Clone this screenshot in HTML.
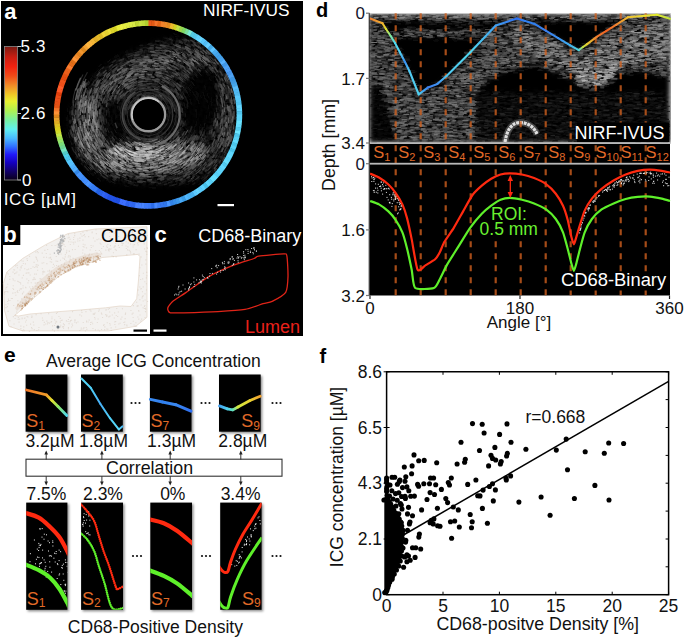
<!DOCTYPE html><html><head><meta charset="utf-8"><style>html,body{margin:0;padding:0;background:#fff;}svg{display:block;}</style></head><body><svg width="685" height="638" viewBox="0 0 685 638"><defs><linearGradient id="cbar" x1="0" y1="0" x2="0" y2="1"><stop offset="0" stop-color="#7a1a12"/><stop offset="0.08" stop-color="#c81e12"/><stop offset="0.15" stop-color="#f02210"/><stop offset="0.22" stop-color="#f04a18"/><stop offset="0.29" stop-color="#f08a28"/><stop offset="0.36" stop-color="#f0c828"/><stop offset="0.41" stop-color="#e8f030"/><stop offset="0.48" stop-color="#b0f050"/><stop offset="0.55" stop-color="#78f0a0"/><stop offset="0.62" stop-color="#60f0f0"/><stop offset="0.69" stop-color="#48b8ff"/><stop offset="0.75" stop-color="#3070ff"/><stop offset="0.81" stop-color="#2018f8"/><stop offset="0.87" stop-color="#1400c0"/><stop offset="0.93" stop-color="#120070"/><stop offset="1" stop-color="#0a0018"/></linearGradient><filter id="spk" x="0" y="0" width="1" height="1">
 <feTurbulence type="fractalNoise" baseFrequency="0.55 0.55" numOctaves="1" seed="3" result="n"/>
 <feColorMatrix in="n" type="matrix" values="0 0 0 0 0  0 0 0 0 0  0 0 0 0 0  4 0 0 0 -1.6" result="na"/>
 <feComposite in="SourceGraphic" in2="na" operator="in"/>
</filter>
<filter id="spkh" x="0" y="0" width="1" height="1">
 <feTurbulence type="fractalNoise" baseFrequency="0.35 0.7" numOctaves="1" seed="5" result="n"/>
 <feColorMatrix in="n" type="matrix" values="0 0 0 0 0  0 0 0 0 0  0 0 0 0 0  4 0 0 0 -1.6" result="na"/>
 <feComposite in="SourceGraphic" in2="na" operator="in"/>
</filter>
<filter id="ivtex" color-interpolation-filters="sRGB" filterUnits="userSpaceOnUse" x="54" y="20" width="190" height="190">
 <feGaussianBlur in="SourceGraphic" stdDeviation="3.5" result="b"/>
 <feTurbulence type="fractalNoise" baseFrequency="0.3" numOctaves="2" seed="3" result="n"/>
 <feColorMatrix in="n" type="matrix" values="2.4 0 0 0 -0.7  2.4 0 0 0 -0.7  2.4 0 0 0 -0.7  0 0 0 0 1" result="ng"/>
 <feComposite in="b" in2="ng" operator="arithmetic" k1="1" k2="0" k3="0" k4="0"/>
</filter>
<filter id="dtex" color-interpolation-filters="sRGB" filterUnits="userSpaceOnUse" x="369" y="13" width="302" height="131">
 <feGaussianBlur in="SourceGraphic" stdDeviation="2.5" result="b"/>
 <feTurbulence type="fractalNoise" baseFrequency="0.18 0.4" numOctaves="2" seed="11" result="n"/>
 <feColorMatrix in="n" type="matrix" values="3 0 0 0 -1  3 0 0 0 -1  3 0 0 0 -1  0 0 0 0 1" result="ng"/>
 <feComposite in="b" in2="ng" operator="arithmetic" k1="1" k2="0" k3="0" k4="0"/>
</filter>
<filter id="sblur" x="-10%" y="-10%" width="120%" height="120%"><feGaussianBlur stdDeviation="0.5"/></filter>
<filter id="blur3"><feGaussianBlur stdDeviation="3"/></filter>
<filter id="blur6"><feGaussianBlur stdDeviation="6"/></filter>
<filter id="shadow" x="-20%" y="-20%" width="140%" height="140%"><feDropShadow dx="1.5" dy="1.5" stdDeviation="1.2" flood-color="#000" flood-opacity="0.45"/></filter>
<clipPath id="dclip"><rect x="369.5" y="13" width="300.5" height="130"/></clipPath>
<clipPath id="ivus"><circle cx="148" cy="114.5" r="88.6"/></clipPath>
</defs><rect x="0" y="0" width="685" height="638" fill="#fff"/><rect x="1" y="1" width="302" height="335" fill="#000"/><g clip-path="url(#ivus)"><g filter="url(#ivtex)"><rect x="40" y="6" width="216" height="216" fill="#000"/><path d="M98.0 74.0 L120.0 59.0 L148.0 46.0 L170.0 40.0 L195.0 38.0 L212.0 46.0 L225.0 60.0 L234.0 82.0 L238.0 115.0 L235.0 150.0 L222.0 170.0 L200.0 179.0 L170.0 183.0 L140.0 183.0 L110.0 179.0 L90.0 169.0 L76.0 152.0 L70.0 128.0 L72.0 110.0 L84.0 92.0Z" fill="#242424"/><path d="M92 90 L118 70 L150 56 L185 50 L212 58 L220 68 L185 66 L160 71 L130 83 L105 100Z" fill="#373737"/><ellipse cx="87" cy="127" rx="11" ry="30" fill="#484848"/><ellipse cx="150" cy="157" rx="58" ry="15" transform="rotate(-4 150 157)" fill="#4e4e4e"/><ellipse cx="140" cy="152" rx="30" ry="8" fill="#5f5f5f"/><ellipse cx="228" cy="108" rx="9" ry="40" fill="#323232"/><ellipse cx="201" cy="101" rx="19" ry="34" transform="rotate(10 201 101)" fill="#040404"/><ellipse cx="116" cy="122" rx="12" ry="21" fill="#080808"/><ellipse cx="153" cy="123" rx="26" ry="17" fill="#0e0e0e"/></g><g filter="url(#sblur)"><path d="M92.1 108.5A60.0 60.0 0 0 1 93.5 99.1" fill="none" stroke="#8e8e8e" stroke-width="1.0" opacity="0.54"/><path d="M77.2 121.5A75.4 75.4 0 0 1 76.6 111.0" fill="none" stroke="#737373" stroke-width="0.8" opacity="0.41"/><path d="M93.8 151.0A70.0 70.0 0 0 1 87.8 139.9" fill="none" stroke="#737373" stroke-width="1.0" opacity="0.31"/><path d="M72.5 103.2A79.9 79.9 0 0 1 75.7 88.2" fill="none" stroke="#9d9d9d" stroke-width="0.8" opacity="0.40"/><path d="M93.8 147.0A67.9 67.9 0 0 1 87.9 134.6" fill="none" stroke="#828282" stroke-width="0.9" opacity="0.55"/><path d="M95.8 94.1A59.0 59.0 0 0 1 98.7 86.8" fill="none" stroke="#969696" stroke-width="1.1" opacity="0.45"/><path d="M102.9 147.4A60.5 60.5 0 0 1 97.1 137.4" fill="none" stroke="#737373" stroke-width="1.4" opacity="0.36"/><path d="M75.7 90.6A79.3 79.3 0 0 1 80.6 77.7" fill="none" stroke="#adadad" stroke-width="1.3" opacity="0.52"/><path d="M93.9 121.6A58.9 58.9 0 0 1 93.1 110.8" fill="none" stroke="#707070" stroke-width="1.5" opacity="0.57"/><path d="M88.7 130.2A65.8 65.8 0 0 1 86.9 121.7" fill="none" stroke="#848484" stroke-width="1.6" opacity="0.42"/><path d="M104.2 142.4A56.6 56.6 0 0 1 99.7 133.8" fill="none" stroke="#c7c7c7" stroke-width="1.2" opacity="0.45"/><path d="M83.3 103.7A69.2 69.2 0 0 1 84.5 96.8" fill="none" stroke="#9c9c9c" stroke-width="1.2" opacity="0.49"/><path d="M98.6 140.1A60.3 60.3 0 0 1 95.7 133.6" fill="none" stroke="#bfbfbf" stroke-width="1.1" opacity="0.48"/><path d="M98.2 145.4A63.4 63.4 0 0 1 95.7 141.0" fill="none" stroke="#b3b3b3" stroke-width="1.4" opacity="0.41"/><path d="M79.7 108.8A72.4 72.4 0 0 1 81.7 94.8" fill="none" stroke="#c3c3c3" stroke-width="1.1" opacity="0.60"/><path d="M73.0 115.5A79.1 79.1 0 0 1 73.8 100.3" fill="none" stroke="#909090" stroke-width="1.1" opacity="0.37"/><path d="M84.2 148.5A77.0 77.0 0 0 1 81.5 143.0" fill="none" stroke="#b2b2b2" stroke-width="1.4" opacity="0.44"/><path d="M89.6 155.5A76.1 76.1 0 0 1 85.3 148.7" fill="none" stroke="#797979" stroke-width="1.1" opacity="0.35"/><path d="M97.1 129.5A57.7 57.7 0 0 1 94.7 118.5" fill="none" stroke="#c6c6c6" stroke-width="1.4" opacity="0.44"/><path d="M93.5 91.3A62.1 62.1 0 0 1 97.1 83.1" fill="none" stroke="#aaaaaa" stroke-width="0.8" opacity="0.36"/><path d="M77.0 99.2A76.1 76.1 0 0 1 80.8 85.0" fill="none" stroke="#9c9c9c" stroke-width="1.1" opacity="0.47"/><path d="M80.0 137.5A76.4 76.4 0 0 1 77.1 126.9" fill="none" stroke="#787878" stroke-width="1.4" opacity="0.30"/><path d="M83.6 88.1A72.4 72.4 0 0 1 85.5 83.2" fill="none" stroke="#9b9b9b" stroke-width="1.3" opacity="0.56"/><path d="M87.3 138.9A70.0 70.0 0 0 1 84.5 130.5" fill="none" stroke="#c3c3c3" stroke-width="1.5" opacity="0.34"/><path d="M102.8 143.2A58.3 58.3 0 0 1 100.6 139.5" fill="none" stroke="#8b8b8b" stroke-width="0.9" opacity="0.56"/><path d="M90.1 148.3A71.7 71.7 0 0 1 85.5 139.0" fill="none" stroke="#7d7d7d" stroke-width="1.2" opacity="0.37"/><path d="M98.5 139.2A60.0 60.0 0 0 1 95.6 132.5" fill="none" stroke="#a8a8a8" stroke-width="1.2" opacity="0.31"/><path d="M81.2 93.8A73.1 73.1 0 0 1 85.6 81.6" fill="none" stroke="#b0b0b0" stroke-width="0.8" opacity="0.44"/><path d="M95.0 104.2A57.5 57.5 0 0 1 96.0 98.8" fill="none" stroke="#a8a8a8" stroke-width="1.0" opacity="0.51"/><path d="M100.3 148.9A63.5 63.5 0 0 1 96.1 142.2" fill="none" stroke="#7c7c7c" stroke-width="1.5" opacity="0.39"/><path d="M84.2 118.0A68.1 68.1 0 0 1 84.4 104.2" fill="none" stroke="#646464" stroke-width="1.3" opacity="0.45"/><path d="M82.8 86.8A73.6 73.6 0 0 1 86.1 79.1" fill="none" stroke="#a6a6a6" stroke-width="1.2" opacity="0.47"/><path d="M95.5 101.1A57.5 57.5 0 0 1 98.9 89.8" fill="none" stroke="#818181" stroke-width="1.1" opacity="0.60"/><path d="M103.1 144.3A58.6 58.6 0 0 1 100.7 140.3" fill="none" stroke="#b3b3b3" stroke-width="1.4" opacity="0.43"/><path d="M95.2 154.5A70.9 70.9 0 0 1 89.2 144.9" fill="none" stroke="#8a8a8a" stroke-width="1.2" opacity="0.42"/><path d="M92.3 139.2A65.6 65.6 0 0 1 90.4 134.5" fill="none" stroke="#898989" stroke-width="1.0" opacity="0.51"/><path d="M76.7 104.9A75.6 75.6 0 0 1 78.3 94.9" fill="none" stroke="#747474" stroke-width="1.1" opacity="0.45"/><path d="M85.0 87.9A71.2 71.2 0 0 1 87.2 82.5" fill="none" stroke="#8e8e8e" stroke-width="1.2" opacity="0.52"/><path d="M75.5 100.2A77.4 77.4 0 0 1 78.3 88.4" fill="none" stroke="#adadad" stroke-width="1.3" opacity="0.56"/><path d="M79.3 108.2A72.8 72.8 0 0 1 80.1 100.7" fill="none" stroke="#bebebe" stroke-width="1.1" opacity="0.48"/><path d="M80.7 86.3A75.8 75.8 0 0 1 87.5 72.1" fill="none" stroke="#5a5a5a" stroke-width="1.1" opacity="0.39"/><path d="M95.0 144.0A65.4 65.4 0 0 1 90.9 135.3" fill="none" stroke="#626262" stroke-width="1.0" opacity="0.58"/><path d="M79.4 125.1A73.8 73.8 0 0 1 78.5 118.9" fill="none" stroke="#c3c3c3" stroke-width="1.4" opacity="0.36"/><path d="M88.0 111.4A64.0 64.0 0 0 1 88.9 100.9" fill="none" stroke="#767676" stroke-width="1.6" opacity="0.40"/><path d="M91.4 98.3A62.1 62.1 0 0 1 92.9 92.9" fill="none" stroke="#a4a4a4" stroke-width="1.0" opacity="0.48"/><path d="M91.6 128.5A62.7 62.7 0 0 1 89.5 116.1" fill="none" stroke="#8d8d8d" stroke-width="1.1" opacity="0.49"/><path d="M96.4 141.0A62.7 62.7 0 0 1 93.2 133.9" fill="none" stroke="#777777" stroke-width="1.0" opacity="0.59"/><path d="M96.1 101.5A56.8 56.8 0 0 1 99.4 90.6" fill="none" stroke="#a7a7a7" stroke-width="0.8" opacity="0.45"/><path d="M95.1 113.5A56.9 56.9 0 0 1 95.6 104.0" fill="none" stroke="#747474" stroke-width="0.8" opacity="0.46"/><path d="M97.1 131.4A58.3 58.3 0 0 1 95.0 123.9" fill="none" stroke="#bcbcbc" stroke-width="1.1" opacity="0.34"/><path d="M78.5 97.3A75.0 75.0 0 0 1 81.3 86.9" fill="none" stroke="#5f5f5f" stroke-width="1.0" opacity="0.42"/><path d="M89.0 140.7A69.2 69.2 0 0 1 84.8 128.8" fill="none" stroke="#b6b6b6" stroke-width="1.5" opacity="0.57"/><path d="M95.7 115.0A56.4 56.4 0 0 1 95.6 110.5" fill="none" stroke="#bcbcbc" stroke-width="1.4" opacity="0.53"/><path d="M102.1 146.2A60.5 60.5 0 0 1 96.7 136.5" fill="none" stroke="#9c9c9c" stroke-width="1.3" opacity="0.44"/><path d="M80.4 134.9A75.2 75.2 0 0 1 78.3 127.1" fill="none" stroke="#808080" stroke-width="1.0" opacity="0.49"/><path d="M87.7 155.0A77.4 77.4 0 0 1 84.5 149.7" fill="none" stroke="#929292" stroke-width="1.3" opacity="0.36"/><path d="M100.5 147.4A62.5 62.5 0 0 1 98.0 143.4" fill="none" stroke="#909090" stroke-width="1.3" opacity="0.50"/><path d="M101.2 143.5A59.8 59.8 0 0 1 95.9 132.8" fill="none" stroke="#959595" stroke-width="1.1" opacity="0.51"/><path d="M79.0 120.3A73.5 73.5 0 0 1 78.6 114.4" fill="none" stroke="#b5b5b5" stroke-width="1.0" opacity="0.31"/><path d="M87.9 118.8A64.5 64.5 0 0 1 87.6 108.7" fill="none" stroke="#6d6d6d" stroke-width="1.4" opacity="0.45"/><path d="M93.7 98.5A59.9 59.9 0 0 1 97.1 88.1" fill="none" stroke="#bdbdbd" stroke-width="1.3" opacity="0.37"/><path d="M80.3 91.2A74.7 74.7 0 0 1 84.0 81.1" fill="none" stroke="#bdbdbd" stroke-width="1.6" opacity="0.42"/><path d="M77.3 87.4A78.6 78.6 0 0 1 83.0 74.4" fill="none" stroke="#5b5b5b" stroke-width="1.1" opacity="0.48"/><path d="M82.0 103.0A70.6 70.6 0 0 1 84.3 91.9" fill="none" stroke="#6b6b6b" stroke-width="1.5" opacity="0.46"/><path d="M82.4 145.3A77.2 77.2 0 0 1 77.0 130.2" fill="none" stroke="#979797" stroke-width="1.4" opacity="0.52"/><path d="M77.9 133.6A77.2 77.2 0 0 1 76.4 127.5" fill="none" stroke="#868686" stroke-width="0.9" opacity="0.46"/><path d="M79.5 133.2A75.6 75.6 0 0 1 77.9 126.7" fill="none" stroke="#5c5c5c" stroke-width="1.1" opacity="0.47"/><path d="M95.4 110.1A56.6 56.6 0 0 1 95.9 104.5" fill="none" stroke="#656565" stroke-width="1.5" opacity="0.46"/><path d="M75.1 121.7A77.5 77.5 0 0 1 74.6 114.9" fill="none" stroke="#747474" stroke-width="1.1" opacity="0.49"/><path d="M78.1 102.8A74.5 74.5 0 0 1 80.5 91.1" fill="none" stroke="#757575" stroke-width="1.1" opacity="0.41"/><path d="M89.2 137.5A67.7 67.7 0 0 1 86.2 128.1" fill="none" stroke="#8c8c8c" stroke-width="0.8" opacity="0.55"/><path d="M83.0 99.6A70.1 70.1 0 0 1 86.2 88.0" fill="none" stroke="#aaaaaa" stroke-width="1.6" opacity="0.41"/><path d="M100.3 152.1A65.4 65.4 0 0 1 94.5 143.2" fill="none" stroke="#999999" stroke-width="1.3" opacity="0.60"/><path d="M96.7 137.1A60.7 60.7 0 0 1 93.2 127.2" fill="none" stroke="#b3b3b3" stroke-width="1.2" opacity="0.32"/><path d="M88.4 99.0A64.9 64.9 0 0 1 90.9 90.3" fill="none" stroke="#8c8c8c" stroke-width="1.1" opacity="0.49"/><path d="M81.8 107.6A70.4 70.4 0 0 1 83.9 94.4" fill="none" stroke="#acacac" stroke-width="1.1" opacity="0.38"/><path d="M78.3 99.6A74.8 74.8 0 0 1 82.2 85.2" fill="none" stroke="#6f6f6f" stroke-width="1.5" opacity="0.57"/><path d="M97.5 131.3A57.9 57.9 0 0 1 95.1 122.5" fill="none" stroke="#6a6a6a" stroke-width="1.5" opacity="0.38"/><path d="M84.1 137.1A72.4 72.4 0 0 1 81.9 130.1" fill="none" stroke="#707070" stroke-width="1.2" opacity="0.51"/><path d="M90.9 108.6A61.2 61.2 0 0 1 91.7 101.5" fill="none" stroke="#a1a1a1" stroke-width="1.1" opacity="0.36"/><path d="M103.1 145.7A59.4 59.4 0 0 1 98.2 137.1" fill="none" stroke="#878787" stroke-width="0.9" opacity="0.56"/><path d="M94.5 154.9A71.7 71.7 0 0 1 88.1 144.5" fill="none" stroke="#9b9b9b" stroke-width="1.2" opacity="0.45"/><path d="M75.8 133.2A79.1 79.1 0 0 1 73.4 120.9" fill="none" stroke="#9f9f9f" stroke-width="1.1" opacity="0.40"/><path d="M77.9 111.8A74.1 74.1 0 0 1 78.6 101.9" fill="none" stroke="#929292" stroke-width="1.0" opacity="0.54"/><path d="M95.5 111.4A56.5 56.5 0 0 1 96.1 103.9" fill="none" stroke="#727272" stroke-width="1.3" opacity="0.47"/><path d="M94.6 120.7A58.1 58.1 0 0 1 94.0 115.3" fill="none" stroke="#b1b1b1" stroke-width="1.1" opacity="0.40"/><path d="M102.0 147.2A61.2 61.2 0 0 1 98.8 142.2" fill="none" stroke="#6a6a6a" stroke-width="1.3" opacity="0.55"/><path d="M99.6 143.8A61.3 61.3 0 0 1 95.6 136.0" fill="none" stroke="#666666" stroke-width="1.1" opacity="0.53"/><path d="M91.3 107.8A60.9 60.9 0 0 1 92.5 99.0" fill="none" stroke="#636363" stroke-width="1.0" opacity="0.48"/><path d="M99.5 137.4A58.3 58.3 0 0 1 96.3 129.2" fill="none" stroke="#b3b3b3" stroke-width="1.2" opacity="0.50"/><path d="M165.9 142.4A34.3 34.3 0 0 1 163.1 143.7" fill="none" stroke="#b4b4b4" stroke-width="1.1" opacity="0.45"/><path d="M150.1 147.0A35.0 35.0 0 0 1 144.5 146.6" fill="none" stroke="#a4a4a4" stroke-width="1.2" opacity="0.30"/><path d="M202.9 144.0A61.8 61.8 0 0 1 196.7 152.5" fill="none" stroke="#a5a5a5" stroke-width="1.3" opacity="0.38"/><path d="M164.8 148.0A38.9 38.9 0 0 1 159.8 149.7" fill="none" stroke="#989898" stroke-width="1.1" opacity="0.45"/><path d="M167.7 142.9A35.6 35.6 0 0 1 165.7 144.0" fill="none" stroke="#737373" stroke-width="1.4" opacity="0.44"/><path d="M167.4 146.3A38.5 38.5 0 0 1 165.1 147.4" fill="none" stroke="#989898" stroke-width="1.1" opacity="0.31"/><path d="M114.8 140.4A45.2 45.2 0 0 1 112.0 136.6" fill="none" stroke="#9b9b9b" stroke-width="1.2" opacity="0.37"/><path d="M166.6 159.9A50.7 50.7 0 0 1 162.8 161.0" fill="none" stroke="#868686" stroke-width="1.0" opacity="0.33"/><path d="M116.5 133.1A39.6 39.6 0 0 1 114.5 129.5" fill="none" stroke="#666666" stroke-width="0.8" opacity="0.30"/><path d="M173.3 167.3A60.1 60.1 0 0 1 165.7 170.0" fill="none" stroke="#696969" stroke-width="1.3" opacity="0.36"/><path d="M146.1 168.0A56.1 56.1 0 0 1 140.6 167.3" fill="none" stroke="#6e6e6e" stroke-width="1.2" opacity="0.46"/><path d="M152.7 166.7A54.7 54.7 0 0 1 147.6 166.7" fill="none" stroke="#b2b2b2" stroke-width="1.4" opacity="0.29"/><path d="M116.5 154.8A54.4 54.4 0 0 1 111.0 149.9" fill="none" stroke="#bababa" stroke-width="1.4" opacity="0.31"/><path d="M176.1 170.3A63.9 63.9 0 0 1 170.2 172.6" fill="none" stroke="#bbbbbb" stroke-width="0.9" opacity="0.35"/><path d="M177.8 156.9A52.8 52.8 0 0 1 173.9 159.1" fill="none" stroke="#a7a7a7" stroke-width="1.2" opacity="0.44"/><path d="M104.5 147.4A57.7 57.7 0 0 1 99.4 139.7" fill="none" stroke="#aaaaaa" stroke-width="1.5" opacity="0.37"/><path d="M148.1 167.0A55.0 55.0 0 0 1 138.8 165.9" fill="none" stroke="#989898" stroke-width="1.1" opacity="0.42"/><path d="M183.7 138.5A42.8 42.8 0 0 1 180.9 141.7" fill="none" stroke="#5f5f5f" stroke-width="0.8" opacity="0.27"/><path d="M121.4 150.1A47.6 47.6 0 0 1 119.3 148.4" fill="none" stroke="#969696" stroke-width="0.9" opacity="0.38"/><path d="M155.6 154.5A42.9 42.9 0 0 1 149.7 154.9" fill="none" stroke="#7d7d7d" stroke-width="1.1" opacity="0.43"/><path d="M163.5 147.0A37.5 37.5 0 0 1 158.6 148.5" fill="none" stroke="#ababab" stroke-width="1.5" opacity="0.31"/><path d="M173.3 159.3A52.8 52.8 0 0 1 166.6 162.1" fill="none" stroke="#adadad" stroke-width="0.9" opacity="0.34"/><path d="M171.9 170.1A62.1 62.1 0 0 1 164.2 172.4" fill="none" stroke="#aaaaaa" stroke-width="1.0" opacity="0.45"/><path d="M163.0 143.5A34.1 34.1 0 0 1 160.6 144.4" fill="none" stroke="#767676" stroke-width="0.9" opacity="0.26"/><path d="M191.6 152.6A58.1 58.1 0 0 1 186.3 157.3" fill="none" stroke="#8c8c8c" stroke-width="1.4" opacity="0.46"/><path d="M188.1 148.3A52.6 52.6 0 0 1 182.4 153.5" fill="none" stroke="#5a5a5a" stroke-width="1.5" opacity="0.33"/><path d="M176.5 144.0A41.6 41.6 0 0 1 173.2 146.5" fill="none" stroke="#a7a7a7" stroke-width="1.4" opacity="0.44"/><path d="M182.7 157.3A55.9 55.9 0 0 1 178.4 160.1" fill="none" stroke="#717171" stroke-width="1.1" opacity="0.47"/><path d="M204.3 145.6A63.9 63.9 0 0 1 197.9 154.3" fill="none" stroke="#b5b5b5" stroke-width="1.1" opacity="0.42"/><path d="M189.9 153.5A57.5 57.5 0 0 1 184.2 158.2" fill="none" stroke="#bbbbbb" stroke-width="1.4" opacity="0.48"/><path d="M131.7 143.6A36.5 36.5 0 0 1 128.3 141.4" fill="none" stroke="#b4b4b4" stroke-width="0.9" opacity="0.39"/><path d="M124.5 139.7A37.6 37.6 0 0 1 120.9 135.8" fill="none" stroke="#535353" stroke-width="1.0" opacity="0.29"/><path d="M133.4 162.4A53.1 53.1 0 0 1 130.4 161.3" fill="none" stroke="#b8b8b8" stroke-width="1.5" opacity="0.36"/><path d="M166.8 160.4A51.2 51.2 0 0 1 160.5 162.1" fill="none" stroke="#7b7b7b" stroke-width="1.1" opacity="0.44"/><path d="M168.7 146.9A39.6 39.6 0 0 1 163.5 149.2" fill="none" stroke="#686868" stroke-width="0.8" opacity="0.48"/><path d="M158.4 149.9A38.8 38.8 0 0 1 154.9 150.5" fill="none" stroke="#6c6c6c" stroke-width="1.0" opacity="0.38"/><path d="M147.0 149.4A37.5 37.5 0 0 1 144.8 149.1" fill="none" stroke="#585858" stroke-width="0.9" opacity="0.31"/><path d="M171.6 150.6A44.2 44.2 0 0 1 165.4 153.5" fill="none" stroke="#989898" stroke-width="1.1" opacity="0.44"/><path d="M173.8 161.1A54.6 54.6 0 0 1 167.3 163.7" fill="none" stroke="#a1a1a1" stroke-width="1.2" opacity="0.44"/><path d="M104.2 138.6A53.0 53.0 0 0 1 102.1 134.6" fill="none" stroke="#999999" stroke-width="1.5" opacity="0.38"/><path d="M201.1 145.5A61.2 61.2 0 0 1 195.9 152.4" fill="none" stroke="#6d6d6d" stroke-width="1.3" opacity="0.36"/><path d="M178.9 152.9A50.1 50.1 0 0 1 175.3 155.2" fill="none" stroke="#afafaf" stroke-width="1.3" opacity="0.41"/><path d="M168.1 144.8A37.5 37.5 0 0 1 162.3 147.4" fill="none" stroke="#666666" stroke-width="1.2" opacity="0.42"/><path d="M143.5 160.9A49.3 49.3 0 0 1 135.3 159.1" fill="none" stroke="#a5a5a5" stroke-width="1.0" opacity="0.36"/><path d="M129.8 154.0A46.6 46.6 0 0 1 124.3 150.9" fill="none" stroke="#6c6c6c" stroke-width="1.3" opacity="0.36"/><path d="M166.8 142.1A34.5 34.5 0 0 1 163.7 143.6" fill="none" stroke="#656565" stroke-width="1.3" opacity="0.50"/><path d="M130.7 170.9A61.9 61.9 0 0 1 121.7 167.1" fill="none" stroke="#868686" stroke-width="1.2" opacity="0.47"/><path d="M161.8 145.8A35.8 35.8 0 0 1 158.5 146.8" fill="none" stroke="#757575" stroke-width="1.1" opacity="0.26"/><path d="M101.2 135.9A54.4 54.4 0 0 1 99.4 131.8" fill="none" stroke="#646464" stroke-width="1.0" opacity="0.45"/><path d="M124.9 144.2A40.8 40.8 0 0 1 122.6 142.3" fill="none" stroke="#919191" stroke-width="1.3" opacity="0.42"/><path d="M117.2 128.1A36.5 36.5 0 0 1 115.1 122.8" fill="none" stroke="#848484" stroke-width="1.4" opacity="0.40"/><path d="M159.7 149.8A39.1 39.1 0 0 1 153.9 150.9" fill="none" stroke="#838383" stroke-width="0.8" opacity="0.29"/><path d="M141.7 150.7A39.6 39.6 0 0 1 136.8 149.3" fill="none" stroke="#818181" stroke-width="1.1" opacity="0.49"/><path d="M131.9 152.4A44.3 44.3 0 0 1 128.9 150.9" fill="none" stroke="#888888" stroke-width="0.9" opacity="0.28"/><path d="M185.6 138.0A44.1 44.1 0 0 1 182.9 141.4" fill="none" stroke="#979797" stroke-width="1.2" opacity="0.45"/><path d="M191.1 137.4A48.3 48.3 0 0 1 187.1 143.0" fill="none" stroke="#7c7c7c" stroke-width="1.3" opacity="0.49"/><path d="M178.5 152.8A49.7 49.7 0 0 1 174.4 155.3" fill="none" stroke="#868686" stroke-width="1.0" opacity="0.28"/><path d="M132.9 154.6A46.0 46.0 0 0 1 126.6 151.6" fill="none" stroke="#a3a3a3" stroke-width="1.4" opacity="0.45"/><path d="M134.0 155.5A46.3 46.3 0 0 1 131.5 154.5" fill="none" stroke="#a7a7a7" stroke-width="1.3" opacity="0.32"/><path d="M175.5 152.9A48.2 48.2 0 0 1 169.1 156.2" fill="none" stroke="#7e7e7e" stroke-width="1.3" opacity="0.48"/><path d="M166.6 166.9A57.3 57.3 0 0 1 161.3 168.2" fill="none" stroke="#b8b8b8" stroke-width="1.4" opacity="0.30"/><path d="M121.0 146.2A44.9 44.9 0 0 1 116.3 141.7" fill="none" stroke="#6f6f6f" stroke-width="1.1" opacity="0.49"/><path d="M169.3 143.3A36.7 36.7 0 0 1 164.9 145.5" fill="none" stroke="#b3b3b3" stroke-width="1.5" opacity="0.37"/><path d="M97.2 135.4A57.7 57.7 0 0 1 95.3 130.4" fill="none" stroke="#696969" stroke-width="1.0" opacity="0.45"/><path d="M145.7 149.9A38.2 38.2 0 0 1 139.4 148.7" fill="none" stroke="#666666" stroke-width="1.2" opacity="0.38"/><path d="M147.9 175.0A63.0 63.0 0 0 1 140.9 174.3" fill="none" stroke="#b3b3b3" stroke-width="1.3" opacity="0.29"/><path d="M164.2 168.4A58.1 58.1 0 0 1 154.4 169.9" fill="none" stroke="#b9b9b9" stroke-width="1.1" opacity="0.35"/><path d="M171.2 146.9A40.8 40.8 0 0 1 168.5 148.4" fill="none" stroke="#626262" stroke-width="1.3" opacity="0.26"/><path d="M137.7 162.5A52.0 52.0 0 0 1 130.7 160.2" fill="none" stroke="#8e8e8e" stroke-width="1.4" opacity="0.32"/><path d="M142.6 148.0A36.8 36.8 0 0 1 139.6 147.3" fill="none" stroke="#bcbcbc" stroke-width="1.4" opacity="0.42"/><path d="M184.5 159.9A59.0 59.0 0 0 1 179.0 163.4" fill="none" stroke="#7a7a7a" stroke-width="1.0" opacity="0.34"/><path d="M132.2 157.0A48.3 48.3 0 0 1 129.8 155.9" fill="none" stroke="#8b8b8b" stroke-width="0.9" opacity="0.49"/><path d="M139.1 161.4A50.6 50.6 0 0 1 134.6 160.2" fill="none" stroke="#9d9d9d" stroke-width="1.3" opacity="0.48"/><path d="M177.4 155.5A51.4 51.4 0 0 1 171.6 158.7" fill="none" stroke="#555555" stroke-width="1.3" opacity="0.33"/><path d="M193.5 146.6A55.6 55.6 0 0 1 188.9 151.7" fill="none" stroke="#626262" stroke-width="0.8" opacity="0.32"/><path d="M166.0 169.3A59.5 59.5 0 0 1 159.2 170.7" fill="none" stroke="#a6a6a6" stroke-width="1.5" opacity="0.31"/><path d="M115.2 154.3A54.8 54.8 0 0 1 109.3 148.7" fill="none" stroke="#767676" stroke-width="1.1" opacity="0.45"/><path d="M151.4 153.5A41.5 41.5 0 0 1 146.1 153.3" fill="none" stroke="#adadad" stroke-width="1.0" opacity="0.42"/><path d="M180.1 139.1A40.5 40.5 0 0 1 176.9 142.3" fill="none" stroke="#979797" stroke-width="1.2" opacity="0.49"/><path d="M147.1 150.8A38.9 38.9 0 0 1 142.8 150.3" fill="none" stroke="#6c6c6c" stroke-width="1.4" opacity="0.29"/><path d="M187.7 130.1A41.8 41.8 0 0 1 185.0 134.9" fill="none" stroke="#989898" stroke-width="1.0" opacity="0.48"/><path d="M185.3 151.6A53.0 53.0 0 0 1 178.3 156.9" fill="none" stroke="#adadad" stroke-width="1.0" opacity="0.47"/><path d="M163.8 147.3A37.9 37.9 0 0 1 160.0 148.6" fill="none" stroke="#b9b9b9" stroke-width="1.0" opacity="0.35"/><path d="M121.7 140.6A40.2 40.2 0 0 1 119.6 138.4" fill="none" stroke="#adadad" stroke-width="1.0" opacity="0.39"/><path d="M182.5 162.8A60.3 60.3 0 0 1 176.4 166.2" fill="none" stroke="#959595" stroke-width="1.2" opacity="0.35"/><path d="M173.4 160.0A53.4 53.4 0 0 1 169.9 161.5" fill="none" stroke="#505050" stroke-width="1.2" opacity="0.39"/><path d="M193.1 150.8A58.0 58.0 0 0 1 187.5 156.2" fill="none" stroke="#818181" stroke-width="1.2" opacity="0.46"/><path d="M157.8 161.0A49.6 49.6 0 0 1 151.3 161.6" fill="none" stroke="#606060" stroke-width="1.4" opacity="0.38"/><path d="M151.6 147.2A35.3 35.3 0 0 1 145.7 147.0" fill="none" stroke="#bbbbbb" stroke-width="1.1" opacity="0.32"/><path d="M181.2 165.7A62.1 62.1 0 0 1 178.2 167.3" fill="none" stroke="#6b6b6b" stroke-width="1.1" opacity="0.42"/><path d="M140.1 75.8A43.3 43.3 0 0 1 145.5 74.9" fill="none" stroke="#646464" stroke-width="0.9" opacity="0.39"/><path d="M159.0 68.1A50.7 50.7 0 0 1 164.1 69.3" fill="none" stroke="#8f8f8f" stroke-width="1.1" opacity="0.45"/><path d="M162.0 61.0A58.3 58.3 0 0 1 167.9 62.5" fill="none" stroke="#7c7c7c" stroke-width="1.0" opacity="0.27"/><path d="M167.9 61.1A59.7 59.7 0 0 1 175.3 63.9" fill="none" stroke="#939393" stroke-width="1.1" opacity="0.45"/><path d="M174.7 72.9A51.5 51.5 0 0 1 177.4 74.5" fill="none" stroke="#686868" stroke-width="1.1" opacity="0.41"/><path d="M164.8 67.7A52.4 52.4 0 0 1 169.3 69.3" fill="none" stroke="#828282" stroke-width="1.3" opacity="0.37"/><path d="M155.7 76.0A42.4 42.4 0 0 1 157.9 76.3" fill="none" stroke="#616161" stroke-width="0.9" opacity="0.40"/><path d="M159.2 73.6A45.4 45.4 0 0 1 161.9 74.2" fill="none" stroke="#585858" stroke-width="1.2" opacity="0.43"/><path d="M153.7 74.7A43.4 43.4 0 0 1 157.8 75.3" fill="none" stroke="#7d7d7d" stroke-width="0.8" opacity="0.25"/><path d="M167.0 77.9A43.6 43.6 0 0 1 171.0 79.8" fill="none" stroke="#7d7d7d" stroke-width="0.9" opacity="0.39"/><path d="M127.4 62.4A60.0 60.0 0 0 1 135.0 59.9" fill="none" stroke="#929292" stroke-width="1.4" opacity="0.36"/><path d="M138.0 64.4A54.9 54.9 0 0 1 145.3 63.3" fill="none" stroke="#616161" stroke-width="1.2" opacity="0.38"/><path d="M167.2 58.7A61.8 61.8 0 0 1 170.9 59.8" fill="none" stroke="#555555" stroke-width="1.0" opacity="0.33"/><path d="M132.5 64.5A56.3 56.3 0 0 1 138.5 62.8" fill="none" stroke="#6e6e6e" stroke-width="1.0" opacity="0.38"/><path d="M174.3 73.5A50.7 50.7 0 0 1 177.2 75.2" fill="none" stroke="#969696" stroke-width="1.2" opacity="0.34"/><path d="M155.3 74.8A43.6 43.6 0 0 1 161.2 75.9" fill="none" stroke="#656565" stroke-width="1.2" opacity="0.36"/><path d="M165.6 77.1A43.8 43.8 0 0 1 169.0 78.5" fill="none" stroke="#717171" stroke-width="1.3" opacity="0.43"/><path d="M138.6 60.0A59.1 59.1 0 0 1 146.9 59.0" fill="none" stroke="#535353" stroke-width="1.1" opacity="0.34"/><path d="M162.3 60.0A59.3 59.3 0 0 1 169.2 61.9" fill="none" stroke="#8e8e8e" stroke-width="1.0" opacity="0.34"/><path d="M140.7 74.9A44.1 44.1 0 0 1 143.9 74.4" fill="none" stroke="#878787" stroke-width="0.9" opacity="0.43"/><path d="M144.4 64.3A54.0 54.0 0 0 1 147.8 64.0" fill="none" stroke="#6e6e6e" stroke-width="1.1" opacity="0.28"/><path d="M137.7 57.7A61.5 61.5 0 0 1 143.6 56.8" fill="none" stroke="#5f5f5f" stroke-width="1.0" opacity="0.31"/><path d="M120.2 67.0A59.1 59.1 0 0 1 124.9 64.5" fill="none" stroke="#7b7b7b" stroke-width="1.1" opacity="0.31"/><path d="M123.4 73.7A51.7 51.7 0 0 1 127.3 71.6" fill="none" stroke="#6d6d6d" stroke-width="1.3" opacity="0.34"/><path d="M156.6 68.1A50.3 50.3 0 0 1 160.6 68.8" fill="none" stroke="#777777" stroke-width="0.9" opacity="0.37"/><path d="M156.9 65.7A52.8 52.8 0 0 1 164.3 67.2" fill="none" stroke="#8d8d8d" stroke-width="1.4" opacity="0.30"/><path d="M143.5 57.3A61.1 61.1 0 0 1 149.1 56.9" fill="none" stroke="#6e6e6e" stroke-width="1.4" opacity="0.44"/><path d="M134.6 62.0A58.1 58.1 0 0 1 138.2 61.1" fill="none" stroke="#585858" stroke-width="1.2" opacity="0.39"/><path d="M125.3 82.4A43.3 43.3 0 0 1 131.2 79.0" fill="none" stroke="#646464" stroke-width="0.8" opacity="0.34"/><path d="M163.6 76.2A44.0 44.0 0 0 1 168.0 77.9" fill="none" stroke="#7d7d7d" stroke-width="1.4" opacity="0.27"/><path d="M162.9 73.5A46.3 46.3 0 0 1 167.9 75.3" fill="none" stroke="#6d6d6d" stroke-width="1.0" opacity="0.37"/><path d="M177.3 63.6A60.9 60.9 0 0 1 185.1 68.2" fill="none" stroke="#9e9e9e" stroke-width="0.9" opacity="0.26"/><path d="M131.0 62.6A58.6 58.6 0 0 1 137.0 60.9" fill="none" stroke="#707070" stroke-width="1.4" opacity="0.34"/><path d="M133.5 76.5A44.7 44.7 0 0 1 139.7 74.5" fill="none" stroke="#8f8f8f" stroke-width="0.9" opacity="0.44"/><path d="M160.5 69.7A49.4 49.4 0 0 1 165.8 71.2" fill="none" stroke="#939393" stroke-width="1.1" opacity="0.26"/><path d="M168.5 68.2A53.2 53.2 0 0 1 173.1 70.1" fill="none" stroke="#909090" stroke-width="1.1" opacity="0.32"/><path d="M133.1 71.8A49.2 49.2 0 0 1 138.0 70.3" fill="none" stroke="#9c9c9c" stroke-width="1.2" opacity="0.40"/><path d="M141.3 73.2A45.6 45.6 0 0 1 146.4 72.6" fill="none" stroke="#686868" stroke-width="0.8" opacity="0.42"/><path d="M156.1 73.8A44.6 44.6 0 0 1 162.8 75.3" fill="none" stroke="#606060" stroke-width="1.0" opacity="0.32"/><path d="M175.4 71.6A52.8 52.8 0 0 1 178.4 73.5" fill="none" stroke="#5c5c5c" stroke-width="1.3" opacity="0.31"/><path d="M161.4 63.8A55.3 55.3 0 0 1 164.2 64.5" fill="none" stroke="#484848" stroke-width="1.3" opacity="0.43"/><path d="M145.5 62.3A55.9 55.9 0 0 1 149.0 62.1" fill="none" stroke="#757575" stroke-width="0.9" opacity="0.31"/><path d="M148.9 75.3A42.7 42.7 0 0 1 153.2 75.4" fill="none" stroke="#5f5f5f" stroke-width="0.9" opacity="0.26"/><path d="M130.8 80.0A42.6 42.6 0 0 1 136.9 77.5" fill="none" stroke="#484848" stroke-width="1.2" opacity="0.34"/><path d="M135.9 66.1A53.8 53.8 0 0 1 144.1 64.6" fill="none" stroke="#8e8e8e" stroke-width="1.0" opacity="0.34"/><path d="M124.6 63.2A60.4 60.4 0 0 1 132.8 60.2" fill="none" stroke="#7d7d7d" stroke-width="1.1" opacity="0.36"/><path d="M123.8 71.0A53.8 53.8 0 0 1 127.6 69.1" fill="none" stroke="#656565" stroke-width="0.9" opacity="0.27"/><path d="M142.5 62.2A56.3 56.3 0 0 1 149.8 61.7" fill="none" stroke="#696969" stroke-width="1.4" opacity="0.30"/><path d="M143.2 66.2A52.2 52.2 0 0 1 150.2 65.8" fill="none" stroke="#515151" stroke-width="1.1" opacity="0.34"/><path d="M131.5 66.8A54.5 54.5 0 0 1 137.2 65.0" fill="none" stroke="#9e9e9e" stroke-width="0.9" opacity="0.44"/><path d="M143.7 57.0A61.3 61.3 0 0 1 147.4 56.7" fill="none" stroke="#727272" stroke-width="1.4" opacity="0.25"/><path d="M165.4 63.1A57.1 57.1 0 0 1 168.9 64.2" fill="none" stroke="#7c7c7c" stroke-width="0.9" opacity="0.27"/><path d="M135.9 67.5A52.4 52.4 0 0 1 142.1 66.2" fill="none" stroke="#757575" stroke-width="0.9" opacity="0.43"/><path d="M162.4 77.7A42.1 42.1 0 0 1 165.7 78.9" fill="none" stroke="#969696" stroke-width="1.2" opacity="0.34"/><path d="M166.4 74.7A46.3 46.3 0 0 1 172.3 77.4" fill="none" stroke="#9c9c9c" stroke-width="1.2" opacity="0.43"/><path d="M158.7 58.7A59.9 59.9 0 0 1 163.8 59.7" fill="none" stroke="#7c7c7c" stroke-width="1.0" opacity="0.41"/><path d="M169.3 68.6A53.1 53.1 0 0 1 176.3 71.9" fill="none" stroke="#898989" stroke-width="0.9" opacity="0.32"/><path d="M140.0 75.4A43.7 43.7 0 0 1 143.0 74.9" fill="none" stroke="#606060" stroke-width="1.3" opacity="0.27"/><path d="M175.4 63.3A60.4 60.4 0 0 1 182.5 67.1" fill="none" stroke="#5b5b5b" stroke-width="1.0" opacity="0.34"/><path d="M173.1 68.8A54.4 54.4 0 0 1 175.8 70.1" fill="none" stroke="#4d4d4d" stroke-width="1.3" opacity="0.25"/></g><g filter="url(#sblur)" fill="none" opacity="0.8" stroke-linecap="round"><path d="M108.5 184.2l-3.9 -2.4M199.8 117.8l-0.3 3.1" stroke="#000000" stroke-width="1"/><path d="M66.6 116.3l-0.0 -3.2M203.1 110.9l0.1 5.5M91.8 176.4l-3.8 -3.7M199.4 125.0l-1.3 5.0M198.7 105.0l0.7 5.1" stroke="#000000" stroke-width="1.4"/><path d="M207.0 93.3l1.5 4.6M174.8 117.0l-0.9 4.7M138.7 185.0l-2.6 -0.4M191.3 81.1l2.4 3.4M210.9 101.5l0.7 3.8M195.6 108.9l0.3 3.2M67.7 112.1l0.2 -4.3M115.2 118.5l-0.2 -3.6M211.1 97.5l1.2 5.3M95.7 72.7l3.3 -3.8M133.8 50.8l2.6 -0.5M131.4 123.9l-1.3 -2.8M188.5 88.9l2.1 3.7M204.2 70.1l2.5 3.3M215.5 94.8l0.6 2.2M195.2 125.0l-1.3 4.7M108.1 117.1l-0.0 -5.1M92.7 175.6l-2.3 -2.2M172.8 117.9l-0.4 2.1M67.1 137.5l-0.9 -3.3M113.6 137.6l-1.8 -3.0M67.3 120.2l-0.2 -5.5M158.2 185.3l-2.3 0.3M205.0 124.2l-0.7 3.6M127.5 131.3l-2.8 -4.3M200.2 127.8l-1.1 3.7M125.1 53.0l2.4 -0.9M197.6 92.1l1.4 3.4M113.4 57.1l4.4 -2.5M196.9 96.6l1.5 4.7M153.6 187.1l-4.1 0.2M187.1 92.3l2.2 4.4M196.8 113.4l-0.1 4.5M90.1 174.8l-2.9 -2.9M122.3 114.2l0.3 -3.8M118.7 107.1l1.6 -4.7M89.9 79.9l2.9 -4.6M200.7 95.7l0.8 2.3M189.6 83.8l2.9 4.4M189.3 85.6l2.1 3.3M129.3 53.6l5.2 -1.4M200.4 124.5l-0.7 3.2M112.4 125.6l-0.6 -2.4M174.9 36.4l2.3 0.8M209.6 112.4l0.0 2.9M208.6 105.7l0.4 3.5" stroke="#0e0e0e" stroke-width="1"/><path d="M203.0 92.6l1.0 2.6M204.2 85.4l1.8 3.8M115.0 136.8l-2.4 -4.1M118.1 139.8l-2.6 -3.5M196.8 121.7l-0.9 4.5M90.6 80.9l1.4 -2.4M149.6 134.0l-4.0 -0.1M125.2 51.6l2.0 -0.7M67.2 120.8l-0.2 -3.4M155.8 187.7l-3.5 0.3M192.9 91.8l1.5 3.2M209.2 77.6l1.8 3.2M195.4 95.8l1.3 3.6M190.0 99.3l1.5 5.2M88.3 170.7l-1.8 -2.0M121.9 136.0l-1.5 -1.9M110.6 182.4l-4.4 -2.6M200.6 183.1l-1.8 1.4M205.8 72.3l1.9 2.7M212.1 118.2l-0.4 4.4M206.9 100.0l0.6 2.8M183.8 118.3l-0.7 4.4M116.1 117.9l-0.2 -2.9M206.5 115.8l-0.1 2.8M196.3 109.9l0.2 2.1M214.1 86.0l1.3 3.3M173.3 33.6l2.9 0.9M198.1 100.3l0.9 3.4M112.2 122.3l-0.7 -4.8M99.1 66.6l2.2 -2.2M208.2 73.3l1.1 1.7M153.6 135.3l-2.6 0.5M109.6 63.4l4.1 -2.8M189.0 183.5l-2.0 1.2M93.3 175.0l-1.5 -1.4M204.0 95.2l1.2 3.8M126.6 128.9l-1.5 -2.5M196.0 91.6l2.0 4.8M165.6 37.7l4.7 1.2M114.7 57.8l3.7 -2.0M128.1 186.7l-3.3 -1.0M100.6 180.9l-3.0 -2.3M115.1 60.5l4.7 -2.6" stroke="#0e0e0e" stroke-width="1.4"/><path d="M219.6 94.6l0.6 2.2M204.3 177.3l-2.2 1.9M208.6 169.4l-2.8 3.0M129.8 53.9l5.2 -1.4M217.4 90.1l1.0 3.1M109.1 116.5l0.1 -5.0M204.4 178.8l-2.2 1.9M188.3 87.1l2.1 3.3M214.6 155.7l-1.1 1.7M194.8 74.5l2.4 3.0M99.3 104.2l0.7 -2.8M77.0 158.7l-1.1 -1.9M119.7 67.1l3.4 -1.9M216.6 86.7l1.5 4.0M89.2 168.5l-2.7 -3.1M128.5 58.5l3.3 -1.1M182.3 91.6l1.8 2.9M143.3 86.9l3.1 -0.4M96.0 80.3l1.3 -1.9M183.9 102.8l1.2 4.8M195.4 131.9l-0.9 2.4M107.4 62.1l2.9 -2.1M116.6 60.8l3.0 -1.7M163.7 37.8l5.1 1.2M130.0 87.9l1.8 -1.1M173.5 72.1l2.6 1.6M135.9 182.5l-2.5 -0.5M185.6 113.5l-0.0 3.0M186.9 106.0l0.5 2.4M199.9 130.6l-0.8 2.4M115.2 183.5l-4.3 -2.2M124.0 139.1l-2.0 -2.1M158.6 182.3l-5.3 0.6M126.3 139.3l-3.5 -3.6M183.1 183.0l-4.0 1.9M186.1 90.1l1.1 1.8M125.0 132.6l-2.6 -3.9M112.4 141.9l-2.7 -4.0M101.5 73.2l1.6 -1.7M152.2 183.9l-2.5 0.1M204.7 129.4l-1.5 5.0M204.8 123.2l-0.4 2.0M137.1 89.7l3.9 -1.4M109.2 125.6l-0.7 -2.8M151.6 132.4l-3.4 0.3M168.6 84.1l3.2 2.4M71.9 144.7l-1.4 -3.7M220.5 145.7l-1.3 2.8M186.1 180.6l-4.8 2.5M184.7 76.0l2.2 2.2M129.2 125.8l-1.0 -1.9M153.9 183.8l-2.6 0.2M106.3 71.1l3.3 -2.9M89.7 93.3l1.6 -4.0M177.0 120.6l-1.1 4.0M71.2 108.9l0.2 -2.2M136.7 134.7l-2.7 -1.8M72.2 106.6l0.7 -5.3M191.5 81.7l2.7 3.9M180.0 116.4l-0.3 2.8M86.6 92.7l2.0 -5.0M128.1 127.5l-2.2 -4.3M134.6 126.5l-1.9 -2.6M179.1 111.6l0.1 4.7M129.5 104.5l1.7 -2.7M190.0 132.2l-1.0 2.1M132.2 130.9l-3.0 -3.7M114.6 70.0l3.6 -2.5M191.9 77.2l2.3 2.9M172.6 70.8l4.5 2.8M134.7 184.6l-5.1 -1.2M209.8 71.7l1.5 2.2M168.5 183.5l-2.2 0.6M133.0 125.0l-1.7 -3.2" stroke="#1c1c1c" stroke-width="1"/><path d="M181.1 129.3l-1.6 3.2M151.6 45.3l2.0 0.1M163.2 97.6l2.6 2.7M194.8 130.3l-1.9 4.7M108.0 112.0l0.4 -3.6M79.6 159.3l-1.5 -2.4M166.2 124.2l-2.9 4.1M113.7 135.9l-2.3 -4.2M195.1 182.9l-2.2 1.5M198.2 135.6l-1.7 3.6M192.1 179.9l-2.3 1.5M131.6 183.9l-3.5 -0.9M184.1 182.8l-4.8 2.3M140.5 132.2l-3.8 -2.2M140.7 180.4l-4.9 -0.8M155.3 132.0l-4.9 1.2M130.4 93.8l2.4 -1.9M167.8 88.1l2.9 2.4M162.9 42.2l4.8 1.2M216.3 144.2l-1.8 3.8M175.6 115.2l-0.6 4.9M157.9 44.9l2.7 0.4M132.4 135.1l-2.3 -2.0M186.3 174.3l-4.0 2.4M123.3 104.2l1.3 -2.7M138.3 134.6l-4.4 -2.9M164.4 105.2l1.8 4.3M116.8 138.8l-1.7 -2.3M212.6 131.5l-0.6 2.2M147.7 44.5l2.1 0.0M153.5 44.1l3.8 0.4M104.1 135.7l-1.9 -4.7M187.2 104.5l0.5 2.0M198.2 44.1l2.1 1.6M158.6 40.7l4.5 0.8M117.5 108.0l0.5 -2.1M167.1 70.1l3.7 1.8M179.2 118.1l-0.4 2.3M129.9 55.0l2.9 -0.8M126.2 54.6l4.4 -1.4M203.3 177.1l-2.0 1.7M174.3 184.3l-4.8 1.6M73.6 110.5l0.3 -3.7M113.4 103.6l1.1 -3.0M165.2 97.6l2.8 3.3M161.9 131.7l-3.4 2.2M137.6 185.8l-4.0 -0.7M214.6 86.1l1.5 3.7M79.2 100.7l0.9 -3.8M133.7 182.9l-5.3 -1.3M185.4 89.7l2.0 3.3M100.2 76.0l3.3 -3.8M180.6 127.2l-0.9 2.1M83.1 162.5l-1.6 -2.3M106.8 135.5l-2.2 -5.0M187.1 100.9l0.8 2.7M167.8 116.4l-0.6 3.1M105.1 133.7l-1.5 -3.8M119.2 110.0l0.7 -3.3M189.0 44.1l3.2 1.9M169.3 38.1l2.4 0.7M203.0 127.5l-0.7 2.7M217.9 86.7l1.4 3.8M169.6 108.0l0.9 5.3M126.3 95.8l2.3 -2.4M132.7 96.6l4.2 -2.9M158.3 40.7l3.3 0.5M165.4 132.4l-2.5 2.1M185.1 71.3l2.6 2.4M116.6 61.9l4.0 -2.2M191.6 127.2l-1.6 4.7M83.4 162.4l-3.0 -4.4M166.1 181.4l-3.6 0.9M165.7 130.9l-3.8 3.3M139.9 130.7l-4.2 -3.0M153.5 89.6l3.0 0.8M206.9 178.8l-3.0 2.6M82.4 164.8l-1.2 -1.6M110.3 139.0l-1.4 -2.2M216.9 95.9l0.7 2.9M140.0 45.5l2.8 -0.3M219.6 68.6l2.1 3.5M193.2 71.1l3.6 4.1M143.6 47.8l3.0 -0.1M185.3 96.5l1.8 4.4M215.0 119.7l-0.2 2.0M136.1 89.7l2.1 -0.9M171.9 179.4l-4.3 1.4M180.8 92.4l1.9 3.1M209.4 167.2l-1.7 1.9M178.3 177.4l-2.8 1.3M162.9 127.4l-4.1 3.5" stroke="#1c1c1c" stroke-width="1.4"/><path d="M182.8 92.9l2.3 4.2M172.7 133.6l-3.7 4.0M173.8 80.9l2.6 2.2M170.9 72.8l4.0 2.4M157.0 64.1l4.7 1.0M225.5 93.1l1.0 4.2M228.8 121.0l-0.2 2.0M106.5 115.1l0.2 -4.8M88.5 84.7l1.3 -2.5M113.4 140.9l-1.7 -2.5M185.5 120.9l-1.0 4.2M183.0 57.3l2.8 1.8M185.1 52.4l3.3 2.1M223.9 142.3l-1.0 2.7M203.0 143.5l-1.8 3.1M153.4 50.5l2.0 0.2M220.3 153.8l-2.3 3.9M232.7 106.0l0.2 2.6M110.9 176.4l-2.8 -1.8M175.0 73.3l3.8 2.8M75.3 106.1l0.6 -4.0M108.0 179.4l-2.2 -1.4M181.1 120.5l-1.3 4.8M136.6 53.5l5.4 -0.8M228.3 143.4l-1.9 4.8M213.9 154.1l-1.4 2.2M165.8 138.1l-2.5 1.7M175.4 109.0l0.5 3.4M159.2 83.3l2.9 1.2M169.4 81.7l4.1 3.0M196.8 51.3l1.9 1.5M135.6 64.3l3.1 -0.7M167.8 73.3l4.8 2.6M89.6 160.3l-1.7 -2.3M130.0 110.8l1.7 -4.8M145.4 61.6l5.0 -0.0M172.7 93.7l2.3 3.1M230.0 129.7l-1.2 5.3M95.7 173.8l-1.6 -1.5M115.2 141.7l-2.7 -3.7M114.5 100.7l2.2 -4.4M75.5 105.5l0.6 -4.0M97.9 140.7l-1.5 -3.1M202.0 163.1l-2.1 2.2M98.6 71.8l2.6 -2.9M198.0 71.5l3.1 3.9M216.3 108.0l0.2 3.6M223.2 154.0l-2.3 4.1M103.8 177.4l-3.5 -2.6M171.9 181.6l-3.6 1.2M211.3 170.5l-3.1 3.3M183.8 51.1l2.3 1.4M69.7 137.5l-1.2 -4.8M167.7 81.6l3.0 2.0M103.7 123.1l-0.5 -2.9M130.6 86.3l4.7 -2.5M231.3 129.9l-1.1 5.2M108.9 132.4l-1.6 -3.9M193.2 56.2l3.3 2.7M150.9 79.4l2.5 0.3M194.2 180.1l-2.0 1.4M183.8 69.2l2.7 2.3M161.1 82.6l2.3 1.0M158.1 97.4l2.1 1.4M215.0 160.0l-3.0 4.1M105.1 103.1l1.3 -4.1M158.1 134.4l-2.2 0.9M162.7 55.9l4.2 1.2M176.9 65.1l3.7 2.3M181.6 121.3l-1.1 4.0M148.5 43.9l3.7 0.1M189.5 172.5l-2.1 1.4M123.0 98.9l2.6 -3.5M205.0 130.7l-1.2 3.7M128.3 54.7l4.0 -1.2M145.4 84.5l4.1 -0.1M145.9 58.5l3.6 -0.0M221.8 106.7l0.3 4.1M78.2 142.8l-1.4 -3.9M210.2 159.6l-1.4 1.9M168.5 80.5l1.8 1.1M163.4 84.1l1.9 1.0M166.8 73.9l3.2 1.6M219.0 116.6l-0.2 3.1M200.9 168.9l-2.7 2.5M173.1 104.4l1.3 4.2M141.5 55.6l3.7 -0.3M222.6 82.9l1.0 2.4M215.2 76.3l2.5 4.9M127.6 130.8l-1.4 -1.9M228.4 91.5l0.7 2.4M115.0 100.5l2.2 -4.4M212.6 162.1l-2.8 3.6M82.3 96.1l1.1 -3.4M95.7 85.0l1.4 -2.3M201.1 130.0l-1.2 3.5M76.2 109.9l0.3 -3.0M182.7 182.2l-3.0 1.4M176.6 184.0l-4.5 1.7M232.8 136.6l-0.7 2.5M181.8 59.8l2.7 1.8M195.1 167.9l-2.7 2.2M229.2 108.0l0.2 2.6M83.2 99.4l0.9 -3.3M143.4 140.6l-5.3 -1.6M169.2 56.3l3.6 1.4M218.0 82.9l1.7 4.1M212.6 163.4l-3.5 4.3M173.5 175.6l-3.6 1.4M234.5 106.3l0.3 4.9M221.2 85.3l1.9 5.1M76.5 152.2l-1.4 -2.7M190.9 70.8l1.5 1.5M215.4 155.4l-1.6 2.5M176.4 105.9l1.1 4.8M225.7 140.1l-1.2 3.4M202.5 59.6l3.7 4.0M216.3 98.5l1.0 5.2M69.9 114.1l0.1 -2.5M120.9 97.0l3.2 -4.3M214.6 112.8l-0.0 4.5M225.0 156.0l-1.7 3.1M118.0 98.4l1.3 -2.3M181.3 96.9l1.1 2.3M222.1 99.7l0.7 4.3M221.9 88.5l1.3 3.9M114.2 142.5l-1.7 -2.3M139.3 89.4l4.2 -1.1M220.6 129.0l-1.1 4.8M131.5 94.8l4.2 -2.9M164.2 104.3l2.3 5.0M226.4 133.0l-0.8 3.0M216.9 100.7l0.8 4.8M152.1 95.9l4.0 1.3M106.5 75.9l2.3 -2.4M107.8 71.8l4.1 -3.5M198.9 176.9l-3.3 2.5M154.3 91.6l4.2 1.5M102.2 126.1l-1.0 -5.2M105.0 177.4l-1.7 -1.2M104.1 124.1l-0.5 -2.7M130.9 55.5l2.5 -0.7M221.5 118.2l-0.2 3.2M145.6 86.3l3.8 -0.1" stroke="#2a2a2a" stroke-width="1"/><path d="M171.8 79.5l3.6 2.7M148.7 76.8l5.2 0.4M182.0 178.4l-4.4 2.2M183.7 175.4l-4.5 2.4M106.5 121.9l-0.4 -2.7M225.6 148.8l-1.3 2.7M74.2 152.0l-2.1 -4.4M163.5 60.8l2.8 0.9M185.3 179.2l-4.1 2.2M167.2 114.3l-0.1 2.4M225.0 73.9l1.4 2.7M173.2 74.9l4.3 3.1M150.9 180.8l-3.4 0.0M215.3 125.1l-0.6 3.3M182.6 173.1l-3.0 1.7M91.8 97.4l1.3 -3.7M162.8 136.4l-3.1 1.8M185.3 180.0l-2.9 1.6M138.6 80.7l4.2 -0.9M98.1 145.1l-2.5 -4.5M107.7 84.4l2.8 -3.4M192.9 56.2l3.6 2.9M186.2 48.6l3.7 2.3M162.6 95.4l2.3 2.0M196.3 173.3l-3.7 2.8M159.1 56.3l3.0 0.6M145.9 178.6l-5.0 -0.4M131.2 140.1l-4.3 -3.4M123.8 101.3l1.1 -1.9M173.4 95.2l1.6 2.3M217.8 125.6l-0.7 3.6M106.7 123.0l-0.6 -3.7M97.3 77.6l3.0 -3.8M118.0 96.8l2.2 -3.4M222.8 108.0l0.2 2.7M113.9 177.2l-3.7 -2.2M171.5 81.4l2.4 1.8M194.6 48.4l3.9 2.9M89.1 99.4l0.9 -3.2M215.3 85.5l1.5 3.7M163.2 98.7l2.0 2.2M195.3 167.0l-3.8 3.2M184.6 135.1l-1.6 2.6M167.4 45.8l4.6 1.4M190.5 64.3l2.3 2.1M119.2 63.8l1.8 -1.0M207.9 175.6l-3.3 3.1M215.3 84.0l1.4 3.3M121.5 60.5l1.9 -0.9M164.7 49.5l4.8 1.4M222.5 140.8l-0.8 2.1M220.0 133.8l-0.6 2.0M166.6 183.9l-2.4 0.6M161.6 63.4l2.3 0.7M103.2 141.8l-2.3 -4.2M70.9 134.1l-0.8 -3.4M155.8 47.1l4.1 0.6M182.8 172.7l-3.5 1.9M135.6 53.1l3.4 -0.6M114.9 180.8l-2.0 -1.1M97.3 151.6l-2.0 -2.9M155.6 41.0l3.2 0.4M178.6 95.3l2.3 4.1M162.8 70.0l4.4 1.7M152.7 177.0l-5.2 0.1M213.9 62.3l2.7 3.5M160.6 183.2l-2.2 0.4M219.7 89.0l1.2 3.7M117.1 67.0l1.8 -1.2M211.8 63.6l2.1 2.8M191.8 126.8l-1.5 4.5M148.5 59.6l2.7 0.1M112.9 71.1l4.3 -3.1M156.8 79.1l3.1 0.9M186.9 69.6l1.6 1.4M182.8 121.1l-0.5 2.2M207.2 166.1l-2.3 2.6M147.1 77.9l3.1 0.0M159.8 175.4l-4.2 0.6M130.4 106.5l1.9 -3.3M129.4 97.7l2.2 -2.2M177.5 180.5l-2.0 0.8M152.8 52.0l5.2 0.6M131.7 65.3l4.6 -1.3M216.7 95.7l0.7 2.6M170.9 61.0l3.0 1.4M153.0 62.5l2.8 0.3M129.4 82.4l3.1 -1.6M112.3 62.4l3.2 -2.1M170.4 99.1l2.2 3.7M200.4 54.4l2.3 2.1M204.4 131.8l-1.4 4.1M233.0 130.6l-0.9 4.0M95.6 80.5l1.7 -2.5M103.5 173.0l-4.1 -3.4M86.8 84.9l1.9 -3.7M127.4 108.3l0.8 -2.3M199.4 165.1l-3.5 3.3M158.2 91.8l3.7 2.0M170.3 92.1l2.1 2.3M101.0 152.2l-2.6 -3.4M135.8 82.8l2.1 -0.7M165.8 58.0l4.9 1.8M145.6 81.2l5.5 -0.0M102.2 68.6l1.6 -1.6M186.4 136.5l-2.4 3.7M223.1 147.4l-1.0 2.2M121.6 98.6l3.2 -4.5M88.3 170.3l-3.6 -4.1M101.1 143.0l-2.3 -4.2M115.8 179.0l-2.8 -1.5M167.9 46.3l4.7 1.5M104.6 92.8l2.6 -4.6M164.0 88.8l3.7 2.7M177.2 96.0l1.5 2.6M100.3 75.6l1.5 -1.8M212.3 143.6l-1.8 3.7M200.5 163.5l-3.5 3.5M219.2 114.2l-0.1 3.6M134.7 64.3l2.1 -0.5M122.9 63.7l2.4 -1.1M167.9 88.6l1.8 1.4M91.2 162.6l-2.2 -2.7M170.6 102.2l2.0 4.6M223.8 118.8l-0.3 3.2M125.7 112.3l0.3 -2.2M70.1 123.3l-0.2 -2.5M87.2 157.9l-1.2 -1.7M163.1 79.8l3.1 1.5M220.8 105.7l0.4 4.3M97.5 108.0l0.4 -2.6M185.5 77.4l2.0 2.1M209.7 158.7l-3.1 4.0M105.3 178.0l-2.4 -1.7M221.7 110.3l0.1 5.1M213.2 132.5l-1.4 4.5M98.2 92.6l1.5 -3.2M216.1 83.7l1.2 2.8M197.1 135.5l-2.1 4.4M203.6 169.8l-3.7 3.4M158.1 91.9l3.1 1.6M234.3 130.3l-1.2 5.3M178.5 137.4l-1.6 2.0M186.1 174.9l-3.2 1.9M110.3 147.3l-1.9 -2.4M193.1 178.5l-4.6 3.0M225.7 88.1l1.4 4.5" stroke="#2a2a2a" stroke-width="1.4"/><path d="M156.8 176.1l-5.0 0.5M175.5 178.4l-2.2 0.9M225.2 97.6l0.6 2.9M151.7 138.8l-4.5 0.2M204.5 160.1l-2.0 2.4M147.3 84.1l2.6 0.0M224.0 117.8l-0.2 3.1M198.8 163.8l-3.5 3.3M196.8 156.7l-2.1 2.3M83.9 153.8l-1.7 -3.0M230.4 132.1l-0.5 2.3M230.0 121.4l-0.5 4.5M173.3 61.4l2.8 1.4M103.7 133.1l-1.7 -4.6M186.1 176.3l-4.6 2.6M97.4 159.0l-2.9 -3.6M181.6 120.9l-1.1 4.3M128.7 180.7l-4.0 -1.3M180.3 115.8l-0.4 3.6M146.7 79.7l2.2 -0.0M89.5 165.3l-3.4 -4.2M196.3 57.5l4.0 3.6M182.6 143.1l-1.9 2.2M151.3 86.0l5.2 1.0M182.5 109.1l0.3 2.8M169.0 39.1l3.6 1.1M189.3 67.6l1.6 1.4M187.5 56.0l1.7 1.2M81.1 148.5l-1.7 -3.5M83.8 93.1l0.7 -2.1M184.4 131.5l-2.3 4.3M100.0 80.4l1.3 -1.8M201.1 167.0l-4.0 3.7M157.9 86.3l2.4 0.9M153.2 181.1l-3.5 0.2M72.4 137.2l-0.9 -3.3M102.5 124.5l-0.5 -2.4M182.7 138.0l-2.3 3.0M152.1 139.2l-2.7 0.3M112.0 73.8l2.5 -2.1M109.7 85.4l3.5 -4.2M116.3 180.1l-2.3 -1.2M127.8 57.0l3.7 -1.2M94.2 154.0l-2.5 -3.6M172.7 69.5l2.4 1.4M214.6 72.2l2.1 3.5M129.9 73.7l3.9 -1.5M191.8 135.0l-2.1 3.9M146.1 92.7l3.0 -0.1M216.8 79.3l1.1 2.2M215.2 151.2l-2.2 3.8M81.3 103.0l0.8 -3.8M179.7 56.0l3.5 2.0M180.1 177.3l-4.0 1.9M202.1 160.2l-1.9 2.1M176.1 106.3l0.8 3.8M135.4 52.4l3.4 -0.6M147.0 48.2l4.4 0.1M105.6 145.9l-1.2 -1.8M90.8 169.8l-2.3 -2.5M169.3 83.7l4.0 3.1M184.8 43.9l3.2 1.7M113.0 70.0l3.0 -2.2M114.5 99.9l1.3 -2.7M143.8 56.6l5.0 -0.2M147.6 171.1l-4.1 -0.2M227.8 122.4l-0.6 4.7M191.6 136.8l-1.3 2.4M85.0 124.0l-0.4 -3.1M222.1 148.4l-2.2 4.5M196.7 134.8l-1.7 3.8M137.9 51.4l4.7 -0.6M133.9 57.6l3.4 -0.7M186.5 72.4l2.4 2.3M184.7 139.3l-1.5 2.0M159.4 55.9l2.5 0.5M129.5 132.3l-1.4 -1.6M181.7 77.0l3.8 3.7M103.7 132.0l-0.7 -1.9M148.0 70.2l4.8 0.2M174.4 49.2l2.1 0.9M100.5 173.4l-3.7 -3.2M143.8 81.4l3.9 -0.3M127.6 70.2l3.3 -1.4M106.1 170.8l-1.7 -1.4M79.9 147.3l-1.8 -4.2M139.9 49.4l2.3 -0.3M153.5 140.5l-3.8 0.5M230.4 131.0l-0.9 3.9M113.0 87.5l2.6 -3.1M116.8 71.9l3.5 -2.4M112.7 89.2l2.4 -3.1M234.2 112.1l0.0 3.9M74.8 140.2l-1.2 -3.6M113.3 93.8l1.3 -2.1M168.7 97.3l2.3 3.2M100.5 168.7l-2.3 -2.1M79.6 148.1l-1.5 -3.3M180.0 94.2l1.3 2.1M104.4 87.0l1.6 -2.4M231.9 123.1l-0.7 5.2M162.5 47.3l4.7 1.2M191.8 171.1l-3.9 2.8M183.8 122.6l-1.2 4.3M182.1 108.3l0.5 4.5M225.1 141.1l-1.3 3.5M172.9 177.8l-5.1 1.8M150.1 47.4l3.3 0.2M165.8 62.1l2.7 1.0M149.8 136.3l-2.1 0.0M118.1 100.0l1.7 -3.1M96.4 83.0l1.6 -2.5M183.8 143.6l-3.0 3.3M117.3 75.2l4.5 -3.1M97.3 74.8l2.2 -2.7M106.6 174.0l-4.0 -3.0M181.1 84.7l2.6 3.1M177.4 59.2l4.4 2.5M93.6 133.5l-0.9 -2.9M189.7 171.5l-3.7 2.5M156.9 80.4l2.1 0.6M124.4 80.5l1.9 -1.3M229.2 112.8l-0.0 4.0M156.8 95.0l3.3 1.8M187.0 53.1l2.4 1.6M116.5 81.5l3.0 -2.6M227.2 134.9l-1.0 3.5M106.6 102.9l0.6 -2.1M80.4 97.4l1.0 -3.6M105.7 152.4l-2.6 -3.2M135.6 69.3l5.3 -1.2M161.0 175.8l-3.0 0.5M118.3 99.6l2.5 -4.2M156.2 79.8l3.5 1.0M193.4 172.5l-2.7 2.0M127.8 84.2l2.3 -1.4M163.2 171.5l-5.2 1.1M118.9 101.4l1.6 -3.1M227.8 119.3l-0.2 3.0M233.8 98.4l0.7 4.6M161.6 93.0l3.5 2.6M159.2 173.5l-3.3 0.5M105.5 178.0l-4.1 -2.9M106.3 171.1l-2.7 -2.1M204.1 155.9l-1.3 1.7M139.5 84.7l2.3 -0.6M205.8 70.8l1.4 1.8M181.1 127.6l-1.3 2.8M136.5 87.4l4.1 -1.4M72.1 137.0l-0.8 -2.9M139.4 74.7l5.3 -0.8M134.1 91.2l3.6 -1.8M93.7 143.0l-2.0 -4.2M106.8 97.6l0.8 -1.9M104.3 130.1l-1.3 -4.3M179.3 40.8l3.2 1.4M74.2 134.8l-0.6 -2.2M209.7 64.4l3.0 3.9M226.3 138.0l-1.5 4.4M182.8 80.5l1.4 1.5M133.5 173.4l-5.0 -1.5M208.3 146.5l-1.9 3.3M121.1 96.5l2.6 -3.4M162.2 62.5l4.9 1.6M210.5 53.2l2.0 2.1M225.9 152.1l-1.8 3.4M154.0 52.8l4.6 0.6M215.7 148.7l-1.1 2.0M209.7 52.4l2.4 2.5M100.9 115.7l0.0 -3.2M159.2 61.8l3.7 0.9M145.3 177.0l-3.2 -0.2M82.5 149.5l-1.5 -2.9M134.4 76.9l4.4 -1.3M221.3 78.0l1.9 4.1M133.4 99.0l3.1 -2.5M158.5 65.6l4.6 1.2M96.7 148.8l-1.2 -1.8M185.9 72.7l2.6 2.5M131.2 181.6l-2.1 -0.6M190.7 171.2l-1.7 1.3M92.0 84.9l2.4 -4.1M175.4 91.5l1.4 1.7M202.2 144.5l-2.3 3.8M192.6 136.0l-1.5 2.8M205.5 57.3l1.8 1.9M133.5 77.7l2.0 -0.7M146.9 54.8l4.8 0.1M182.5 39.5l3.8 1.9M163.6 94.2l3.1 2.7M187.1 171.2l-3.7 2.4M131.0 55.6l5.2 -1.3M172.0 84.3l2.0 1.7M163.3 63.9l2.4 0.8M204.7 138.1l-1.4 3.1M199.1 176.8l-3.6 2.8M219.7 81.6l1.9 4.4M164.1 47.1l5.0 1.4M93.8 98.4l1.7 -5.0M159.9 64.1l2.1 0.5M201.2 64.5l2.1 2.4M136.5 179.2l-2.3 -0.5" stroke="#383838" stroke-width="1"/><path d="M198.1 52.3l2.8 2.3M205.4 54.5l3.6 3.6M80.4 125.7l-0.6 -4.7M212.1 159.7l-3.1 4.0M206.8 169.8l-1.6 1.7M224.2 125.7l-0.4 2.4M129.6 90.0l4.2 -2.7M121.1 144.1l-1.7 -1.6M175.4 84.4l2.9 2.9M102.4 120.7l-0.4 -5.3M85.8 151.4l-1.1 -1.9M178.6 110.7l0.2 4.4M172.2 133.4l-3.2 3.5M77.5 112.8l0.1 -2.6M154.7 74.1l4.1 0.9M133.9 101.3l2.2 -2.1M82.4 160.7l-1.3 -2.0M179.6 103.3l1.4 5.1M174.8 91.3l3.2 4.3M159.0 169.7l-4.5 0.7M174.3 140.6l-3.6 3.1M106.3 131.2l-0.9 -2.4M142.0 182.5l-4.3 -0.5M98.4 162.2l-2.9 -3.2M161.7 81.6l2.5 1.2M131.1 134.8l-2.3 -2.2M225.0 111.1l0.1 3.7M72.7 136.5l-0.7 -2.6M89.9 163.4l-3.3 -4.2M86.7 160.2l-2.3 -3.2M194.3 67.0l3.6 3.7M202.7 61.1l3.6 3.9M122.5 87.1l2.6 -2.2M164.1 96.7l3.0 3.3M108.4 81.8l2.6 -2.9M230.1 99.3l0.5 3.2M211.3 156.5l-2.7 3.8M99.5 139.9l-1.4 -2.9M151.5 68.5l4.6 0.6M100.7 112.7l0.5 -5.2M218.3 75.9l2.1 4.0M121.0 67.1l4.0 -2.1M222.5 95.5l1.1 5.0M210.1 130.5l-1.0 3.4M225.7 124.6l-0.8 5.1M168.4 61.6l2.4 1.0M102.2 92.6l1.9 -3.6M210.1 56.4l3.3 3.7M150.8 45.7l2.4 0.1M133.0 174.2l-2.5 -0.7M77.6 156.9l-2.5 -4.5M92.9 133.2l-1.3 -4.6M228.2 143.2l-1.6 4.2M201.7 131.7l-1.3 3.6M71.6 135.1l-0.7 -2.7M228.2 127.7l-0.7 3.8M202.9 138.6l-2.4 4.8M132.9 84.6l4.2 -1.8M229.3 88.0l1.4 4.8M105.0 143.2l-2.4 -4.1M100.0 105.8l0.4 -2.0M138.1 85.1l1.9 -0.6M152.4 70.0l4.6 0.7M210.3 68.6l2.5 3.6M225.4 124.1l-0.8 5.1M76.0 145.2l-1.7 -4.4M188.4 59.5l4.0 3.2M132.8 68.3l2.2 -0.7M180.6 107.0l0.7 4.7M151.0 95.5l2.5 0.5M142.4 85.7l3.7 -0.5M205.4 58.8l1.9 2.0M104.9 84.2l1.5 -2.0M96.0 112.7l0.1 -2.2M183.4 76.3l2.1 2.0M199.1 136.5l-1.5 3.1M209.0 163.6l-1.9 2.3M186.8 171.9l-2.2 1.4M184.2 143.0l-1.8 2.1M202.6 57.5l2.9 3.0M87.8 94.9l1.9 -5.0M155.6 72.8l2.1 0.4M187.5 67.9l2.2 2.0M140.2 67.9l3.8 -0.5M184.0 39.2l2.6 1.3M165.9 64.8l2.3 0.9M216.8 155.5l-1.4 2.3M84.1 157.7l-2.5 -4.1M210.3 171.3l-2.2 2.3M178.6 89.0l1.7 2.1M78.5 134.1l-1.2 -5.0M171.1 83.9l2.8 2.3M194.5 140.1l-2.6 4.2M84.3 154.3l-1.6 -2.6M86.5 153.1l-2.4 -4.1M92.8 150.1l-1.6 -2.6M112.6 67.4l4.0 -2.8M117.3 103.3l1.9 -4.3M227.2 116.2l-0.1 2.6M191.8 158.5l-2.9 2.7M156.7 138.7l-4.9 1.2M99.5 120.0l-0.3 -4.1M193.2 143.3l-2.2 3.2M97.4 172.2l-3.9 -3.7M220.6 160.6l-1.5 2.3M136.0 58.3l4.6 -0.8M208.2 149.5l-2.4 3.8M154.4 63.4l3.4 0.5M103.7 121.3l-0.5 -4.4M216.9 151.0l-2.7 4.7M145.8 141.1l-2.2 -0.3M192.3 167.3l-2.0 1.6M145.8 95.6l3.5 -0.1M117.1 99.9l2.0 -3.7M148.9 48.8l4.8 0.2M92.2 144.7l-1.0 -2.0M180.5 114.0l-0.2 4.1M104.7 102.9l0.7 -2.4M178.2 72.5l1.6 1.2M219.8 89.9l1.6 5.2M113.8 71.3l2.1 -1.6M190.4 173.6l-1.9 1.3M176.4 133.3l-2.9 3.8M229.0 89.3l1.0 3.4M88.3 101.9l0.4 -2.0M122.2 86.9l1.7 -1.5M137.8 68.4l4.0 -0.7M179.5 42.1l2.8 1.3M227.2 94.8l0.8 3.5M155.2 182.2l-3.7 0.3M216.8 140.6l-1.1 2.8M136.0 175.4l-4.5 -1.1M172.8 53.3l2.4 1.0M232.1 119.9l-0.2 2.4M101.6 137.0l-2.0 -4.8M116.9 76.2l3.9 -2.9M86.9 92.7l0.8 -2.2M95.7 155.9l-2.3 -3.1M223.2 138.3l-1.6 4.6M139.7 89.8l4.4 -1.1M98.8 102.4l0.6 -2.1M212.0 157.1l-3.1 4.3M229.6 81.9l1.8 4.9M173.1 83.1l3.4 3.0M109.3 66.8l3.0 -2.3M189.7 164.3l-2.4 1.9M86.3 146.8l-1.2 -2.4M186.1 171.8l-2.8 1.8M207.7 154.6l-3.0 4.1M93.7 126.7l-0.6 -3.2M113.5 81.6l1.7 -1.7M169.9 132.5l-2.0 2.2M139.7 72.8l2.8 -0.5M181.1 74.5l2.0 1.7M186.9 44.6l3.7 2.2M162.3 79.6l4.9 2.4M149.8 92.9l4.0 0.7M85.2 146.8l-0.9 -1.9M118.9 177.7l-3.6 -1.8M180.6 116.7l-0.3 2.8M177.1 48.3l3.7 1.7M95.6 100.8l0.6 -2.2M221.6 141.7l-1.7 4.2M186.1 62.2l3.9 3.1M178.8 108.1l0.5 3.0M171.3 89.3l2.5 2.5M193.3 42.8l2.0 1.3M125.8 114.0l0.6 -4.8M178.1 59.7l3.8 2.3M145.1 140.5l-4.4 -0.9M158.8 135.8l-2.6 1.1M154.0 80.6l4.7 1.1M165.4 91.1l3.9 3.5M185.5 73.9l1.6 1.5M123.8 144.1l-3.8 -3.7M182.1 96.2l1.1 2.1M131.3 106.3l1.1 -2.0M150.9 176.7l-4.2 0.0M181.9 48.1l2.8 1.5M191.8 44.7l2.1 1.3M204.2 158.7l-3.3 3.9M97.2 139.9l-1.1 -2.2M129.9 83.7l2.2 -1.2M119.1 60.9l4.7 -2.3" stroke="#383838" stroke-width="1.4"/><path d="M140.0 139.1l-2.9 -1.2M206.2 163.2l-1.6 1.9M232.0 100.0l0.6 4.0M194.6 148.2l-3.1 3.9M91.8 127.1l-0.6 -3.1M116.1 95.9l1.4 -2.2M126.7 106.1l2.4 -4.6M148.4 165.8l-3.1 -0.1M181.1 58.7l2.0 1.2M216.2 160.3l-1.7 2.4M193.2 50.1l2.9 2.1M193.0 152.8l-2.4 2.6M125.2 109.3l1.7 -5.0M128.3 109.9l1.9 -5.0M133.9 67.9l2.1 -0.6M197.2 55.7l2.3 1.9M177.6 177.9l-4.5 1.9M90.5 99.3l0.8 -2.9M195.0 163.1l-3.6 3.2M156.2 70.8l4.9 1.2M206.6 164.3l-2.5 2.7M127.0 79.0l3.1 -1.7M164.2 178.2l-2.5 0.6M160.5 146.1l-2.7 0.9M179.0 161.2l-2.7 1.6M173.6 83.0l3.3 2.9M100.7 110.6l0.2 -2.2M111.9 95.6l1.0 -1.8M162.7 50.3l4.8 1.3M119.7 150.5l-3.1 -2.7M168.2 148.6l-3.7 1.9M228.9 141.9l-0.8 2.1M213.6 70.5l1.4 2.2M90.2 160.4l-1.9 -2.5M128.1 101.4l3.4 -4.1M123.2 159.9l-3.8 -2.3M161.7 44.7l5.2 1.2M216.3 162.1l-2.8 3.8M195.1 153.4l-2.9 3.2M185.4 39.1l3.4 1.8M110.5 76.5l3.7 -3.3M176.0 165.8l-4.1 2.0M167.0 175.6l-3.0 0.8M147.4 83.5l3.5 0.1M218.2 148.7l-2.1 4.0M218.9 143.5l-1.2 2.9M139.8 70.8l3.7 -0.6M183.7 144.6l-3.8 4.0M82.6 126.5l-0.3 -2.1M206.7 150.1l-3.0 4.5M124.5 164.3l-3.4 -1.8M115.0 153.0l-2.3 -2.1M159.7 137.7l-5.0 1.8M154.4 141.0l-3.6 0.6M166.5 90.6l2.6 2.2M85.7 163.0l-1.8 -2.4M162.0 51.8l2.9 0.7M133.3 86.4l3.3 -1.5M189.8 54.9l3.5 2.6M218.1 85.1l0.9 2.2M225.0 139.1l-1.5 4.2M106.4 75.6l3.6 -3.6M164.8 65.8l4.2 1.6M180.2 66.9l1.8 1.2M233.0 106.5l0.3 3.4M151.7 70.4l4.6 0.6M97.8 125.2l-0.7 -4.2M186.0 168.1l-2.3 1.5M194.2 142.9l-2.6 3.9M142.4 182.1l-4.6 -0.6M177.5 166.9l-4.3 2.2M89.8 109.4l0.5 -3.9M130.2 91.6l4.3 -2.8M171.5 155.6l-1.8 1.0M72.9 136.2l-0.6 -2.2M92.1 100.2l1.3 -4.4M71.6 133.6l-0.8 -3.8M86.3 97.4l1.6 -5.0M230.1 92.0l1.2 5.1M194.3 135.2l-1.8 3.6M112.2 88.3l1.4 -1.8M223.8 91.8l0.6 1.9M181.1 96.0l1.1 2.1M226.1 95.1l0.7 3.1M217.1 120.5l-0.3 2.4M170.1 99.5l2.2 3.8M108.0 96.5l1.6 -3.3M198.2 45.6l2.6 2.0M92.2 169.4l-2.2 -2.4M79.1 115.7l0.1 -4.2M155.4 81.4l3.8 1.0M146.8 83.4l5.0 0.2M180.2 162.9l-2.4 1.5M96.7 94.7l1.3 -3.0M183.5 169.2l-4.0 2.4M220.8 123.4l-0.8 5.2M127.0 178.4l-2.7 -1.0M78.9 152.1l-1.2 -2.2M222.9 148.3l-1.0 2.1M210.2 167.8l-2.5 2.8M224.5 144.0l-1.6 3.9M177.6 133.2l-2.4 3.3M75.2 138.5l-1.3 -4.4M106.1 102.7l1.2 -3.7M105.7 80.3l2.5 -2.8M222.9 138.4l-0.9 2.6M197.3 137.3l-1.0 2.1M163.5 172.3l-5.3 1.1M79.6 147.7l-1.1 -2.4M106.9 101.3l1.7 -4.5M174.7 73.5l3.0 2.1M182.1 71.9l3.3 2.8M181.0 148.3l-2.4 2.2M90.8 150.4l-1.4 -2.3M145.6 88.3l3.6 -0.1M75.2 107.7l0.5 -3.9M185.5 69.7l3.9 3.5M167.5 67.8l3.3 1.5M206.6 151.8l-1.7 2.5M93.4 137.2l-0.8 -2.0M145.1 69.5l2.7 -0.1M130.2 159.0l-4.1 -1.9M96.6 128.5l-0.9 -3.7M199.2 66.5l2.1 2.3M215.0 135.7l-1.2 3.3M158.9 53.1l2.7 0.5M161.9 79.7l4.5 2.1M230.4 117.8l-0.3 4.8M173.3 88.8l2.0 2.1M168.0 139.5l-4.1 2.7M129.6 77.3l2.2 -1.0M133.3 176.9l-3.6 -1.0M142.2 62.2l5.2 -0.3M186.3 159.1l-4.0 3.1M149.1 150.9l-4.4 -0.2M216.4 141.0l-0.9 2.1M145.1 90.2l4.3 -0.2M172.5 48.7l2.1 0.8M167.3 96.9l2.3 2.9M202.6 134.8l-1.3 3.3M95.3 138.6l-1.0 -2.2M217.1 164.0l-3.1 4.1M221.5 100.0l0.7 4.0M118.2 81.7l2.0 -1.7M77.8 120.8l-0.2 -3.1M96.3 84.5l1.7 -2.8M144.4 57.6l2.8 -0.1M112.2 79.6l2.9 -2.8M165.0 89.2l2.7 2.0M125.2 110.5l0.8 -3.2M115.6 86.1l3.4 -3.5M113.8 148.4l-1.7 -1.8M168.2 67.1l4.2 2.0M170.2 91.4l2.7 2.9M106.6 84.9l1.9 -2.6M159.1 152.9l-5.2 1.1M180.5 79.6l2.4 2.4M148.3 63.0l4.1 0.2M184.6 58.2l3.2 2.2M197.7 162.2l-2.2 2.2M160.6 45.4l4.4 0.9M178.8 178.2l-2.1 1.0M160.8 154.6l-5.2 1.3M138.0 178.4l-2.5 -0.5M127.9 77.1l2.9 -1.4M152.3 95.6l4.4 1.5M76.7 135.5l-0.8 -3.0M108.3 76.0l2.2 -2.2M103.5 165.8l-2.5 -2.3M167.3 136.2l-3.1 2.4M157.3 52.1l3.7 0.6M118.5 159.3l-2.0 -1.4M132.4 78.1l4.7 -1.7M169.3 88.9l2.0 1.8M113.2 81.8l3.7 -3.6M178.4 130.2l-2.7 4.4M100.9 95.7l1.5 -3.4M224.0 101.0l0.7 5.2M139.1 88.9l5.1 -1.3M226.2 148.1l-2.1 4.6M101.5 174.2l-2.6 -2.1M85.3 143.2l-1.1 -2.4M108.7 100.7l2.1 -4.9M134.1 59.2l2.1 -0.5M169.8 90.5l3.2 3.3M169.2 145.1l-4.0 2.4M188.0 63.2l3.5 2.9M179.4 156.1l-2.1 1.5M145.3 181.6l-2.0 -0.1M144.2 181.4l-4.5 -0.4M213.6 62.3l1.3 1.7" stroke="#464646" stroke-width="1"/><path d="M127.6 97.6l3.2 -3.2M139.2 139.2l-3.6 -1.6M89.4 94.1l1.4 -3.7M93.8 136.6l-1.6 -4.3M224.6 157.6l-2.0 3.4M165.6 163.0l-2.5 0.8M232.7 114.7l-0.1 3.3M231.2 111.9l0.0 4.2M90.3 149.3l-1.7 -3.0M217.0 159.5l-2.2 3.2M164.2 79.9l4.7 2.6M121.6 97.7l2.4 -3.3M131.5 177.0l-2.4 -0.7M142.9 178.5l-2.2 -0.2M100.0 117.4l-0.1 -4.4M184.1 75.2l2.5 2.4M186.7 50.0l4.5 2.9M85.9 150.9l-1.3 -2.3M180.5 154.5l-2.0 1.5M156.2 47.5l4.8 0.7M168.4 162.4l-5.1 1.8M225.4 143.9l-1.1 2.7M174.9 64.1l3.4 1.9M190.3 54.2l2.5 1.8M147.6 168.7l-4.4 -0.2M116.6 177.9l-2.3 -1.2M198.1 42.3l2.3 1.7M163.9 179.3l-3.0 0.7M182.9 47.8l2.1 1.1M214.3 132.0l-1.3 4.3M140.7 85.7l4.1 -0.8M147.8 96.4l3.3 0.2M120.7 97.7l3.1 -4.3M180.9 58.4l2.1 1.3M79.2 142.6l-0.8 -2.0M209.1 154.5l-1.6 2.3M77.3 144.1l-1.1 -2.8M157.8 144.4l-2.0 0.6M162.6 86.4l2.0 1.1M137.6 95.7l3.8 -1.7M97.0 75.7l2.5 -3.1M72.0 114.8l0.1 -4.1M221.8 90.8l1.4 4.9M107.0 170.2l-3.3 -2.6M108.0 171.7l-2.8 -2.1M199.9 142.2l-2.0 3.5M110.4 90.5l1.2 -1.8M179.8 85.1l1.5 1.7M189.1 153.7l-1.9 1.8M188.4 61.1l1.8 1.4M156.0 164.8l-2.6 0.3M103.3 73.0l2.7 -2.8M216.2 168.5l-1.5 1.8M139.4 138.0l-2.9 -1.3M101.4 95.2l1.7 -3.7M173.0 166.4l-2.5 1.1M192.6 137.5l-1.8 3.1M155.2 79.0l4.0 1.0M177.7 52.3l2.4 1.2M160.7 66.9l4.0 1.2M77.4 139.4l-1.1 -3.4M157.4 142.0l-3.8 1.0M119.2 177.9l-4.1 -2.0M157.6 75.1l2.9 0.8M176.6 91.8l2.0 2.7M139.3 88.1l2.9 -0.8M232.9 91.8l1.1 4.6M153.6 174.0l-4.8 0.2M111.4 161.6l-2.6 -2.1M233.0 113.2l-0.0 4.1M113.0 144.3l-2.6 -3.3M230.2 115.0l-0.1 3.3M193.2 158.9l-2.3 2.2M101.5 83.6l2.5 -3.5M89.1 116.5l-0.0 -3.4M72.7 119.8l-0.1 -2.6M172.2 103.2l0.8 2.0M93.1 167.8l-3.1 -3.4M175.3 88.8l1.5 1.7M195.1 154.1l-1.9 2.1M92.6 111.5l0.3 -3.5M179.8 77.1l2.8 2.6M224.7 141.6l-1.6 4.1M217.9 113.4l-0.1 4.4M96.1 110.2l0.4 -3.6M75.5 114.5l0.1 -4.0M194.6 135.9l-2.0 3.9M119.2 147.0l-1.8 -1.7M212.1 129.7l-0.9 3.3M134.6 55.7l4.5 -0.9M128.8 175.5l-2.8 -1.0M216.3 123.9l-0.6 3.8M77.6 117.6l-0.0 -4.7M187.1 152.8l-1.7 1.7M120.2 75.9l3.5 -2.3M101.4 121.7l-0.5 -4.7M194.0 160.2l-3.1 2.9M190.8 40.2l4.3 2.6M223.0 120.7l-0.6 5.1M162.7 178.3l-5.1 0.9M183.8 133.0l-1.2 2.1M169.5 161.7l-3.2 1.3M219.0 83.0l1.7 4.2M112.4 72.1l4.2 -3.3M218.9 138.5l-1.4 3.7M171.6 103.1l1.5 3.7M191.5 64.0l2.2 2.0M107.6 176.2l-4.0 -2.9M173.8 162.4l-3.4 1.7M163.6 169.5l-3.0 0.7M175.9 44.2l4.3 1.8M143.2 58.2l5.5 -0.2M127.3 100.9l3.5 -4.2M91.1 145.3l-2.1 -4.2M198.3 69.0l1.8 2.0M196.0 163.0l-3.0 2.7M92.7 141.9l-0.9 -2.0M134.1 62.8l4.0 -0.9M138.6 61.6l2.2 -0.4M213.3 147.5l-1.7 3.1M120.0 81.6l2.1 -1.7M216.6 143.5l-1.4 3.1M214.7 159.7l-2.5 3.5M157.1 56.6l5.3 1.1M230.6 138.3l-1.6 5.0M172.4 72.5l2.7 1.7M168.9 149.3l-2.4 1.3M139.3 65.3l3.3 -0.5M94.9 118.1l-0.1 -2.8M204.7 147.6l-2.0 3.1M128.7 139.1l-2.0 -1.7M189.8 176.3l-3.0 1.9M137.8 161.5l-2.1 -0.5M171.7 60.5l3.3 1.6M180.6 149.0l-3.8 3.2M172.9 150.1l-3.4 2.1M138.5 84.5l3.5 -0.9M180.8 156.3l-3.5 2.5M214.4 120.7l-0.7 5.0M209.2 67.5l2.0 2.7M152.8 79.5l2.7 0.5M220.3 71.7l2.0 3.5M111.7 152.1l-3.5 -3.8M222.3 90.3l1.0 3.2M77.8 112.5l0.3 -5.2M131.6 84.9l2.3 -1.2M104.6 81.8l1.9 -2.4M149.9 47.9l2.3 0.1M178.5 87.6l1.9 2.4M96.8 133.5l-1.4 -4.2M132.7 70.1l2.2 -0.7M144.9 176.7l-4.9 -0.5M168.3 90.8l3.2 3.1M154.0 168.1l-2.7 0.2M87.3 142.1l-1.2 -2.9M144.5 68.0l2.5 -0.1M183.7 149.8l-3.4 3.1M149.8 89.2l4.6 0.7M175.8 49.4l2.0 0.9M197.5 136.4l-1.4 2.9M203.8 61.8l3.0 3.4M100.7 93.3l1.7 -3.4M92.9 166.8l-2.3 -2.6M220.8 124.5l-0.5 3.0M111.6 149.2l-2.6 -3.0M160.9 172.4l-3.5 0.7M182.2 179.1l-2.4 1.2M115.5 177.7l-4.5 -2.6M128.7 173.0l-3.4 -1.2M133.1 67.0l5.1 -1.3M174.2 66.9l4.5 2.7M172.6 134.2l-1.6 1.8M186.1 143.3l-2.9 3.5M175.0 148.3l-3.0 2.1M176.7 139.8l-1.4 1.5M228.9 110.9l0.1 5.0M110.5 90.2l1.1 -1.7M214.8 147.5l-2.4 4.5M176.6 134.8l-3.4 4.0M176.9 163.3l-2.0 1.1M185.9 74.4l2.9 2.9M228.0 132.1l-0.5 2.2M89.7 157.6l-2.7 -3.9M198.6 46.8l2.3 1.8" stroke="#464646" stroke-width="1.4"/><path d="M173.3 44.7l2.7 1.0M194.1 144.0l-2.2 3.2M187.1 152.0l-2.9 2.7M110.2 152.8l-2.6 -2.8M194.6 144.2l-2.9 4.2M78.9 116.1l-0.0 -2.4M142.6 153.3l-3.7 -0.7M142.4 59.2l5.0 -0.3M140.9 78.6l3.5 -0.5M199.9 170.5l-3.7 3.2M107.9 74.9l2.4 -2.3M207.3 52.9l1.7 1.7M102.0 87.5l1.8 -2.9M135.1 74.2l2.0 -0.6M163.3 80.3l3.6 1.8M83.0 133.2l-0.8 -2.9M96.6 141.2l-1.2 -2.4M157.8 166.8l-4.1 0.6M124.4 177.1l-2.3 -0.9M156.0 53.9l2.9 0.4M95.2 139.3l-1.8 -4.3M108.3 172.2l-3.0 -2.2M95.0 85.5l2.5 -4.1M176.4 174.1l-1.9 0.8M174.9 171.2l-4.2 1.8M135.5 145.3l-2.3 -1.0M88.7 144.2l-1.1 -2.3M94.5 127.6l-0.8 -3.7M175.9 152.8l-4.0 2.6M95.1 115.1l0.1 -4.0M152.6 69.4l4.4 0.6M120.8 66.5l4.5 -2.3M158.8 50.0l3.7 0.7M124.5 152.9l-2.0 -1.3M202.7 150.4l-1.4 2.1M167.7 169.8l-3.1 1.0M221.4 85.2l1.8 5.0M83.6 108.4l0.4 -3.6M153.6 157.9l-3.3 0.3M75.2 114.5l0.1 -4.6M153.4 161.5l-5.5 0.3M87.0 131.7l-1.1 -4.7M124.3 64.4l5.0 -2.1M158.0 157.1l-5.2 0.9M102.0 127.8l-0.6 -2.1M109.9 149.7l-1.9 -2.1M83.3 104.2l0.7 -3.7M106.2 78.2l1.4 -1.6M126.2 172.7l-3.1 -1.3M91.1 145.2l-2.1 -4.2M130.6 150.0l-4.4 -2.6M164.8 58.3l2.6 0.8M93.7 130.5l-0.8 -2.9M130.3 103.4l2.4 -3.2M153.0 86.9l4.7 1.2M103.5 142.9l-1.1 -1.9M183.1 160.7l-3.0 2.1M106.2 154.8l-1.6 -1.7M147.4 87.1l2.6 0.0M140.0 144.3l-3.9 -1.4M149.6 163.0l-3.2 -0.0M158.9 161.1l-4.0 0.7M178.6 154.3l-2.9 2.0M142.0 88.5l3.2 -0.6M190.4 51.2l2.2 1.5M178.3 159.0l-2.0 1.3M181.5 159.7l-4.0 2.7M123.2 154.8l-4.0 -2.8M148.1 79.1l2.9 0.1M177.7 54.4l2.9 1.5M194.2 49.5l1.7 1.2M164.5 147.2l-3.2 1.4M103.8 100.2l1.6 -4.3M128.3 148.7l-3.0 -1.9M164.0 86.3l2.2 1.3M197.2 142.1l-1.2 2.1M191.6 145.4l-3.0 3.9M194.4 138.4l-2.4 4.1M144.8 60.7l4.5 -0.1M163.9 91.0l2.2 1.6M148.7 59.4l5.2 0.3M153.3 96.6l4.6 2.0M131.8 62.4l3.1 -0.9M144.0 78.4l4.4 -0.3M224.6 119.7l-0.2 2.3M102.0 168.6l-2.7 -2.4M105.6 139.7l-2.2 -4.2M159.2 56.7l2.6 0.6M177.3 141.3l-2.3 2.3M163.7 177.4l-3.8 0.8M183.8 70.7l1.9 1.6M175.6 158.3l-1.9 1.1M189.2 147.1l-1.9 2.3M175.2 74.3l1.8 1.2M230.2 109.1l0.2 4.2M112.3 93.2l2.7 -4.0M194.2 176.6l-3.0 2.1M165.0 142.4l-4.8 2.4M88.3 129.8l-0.9 -4.3M178.6 78.0l2.0 1.8M210.6 67.5l2.6 3.7M86.3 120.6l-0.2 -3.1M85.8 107.1l0.7 -4.6M129.7 169.4l-4.8 -1.9M197.5 147.7l-3.0 4.0M151.0 52.2l5.2 0.4M90.9 110.6l0.4 -3.9M100.4 98.7l1.2 -3.3M161.5 53.0l4.2 1.1M156.1 141.8l-2.0 0.5M137.9 169.9l-4.7 -1.1M179.8 170.4l-4.2 2.2M219.9 134.4l-1.3 4.2M218.7 134.8l-1.0 3.1M124.9 154.8l-3.6 -2.3M155.5 50.3l3.8 0.5M104.4 85.6l2.5 -3.5M91.6 118.9l-0.2 -4.3M157.5 74.6l4.8 1.4M113.0 150.1l-2.2 -2.3M173.1 153.0l-3.1 1.8M167.4 82.7l1.8 1.1M210.0 164.2l-2.5 2.9M166.2 78.5l3.5 2.0M141.8 96.0l3.4 -0.9M166.7 157.9l-2.7 1.1M114.4 69.2l2.5 -1.8M164.1 50.8l2.7 0.7M174.0 107.9l0.7 3.5M120.7 172.1l-3.4 -1.8M225.5 117.5l-0.3 4.2M98.3 83.8l1.1 -1.7M141.5 72.9l2.4 -0.3M144.8 149.5l-2.5 -0.3M157.2 72.5l4.2 1.1M135.4 160.4l-4.7 -1.6M130.6 71.9l4.4 -1.6M190.7 173.3l-2.2 1.5M217.2 165.1l-2.9 3.7M200.2 159.3l-2.9 3.1M204.8 57.9l3.6 3.8M163.7 165.2l-2.2 0.6M210.4 59.5l3.5 4.2M222.2 78.7l0.9 1.8M122.1 89.0l4.0 -3.5M175.4 165.3l-1.9 1.0M96.7 102.2l0.6 -2.2M145.2 79.3l4.7 -0.1M182.7 67.3l2.6 2.0M123.8 71.3l2.8 -1.5M201.4 164.5l-1.5 1.5M140.2 170.5l-3.1 -0.5M144.1 81.4l2.8 -0.2M199.6 163.5l-2.0 2.0M158.8 154.3l-3.3 0.7M201.4 169.1l-3.7 3.4M207.6 58.6l3.5 3.9M79.7 136.8l-1.4 -4.7M170.8 60.3l4.1 1.9M106.0 77.0l2.6 -2.8M159.7 83.6l4.6 2.1M190.9 70.1l1.7 1.7M187.9 49.9l2.3 1.5M219.6 145.9l-0.9 2.0M102.2 103.4l1.4 -4.7M89.1 146.7l-1.3 -2.5M129.3 65.5l4.3 -1.4M159.9 95.9l3.8 3.0M198.3 63.6l2.8 2.9M163.0 64.3l3.0 1.0M144.2 155.9l-2.4 -0.3M212.3 161.8l-1.6 2.1M104.2 157.0l-3.4 -3.8M204.7 57.9l2.3 2.4M170.5 147.4l-2.1 1.3M136.9 99.9l1.7 -1.2M79.1 149.6l-1.1 -2.2M229.9 127.1l-0.7 4.0M135.9 68.0l2.8 -0.7M159.9 76.2l4.0 1.5M169.7 55.6l4.2 1.7M96.8 82.2l1.4 -2.1M90.9 106.1l0.6 -3.5" stroke="#545454" stroke-width="1"/><path d="M99.1 124.2l-0.7 -5.1M175.2 163.0l-2.2 1.1M189.8 163.5l-3.1 2.4M165.3 71.1l2.4 1.0M73.8 128.9l-0.5 -3.0M118.8 148.6l-3.4 -3.3M138.5 147.7l-3.1 -1.1M130.7 60.5l3.8 -1.1M221.4 137.7l-1.5 4.4M87.3 114.5l0.1 -3.7M165.5 175.7l-4.1 1.0M164.5 56.4l5.1 1.7M137.4 59.7l4.4 -0.7M193.7 57.3l1.8 1.5M117.0 93.2l1.9 -2.5M139.9 178.0l-2.6 -0.4M130.4 61.6l3.4 -1.0M189.6 171.3l-4.0 2.7M120.8 84.1l4.2 -3.3M227.1 138.4l-1.8 5.2M119.7 170.9l-3.1 -1.7M96.5 82.7l1.2 -1.9M125.5 154.9l-4.1 -2.6M195.9 135.7l-2.1 4.3M96.3 120.5l-0.3 -3.3M120.9 168.3l-4.2 -2.3M76.7 126.6l-0.4 -2.4M183.5 151.6l-2.0 1.8M112.2 164.8l-2.1 -1.5M85.8 149.6l-1.4 -2.7M204.3 168.1l-1.5 1.5M143.8 171.4l-5.1 -0.6M167.5 139.2l-1.9 1.4M168.9 166.6l-2.1 0.8M101.2 100.3l0.8 -2.4M231.3 135.8l-1.0 3.5M150.3 171.6l-5.2 -0.1M115.5 81.0l3.5 -3.1M211.9 67.2l1.2 1.7M121.1 167.5l-3.0 -1.7M96.2 154.6l-3.1 -4.4M189.3 68.2l2.1 2.0M191.2 166.2l-3.5 2.7M100.5 144.5l-2.4 -4.2M79.7 156.1l-1.3 -2.3M224.4 128.4l-0.5 2.3M110.6 165.4l-1.9 -1.5M129.7 97.8l2.1 -2.1M164.4 85.2l3.9 2.5M152.7 79.6l3.0 0.5M151.5 141.4l-5.4 0.1M134.0 89.1l1.8 -0.9M222.3 118.9l-0.3 3.9M225.3 76.0l2.2 4.8M158.6 171.8l-3.1 0.5M104.8 163.0l-2.5 -2.3M173.0 65.9l4.5 2.6M81.4 143.9l-1.2 -3.0M187.2 174.4l-3.2 2.0M178.6 132.1l-1.8 2.7M161.3 175.8l-2.1 0.4M133.3 158.8l-2.7 -1.0M123.9 95.4l3.7 -4.0M206.4 50.6l3.7 3.6M221.7 90.3l1.5 5.0M92.5 143.4l-2.0 -4.2M161.4 173.1l-5.0 0.9M177.1 83.3l3.3 3.3M185.9 154.9l-3.2 2.8M185.5 47.5l1.8 1.0M140.1 169.9l-2.6 -0.4M104.6 153.4l-1.7 -2.0M135.2 164.7l-3.6 -1.1M154.3 167.0l-5.4 0.3M200.6 142.4l-1.8 3.2M167.2 63.6l3.2 1.3M212.1 162.0l-1.7 2.3M218.6 143.4l-1.3 3.1M226.1 95.0l0.8 3.6M160.4 45.2l4.8 1.0M194.8 44.7l3.8 2.7M223.6 84.0l0.9 2.4M200.8 51.4l2.7 2.3M141.8 97.3l2.9 -0.8M187.5 70.8l2.4 2.3M176.6 73.0l3.0 2.2M170.2 65.1l2.6 1.2M206.5 58.2l1.8 1.9M98.1 140.5l-1.3 -2.7M110.4 99.6l2.1 -4.4M208.9 64.5l1.3 1.6M83.2 99.5l0.5 -2.1M117.7 174.0l-2.3 -1.2M171.5 75.3l2.1 1.3M156.9 75.6l2.9 0.8M93.9 93.1l2.0 -4.6M153.0 58.2l5.0 0.6M134.0 70.0l4.7 -1.2M213.0 145.4l-1.3 2.6M147.9 69.8l5.3 0.3M81.9 147.9l-2.2 -4.8M151.4 179.8l-4.0 0.1M93.0 126.4l-0.8 -5.0M125.2 169.0l-2.0 -0.9M160.6 152.2l-4.2 1.1M154.7 80.9l3.1 0.7M106.1 83.7l1.2 -1.6M159.4 94.7l2.3 1.5M106.4 106.3l0.7 -3.0M96.8 99.0l1.4 -4.1M221.9 138.9l-0.9 2.6M159.7 153.1l-4.6 1.1M116.2 157.0l-2.6 -2.1M111.4 155.4l-3.1 -3.0M101.8 160.8l-2.8 -3.0M214.0 155.4l-1.4 2.2M132.9 161.3l-3.5 -1.3M131.6 86.9l2.5 -1.4M150.9 69.1l3.3 0.3M146.5 139.3l-5.1 -0.9M92.5 146.7l-1.1 -2.1M221.9 128.2l-1.2 5.4M206.1 146.7l-2.2 3.7M104.8 89.3l2.1 -3.3M82.8 120.1l-0.2 -4.1M203.9 143.9l-2.4 4.1M214.9 67.6l2.5 3.7M89.7 93.2l1.8 -4.3M104.2 75.6l2.4 -2.6M103.3 83.3l1.9 -2.6M128.8 91.2l3.5 -2.5M233.9 111.4l0.0 5.4M210.3 147.9l-1.6 2.8M230.5 110.8l0.1 4.2M99.0 98.4l1.1 -3.1M215.8 118.5l-0.3 3.5M80.2 134.7l-0.8 -3.0M84.1 143.5l-1.2 -2.9M140.3 69.1l3.6 -0.5M107.8 85.5l3.0 -3.8M222.9 109.8l0.1 4.4M155.8 95.1l2.5 1.1M214.5 139.4l-2.0 4.9M99.6 89.2l2.2 -3.8M188.7 155.0l-2.8 2.6M211.1 163.1l-2.0 2.5M176.7 86.7l2.1 2.4M234.1 98.9l0.7 4.6M144.8 146.1l-2.8 -0.4M151.4 149.1l-2.5 0.1M151.5 55.2l5.3 0.5M114.5 98.3l1.4 -2.6M188.9 167.3l-4.3 3.0M156.6 79.0l2.0 0.5M104.8 141.1l-2.4 -4.3M113.1 76.4l2.8 -2.4M93.5 162.5l-1.6 -1.9M109.1 144.2l-2.3 -3.4M106.4 90.3l2.5 -4.0M148.9 146.6l-2.9 -0.1M87.8 120.1l-0.2 -3.2M134.0 76.2l4.5 -1.4M196.8 49.5l1.7 1.3M221.4 85.3l1.1 2.8M101.1 129.8l-1.2 -4.3M142.0 165.5l-2.3 -0.3M119.8 94.3l2.4 -3.0" stroke="#545454" stroke-width="1.4"/><path d="M128.7 164.7l-3.1 -1.3M94.3 92.5l1.1 -2.5M130.3 154.0l-3.3 -1.7M114.0 84.3l2.1 -2.2M87.7 128.3l-0.8 -4.0M98.6 125.8l-0.9 -5.4M126.9 158.7l-3.4 -1.8M182.2 150.4l-2.1 1.9M165.8 147.8l-4.4 2.0M230.1 131.9l-0.5 2.3M196.6 144.3l-3.0 4.3M232.7 119.2l-0.1 2.1M108.8 171.6l-1.8 -1.3M226.1 115.4l-0.2 5.3M104.3 153.4l-2.7 -3.3M182.6 65.7l2.2 1.6M198.2 145.0l-2.7 4.0M145.4 142.2l-2.0 -0.3M175.1 159.0l-4.1 2.2M102.9 136.6l-2.0 -4.7M98.3 107.3l0.9 -4.7M101.8 80.1l3.1 -3.9M118.8 172.5l-3.9 -2.1M147.1 63.8l2.1 -0.0M196.8 161.4l-3.1 3.0M108.2 90.8l2.0 -3.1M104.3 167.6l-2.7 -2.3M186.6 152.1l-3.6 3.3M160.4 170.7l-2.7 0.5M96.1 158.0l-2.7 -3.5M145.9 69.4l3.7 -0.0M197.1 164.8l-3.7 3.4M221.7 131.5l-1.2 4.7M94.9 161.2l-3.3 -4.1M136.2 61.6l3.8 -0.7M152.3 139.2l-4.2 0.3M183.0 55.6l3.3 2.1M115.5 158.5l-2.3 -1.8M165.6 54.6l3.9 1.3M138.9 155.4l-3.0 -0.8M152.5 54.7l4.9 0.5M177.7 55.9l3.5 1.9M140.2 176.5l-3.3 -0.5M138.8 61.0l3.4 -0.5M85.8 136.1l-1.5 -5.0M193.8 56.9l4.1 3.5M155.2 141.6l-5.4 0.8M132.4 72.5l2.3 -0.8M138.7 177.0l-2.7 -0.5M228.9 117.4l-0.2 3.6M185.2 48.5l3.6 2.1M223.1 87.2l0.7 2.0M185.7 167.0l-2.4 1.6M226.5 143.3l-1.0 2.5M185.2 60.9l3.1 2.3M92.1 160.5l-2.3 -3.0M153.3 143.9l-4.6 0.4M121.0 73.4l3.1 -1.9M231.1 100.7l0.5 3.4M130.3 74.9l2.7 -1.1M84.7 117.8l-0.1 -2.4M173.9 164.5l-2.7 1.3M120.2 96.9l1.3 -1.9M89.3 151.3l-2.0 -3.4M128.7 152.2l-4.1 -2.5M82.3 106.4l0.5 -3.1M100.1 128.9l-0.9 -3.3M145.0 166.4l-2.9 -0.3M113.0 77.7l3.8 -3.3M147.5 159.2l-3.6 -0.2M208.1 147.5l-2.5 4.1M113.7 77.4l1.6 -1.4M178.5 136.8l-2.5 3.0M164.0 160.4l-4.3 1.3M159.1 72.3l3.4 1.0M127.4 158.8l-2.2 -1.1M187.0 147.4l-3.0 3.2M170.6 171.8l-2.3 0.8M125.7 151.2l-3.7 -2.6M205.1 144.0l-1.3 2.3M73.5 127.0l-0.5 -3.2M95.9 92.5l1.6 -3.4M231.4 118.9l-0.3 4.0M79.9 128.6l-0.6 -3.0M93.3 106.0l0.9 -4.5M220.7 96.2l0.6 2.3M205.6 162.5l-2.5 2.9M123.1 70.8l2.7 -1.5M171.8 172.9l-2.3 0.9M136.9 163.9l-3.6 -1.0M159.3 157.7l-2.5 0.6M161.1 174.9l-3.6 0.7M176.0 172.3l-5.0 2.2M114.3 159.5l-3.3 -2.7M172.4 149.5l-3.9 2.4M106.7 173.0l-3.8 -2.9M97.6 163.2l-2.3 -2.5M126.9 75.4l2.0 -1.0M91.3 112.8l0.4 -5.2M90.3 155.0l-1.5 -2.3M187.0 54.1l2.3 1.5M195.6 169.3l-4.1 3.3M133.5 83.0l3.6 -1.5M232.7 105.3l0.3 3.5M89.7 92.9l2.0 -4.7M130.7 73.1l4.5 -1.7M94.8 121.7l-0.4 -5.2M115.4 163.2l-2.0 -1.4M181.9 158.1l-3.5 2.5M203.6 50.9l2.6 2.4M187.1 159.5l-3.5 2.8M112.8 86.7l3.3 -3.8M143.3 150.3l-4.2 -0.8M101.1 89.6l1.3 -2.3M92.2 129.5l-1.0 -4.6M95.8 99.6l1.6 -4.8M91.4 159.0l-2.1 -2.9M90.5 104.9l0.4 -2.3M194.5 160.7l-1.5 1.4M107.8 160.6l-3.2 -3.0M214.0 62.1l1.4 1.9M92.3 97.3l0.6 -2.0M165.5 50.1l1.9 0.6M194.5 164.6l-3.9 3.3M156.7 68.7l3.4 0.7M181.8 166.1l-2.7 1.7M178.6 136.0l-3.3 4.0M116.7 155.6l-2.5 -2.0M159.0 65.6l4.3 1.1M88.5 153.6l-2.2 -3.5M230.6 129.9l-0.5 2.3M171.8 142.6l-3.8 2.8M100.5 135.3l-1.3 -3.3M93.6 108.7l0.4 -3.0M143.9 170.4l-2.2 -0.2M78.2 107.0l0.7 -5.1M233.9 125.4l-0.5 3.7M130.7 80.9l4.2 -1.9M103.9 94.0l1.4 -2.9M104.2 86.5l1.9 -2.8M172.5 53.8l2.9 1.2M193.4 164.9l-2.8 2.4M110.4 149.9l-3.2 -3.8M127.2 74.3l4.1 -1.9M220.6 125.7l-0.6 3.3M131.9 70.0l2.9 -1.0M137.0 163.7l-4.0 -1.1M107.0 78.0l2.7 -2.8M209.8 145.1l-1.0 2.0M152.0 139.7l-3.0 0.3M226.0 145.2l-0.8 2.0M180.8 52.1l4.1 2.3M159.0 170.7l-2.7 0.4M120.8 75.2l3.8 -2.4M231.3 97.2l0.6 3.5M187.8 163.2l-3.1 2.4M144.9 150.1l-3.1 -0.4M190.6 152.9l-1.5 1.6M107.5 93.4l2.7 -4.5M195.9 53.8l3.3 2.7M108.5 148.4l-3.0 -3.9M101.0 144.3l-2.4 -4.1" stroke="#626262" stroke-width="1"/><path d="M176.4 172.2l-3.0 1.4M173.7 149.7l-1.7 1.2M113.5 78.8l1.8 -1.7M137.4 147.5l-2.4 -0.9M99.8 133.1l-1.3 -3.8M146.2 167.2l-3.0 -0.2M162.4 170.3l-2.2 0.5M198.2 53.2l3.4 2.9M194.7 54.1l3.0 2.4M229.6 106.8l0.3 4.6M140.9 62.2l4.0 -0.4M191.7 167.5l-3.6 2.8M140.9 65.7l5.0 -0.5M176.4 169.3l-3.4 1.6M167.1 161.6l-4.8 1.6M136.4 170.8l-2.9 -0.7M150.6 51.6l3.5 0.2M163.4 145.5l-3.8 1.6M136.5 69.6l4.9 -1.0M137.4 172.8l-2.7 -0.6M195.9 50.8l2.4 1.9M118.8 83.4l2.3 -2.1M160.4 55.9l2.5 0.6M161.1 169.9l-4.3 0.8M77.8 104.8l0.4 -2.5M183.8 60.1l3.8 2.7M198.1 56.3l2.8 2.5M148.0 176.5l-5.4 -0.3M96.5 134.6l-0.9 -2.5M220.7 84.6l1.8 4.8M129.9 83.7l3.5 -1.9M82.8 120.8l-0.3 -5.4M125.5 88.2l3.0 -2.3M182.8 143.1l-2.5 2.7M160.5 67.7l4.9 1.6M182.3 54.6l2.4 1.4M73.7 131.3l-0.6 -2.9M107.2 147.7l-3.0 -4.1M140.4 139.8l-2.2 -0.8M94.7 148.3l-2.6 -4.6M194.5 147.0l-3.1 4.0M222.0 119.4l-0.2 2.2M100.7 88.6l2.4 -3.9M222.5 110.6l0.1 2.7M142.2 171.8l-2.0 -0.3M128.8 79.7l2.7 -1.4M161.9 59.8l3.2 0.9M86.2 134.1l-0.9 -3.0M156.7 149.9l-3.0 0.6M166.8 168.6l-2.7 0.8M170.6 163.6l-2.3 1.0M223.1 148.7l-1.4 2.9M180.1 161.2l-4.1 2.5M108.5 155.1l-2.5 -2.6M219.7 135.3l-1.5 4.7M125.7 175.5l-2.3 -0.9M232.1 136.8l-1.3 4.5M160.7 166.4l-4.9 0.9M195.9 165.7l-3.6 3.1M122.0 160.8l-2.7 -1.6M84.7 99.3l0.8 -3.0M132.0 167.1l-2.8 -1.0M148.9 62.0l4.2 0.2M177.6 157.1l-3.3 2.1M94.5 114.1l0.1 -2.3M196.7 55.9l2.0 1.7M173.4 145.1l-2.3 1.8M152.9 171.5l-3.6 0.2M149.4 62.5l2.2 0.1M147.6 68.7l2.8 0.0M170.9 148.6l-3.0 1.8M72.6 130.0l-0.7 -3.9M179.0 142.1l-3.1 3.1M164.0 56.6l2.3 0.7M154.5 88.8l3.5 1.1M131.0 149.0l-3.8 -2.2M159.0 60.3l2.0 0.4M179.1 57.1l2.1 1.2M139.6 156.8l-3.9 -1.0M94.8 109.1l0.7 -5.0M227.3 123.7l-0.6 4.2M125.9 77.9l1.9 -1.1M99.7 113.9l0.2 -4.2M90.0 117.5l-0.0 -5.0M120.9 78.6l3.7 -2.6M117.0 93.5l2.9 -3.8M128.0 88.8l2.5 -1.8M189.6 153.0l-1.9 1.9M222.8 127.1l-0.9 4.5M221.4 98.6l0.5 2.4M181.0 152.6l-2.1 1.7M120.9 72.3l3.3 -2.0M178.9 137.5l-3.3 3.9M84.1 106.8l0.5 -3.6M223.0 141.4l-1.0 2.7M123.1 81.0l3.4 -2.3M78.8 108.7l0.2 -2.3M151.1 76.9l2.9 0.3M224.4 77.7l1.5 3.3M221.3 120.4l-0.3 3.1M182.7 171.4l-4.8 2.6M89.6 112.0l0.3 -3.7M189.2 159.6l-3.4 2.9M176.4 45.8l3.9 1.7M101.1 142.0l-1.9 -3.6M128.1 160.0l-2.8 -1.3M217.5 121.3l-0.6 4.3M149.6 148.8l-3.0 -0.0M215.0 59.8l3.2 4.2M230.7 137.2l-1.3 4.3M226.4 74.6l2.2 4.7M195.2 164.7l-2.7 2.4M157.4 149.6l-4.6 0.9M96.6 86.3l1.4 -2.4M163.4 147.1l-5.0 1.9M96.4 104.6l1.0 -4.4M138.7 82.3l4.4 -1.0M136.9 71.6l4.2 -0.9M186.2 161.0l-2.2 1.7M230.6 134.6l-1.4 4.9M180.4 158.5l-3.6 2.4M127.4 87.9l3.8 -2.6M179.5 144.3l-2.8 2.7M135.5 152.3l-5.0 -2.1M120.6 160.0l-2.6 -1.7M127.7 172.3l-4.9 -2.0M131.9 80.4l5.0 -2.0M132.7 145.3l-2.0 -1.1M194.5 154.1l-2.7 3.0M150.4 172.0l-5.2 -0.0M202.9 50.1l3.6 3.2M114.6 89.0l2.8 -3.3M82.5 103.7l0.5 -2.5M161.4 172.1l-4.8 0.9M146.2 159.4l-2.0 -0.1M180.8 153.8l-1.9 1.5M221.5 87.4l1.0 3.0M81.2 152.3l-1.3 -2.4M161.8 147.3l-4.6 1.5M101.2 160.9l-1.9 -2.0M221.8 142.8l-2.1 5.0M191.7 146.0l-3.1 3.9M222.0 113.8l-0.0 2.4M98.3 82.9l1.8 -2.6M131.7 71.2l2.8 -1.0M185.5 46.7l4.6 2.7M189.7 68.0l2.5 2.4M188.7 51.7l2.6 1.8M116.9 150.3l-2.9 -2.8M86.4 135.0l-1.2 -3.9" stroke="#626262" stroke-width="1.4"/><path d="M163.7 140.3l-2.9 1.5M170.3 165.1l-3.3 1.3M148.2 74.7l3.4 0.1M80.3 107.4l0.4 -3.0M101.8 163.1l-3.1 -3.2M224.3 107.8l0.2 3.7M110.2 159.9l-3.3 -3.0M164.7 58.9l3.7 1.2M82.7 141.2l-1.8 -4.8M162.1 161.9l-2.7 0.7M181.1 151.1l-2.5 2.1M154.5 66.2l2.8 0.4M224.1 138.2l-0.8 2.4M121.6 70.1l2.7 -1.5M228.4 106.2l0.3 4.6M179.4 171.2l-2.0 1.0M193.7 164.2l-1.9 1.6M100.8 171.6l-1.9 -1.6M166.5 166.6l-2.0 0.6M149.8 174.5l-4.1 -0.0M200.2 55.5l3.7 3.5M125.8 163.6l-3.0 -1.5M96.7 153.3l-1.8 -2.5M131.1 72.5l2.5 -0.9M145.5 68.8l3.8 -0.1M155.4 158.9l-3.6 0.4M80.6 134.9l-1.1 -4.3M192.1 163.7l-3.6 3.0M136.5 145.5l-3.3 -1.5M165.9 159.6l-5.1 1.7M92.2 128.0l-0.9 -4.7M144.7 56.9l2.8 -0.1M167.6 55.9l2.9 1.0M103.1 89.5l1.7 -2.9M200.4 162.3l-1.5 1.6M227.3 105.0l0.5 5.2M123.3 81.2l3.2 -2.2M227.9 85.7l1.1 3.1M134.1 166.5l-3.4 -1.0M164.6 62.4l2.8 0.9M142.3 78.4l3.1 -0.4M176.1 155.5l-2.0 1.3M105.0 87.7l1.5 -2.2M226.4 96.4l0.5 2.2M232.8 117.2l-0.3 4.4M204.9 159.0l-2.9 3.4M182.2 140.3l-3.0 3.6M110.7 78.3l3.4 -3.3M179.8 168.1l-4.7 2.5M120.1 154.2l-1.8 -1.4M85.7 156.7l-2.2 -3.4M133.4 159.7l-3.7 -1.4M169.9 159.5l-4.5 1.9M187.5 62.0l2.5 2.0M221.9 101.7l0.7 5.2M176.5 52.6l2.3 1.1M179.6 156.9l-3.4 2.3M83.6 135.9l-1.4 -4.7M90.1 149.2l-2.0 -3.6M89.3 99.8l0.9 -3.3M143.5 174.0l-2.9 -0.3M140.4 146.0l-2.5 -0.7M198.1 157.2l-1.6 1.8M132.7 160.2l-4.4 -1.8M154.9 144.9l-2.2 0.4M151.5 142.1l-4.5 0.2M81.6 140.1l-0.9 -2.4M186.3 140.7l-1.3 1.8M74.4 123.7l-0.4 -4.9M144.4 153.4l-3.3 -0.5M125.7 163.2l-2.2 -1.1M97.1 126.0l-0.6 -2.8M148.5 171.5l-3.4 -0.1M95.5 139.0l-1.7 -4.0M118.0 165.7l-3.5 -2.3M145.2 67.7l4.4 -0.1M125.2 147.1l-3.2 -2.5M139.9 166.8l-3.6 -0.7M115.3 163.0l-2.2 -1.6M146.0 147.8l-2.7 -0.3M158.9 57.5l2.1 0.4M143.4 155.9l-5.4 -1.0M94.1 129.5l-0.7 -2.8M168.1 50.7l2.7 0.9M175.0 50.7l2.0 0.9M148.0 74.7l3.8 0.2M91.1 159.3l-2.6 -3.5M77.7 139.3l-1.0 -3.0M136.3 69.6l4.8 -1.0M108.4 85.0l1.7 -2.2M185.0 61.9l3.2 2.4M228.7 118.1l-0.4 4.8M104.6 89.1l2.7 -4.1M120.7 154.9l-3.0 -2.2" stroke="#707070" stroke-width="1"/><path d="M113.1 151.9l-3.4 -3.5M224.8 132.1l-1.1 4.3M92.0 115.8l0.1 -5.4M92.0 100.7l1.1 -3.9M203.0 55.6l3.7 3.7M179.5 145.6l-3.5 3.2M124.6 86.5l3.4 -2.6M104.2 163.1l-3.7 -3.7M190.8 63.5l2.6 2.3M174.1 162.3l-2.5 1.3M78.8 109.7l0.2 -2.6M148.9 155.6l-2.1 -0.0M146.0 169.2l-3.5 -0.3M97.4 116.0l0.1 -4.8M152.5 65.6l2.4 0.3M197.4 54.7l2.7 2.3M104.7 167.2l-2.9 -2.6M172.2 51.7l2.1 0.8M152.2 161.3l-3.3 0.2M187.1 64.3l3.3 2.7M85.5 125.5l-0.4 -2.8M118.1 79.6l4.2 -3.2M197.4 56.3l3.0 2.7M93.3 150.6l-1.7 -2.7M124.0 82.1l4.2 -2.8M124.1 85.2l1.9 -1.4M156.2 72.3l4.4 1.1M206.7 58.7l2.6 2.9M137.7 154.2l-4.6 -1.5M109.7 78.8l3.9 -3.8M159.2 144.3l-2.2 0.7M138.2 156.3l-4.2 -1.2M189.2 152.7l-2.3 2.3M232.9 116.7l-0.3 5.1M174.9 140.2l-3.8 3.4M203.3 143.4l-1.9 3.4M146.4 169.0l-4.5 -0.3M101.1 151.4l-2.7 -3.7M94.6 122.3l-0.5 -4.3M83.4 109.2l0.4 -3.6M145.9 154.2l-3.5 -0.4M168.9 172.1l-5.1 1.6M145.3 60.1l4.2 -0.1M181.1 152.3l-2.9 2.4M98.8 147.1l-2.0 -3.2M122.4 70.8l4.6 -2.4M82.8 131.3l-0.6 -2.7M86.0 104.8l0.9 -4.8M175.4 53.9l3.1 1.5M140.3 167.3l-5.1 -1.0M223.0 132.3l-0.5 2.1M162.3 159.7l-3.8 1.0M98.5 127.4l-1.0 -4.6M148.8 143.5l-3.3 -0.1M145.0 175.8l-4.8 -0.4M173.7 167.0l-4.4 1.9M174.7 153.4l-3.8 2.3M195.6 51.8l3.6 2.8M136.9 164.6l-4.8 -1.4M205.4 62.3l2.0 2.3M88.5 107.9l0.5 -3.8M128.1 73.4l3.1 -1.4M143.8 157.9l-3.3 -0.5M228.9 142.4l-1.2 3.3M83.0 110.2l0.2 -2.1M113.2 164.4l-3.4 -2.6M111.3 170.5l-3.4 -2.4M231.2 89.0l0.9 3.2M123.4 71.7l3.0 -1.6M203.4 57.6l2.5 2.5M203.6 152.7l-1.7 2.3M161.9 139.1l-3.0 1.4M117.1 164.0l-2.2 -1.5M193.5 141.7l-1.6 2.5M200.5 59.9l1.7 1.7M79.5 132.2l-1.0 -4.5M128.9 81.6l4.8 -2.4M88.9 157.0l-1.7 -2.5M103.4 86.4l1.2 -1.9M145.5 151.9l-3.7 -0.5M81.1 102.0l0.5 -2.3M127.2 74.6l4.2 -1.9M91.3 161.5l-3.0 -3.9M130.2 153.5l-4.7 -2.5M164.9 140.8l-4.5 2.4M119.8 175.4l-3.1 -1.6M137.1 144.7l-4.4 -2.0M114.7 80.3l2.4 -2.2M185.5 143.3l-3.1 3.6M104.1 159.3l-3.4 -3.7M227.9 132.5l-0.6 2.7M109.7 90.9l2.9 -4.2M95.9 110.5l0.5 -4.0M153.9 152.1l-4.2 0.4M108.7 147.4l-2.8 -3.8M80.2 147.0l-1.2 -2.6M189.7 59.2l2.1 1.7M178.4 148.8l-2.9 2.3M112.6 153.4l-3.1 -3.1M137.5 143.1l-2.7 -1.2M176.5 155.5l-3.0 1.9M100.2 156.8l-1.6 -1.8M93.4 111.3l0.6 -5.3M84.1 125.2l-0.4 -2.5M228.7 136.2l-1.0 3.5M98.0 154.9l-2.7 -3.7M117.6 70.4l4.6 -2.9M180.9 160.2l-2.7 1.8M108.6 152.0l-1.4 -1.5M123.1 153.3l-3.5 -2.5M162.0 57.1l2.9 0.8M130.7 69.0l2.3 -0.8M150.7 176.6l-3.1 0.0M152.6 156.3l-3.2 0.2M81.5 137.4l-1.0 -3.3M168.4 152.4l-2.1 1.0M204.6 150.3l-2.5 3.6M119.0 158.8l-3.7 -2.6" stroke="#707070" stroke-width="1.4"/><path d="M178.5 158.0l-3.7 2.4M96.7 154.5l-3.1 -4.3M167.5 67.3l2.2 1.0M154.0 60.3l3.7 0.5M112.3 93.4l2.9 -4.3M171.0 140.8l-2.1 1.7M158.7 58.8l4.5 1.0M107.4 167.8l-2.1 -1.7M179.8 141.8l-1.5 1.7M183.2 61.6l3.5 2.5M104.5 157.7l-3.0 -3.2M176.1 143.9l-3.1 2.6M153.6 162.9l-2.8 0.2M192.7 146.5l-1.7 2.3M93.7 103.8l1.0 -4.3M86.6 155.7l-1.4 -2.2M118.0 88.0l2.2 -2.4M87.6 145.7l-1.5 -3.1M179.8 153.0l-2.9 2.2M92.8 104.9l1.1 -5.0M93.1 131.1l-0.6 -2.1M173.8 147.3l-2.7 1.9M93.8 118.5l-0.1 -4.3M183.1 152.8l-1.5 1.3M162.1 169.3l-5.1 1.0M143.0 69.5l4.7 -0.3M187.1 166.1l-3.3 2.3M169.7 57.4l4.3 1.8M85.6 121.7l-0.2 -2.0M97.8 154.2l-1.5 -2.0M169.1 155.7l-4.1 1.8M104.5 172.3l-4.0 -3.3M91.4 151.4l-1.2 -2.0M148.0 174.9l-3.7 -0.1M105.5 154.9l-2.0 -2.2M125.0 172.1l-3.7 -1.7M143.2 60.1l5.0 -0.2M96.1 116.1l0.0 -3.3M180.4 137.2l-3.2 3.9M117.2 172.4l-2.5 -1.4M123.8 161.3l-3.8 -2.2M177.6 155.5l-2.0 1.4M155.5 150.3l-4.2 0.6M206.2 149.2l-2.8 4.3M150.2 144.1l-4.8 -0.1M181.8 152.8l-1.5 1.3M164.1 165.3l-3.8 1.0M111.5 152.9l-1.6 -1.6M96.9 132.5l-0.9 -2.7M202.6 59.5l2.5 2.6M174.3 154.0l-2.5 1.5M159.6 154.6l-3.8 0.9M148.4 61.4l3.5 0.1M130.2 157.2l-2.4 -1.1M150.3 148.2l-2.5 0.1M90.1 142.4l-1.6 -3.5M164.1 149.8l-2.5 1.0M153.1 162.3l-3.7 0.2M87.9 106.9l0.7 -4.1M130.6 148.7l-4.6 -2.8M145.3 152.3l-5.2 -0.8M149.7 149.3l-3.0 -0.0M201.2 142.6l-1.8 3.2M167.9 163.5l-3.1 1.1M144.2 157.5l-2.4 -0.3M157.3 144.9l-5.3 1.1M92.4 108.4l0.4 -2.8M139.4 74.9l4.7 -0.8M85.5 100.1l1.1 -4.2M145.7 154.5l-4.6 -0.6M114.4 164.0l-4.1 -3.1M121.4 150.8l-3.4 -2.8" stroke="#7e7e7e" stroke-width="1"/><path d="M208.3 151.0l-1.1 1.8M154.7 63.2l3.5 0.6M159.3 57.7l2.1 0.4M102.4 92.2l1.2 -2.4M90.4 157.0l-2.8 -4.2M194.2 162.6l-2.8 2.5M106.8 152.4l-2.2 -2.5M75.3 122.9l-0.3 -3.7M96.4 150.2l-1.4 -2.1M164.5 141.7l-2.0 1.1M124.1 163.3l-3.2 -1.7M148.7 60.0l2.7 0.1M157.1 139.5l-4.7 1.2M192.5 141.0l-1.6 2.5M172.1 144.2l-2.3 1.7M94.6 148.1l-2.0 -3.5M189.4 158.9l-2.0 1.8M159.2 154.6l-4.1 0.9M119.5 159.0l-4.4 -3.2M112.2 171.6l-2.0 -1.3M139.5 165.7l-3.9 -0.8M173.2 54.0l2.1 0.9M90.0 113.0l0.3 -4.6M85.0 139.4l-1.6 -4.4M204.4 154.6l-3.3 4.3M122.4 84.5l1.7 -1.4M129.9 71.7l2.7 -1.1M139.5 77.3l4.5 -0.8M96.8 165.8l-3.0 -3.2M90.3 107.0l0.9 -5.0M115.6 147.4l-3.2 -3.6M117.7 163.1l-4.2 -2.9M149.0 61.1l5.2 0.3M165.4 60.5l2.8 1.0M83.1 106.5l0.4 -3.0M91.1 152.5l-1.7 -2.6M189.1 145.2l-3.3 3.9M114.4 152.1l-2.6 -2.5M97.4 142.7l-1.5 -2.9M110.3 84.6l2.6 -3.1M117.2 74.5l3.3 -2.4M191.0 62.0l2.7 2.3M190.1 158.0l-3.6 3.2M201.4 161.6l-3.1 3.3M160.2 62.1l4.9 1.4M151.6 160.3l-4.1 0.1M79.4 139.1l-1.3 -4.0M76.5 140.1l-0.9 -2.6M170.7 60.5l1.9 0.8M115.0 81.4l2.1 -2.0M173.6 148.6l-2.3 1.6M136.6 158.8l-3.8 -1.2M139.9 62.7l5.3 -0.6M126.5 158.9l-2.4 -1.2M75.9 141.7l-1.5 -4.3M140.0 64.1l2.1 -0.3M88.6 147.3l-1.2 -2.2M142.2 71.4l2.8 -0.3M197.6 156.6l-2.4 2.7M192.3 162.1l-2.6 2.3M90.3 138.9l-1.0 -2.6M195.0 60.4l3.3 3.0M155.4 68.5l3.4 0.7M164.6 62.3l2.7 0.9M200.8 148.7l-2.8 4.0M97.5 124.9l-0.5 -3.0M165.1 60.0l3.1 1.1M226.3 122.5l-0.5 3.7M80.7 111.1l0.2 -2.6M170.5 165.5l-3.4 1.3M186.6 163.3l-3.9 2.9M95.9 113.9l0.2 -4.2M143.7 66.2l2.6 -0.2M144.3 144.6l-4.6 -1.0M144.6 174.5l-4.8 -0.5M117.8 161.4l-3.9 -2.8M133.8 170.3l-4.9 -1.5M169.9 148.9l-2.1 1.2M179.6 149.2l-2.8 2.3M96.8 145.6l-1.8 -3.2M115.6 170.8l-4.0 -2.5" stroke="#7e7e7e" stroke-width="1.4"/><path d="M167.0 154.5l-2.4 1.1M89.5 151.6l-1.4 -2.3M79.2 138.0l-1.5 -5.0M194.4 148.3l-2.5 3.2M93.3 126.2l-0.8 -5.0M158.8 160.1l-4.1 0.8M148.8 144.8l-5.1 -0.3M173.6 56.1l3.0 1.4M176.8 156.3l-3.5 2.2M193.8 150.4l-1.4 1.7M200.8 157.1l-2.5 2.9M154.3 157.6l-2.3 0.3M133.9 168.7l-4.4 -1.4M156.8 170.4l-4.8 0.5M173.9 158.2l-2.8 1.5M202.0 150.3l-1.2 1.7M163.1 156.9l-3.3 1.0M137.2 144.9l-4.0 -1.8M187.0 148.2l-3.7 3.8M142.8 153.6l-5.2 -1.1M139.5 171.2l-4.2 -0.8M144.2 71.5l2.6 -0.2M88.7 102.5l0.6 -2.7M184.2 162.1l-2.3 1.7M126.7 149.8l-4.0 -2.8M92.5 136.6l-1.0 -2.8M154.1 141.2l-4.6 0.6M182.4 154.2l-3.7 2.9M80.3 144.8l-1.4 -3.4M95.8 164.3l-2.1 -2.3M143.8 170.0l-4.8 -0.6M84.3 127.0l-0.5 -3.0M166.4 60.9l2.5 0.9M137.9 161.0l-4.8 -1.3M194.5 162.2l-3.1 2.8M203.6 145.3l-2.8 4.6M128.2 159.4l-3.9 -2.0M160.7 157.5l-4.0 1.0M143.2 159.2l-4.2 -0.7M166.5 146.5l-4.4 2.1M126.0 148.5l-2.9 -2.1M108.4 156.8l-1.7 -1.6M182.6 142.7l-2.5 2.7M130.2 146.6l-3.9 -2.6M182.6 167.0l-1.9 1.2M174.2 143.3l-2.4 2.0M151.5 151.5l-4.1 0.1M128.3 166.4l-3.1 -1.3M195.8 146.7l-2.0 2.8M93.2 114.3l0.0 -2.1M95.2 118.2l-0.1 -2.9M91.3 132.3l-0.6 -2.0M156.2 165.0l-2.8 0.4M121.1 154.2l-3.2 -2.4M84.2 140.8l-0.9 -2.2" stroke="#8c8c8c" stroke-width="1"/><path d="M136.5 157.0l-2.2 -0.7M163.8 167.8l-2.9 0.8M160.7 154.9l-3.7 1.0M93.0 123.0l-0.4 -3.6M81.9 107.2l0.3 -2.2M123.1 172.3l-3.2 -1.5M170.2 144.9l-3.7 2.4M103.7 165.0l-3.1 -2.9M160.3 155.3l-2.5 0.7M131.3 171.2l-3.4 -1.1M176.5 166.5l-3.9 1.9M145.4 145.0l-2.1 -0.3M111.6 154.1l-3.7 -3.8M81.7 144.5l-1.1 -2.6M85.6 105.6l0.6 -3.5M125.9 78.0l4.5 -2.4M186.7 155.8l-2.6 2.3M131.0 167.0l-4.4 -1.7M127.2 75.9l4.2 -2.0M152.3 162.7l-4.9 0.2M97.2 127.4l-0.8 -3.8M191.9 58.9l3.3 2.7M129.7 74.3l2.8 -1.2M88.2 159.0l-3.0 -4.4M95.5 148.8l-2.3 -3.9M166.5 162.3l-2.6 0.9M189.9 164.0l-2.1 1.7M177.9 59.8l2.3 1.3M124.1 161.0l-4.0 -2.3M135.1 74.6l3.0 -0.9M137.7 171.6l-4.7 -1.1M175.7 152.6l-3.0 2.0M94.6 148.8l-2.3 -4.0M107.4 164.6l-3.6 -3.2M170.4 168.9l-3.2 1.2M163.3 171.1l-4.8 1.1M98.4 165.9l-2.4 -2.5M171.8 147.2l-2.8 1.8M194.7 144.0l-1.8 2.7M205.5 155.2l-3.0 3.9M143.7 173.9l-3.0 -0.3M148.0 168.5l-4.0 -0.2M149.0 155.3l-4.5 -0.2M185.2 142.4l-2.0 2.5M148.6 146.4l-2.5 -0.1M82.3 146.8l-1.9 -4.2M92.6 130.2l-1.0 -4.3M105.5 168.1l-3.5 -3.0M133.8 145.2l-2.3 -1.2M115.1 168.6l-4.4 -3.0M112.1 159.9l-2.4 -2.1M95.1 124.8l-0.5 -3.1M143.6 154.3l-4.9 -0.9M178.5 159.9l-2.5 1.5M112.7 151.0l-2.1 -2.2M101.7 169.3l-2.8 -2.5" stroke="#8c8c8c" stroke-width="1.4"/><path d="M164.3 164.8l-4.8 1.3M130.2 170.2l-2.5 -0.9M146.4 152.8l-3.7 -0.4M140.8 161.5l-5.0 -1.1M174.6 164.6l-4.8 2.2M125.3 149.7l-3.4 -2.5M89.7 133.6l-0.8 -2.8M108.3 161.0l-2.7 -2.4M94.0 122.1l-0.5 -5.3M157.6 154.9l-5.3 0.9M80.3 114.6l0.0 -2.5M173.5 155.7l-3.5 1.9M86.5 138.9l-0.9 -2.5M103.2 163.2l-2.0 -2.0M158.9 158.7l-3.9 0.8M127.8 160.4l-3.1 -1.5M137.8 143.6l-3.4 -1.5M159.6 141.3l-5.0 1.6M114.7 151.0l-2.7 -2.7M198.2 146.1l-2.0 3.0M108.5 157.0l-2.1 -2.0M98.6 161.2l-2.8 -3.2M82.7 145.6l-2.1 -4.8M80.5 125.1l-0.5 -4.2M82.7 112.9l0.1 -2.1M84.3 148.8l-2.3 -4.7M151.5 145.4l-3.6 0.2M155.4 164.3l-4.9 0.5M142.5 149.6l-2.7 -0.6M93.8 131.1l-1.2 -4.7M173.4 146.4l-2.7 1.9M88.1 110.1l0.4 -4.1M170.7 162.2l-2.9 1.3M90.2 144.6l-1.0 -2.0M114.4 159.5l-4.2 -3.5M108.2 160.9l-1.6 -1.5M125.3 168.9l-3.1 -1.4M131.3 163.9l-2.9 -1.1M156.4 155.1l-3.5 0.5M151.9 160.0l-3.9 0.1M176.2 143.5l-1.7 1.6M99.9 158.2l-1.4 -1.6M162.8 157.5l-4.4 1.2M143.9 152.5l-2.6 -0.4M133.1 155.7l-3.0 -1.2M142.1 156.4l-2.8 -0.5M123.9 147.4l-4.1 -3.5M87.8 134.8l-1.4 -4.8M119.5 145.1l-2.0 -2.0M85.1 112.5l0.3 -4.8M148.6 168.4l-2.1 -0.0M146.2 148.4l-5.0 -0.7M82.7 150.5l-1.0 -2.0M163.8 149.0l-2.5 1.0M196.9 148.2l-2.1 2.9M87.1 138.2l-1.7 -4.8M148.9 143.3l-2.5 -0.1M81.4 130.8l-0.9 -4.2M99.9 157.6l-3.2 -3.8M107.9 163.3l-1.9 -1.7M159.4 167.5l-4.7 0.8M102.7 155.5l-3.0 -3.6" stroke="#9a9a9a" stroke-width="1"/><path d="M166.6 167.3l-2.7 0.9M144.1 161.7l-4.0 -0.5M195.0 151.0l-3.1 3.7M115.7 162.5l-2.2 -1.6M174.3 154.5l-3.7 2.2M97.2 129.3l-0.7 -2.8M152.3 150.7l-3.2 0.2M167.9 168.9l-4.2 1.3M86.4 141.1l-1.5 -3.7M175.6 158.1l-3.1 1.8M149.1 159.2l-2.8 -0.0M88.5 124.6l-0.5 -3.2M174.1 159.5l-4.1 2.1M171.3 159.9l-2.3 1.1M128.2 159.8l-2.5 -1.2M154.7 150.6l-5.1 0.5M172.1 147.5l-3.1 2.0M90.2 110.1l0.3 -2.7M170.0 158.0l-3.8 1.7M176.7 161.7l-3.8 2.1M155.1 167.3l-4.8 0.4M195.2 150.4l-1.3 1.6M84.6 126.0l-0.5 -3.5M118.2 171.0l-3.1 -1.8M156.7 169.9l-2.5 0.3M104.1 166.2l-4.0 -3.7M137.3 158.3l-2.6 -0.7M130.1 145.4l-4.3 -3.0M123.9 163.6l-2.0 -1.0M184.7 161.7l-4.2 3.0M175.7 149.9l-4.0 2.8M153.6 155.4l-3.8 0.3M132.3 166.5l-4.0 -1.4M201.1 154.2l-1.3 1.6M194.3 158.8l-3.7 3.5M165.2 151.3l-4.3 1.7M165.0 151.5l-2.1 0.9M129.2 156.4l-2.3 -1.1M142.6 143.4l-3.7 -1.0M115.4 163.4l-3.6 -2.6M180.3 146.8l-1.9 1.8M122.6 157.8l-3.7 -2.4M149.7 145.4l-3.6 -0.0M131.5 146.7l-2.8 -1.6M189.8 159.0l-3.3 2.8" stroke="#9a9a9a" stroke-width="1.4"/><path d="M154.9 146.0l-2.0 0.4M174.5 157.3l-3.9 2.1M138.7 156.4l-5.0 -1.5M88.8 125.2l-0.7 -5.3M89.5 120.8l-0.3 -5.5M88.7 112.7l0.1 -2.6M200.5 154.7l-1.6 2.0M122.0 149.0l-3.1 -2.6M146.0 149.3l-5.0 -0.7M148.6 164.8l-2.7 -0.1M166.4 151.6l-2.6 1.2M140.3 149.3l-4.2 -1.2M160.9 142.5l-3.0 1.2M117.3 159.2l-2.0 -1.5M149.7 167.6l-4.1 -0.0M151.7 154.7l-4.9 0.1M176.5 144.7l-4.1 3.3M121.8 156.2l-2.0 -1.3M89.7 147.8l-2.4 -4.7M166.3 162.8l-2.9 1.0M191.9 156.4l-2.2 2.1M192.7 158.4l-1.8 1.8M202.9 153.4l-2.4 3.1M155.0 161.9l-2.5 0.3M141.9 152.7l-4.1 -0.9M97.9 159.0l-3.0 -3.6M118.3 155.0l-2.7 -2.1M139.6 143.9l-4.0 -1.5M200.1 149.1l-1.4 2.1M157.3 163.0l-4.3 0.6M148.3 170.6l-4.9 -0.2M140.9 166.5l-4.2 -0.8M88.7 135.7l-0.8 -2.3M126.6 151.9l-4.2 -2.7M128.4 152.9l-4.5 -2.7M88.4 122.0l-0.2 -2.4M88.8 112.7l0.4 -5.3" stroke="#a8a8a8" stroke-width="1"/><path d="M191.2 157.0l-2.7 2.5M186.1 163.3l-2.4 1.7M192.6 146.2l-2.1 2.7M91.8 140.5l-1.7 -4.0M142.3 153.4l-4.9 -1.1M140.9 157.5l-2.6 -0.5M176.6 156.2l-2.0 1.3M115.3 166.9l-4.0 -2.8M121.9 165.7l-4.2 -2.4M103.9 164.6l-3.3 -3.1M144.0 150.1l-4.8 -0.9M115.1 154.8l-2.6 -2.3M93.9 116.5l0.0 -4.1M125.3 170.0l-3.8 -1.7M116.1 164.9l-1.8 -1.2M185.9 155.9l-4.1 3.4M141.9 160.2l-4.1 -0.8M84.9 128.1l-0.6 -3.2M155.0 167.4l-4.7 0.4M189.3 159.6l-3.2 2.8M160.6 151.7l-2.8 0.8M140.2 164.1l-4.0 -0.8M185.0 152.2l-1.7 1.6M90.0 108.1l0.4 -3.1M181.8 160.8l-4.3 2.8M192.4 148.8l-1.4 1.7M147.7 159.1l-3.2 -0.2M198.2 158.8l-2.8 3.0M167.0 161.1l-4.7 1.6M161.2 169.1l-2.5 0.5M89.2 146.3l-2.0 -4.0M153.8 167.1l-3.2 0.2M144.1 153.8l-3.3 -0.5M84.9 105.0l0.6 -3.6M117.7 156.4l-3.7 -3.0M198.2 157.0l-1.5 1.7M139.5 161.2l-3.4 -0.8M112.2 167.9l-2.8 -2.0M147.4 146.4l-2.6 -0.2M136.2 158.8l-4.6 -1.5M154.0 154.8l-2.8 0.3" stroke="#a8a8a8" stroke-width="1.4"/><path d="M128.7 161.8l-2.4 -1.1M122.8 156.9l-4.0 -2.6M178.0 152.4l-3.9 2.8M189.0 145.0l-2.3 2.9M109.8 164.4l-2.0 -1.6M171.4 153.5l-1.8 1.0M111.1 157.0l-2.6 -2.4M127.1 154.6l-3.5 -2.1M135.8 158.7l-3.5 -1.1M199.1 147.8l-2.3 3.3M197.8 153.0l-2.4 2.9M157.7 166.1l-2.1 0.3M179.8 151.5l-4.1 3.1M108.0 165.7l-3.4 -2.9M158.0 146.0l-3.8 0.9M181.2 159.0l-2.6 1.8M141.1 149.9l-3.2 -0.8M160.0 148.6l-4.5 1.2M117.8 151.9l-2.1 -1.9M171.0 155.4l-1.9 1.0M193.7 157.8l-2.7 2.7M126.9 165.2l-2.1 -1.0M120.9 159.7l-2.7 -1.8M197.7 155.5l-3.6 4.0M86.2 122.6l-0.3 -2.9M178.2 151.8l-2.0 1.5M163.3 162.3l-4.1 1.1M150.4 156.0l-4.9 -0.0M184.0 152.2l-2.5 2.2" stroke="#b6b6b6" stroke-width="1"/><path d="M145.5 160.6l-2.0 -0.2M116.4 154.4l-2.0 -1.7M182.4 147.5l-2.7 2.6M128.4 158.3l-2.0 -0.9M121.9 167.3l-3.5 -1.9M148.6 149.2l-5.1 -0.3M110.0 158.2l-2.6 -2.4M145.0 144.5l-2.0 -0.3M113.5 164.9l-2.4 -1.8M141.1 154.7l-3.1 -0.7M88.8 135.0l-0.9 -2.8M141.6 168.9l-4.9 -0.8M182.8 153.1l-3.6 3.0M122.0 150.0l-1.7 -1.3M139.7 153.4l-4.1 -1.1M176.0 144.7l-3.7 3.0M112.2 152.8l-2.7 -2.7M117.0 165.8l-4.5 -3.1M116.4 150.9l-2.9 -2.8M119.0 148.6l-3.2 -3.1M137.3 163.9l-4.3 -1.2M171.6 145.9l-2.9 2.0M194.0 157.2l-3.0 3.0M173.1 155.5l-3.0 1.7M138.9 160.4l-4.5 -1.2M126.8 156.6l-2.5 -1.4M157.6 151.7l-4.6 0.8" stroke="#b6b6b6" stroke-width="1.4"/><path d="M122.6 163.8l-2.7 -1.5M134.6 155.5l-3.4 -1.3M124.2 166.3l-2.2 -1.1M153.5 146.4l-5.0 0.4M165.8 156.1l-4.1 1.5M164.0 156.0l-3.8 1.2M165.7 154.0l-4.8 1.8M163.3 158.5l-5.3 1.5M178.4 160.8l-3.9 2.3M131.9 160.5l-4.5 -1.9M170.9 162.0l-4.1 1.7M139.8 152.3l-3.4 -0.9M156.6 153.8l-2.7 0.5M111.5 153.6l-2.2 -2.1M164.9 145.2l-4.8 2.2" stroke="#c4c4c4" stroke-width="1"/><path d="M185.1 150.4l-2.8 2.7M142.3 152.2l-3.4 -0.7M171.4 155.7l-2.1 1.1M112.3 153.1l-2.6 -2.6M138.2 154.6l-3.7 -1.1M154.4 151.7l-5.1 0.5M151.8 152.7l-3.6 0.2M143.7 159.6l-4.2 -0.6M125.9 162.8l-3.5 -1.8M142.4 160.6l-4.2 -0.7M120.6 149.7l-3.2 -2.8M123.6 151.1l-2.1 -1.5M147.0 149.4l-3.9 -0.4M163.7 148.9l-4.8 1.8M135.5 155.2l-2.9 -1.0M175.1 160.6l-3.1 1.7M163.7 158.4l-2.2 0.7M155.1 157.3l-5.4 0.5M118.1 164.3l-4.3 -2.9M148.7 153.1l-4.3 -0.2M142.3 145.1l-2.9 -0.7M137.9 161.4l-3.3 -0.9" stroke="#c4c4c4" stroke-width="1.4"/><path d="M144.3 154.9l-3.5 -0.5M169.8 147.6l-4.4 2.5M145.2 146.5l-2.8 -0.4M149.3 149.1l-5.3 -0.3M125.0 150.0l-4.2 -3.2M141.2 159.1l-4.8 -1.0M117.9 151.0l-1.5 -1.3M129.0 151.2l-2.1 -1.2M144.1 161.7l-5.1 -0.7M139.6 148.0l-3.6 -1.2" stroke="#d2d2d2" stroke-width="1"/><path d="M148.2 156.0l-3.4 -0.1M151.4 148.0l-5.1 0.1M148.5 156.9l-5.0 -0.3M122.1 150.3l-1.9 -1.5M139.8 156.9l-2.9 -0.7M149.5 158.2l-2.7 -0.0M126.0 156.1l-2.1 -1.2M121.2 150.5l-2.2 -1.8M118.8 151.8l-3.9 -3.5M122.9 155.3l-3.1 -2.1M151.2 152.5l-2.1 0.1M148.9 154.7l-3.1 -0.1" stroke="#d2d2d2" stroke-width="1.4"/><path d="M129.5 153.9l-1.9 -0.9M137.9 157.1l-4.6 -1.4M149.6 151.6l-2.7 -0.0M151.6 154.2l-2.3 0.1M139.6 150.1l-3.4 -1.0M158.6 155.5l-4.6 0.9M137.6 154.0l-4.2 -1.4M143.4 155.0l-4.1 -0.7M139.0 148.7l-3.3 -1.1M152.7 151.4l-2.9 0.2M144.1 156.5l-4.8 -0.8M154.1 147.8l-5.2 0.5M134.4 156.4l-4.9 -1.9" stroke="#e0e0e0" stroke-width="1"/><path d="M149.4 155.1l-4.6 -0.1M129.6 151.4l-4.1 -2.4M124.5 156.9l-2.7 -1.6M160.9 150.3l-4.9 1.4M116.9 154.2l-1.8 -1.5M119.3 153.2l-4.0 -3.4M145.1 151.4l-4.3 -0.6" stroke="#e0e0e0" stroke-width="1.4"/><path d="M149.4 154.8l-4.5 -0.1" stroke="#eeeeee" stroke-width="1"/><path d="M158.4 152.6l-2.2 0.5M132.6 155.3l-3.7 -1.6M131.8 152.1l-2.1 -1.0M136.2 153.6l-3.8 -1.4" stroke="#eeeeee" stroke-width="1.4"/></g><circle cx="148.3" cy="114.5" r="21" fill="none" stroke="#2a2a2a" stroke-width="1"/><circle cx="148.3" cy="114.5" r="24.5" fill="none" stroke="#363636" stroke-width="1.2"/><circle cx="148.3" cy="114.5" r="28" fill="none" stroke="#262626" stroke-width="1"/><path d="M161.6 86.0A31.5 31.5 0 0 1 156.5 144.9" fill="none" stroke="#6a6a6a" stroke-width="2.2" filter="url(#sblur)"/><path d="M139.4 138.9A26.0 26.0 0 0 1 135.3 92.0" fill="none" stroke="#4a4a4a" stroke-width="1.6" filter="url(#sblur)"/><circle cx="148.3" cy="114.5" r="16.8" fill="none" stroke="#9a9a9a" stroke-width="2.4" filter="url(#sblur)"/><path d="M132.9 120.1A16.4 16.4 0 0 1 158.8 101.9" fill="none" stroke="#c8c8c8" stroke-width="1.6" filter="url(#sblur)"/><circle cx="148.3" cy="114.5" r="15.3" fill="#000"/></g><path d="M148.00 23.10A91.40 91.40 0 0 1 151.67 23.17" stroke="#ea5819" stroke-width="5.6" fill="none"/><path d="M151.19 23.16A91.40 91.40 0 0 1 154.85 23.36" stroke="#e35915" stroke-width="5.6" fill="none"/><path d="M154.38 23.32A91.40 91.40 0 0 1 158.03 23.65" stroke="#f57229" stroke-width="5.6" fill="none"/><path d="M157.55 23.60A91.40 91.40 0 0 1 161.19 24.06" stroke="#e16618" stroke-width="5.6" fill="none"/><path d="M160.72 23.99A91.40 91.40 0 0 1 164.34 24.57" stroke="#f1812b" stroke-width="5.6" fill="none"/><path d="M163.87 24.49A91.40 91.40 0 0 1 167.47 25.20" stroke="#eb8827" stroke-width="5.6" fill="none"/><path d="M167.00 25.10A91.40 91.40 0 0 1 170.58 25.93" stroke="#e08a1f" stroke-width="5.6" fill="none"/><path d="M170.11 25.81A91.40 91.40 0 0 1 173.65 26.77" stroke="#edb930" stroke-width="5.6" fill="none"/><path d="M173.19 26.64A91.40 91.40 0 0 1 176.70 27.72" stroke="#d5cf21" stroke-width="5.6" fill="none"/><path d="M176.24 27.57A91.40 91.40 0 0 1 179.71 28.78" stroke="#c6e145" stroke-width="5.6" fill="none"/><path d="M179.26 28.61A91.40 91.40 0 0 1 182.68 29.94" stroke="#9cd74d" stroke-width="5.6" fill="none"/><path d="M182.24 29.76A91.40 91.40 0 0 1 185.61 31.20" stroke="#80d964" stroke-width="5.6" fill="none"/><path d="M185.18 31.00A91.40 91.40 0 0 1 188.50 32.56" stroke="#7cdf9b" stroke-width="5.6" fill="none"/><path d="M188.07 32.35A91.40 91.40 0 0 1 191.33 34.02" stroke="#7be9d5" stroke-width="5.6" fill="none"/><path d="M190.91 33.80A91.40 91.40 0 0 1 194.11 35.59" stroke="#52cae2" stroke-width="5.6" fill="none"/><path d="M193.70 35.35A91.40 91.40 0 0 1 196.84 37.24" stroke="#53c7e9" stroke-width="5.6" fill="none"/><path d="M196.43 36.99A91.40 91.40 0 0 1 199.51 38.99" stroke="#5ed0fc" stroke-width="5.6" fill="none"/><path d="M199.11 38.73A91.40 91.40 0 0 1 202.11 40.84" stroke="#67d6ff" stroke-width="5.6" fill="none"/><path d="M201.72 40.56A91.40 91.40 0 0 1 204.65 42.77" stroke="#59c6fb" stroke-width="5.6" fill="none"/><path d="M204.27 42.48A91.40 91.40 0 0 1 207.12 44.79" stroke="#51bcf4" stroke-width="5.6" fill="none"/><path d="M206.75 44.48A91.40 91.40 0 0 1 209.51 46.90" stroke="#65ceff" stroke-width="5.6" fill="none"/><path d="M209.16 46.58A91.40 91.40 0 0 1 211.84 49.09" stroke="#43aae8" stroke-width="5.6" fill="none"/><path d="M211.49 48.75A91.40 91.40 0 0 1 214.08 51.35" stroke="#5fc4ff" stroke-width="5.6" fill="none"/><path d="M213.75 51.01A91.40 91.40 0 0 1 216.24 53.70" stroke="#49acf0" stroke-width="5.6" fill="none"/><path d="M215.92 53.34A91.40 91.40 0 0 1 218.32 56.12" stroke="#43a4eb" stroke-width="5.6" fill="none"/><path d="M218.02 55.75A91.40 91.40 0 0 1 220.32 58.61" stroke="#41a0e9" stroke-width="5.6" fill="none"/><path d="M220.02 58.23A91.40 91.40 0 0 1 222.22 61.16" stroke="#47a3ef" stroke-width="5.6" fill="none"/><path d="M221.94 60.78A91.40 91.40 0 0 1 224.04 63.79" stroke="#58b1ff" stroke-width="5.6" fill="none"/><path d="M223.77 63.39A91.40 91.40 0 0 1 225.76 66.47" stroke="#4197e8" stroke-width="5.6" fill="none"/><path d="M225.51 66.07A91.40 91.40 0 0 1 227.39 69.22" stroke="#4ea1f5" stroke-width="5.6" fill="none"/><path d="M227.15 68.80A91.40 91.40 0 0 1 228.92 72.01" stroke="#4f9ff6" stroke-width="5.6" fill="none"/><path d="M228.70 71.59A91.40 91.40 0 0 1 230.36 74.86" stroke="#4696ec" stroke-width="5.6" fill="none"/><path d="M230.15 74.43A91.40 91.40 0 0 1 231.69 77.76" stroke="#4ea2f3" stroke-width="5.6" fill="none"/><path d="M231.50 77.32A91.40 91.40 0 0 1 232.92 80.71" stroke="#3e96e2" stroke-width="5.6" fill="none"/><path d="M232.74 80.26A91.40 91.40 0 0 1 234.05 83.69" stroke="#409be3" stroke-width="5.6" fill="none"/><path d="M233.89 83.24A91.40 91.40 0 0 1 235.07 86.71" stroke="#46a5e9" stroke-width="5.6" fill="none"/><path d="M234.93 86.26A91.40 91.40 0 0 1 235.99 89.77" stroke="#59bcfb" stroke-width="5.6" fill="none"/><path d="M235.86 89.31A91.40 91.40 0 0 1 236.80 92.85" stroke="#51b8f3" stroke-width="5.6" fill="none"/><path d="M236.69 92.39A91.40 91.40 0 0 1 237.50 95.97" stroke="#4fb9f0" stroke-width="5.6" fill="none"/><path d="M237.40 95.50A91.40 91.40 0 0 1 238.09 99.10" stroke="#5ac9fb" stroke-width="5.6" fill="none"/><path d="M238.01 98.63A91.40 91.40 0 0 1 238.58 102.25" stroke="#56c7f6" stroke-width="5.6" fill="none"/><path d="M238.51 101.78A91.40 91.40 0 0 1 238.95 105.42" stroke="#51c4f1" stroke-width="5.6" fill="none"/><path d="M238.90 104.95A91.40 91.40 0 0 1 239.21 108.60" stroke="#64d7ff" stroke-width="5.6" fill="none"/><path d="M239.18 108.12A91.40 91.40 0 0 1 239.36 111.79" stroke="#60d5ff" stroke-width="5.6" fill="none"/><path d="M239.34 111.31A91.40 91.40 0 0 1 239.40 114.98" stroke="#50c6ef" stroke-width="5.6" fill="none"/><path d="M239.40 114.50A91.40 91.40 0 0 1 239.33 118.17" stroke="#5cd4fb" stroke-width="5.6" fill="none"/><path d="M239.34 117.69A91.40 91.40 0 0 1 239.14 121.35" stroke="#5bd4f9" stroke-width="5.6" fill="none"/><path d="M239.18 120.88A91.40 91.40 0 0 1 238.85 124.53" stroke="#68e2ff" stroke-width="5.6" fill="none"/><path d="M238.90 124.05A91.40 91.40 0 0 1 238.44 127.69" stroke="#62dcff" stroke-width="5.6" fill="none"/><path d="M238.51 127.22A91.40 91.40 0 0 1 237.93 130.84" stroke="#52ccf0" stroke-width="5.6" fill="none"/><path d="M238.01 130.37A91.40 91.40 0 0 1 237.30 133.97" stroke="#6be4ff" stroke-width="5.6" fill="none"/><path d="M237.40 133.50A91.40 91.40 0 0 1 236.57 137.08" stroke="#4cc5ea" stroke-width="5.6" fill="none"/><path d="M236.69 136.61A91.40 91.40 0 0 1 235.73 140.15" stroke="#57d0f5" stroke-width="5.6" fill="none"/><path d="M235.86 139.69A91.40 91.40 0 0 1 234.78 143.20" stroke="#62dcff" stroke-width="5.6" fill="none"/><path d="M234.93 142.74A91.40 91.40 0 0 1 233.72 146.21" stroke="#4cc6eb" stroke-width="5.6" fill="none"/><path d="M233.89 145.76A91.40 91.40 0 0 1 232.56 149.18" stroke="#59d3f8" stroke-width="5.6" fill="none"/><path d="M232.74 148.74A91.40 91.40 0 0 1 231.30 152.11" stroke="#48c1e7" stroke-width="5.6" fill="none"/><path d="M231.50 151.68A91.40 91.40 0 0 1 229.94 155.00" stroke="#5fd8fe" stroke-width="5.6" fill="none"/><path d="M230.15 154.57A91.40 91.40 0 0 1 228.48 157.83" stroke="#63dcff" stroke-width="5.6" fill="none"/><path d="M228.70 157.41A91.40 91.40 0 0 1 226.91 160.61" stroke="#5cd5fb" stroke-width="5.6" fill="none"/><path d="M227.15 160.20A91.40 91.40 0 0 1 225.26 163.34" stroke="#67e0ff" stroke-width="5.6" fill="none"/><path d="M225.51 162.93A91.40 91.40 0 0 1 223.51 166.01" stroke="#52caf1" stroke-width="5.6" fill="none"/><path d="M223.77 165.61A91.40 91.40 0 0 1 221.66 168.61" stroke="#60d8ff" stroke-width="5.6" fill="none"/><path d="M221.94 168.22A91.40 91.40 0 0 1 219.73 171.15" stroke="#5cd4fb" stroke-width="5.6" fill="none"/><path d="M220.02 170.77A91.40 91.40 0 0 1 217.71 173.62" stroke="#5bd4fb" stroke-width="5.6" fill="none"/><path d="M218.02 173.25A91.40 91.40 0 0 1 215.60 176.01" stroke="#56cff6" stroke-width="5.6" fill="none"/><path d="M215.92 175.66A91.40 91.40 0 0 1 213.41 178.34" stroke="#64ddff" stroke-width="5.6" fill="none"/><path d="M213.75 177.99A91.40 91.40 0 0 1 211.15 180.58" stroke="#68e0ff" stroke-width="5.6" fill="none"/><path d="M211.49 180.25A91.40 91.40 0 0 1 208.80 182.74" stroke="#57cff7" stroke-width="5.6" fill="none"/><path d="M209.16 182.42A91.40 91.40 0 0 1 206.38 184.82" stroke="#5ed6fe" stroke-width="5.6" fill="none"/><path d="M206.75 184.52A91.40 91.40 0 0 1 203.89 186.82" stroke="#47bee8" stroke-width="5.6" fill="none"/><path d="M204.27 186.52A91.40 91.40 0 0 1 201.34 188.72" stroke="#5cd1ff" stroke-width="5.6" fill="none"/><path d="M201.72 188.44A91.40 91.40 0 0 1 198.71 190.54" stroke="#59cbfd" stroke-width="5.6" fill="none"/><path d="M199.11 190.27A91.40 91.40 0 0 1 196.03 192.26" stroke="#64d4ff" stroke-width="5.6" fill="none"/><path d="M196.43 192.01A91.40 91.40 0 0 1 193.28 193.89" stroke="#5dcaff" stroke-width="5.6" fill="none"/><path d="M193.70 193.65A91.40 91.40 0 0 1 190.49 195.42" stroke="#47b2f0" stroke-width="5.6" fill="none"/><path d="M190.91 195.20A91.40 91.40 0 0 1 187.64 196.86" stroke="#49b2f4" stroke-width="5.6" fill="none"/><path d="M188.07 196.65A91.40 91.40 0 0 1 184.74 198.19" stroke="#52b8fe" stroke-width="5.6" fill="none"/><path d="M185.18 198.00A91.40 91.40 0 0 1 181.79 199.42" stroke="#399de7" stroke-width="5.6" fill="none"/><path d="M182.24 199.24A91.40 91.40 0 0 1 178.81 200.55" stroke="#48a9f7" stroke-width="5.6" fill="none"/><path d="M179.26 200.39A91.40 91.40 0 0 1 175.79 201.57" stroke="#3b97ec" stroke-width="5.6" fill="none"/><path d="M176.24 201.43A91.40 91.40 0 0 1 172.73 202.49" stroke="#368dea" stroke-width="5.6" fill="none"/><path d="M173.19 202.36A91.40 91.40 0 0 1 169.65 203.30" stroke="#3283e8" stroke-width="5.6" fill="none"/><path d="M170.11 203.19A91.40 91.40 0 0 1 166.53 204.00" stroke="#4995ff" stroke-width="5.6" fill="none"/><path d="M167.00 203.90A91.40 91.40 0 0 1 163.40 204.59" stroke="#3076eb" stroke-width="5.6" fill="none"/><path d="M163.87 204.51A91.40 91.40 0 0 1 160.25 205.08" stroke="#3376ef" stroke-width="5.6" fill="none"/><path d="M160.72 205.01A91.40 91.40 0 0 1 157.08 205.45" stroke="#387af4" stroke-width="5.6" fill="none"/><path d="M157.55 205.40A91.40 91.40 0 0 1 153.90 205.71" stroke="#4889ff" stroke-width="5.6" fill="none"/><path d="M154.38 205.68A91.40 91.40 0 0 1 150.71 205.86" stroke="#2c6ce9" stroke-width="5.6" fill="none"/><path d="M151.19 205.84A91.40 91.40 0 0 1 147.52 205.90" stroke="#3977f6" stroke-width="5.6" fill="none"/><path d="M148.00 205.90A91.40 91.40 0 0 1 144.33 205.83" stroke="#3d7afa" stroke-width="5.6" fill="none"/><path d="M144.81 205.84A91.40 91.40 0 0 1 141.15 205.64" stroke="#4884ff" stroke-width="5.6" fill="none"/><path d="M141.62 205.68A91.40 91.40 0 0 1 137.97 205.35" stroke="#4580ff" stroke-width="5.6" fill="none"/><path d="M138.45 205.40A91.40 91.40 0 0 1 134.81 204.94" stroke="#467fff" stroke-width="5.6" fill="none"/><path d="M135.28 205.01A91.40 91.40 0 0 1 131.66 204.43" stroke="#2e66ee" stroke-width="5.6" fill="none"/><path d="M132.13 204.51A91.40 91.40 0 0 1 128.53 203.80" stroke="#3167f2" stroke-width="5.6" fill="none"/><path d="M129.00 203.90A91.40 91.40 0 0 1 125.42 203.07" stroke="#2d61ee" stroke-width="5.6" fill="none"/><path d="M125.89 203.19A91.40 91.40 0 0 1 122.35 202.23" stroke="#3d70ff" stroke-width="5.6" fill="none"/><path d="M122.81 202.36A91.40 91.40 0 0 1 119.30 201.28" stroke="#3d6eff" stroke-width="5.6" fill="none"/><path d="M119.76 201.43A91.40 91.40 0 0 1 116.29 200.22" stroke="#1f4fe3" stroke-width="5.6" fill="none"/><path d="M116.74 200.39A91.40 91.40 0 0 1 113.32 199.06" stroke="#2050e4" stroke-width="5.6" fill="none"/><path d="M113.76 199.24A91.40 91.40 0 0 1 110.39 197.80" stroke="#2252e6" stroke-width="5.6" fill="none"/><path d="M110.82 198.00A91.40 91.40 0 0 1 107.50 196.44" stroke="#2252e6" stroke-width="5.6" fill="none"/><path d="M107.93 196.65A91.40 91.40 0 0 1 104.67 194.98" stroke="#2b5bef" stroke-width="5.6" fill="none"/><path d="M105.09 195.20A91.40 91.40 0 0 1 101.89 193.41" stroke="#3164f4" stroke-width="5.6" fill="none"/><path d="M102.30 193.65A91.40 91.40 0 0 1 99.16 191.76" stroke="#2961ea" stroke-width="5.6" fill="none"/><path d="M99.57 192.01A91.40 91.40 0 0 1 96.49 190.01" stroke="#2361e3" stroke-width="5.6" fill="none"/><path d="M96.89 190.27A91.40 91.40 0 0 1 93.89 188.16" stroke="#3679f4" stroke-width="5.6" fill="none"/><path d="M94.28 188.44A91.40 91.40 0 0 1 91.35 186.23" stroke="#357cf3" stroke-width="5.6" fill="none"/><path d="M91.73 186.52A91.40 91.40 0 0 1 88.88 184.21" stroke="#3d86fa" stroke-width="5.6" fill="none"/><path d="M89.25 184.52A91.40 91.40 0 0 1 86.49 182.10" stroke="#4c96ff" stroke-width="5.6" fill="none"/><path d="M86.84 182.42A91.40 91.40 0 0 1 84.16 179.91" stroke="#448fff" stroke-width="5.6" fill="none"/><path d="M84.51 180.25A91.40 91.40 0 0 1 81.92 177.65" stroke="#3f8bf9" stroke-width="5.6" fill="none"/><path d="M82.25 177.99A91.40 91.40 0 0 1 79.76 175.30" stroke="#4391fc" stroke-width="5.6" fill="none"/><path d="M80.08 175.66A91.40 91.40 0 0 1 77.68 172.88" stroke="#4695fe" stroke-width="5.6" fill="none"/><path d="M77.98 173.25A91.40 91.40 0 0 1 75.68 170.39" stroke="#3186e7" stroke-width="5.6" fill="none"/><path d="M75.98 170.77A91.40 91.40 0 0 1 73.78 167.84" stroke="#52aeff" stroke-width="5.6" fill="none"/><path d="M74.06 168.22A91.40 91.40 0 0 1 71.96 165.21" stroke="#50b3ff" stroke-width="5.6" fill="none"/><path d="M72.23 165.61A91.40 91.40 0 0 1 70.24 162.53" stroke="#56c0ff" stroke-width="5.6" fill="none"/><path d="M70.49 162.93A91.40 91.40 0 0 1 68.61 159.78" stroke="#56c8fd" stroke-width="5.6" fill="none"/><path d="M68.85 160.20A91.40 91.40 0 0 1 67.08 156.99" stroke="#4ac3ed" stroke-width="5.6" fill="none"/><path d="M67.30 157.41A91.40 91.40 0 0 1 65.64 154.14" stroke="#4dcdea" stroke-width="5.6" fill="none"/><path d="M65.85 154.57A91.40 91.40 0 0 1 64.31 151.24" stroke="#51cac7" stroke-width="5.6" fill="none"/><path d="M64.50 151.68A91.40 91.40 0 0 1 63.08 148.29" stroke="#73e4c1" stroke-width="5.6" fill="none"/><path d="M63.26 148.74A91.40 91.40 0 0 1 61.95 145.31" stroke="#6cd693" stroke-width="5.6" fill="none"/><path d="M62.11 145.76A91.40 91.40 0 0 1 60.93 142.29" stroke="#7add7b" stroke-width="5.6" fill="none"/><path d="M61.07 142.74A91.40 91.40 0 0 1 60.01 139.23" stroke="#93e56a" stroke-width="5.6" fill="none"/><path d="M60.14 139.69A91.40 91.40 0 0 1 59.20 136.15" stroke="#a7e154" stroke-width="5.6" fill="none"/><path d="M59.31 136.61A91.40 91.40 0 0 1 58.50 133.03" stroke="#c3e547" stroke-width="5.6" fill="none"/><path d="M58.60 133.50A91.40 91.40 0 0 1 57.91 129.90" stroke="#cfd929" stroke-width="5.6" fill="none"/><path d="M57.99 130.37A91.40 91.40 0 0 1 57.42 126.75" stroke="#d7cc1e" stroke-width="5.6" fill="none"/><path d="M57.49 127.22A91.40 91.40 0 0 1 57.05 123.58" stroke="#debf23" stroke-width="5.6" fill="none"/><path d="M57.10 124.05A91.40 91.40 0 0 1 56.79 120.40" stroke="#dfac22" stroke-width="5.6" fill="none"/><path d="M56.82 120.88A91.40 91.40 0 0 1 56.64 117.21" stroke="#eaa32b" stroke-width="5.6" fill="none"/><path d="M56.66 117.69A91.40 91.40 0 0 1 56.60 114.02" stroke="#df851d" stroke-width="5.6" fill="none"/><path d="M56.60 114.50A91.40 91.40 0 0 1 56.67 110.83" stroke="#fd9137" stroke-width="5.6" fill="none"/><path d="M56.66 111.31A91.40 91.40 0 0 1 56.86 107.65" stroke="#f4772a" stroke-width="5.6" fill="none"/><path d="M56.82 108.12A91.40 91.40 0 0 1 57.15 104.47" stroke="#e35415" stroke-width="5.6" fill="none"/><path d="M57.10 104.95A91.40 91.40 0 0 1 57.56 101.31" stroke="#e74f16" stroke-width="5.6" fill="none"/><path d="M57.49 101.78A91.40 91.40 0 0 1 58.07 98.16" stroke="#eb4f18" stroke-width="5.6" fill="none"/><path d="M57.99 98.63A91.40 91.40 0 0 1 58.70 95.03" stroke="#eb4c17" stroke-width="5.6" fill="none"/><path d="M58.60 95.50A91.40 91.40 0 0 1 59.43 91.92" stroke="#e23f0c" stroke-width="5.6" fill="none"/><path d="M59.31 92.39A91.40 91.40 0 0 1 60.27 88.85" stroke="#fd5726" stroke-width="5.6" fill="none"/><path d="M60.14 89.31A91.40 91.40 0 0 1 61.22 85.80" stroke="#ff5d2b" stroke-width="5.6" fill="none"/><path d="M61.07 86.26A91.40 91.40 0 0 1 62.28 82.79" stroke="#ef4f1a" stroke-width="5.6" fill="none"/><path d="M62.11 83.24A91.40 91.40 0 0 1 63.44 79.82" stroke="#ef531b" stroke-width="5.6" fill="none"/><path d="M63.26 80.26A91.40 91.40 0 0 1 64.70 76.89" stroke="#e14a0f" stroke-width="5.6" fill="none"/><path d="M64.50 77.32A91.40 91.40 0 0 1 66.06 74.00" stroke="#e25011" stroke-width="5.6" fill="none"/><path d="M65.85 74.43A91.40 91.40 0 0 1 67.52 71.17" stroke="#ea5e1b" stroke-width="5.6" fill="none"/><path d="M67.30 71.59A91.40 91.40 0 0 1 69.09 68.39" stroke="#e8631b" stroke-width="5.6" fill="none"/><path d="M68.85 68.80A91.40 91.40 0 0 1 70.74 65.66" stroke="#fc7e30" stroke-width="5.6" fill="none"/><path d="M70.49 66.07A91.40 91.40 0 0 1 72.49 62.99" stroke="#e46c1a" stroke-width="5.6" fill="none"/><path d="M72.23 63.39A91.40 91.40 0 0 1 74.34 60.39" stroke="#df6e16" stroke-width="5.6" fill="none"/><path d="M74.06 60.78A91.40 91.40 0 0 1 76.27 57.85" stroke="#ff9539" stroke-width="5.6" fill="none"/><path d="M75.98 58.23A91.40 91.40 0 0 1 78.29 55.38" stroke="#f18b2b" stroke-width="5.6" fill="none"/><path d="M77.98 55.75A91.40 91.40 0 0 1 80.40 52.99" stroke="#e3821e" stroke-width="5.6" fill="none"/><path d="M80.08 53.34A91.40 91.40 0 0 1 82.59 50.66" stroke="#f2962f" stroke-width="5.6" fill="none"/><path d="M82.25 51.01A91.40 91.40 0 0 1 84.85 48.42" stroke="#df881d" stroke-width="5.6" fill="none"/><path d="M84.51 48.75A91.40 91.40 0 0 1 87.20 46.26" stroke="#f19f30" stroke-width="5.6" fill="none"/><path d="M86.84 46.58A91.40 91.40 0 0 1 89.62 44.18" stroke="#ffb541" stroke-width="5.6" fill="none"/><path d="M89.25 44.48A91.40 91.40 0 0 1 92.11 42.18" stroke="#fbb73d" stroke-width="5.6" fill="none"/><path d="M91.73 42.48A91.40 91.40 0 0 1 94.66 40.28" stroke="#f4b837" stroke-width="5.6" fill="none"/><path d="M94.28 40.56A91.40 91.40 0 0 1 97.29 38.46" stroke="#e2af27" stroke-width="5.6" fill="none"/><path d="M96.89 38.73A91.40 91.40 0 0 1 99.97 36.74" stroke="#e5b92b" stroke-width="5.6" fill="none"/><path d="M99.57 36.99A91.40 91.40 0 0 1 102.72 35.11" stroke="#ddb924" stroke-width="5.6" fill="none"/><path d="M102.30 35.35A91.40 91.40 0 0 1 105.51 33.58" stroke="#f1d53a" stroke-width="5.6" fill="none"/><path d="M105.09 33.80A91.40 91.40 0 0 1 108.36 32.14" stroke="#e6d131" stroke-width="5.6" fill="none"/><path d="M107.93 32.35A91.40 91.40 0 0 1 111.26 30.81" stroke="#eede3a" stroke-width="5.6" fill="none"/><path d="M110.82 31.00A91.40 91.40 0 0 1 114.21 29.58" stroke="#dcd32a" stroke-width="5.6" fill="none"/><path d="M113.76 29.76A91.40 91.40 0 0 1 117.19 28.45" stroke="#d7d426" stroke-width="5.6" fill="none"/><path d="M116.74 28.61A91.40 91.40 0 0 1 120.21 27.43" stroke="#e9eb3c" stroke-width="5.6" fill="none"/><path d="M119.76 27.57A91.40 91.40 0 0 1 123.27 26.51" stroke="#ecf144" stroke-width="5.6" fill="none"/><path d="M122.81 26.64A91.40 91.40 0 0 1 126.35 25.70" stroke="#e5ed42" stroke-width="5.6" fill="none"/><path d="M125.89 25.81A91.40 91.40 0 0 1 129.47 25.00" stroke="#e0eb43" stroke-width="5.6" fill="none"/><path d="M129.00 25.10A91.40 91.40 0 0 1 132.60 24.41" stroke="#dceb45" stroke-width="5.6" fill="none"/><path d="M132.13 24.49A91.40 91.40 0 0 1 135.75 23.92" stroke="#d7e945" stroke-width="5.6" fill="none"/><path d="M135.28 23.99A91.40 91.40 0 0 1 138.92 23.55" stroke="#c1d634" stroke-width="5.6" fill="none"/><path d="M138.45 23.60A91.40 91.40 0 0 1 142.10 23.29" stroke="#c9e141" stroke-width="5.6" fill="none"/><path d="M141.62 23.32A91.40 91.40 0 0 1 145.29 23.14" stroke="#c0db3b" stroke-width="5.6" fill="none"/><path d="M144.81 23.16A91.40 91.40 0 0 1 148.48 23.10" stroke="#b0cf2f" stroke-width="5.6" fill="none"/><text x="4.3" y="18.6" font-size="22" font-weight="bold" fill="#fff" font-family="Liberation Sans, sans-serif">a</text><text x="289.5" y="16.2" font-size="17.3" fill="#fff" text-anchor="end" font-family="Liberation Sans, sans-serif">NIRF-IVUS</text><rect x="4.5" y="46.5" width="13" height="133.5" fill="url(#cbar)" stroke="#888" stroke-width="0.8"/><line x1="17.5" y1="46.5" x2="21" y2="46.5" stroke="#ccc" stroke-width="1"/><line x1="17.5" y1="113.5" x2="21" y2="113.5" stroke="#ccc" stroke-width="1"/><line x1="17.5" y1="180" x2="21" y2="180" stroke="#ccc" stroke-width="1"/><text x="20.5" y="51.6" font-size="17" letter-spacing="0.6" fill="#fff" font-family="Liberation Sans, sans-serif">5.3</text><text x="20.5" y="119.3" font-size="17" letter-spacing="0.6" fill="#fff" font-family="Liberation Sans, sans-serif">2.6</text><text x="22" y="185.8" font-size="17" fill="#fff" font-family="Liberation Sans, sans-serif">0</text><text x="3.8" y="204.6" font-size="17" letter-spacing="0.55" fill="#fff" font-family="Liberation Sans, sans-serif">ICG [µM]</text><rect x="217.5" y="204" width="16.5" height="2.2" fill="#fff"/><rect x="3" y="225" width="147" height="109" fill="#fff"/><path d="M144.8 226.8 L95.0 229.0 L67.9 233.6 L45.2 244.9 L22.6 258.5 L6.8 272.0 L3.4 283.3 L4.5 310.5 L9.0 326.3 L22.6 330.9 L108.6 330.9 L135.7 326.3 L147.0 317.3 L147.0 226.8Z M14.5 315.5 L18.4 312.4 L28.6 302.7 L45.7 287.5 L59.4 275.9 L74.7 267.3 L91.8 262.2 L102.0 257.5 L120.0 256.0 L137.9 254.4 L140.0 256.7 L138.5 280.0 L136.7 298.8 L131.0 306.5 L120.0 306.0 L105.5 307.8 L80.0 310.0 L54.2 312.0 L30.0 314.0 L18.7 316.0Z" fill="#f3f1ef" fill-rule="evenodd" stroke="#e2d4c6" stroke-width="0.7"/><path d="M36.3 329.9h1.1v1.1h-1.1zM21.6 301.8h1.1v1.1h-1.1zM31.3 315.5h1.1v1.1h-1.1zM62.9 323.3h1.1v1.1h-1.1zM12.3 292.6h1.1v1.1h-1.1zM142.1 278.3h1.1v1.1h-1.1zM31.5 328.1h1.1v1.1h-1.1zM55.4 320.7h1.1v1.1h-1.1zM17.3 300.2h1.1v1.1h-1.1zM106.2 328.5h1.1v1.1h-1.1zM13.5 323.5h1.1v1.1h-1.1zM35.3 251.6h1.1v1.1h-1.1zM42.2 271.2h1.1v1.1h-1.1zM58.4 315.9h1.1v1.1h-1.1zM134.0 244.1h1.1v1.1h-1.1zM61.3 243.1h1.1v1.1h-1.1zM28.0 272.5h1.1v1.1h-1.1zM37.1 269.7h1.1v1.1h-1.1zM68.6 270.6h1.1v1.1h-1.1zM89.5 256.5h1.1v1.1h-1.1zM18.7 281.8h1.1v1.1h-1.1zM55.9 313.0h1.1v1.1h-1.1zM125.8 247.9h1.1v1.1h-1.1zM131.7 228.6h1.1v1.1h-1.1zM144.9 307.8h1.1v1.1h-1.1zM29.1 330.7h1.1v1.1h-1.1zM67.9 234.1h1.1v1.1h-1.1zM72.6 241.8h1.1v1.1h-1.1zM20.9 288.3h1.1v1.1h-1.1zM69.5 238.8h1.1v1.1h-1.1zM60.9 264.3h1.1v1.1h-1.1zM68.6 236.8h1.1v1.1h-1.1zM56.5 272.1h1.1v1.1h-1.1zM106.7 246.9h1.1v1.1h-1.1zM36.7 282.3h1.1v1.1h-1.1zM4.0 291.8h1.1v1.1h-1.1zM136.6 306.0h1.1v1.1h-1.1zM35.9 257.3h1.1v1.1h-1.1zM57.3 327.6h1.1v1.1h-1.1zM94.9 329.3h1.1v1.1h-1.1zM127.3 246.3h1.1v1.1h-1.1zM57.4 329.5h1.1v1.1h-1.1zM140.6 304.4h1.1v1.1h-1.1zM56.2 271.6h1.1v1.1h-1.1zM126.2 254.3h1.1v1.1h-1.1zM13.1 304.9h1.1v1.1h-1.1zM42.8 270.8h1.1v1.1h-1.1zM43.3 256.8h1.1v1.1h-1.1zM43.8 321.8h1.1v1.1h-1.1zM63.5 264.4h1.1v1.1h-1.1zM144.9 311.1h1.1v1.1h-1.1zM112.9 252.2h1.1v1.1h-1.1zM117.8 311.5h1.1v1.1h-1.1zM138.3 310.7h1.1v1.1h-1.1zM23.1 291.5h1.1v1.1h-1.1zM103.7 234.5h1.1v1.1h-1.1zM71.0 319.7h1.1v1.1h-1.1zM136.1 325.9h1.1v1.1h-1.1zM16.6 291.2h1.1v1.1h-1.1zM138.2 318.6h1.1v1.1h-1.1zM124.8 313.8h1.1v1.1h-1.1zM49.9 257.3h1.1v1.1h-1.1zM55.6 260.6h1.1v1.1h-1.1zM79.4 237.4h1.1v1.1h-1.1zM60.2 272.0h1.1v1.1h-1.1zM118.0 235.9h1.1v1.1h-1.1zM35.7 257.0h1.1v1.1h-1.1zM51.0 321.1h1.1v1.1h-1.1zM85.7 327.0h1.1v1.1h-1.1zM22.5 260.6h1.1v1.1h-1.1zM62.9 243.4h1.1v1.1h-1.1zM115.0 231.6h1.1v1.1h-1.1zM140.7 288.0h1.1v1.1h-1.1zM134.8 325.6h1.1v1.1h-1.1zM75.0 265.0h1.1v1.1h-1.1zM73.0 238.9h1.1v1.1h-1.1zM145.8 283.2h1.1v1.1h-1.1zM140.7 256.5h1.1v1.1h-1.1zM35.0 282.4h1.1v1.1h-1.1zM115.7 314.9h1.1v1.1h-1.1zM98.2 238.5h1.1v1.1h-1.1zM57.6 328.0h1.1v1.1h-1.1zM94.4 240.6h1.1v1.1h-1.1zM104.2 233.7h1.1v1.1h-1.1zM30.1 288.2h1.1v1.1h-1.1zM21.7 330.1h1.1v1.1h-1.1zM144.9 236.8h1.1v1.1h-1.1zM142.2 295.9h1.1v1.1h-1.1zM73.1 243.5h1.1v1.1h-1.1zM37.7 264.8h1.1v1.1h-1.1zM53.9 265.5h1.1v1.1h-1.1zM95.4 229.2h1.1v1.1h-1.1zM23.7 302.4h1.1v1.1h-1.1zM56.0 264.9h1.1v1.1h-1.1zM85.5 257.9h1.1v1.1h-1.1zM98.1 310.7h1.1v1.1h-1.1zM88.9 253.4h1.1v1.1h-1.1zM107.3 243.9h1.1v1.1h-1.1zM16.0 311.4h1.1v1.1h-1.1zM114.6 248.7h1.1v1.1h-1.1zM96.5 252.6h1.1v1.1h-1.1zM132.6 246.5h1.1v1.1h-1.1zM108.6 248.1h1.1v1.1h-1.1zM51.4 318.2h1.1v1.1h-1.1zM63.9 324.3h1.1v1.1h-1.1zM17.1 280.7h1.1v1.1h-1.1zM107.3 328.7h1.1v1.1h-1.1zM12.4 278.2h1.1v1.1h-1.1zM105.3 249.6h1.1v1.1h-1.1zM41.7 281.9h1.1v1.1h-1.1zM106.1 245.6h1.1v1.1h-1.1zM130.4 310.0h1.1v1.1h-1.1zM77.4 321.5h1.1v1.1h-1.1zM103.5 324.1h1.1v1.1h-1.1zM71.9 249.1h1.1v1.1h-1.1zM90.8 246.9h1.1v1.1h-1.1zM42.2 273.5h1.1v1.1h-1.1zM37.8 289.7h1.1v1.1h-1.1zM126.5 325.5h1.1v1.1h-1.1zM20.4 267.1h1.1v1.1h-1.1zM141.9 291.2h1.1v1.1h-1.1zM76.6 265.6h1.1v1.1h-1.1zM92.9 237.4h1.1v1.1h-1.1zM83.5 246.6h1.1v1.1h-1.1zM95.8 233.1h1.1v1.1h-1.1zM52.3 266.9h1.1v1.1h-1.1zM49.0 278.1h1.1v1.1h-1.1zM26.3 278.5h1.1v1.1h-1.1zM115.1 320.9h1.1v1.1h-1.1zM121.0 242.4h1.1v1.1h-1.1zM20.3 325.6h1.1v1.1h-1.1zM137.6 305.3h1.1v1.1h-1.1zM86.3 328.8h1.1v1.1h-1.1zM119.5 322.7h1.1v1.1h-1.1zM43.5 324.3h1.1v1.1h-1.1zM106.1 245.7h1.1v1.1h-1.1zM95.5 256.9h1.1v1.1h-1.1zM115.9 228.2h1.1v1.1h-1.1zM57.1 260.8h1.1v1.1h-1.1zM17.8 317.1h1.1v1.1h-1.1zM68.9 261.3h1.1v1.1h-1.1zM90.4 310.6h1.1v1.1h-1.1zM64.4 238.8h1.1v1.1h-1.1zM68.3 255.1h1.1v1.1h-1.1zM138.1 241.3h1.1v1.1h-1.1zM56.7 312.0h1.1v1.1h-1.1zM47.1 248.9h1.1v1.1h-1.1zM137.7 289.5h1.1v1.1h-1.1zM135.6 249.1h1.1v1.1h-1.1zM127.8 242.4h1.1v1.1h-1.1zM139.4 267.2h1.1v1.1h-1.1zM67.7 256.5h1.1v1.1h-1.1zM14.0 273.1h1.1v1.1h-1.1zM76.0 261.5h1.1v1.1h-1.1zM88.1 236.1h1.1v1.1h-1.1zM106.2 229.5h1.1v1.1h-1.1zM83.2 327.3h1.1v1.1h-1.1zM109.2 235.9h1.1v1.1h-1.1zM56.1 321.3h1.1v1.1h-1.1zM64.6 245.9h1.1v1.1h-1.1zM19.6 269.5h1.1v1.1h-1.1zM115.1 242.9h1.1v1.1h-1.1zM95.3 258.1h1.1v1.1h-1.1zM94.6 312.5h1.1v1.1h-1.1zM7.0 300.9h1.1v1.1h-1.1zM109.0 308.0h1.1v1.1h-1.1zM53.9 330.6h1.1v1.1h-1.1zM47.4 322.1h1.1v1.1h-1.1zM22.9 274.8h1.1v1.1h-1.1zM114.3 321.3h1.1v1.1h-1.1zM143.8 308.0h1.1v1.1h-1.1zM133.1 237.8h1.1v1.1h-1.1zM5.2 288.4h1.1v1.1h-1.1zM144.5 293.3h1.1v1.1h-1.1zM21.9 293.3h1.1v1.1h-1.1zM52.0 325.3h1.1v1.1h-1.1zM35.4 266.0h1.1v1.1h-1.1zM86.0 247.4h1.1v1.1h-1.1zM69.6 257.4h1.1v1.1h-1.1zM109.1 311.5h1.1v1.1h-1.1zM88.6 319.6h1.1v1.1h-1.1zM16.9 267.2h1.1v1.1h-1.1zM50.4 321.7h1.1v1.1h-1.1zM76.2 266.0h1.1v1.1h-1.1zM101.0 329.0h1.1v1.1h-1.1zM125.0 312.6h1.1v1.1h-1.1zM100.9 312.6h1.1v1.1h-1.1zM49.6 253.7h1.1v1.1h-1.1zM52.5 279.6h1.1v1.1h-1.1zM129.7 250.8h1.1v1.1h-1.1zM60.6 253.5h1.1v1.1h-1.1zM94.6 318.5h1.1v1.1h-1.1zM114.1 245.7h1.1v1.1h-1.1zM11.9 298.0h1.1v1.1h-1.1zM86.0 321.4h1.1v1.1h-1.1zM8.0 300.1h1.1v1.1h-1.1zM14.6 318.0h1.1v1.1h-1.1zM42.3 319.8h1.1v1.1h-1.1zM19.8 288.3h1.1v1.1h-1.1zM23.1 329.2h1.1v1.1h-1.1zM26.5 269.1h1.1v1.1h-1.1zM42.6 271.8h1.1v1.1h-1.1zM68.7 250.6h1.1v1.1h-1.1zM124.2 321.4h1.1v1.1h-1.1zM65.9 320.3h1.1v1.1h-1.1zM98.8 249.9h1.1v1.1h-1.1zM18.5 321.6h1.1v1.1h-1.1zM14.6 292.1h1.1v1.1h-1.1zM90.5 244.9h1.1v1.1h-1.1zM67.9 319.0h1.1v1.1h-1.1zM10.4 326.2h1.1v1.1h-1.1zM36.3 258.8h1.1v1.1h-1.1zM84.2 253.6h1.1v1.1h-1.1zM63.0 326.1h1.1v1.1h-1.1zM19.8 301.4h1.1v1.1h-1.1zM49.1 270.6h1.1v1.1h-1.1zM74.2 233.1h1.1v1.1h-1.1zM60.7 266.4h1.1v1.1h-1.1zM64.7 256.3h1.1v1.1h-1.1zM120.5 228.6h1.1v1.1h-1.1zM4.4 291.2h1.1v1.1h-1.1zM34.7 278.8h1.1v1.1h-1.1zM85.4 259.4h1.1v1.1h-1.1zM74.6 319.7h1.1v1.1h-1.1zM69.1 316.8h1.1v1.1h-1.1zM46.0 244.8h1.1v1.1h-1.1zM62.2 257.4h1.1v1.1h-1.1zM109.9 238.2h1.1v1.1h-1.1zM109.3 248.9h1.1v1.1h-1.1zM63.0 248.5h1.1v1.1h-1.1zM138.9 275.2h1.1v1.1h-1.1zM132.7 244.5h1.1v1.1h-1.1zM7.3 291.5h1.1v1.1h-1.1zM96.8 321.9h1.1v1.1h-1.1zM30.0 323.6h1.1v1.1h-1.1zM50.9 270.6h1.1v1.1h-1.1zM87.6 321.4h1.1v1.1h-1.1zM96.5 239.1h1.1v1.1h-1.1zM100.3 239.2h1.1v1.1h-1.1zM59.9 259.7h1.1v1.1h-1.1zM50.1 256.7h1.1v1.1h-1.1zM5.3 304.2h1.1v1.1h-1.1zM60.6 245.4h1.1v1.1h-1.1zM31.9 286.2h1.1v1.1h-1.1zM63.6 258.0h1.1v1.1h-1.1zM115.2 234.7h1.1v1.1h-1.1zM101.1 247.9h1.1v1.1h-1.1zM25.7 299.9h1.1v1.1h-1.1zM142.5 307.2h1.1v1.1h-1.1zM6.9 272.4h1.1v1.1h-1.1zM79.6 257.8h1.1v1.1h-1.1zM63.0 327.7h1.1v1.1h-1.1zM57.8 253.6h1.1v1.1h-1.1zM67.9 326.9h1.1v1.1h-1.1zM9.2 275.9h1.1v1.1h-1.1zM49.7 261.2h1.1v1.1h-1.1zM104.7 239.4h1.1v1.1h-1.1zM142.7 300.5h1.1v1.1h-1.1zM136.9 242.6h1.1v1.1h-1.1zM140.7 241.5h1.1v1.1h-1.1zM59.0 242.5h1.1v1.1h-1.1zM21.5 265.0h1.1v1.1h-1.1zM13.0 289.0h1.1v1.1h-1.1zM113.2 240.7h1.1v1.1h-1.1zM105.6 309.1h1.1v1.1h-1.1zM90.4 260.0h1.1v1.1h-1.1zM138.5 241.6h1.1v1.1h-1.1zM97.6 318.4h1.1v1.1h-1.1zM20.7 260.2h1.1v1.1h-1.1zM137.3 316.4h1.1v1.1h-1.1zM9.2 278.8h1.1v1.1h-1.1zM22.5 287.4h1.1v1.1h-1.1zM69.8 244.0h1.1v1.1h-1.1zM64.0 259.0h1.1v1.1h-1.1zM145.3 259.3h1.1v1.1h-1.1zM12.7 285.2h1.1v1.1h-1.1zM73.0 263.9h1.1v1.1h-1.1zM144.5 317.0h1.1v1.1h-1.1zM63.2 240.1h1.1v1.1h-1.1zM132.5 312.6h1.1v1.1h-1.1zM37.4 282.0h1.1v1.1h-1.1zM23.6 330.2h1.1v1.1h-1.1zM82.0 256.5h1.1v1.1h-1.1zM91.5 232.2h1.1v1.1h-1.1zM81.4 312.0h1.1v1.1h-1.1zM38.1 329.2h1.1v1.1h-1.1zM145.3 263.6h1.1v1.1h-1.1zM142.8 235.5h1.1v1.1h-1.1zM144.3 305.0h1.1v1.1h-1.1zM26.5 272.3h1.1v1.1h-1.1zM101.0 252.7h1.1v1.1h-1.1zM25.3 287.1h1.1v1.1h-1.1zM5.7 286.9h1.1v1.1h-1.1zM73.2 237.0h1.1v1.1h-1.1zM130.1 252.3h1.1v1.1h-1.1zM68.1 241.2h1.1v1.1h-1.1zM48.1 313.1h1.1v1.1h-1.1zM45.2 280.6h1.1v1.1h-1.1zM69.4 259.3h1.1v1.1h-1.1zM56.7 325.6h1.1v1.1h-1.1zM106.2 315.8h1.1v1.1h-1.1zM46.0 256.7h1.1v1.1h-1.1zM81.5 235.6h1.1v1.1h-1.1zM118.7 247.0h1.1v1.1h-1.1zM133.7 253.3h1.1v1.1h-1.1zM21.1 298.3h1.1v1.1h-1.1zM28.8 330.8h1.1v1.1h-1.1zM17.6 319.0h1.1v1.1h-1.1zM37.6 252.1h1.1v1.1h-1.1zM64.0 239.7h1.1v1.1h-1.1zM114.7 245.7h1.1v1.1h-1.1zM43.2 262.2h1.1v1.1h-1.1zM121.4 229.1h1.1v1.1h-1.1zM111.5 255.5h1.1v1.1h-1.1zM99.0 330.5h1.1v1.1h-1.1zM37.0 260.3h1.1v1.1h-1.1zM144.1 248.3h1.1v1.1h-1.1zM106.3 314.8h1.1v1.1h-1.1zM27.0 302.6h1.1v1.1h-1.1zM21.6 318.1h1.1v1.1h-1.1zM5.6 291.0h1.1v1.1h-1.1zM13.3 269.2h1.1v1.1h-1.1zM9.4 300.0h1.1v1.1h-1.1zM129.9 227.7h1.1v1.1h-1.1zM84.9 330.5h1.1v1.1h-1.1zM48.8 322.6h1.1v1.1h-1.1zM82.3 249.4h1.1v1.1h-1.1zM115.3 249.2h1.1v1.1h-1.1zM89.4 309.3h1.1v1.1h-1.1zM24.5 304.1h1.1v1.1h-1.1zM77.2 240.4h1.1v1.1h-1.1zM127.0 249.3h1.1v1.1h-1.1zM81.1 310.1h1.1v1.1h-1.1zM64.1 262.4h1.1v1.1h-1.1zM28.1 280.1h1.1v1.1h-1.1zM21.6 317.5h1.1v1.1h-1.1zM126.2 324.5h1.1v1.1h-1.1zM82.4 231.6h1.1v1.1h-1.1zM123.3 321.9h1.1v1.1h-1.1zM84.6 236.2h1.1v1.1h-1.1zM44.1 271.3h1.1v1.1h-1.1zM22.8 263.0h1.1v1.1h-1.1zM83.9 234.1h1.1v1.1h-1.1zM138.8 236.8h1.1v1.1h-1.1zM120.3 318.6h1.1v1.1h-1.1zM120.5 318.5h1.1v1.1h-1.1zM141.9 295.8h1.1v1.1h-1.1zM80.8 327.4h1.1v1.1h-1.1zM35.6 314.1h1.1v1.1h-1.1zM141.2 234.7h1.1v1.1h-1.1zM14.0 269.5h1.1v1.1h-1.1zM41.8 268.2h1.1v1.1h-1.1zM17.0 290.2h1.1v1.1h-1.1zM51.1 261.6h1.1v1.1h-1.1zM111.8 314.5h1.1v1.1h-1.1zM41.6 262.6h1.1v1.1h-1.1zM83.0 257.3h1.1v1.1h-1.1zM115.9 234.2h1.1v1.1h-1.1zM58.0 250.8h1.1v1.1h-1.1zM65.6 263.9h1.1v1.1h-1.1zM38.4 327.0h1.1v1.1h-1.1zM110.4 248.3h1.1v1.1h-1.1zM138.1 294.4h1.1v1.1h-1.1zM17.6 280.9h1.1v1.1h-1.1zM138.1 310.0h1.1v1.1h-1.1zM52.0 329.2h1.1v1.1h-1.1zM69.4 316.7h1.1v1.1h-1.1zM50.9 258.8h1.1v1.1h-1.1zM94.1 316.9h1.1v1.1h-1.1zM128.6 249.8h1.1v1.1h-1.1zM145.9 289.5h1.1v1.1h-1.1zM82.5 328.5h1.1v1.1h-1.1zM83.1 263.2h1.1v1.1h-1.1zM100.0 251.4h1.1v1.1h-1.1zM77.9 245.7h1.1v1.1h-1.1zM36.9 266.4h1.1v1.1h-1.1zM105.2 314.1h1.1v1.1h-1.1zM12.8 279.4h1.1v1.1h-1.1zM127.0 235.6h1.1v1.1h-1.1zM46.9 323.4h1.1v1.1h-1.1zM7.9 298.6h1.1v1.1h-1.1zM88.8 254.3h1.1v1.1h-1.1zM14.4 280.2h1.1v1.1h-1.1zM12.4 288.0h1.1v1.1h-1.1zM33.5 278.6h1.1v1.1h-1.1zM144.6 299.5h1.1v1.1h-1.1zM85.4 311.1h1.1v1.1h-1.1zM4.0 293.5h1.1v1.1h-1.1zM113.8 317.5h1.1v1.1h-1.1zM79.3 237.6h1.1v1.1h-1.1zM64.8 254.1h1.1v1.1h-1.1zM77.3 238.5h1.1v1.1h-1.1zM20.3 328.1h1.1v1.1h-1.1zM72.0 311.1h1.1v1.1h-1.1zM92.1 323.2h1.1v1.1h-1.1zM24.8 299.4h1.1v1.1h-1.1zM86.4 230.6h1.1v1.1h-1.1zM146.3 251.3h1.1v1.1h-1.1zM74.3 320.0h1.1v1.1h-1.1zM106.7 322.2h1.1v1.1h-1.1zM25.8 319.7h1.1v1.1h-1.1zM62.0 326.3h1.1v1.1h-1.1zM6.7 306.1h1.1v1.1h-1.1zM88.0 255.2h1.1v1.1h-1.1zM144.3 281.2h1.1v1.1h-1.1zM43.7 281.0h1.1v1.1h-1.1zM108.3 316.3h1.1v1.1h-1.1zM131.7 234.0h1.1v1.1h-1.1zM60.0 326.3h1.1v1.1h-1.1zM139.2 286.4h1.1v1.1h-1.1zM109.1 231.8h1.1v1.1h-1.1zM44.6 283.0h1.1v1.1h-1.1zM79.2 240.2h1.1v1.1h-1.1zM30.7 282.2h1.1v1.1h-1.1zM133.2 229.1h1.1v1.1h-1.1zM88.3 256.7h1.1v1.1h-1.1zM45.1 323.5h1.1v1.1h-1.1zM41.9 317.5h1.1v1.1h-1.1zM141.1 318.6h1.1v1.1h-1.1zM82.1 252.4h1.1v1.1h-1.1zM70.0 319.9h1.1v1.1h-1.1zM20.6 265.9h1.1v1.1h-1.1zM19.6 306.1h1.1v1.1h-1.1zM35.1 288.2h1.1v1.1h-1.1zM26.7 258.2h1.1v1.1h-1.1zM33.5 277.1h1.1v1.1h-1.1zM82.4 239.6h1.1v1.1h-1.1zM82.7 321.9h1.1v1.1h-1.1zM91.7 231.5h1.1v1.1h-1.1zM106.2 245.6h1.1v1.1h-1.1zM48.6 257.3h1.1v1.1h-1.1zM86.0 320.5h1.1v1.1h-1.1zM134.8 241.1h1.1v1.1h-1.1zM40.5 313.2h1.1v1.1h-1.1zM20.7 267.3h1.1v1.1h-1.1zM67.5 237.5h1.1v1.1h-1.1zM41.7 252.6h1.1v1.1h-1.1zM92.4 327.9h1.1v1.1h-1.1zM30.4 268.0h1.1v1.1h-1.1zM35.7 264.3h1.1v1.1h-1.1zM26.1 324.7h1.1v1.1h-1.1zM122.6 243.0h1.1v1.1h-1.1zM7.8 273.4h1.1v1.1h-1.1zM54.9 322.6h1.1v1.1h-1.1zM32.8 321.6h1.1v1.1h-1.1zM131.6 313.6h1.1v1.1h-1.1zM25.0 321.4h1.1v1.1h-1.1zM142.8 272.7h1.1v1.1h-1.1zM122.3 231.8h1.1v1.1h-1.1zM63.6 244.2h1.1v1.1h-1.1zM144.6 234.8h1.1v1.1h-1.1zM118.2 323.4h1.1v1.1h-1.1zM63.9 263.8h1.1v1.1h-1.1zM75.9 322.3h1.1v1.1h-1.1zM137.4 233.3h1.1v1.1h-1.1zM66.2 249.7h1.1v1.1h-1.1zM142.7 286.3h1.1v1.1h-1.1zM28.3 272.3h1.1v1.1h-1.1zM51.4 316.5h1.1v1.1h-1.1zM57.1 251.7h1.1v1.1h-1.1zM141.6 297.3h1.1v1.1h-1.1zM92.6 245.4h1.1v1.1h-1.1zM131.8 231.3h1.1v1.1h-1.1zM75.4 264.5h1.1v1.1h-1.1zM65.9 252.4h1.1v1.1h-1.1zM15.3 294.7h1.1v1.1h-1.1zM74.6 241.6h1.1v1.1h-1.1zM36.3 264.2h1.1v1.1h-1.1zM59.4 250.7h1.1v1.1h-1.1zM45.1 287.5h1.1v1.1h-1.1zM19.1 318.6h1.1v1.1h-1.1zM54.6 245.0h1.1v1.1h-1.1zM105.7 239.7h1.1v1.1h-1.1zM130.0 243.5h1.1v1.1h-1.1zM27.4 282.3h1.1v1.1h-1.1zM53.4 277.1h1.1v1.1h-1.1zM31.5 316.3h1.1v1.1h-1.1zM22.5 285.2h1.1v1.1h-1.1zM35.3 256.5h1.1v1.1h-1.1zM6.4 286.4h1.1v1.1h-1.1zM114.3 323.9h1.1v1.1h-1.1zM74.4 319.3h1.1v1.1h-1.1zM21.7 277.3h1.1v1.1h-1.1zM111.4 229.0h1.1v1.1h-1.1zM44.0 286.3h1.1v1.1h-1.1zM20.0 282.2h1.1v1.1h-1.1zM145.7 237.3h1.1v1.1h-1.1zM125.5 245.4h1.1v1.1h-1.1zM139.3 299.1h1.1v1.1h-1.1zM39.5 278.1h1.1v1.1h-1.1zM109.4 315.6h1.1v1.1h-1.1zM137.6 244.3h1.1v1.1h-1.1zM110.7 330.0h1.1v1.1h-1.1zM109.2 322.9h1.1v1.1h-1.1zM16.6 264.8h1.1v1.1h-1.1zM116.2 308.0h1.1v1.1h-1.1zM29.0 255.8h1.1v1.1h-1.1zM136.7 305.2h1.1v1.1h-1.1zM68.8 251.0h1.1v1.1h-1.1zM18.4 274.5h1.1v1.1h-1.1zM32.5 266.3h1.1v1.1h-1.1zM114.1 312.3h1.1v1.1h-1.1zM114.6 245.0h1.1v1.1h-1.1zM47.0 285.7h1.1v1.1h-1.1zM15.3 272.6h1.1v1.1h-1.1zM79.3 314.3h1.1v1.1h-1.1zM67.8 256.5h1.1v1.1h-1.1zM7.5 303.2h1.1v1.1h-1.1zM12.8 316.1h1.1v1.1h-1.1zM109.6 239.3h1.1v1.1h-1.1zM73.3 262.7h1.1v1.1h-1.1zM65.5 260.3h1.1v1.1h-1.1zM55.7 256.0h1.1v1.1h-1.1zM104.1 233.3h1.1v1.1h-1.1zM115.6 256.3h1.1v1.1h-1.1zM124.2 229.4h1.1v1.1h-1.1zM121.6 244.9h1.1v1.1h-1.1zM57.9 265.6h1.1v1.1h-1.1zM49.0 269.7h1.1v1.1h-1.1zM47.4 270.6h1.1v1.1h-1.1zM34.7 282.6h1.1v1.1h-1.1zM54.0 325.0h1.1v1.1h-1.1zM31.1 316.9h1.1v1.1h-1.1zM50.8 272.5h1.1v1.1h-1.1zM83.5 327.2h1.1v1.1h-1.1zM51.3 245.0h1.1v1.1h-1.1zM100.4 243.7h1.1v1.1h-1.1zM146.9 248.0h1.1v1.1h-1.1zM54.1 319.3h1.1v1.1h-1.1zM132.9 305.1h1.1v1.1h-1.1zM37.4 288.6h1.1v1.1h-1.1zM146.4 275.2h1.1v1.1h-1.1zM59.7 317.8h1.1v1.1h-1.1zM80.2 233.3h1.1v1.1h-1.1zM85.8 247.2h1.1v1.1h-1.1zM44.3 249.8h1.1v1.1h-1.1zM18.9 289.7h1.1v1.1h-1.1zM104.1 329.1h1.1v1.1h-1.1zM143.7 243.3h1.1v1.1h-1.1zM31.9 298.2h1.1v1.1h-1.1zM31.0 326.9h1.1v1.1h-1.1zM61.9 242.8h1.1v1.1h-1.1zM143.9 306.0h1.1v1.1h-1.1zM95.1 249.9h1.1v1.1h-1.1zM36.9 250.9h1.1v1.1h-1.1zM23.9 317.7h1.1v1.1h-1.1zM98.7 309.3h1.1v1.1h-1.1zM83.1 234.9h1.1v1.1h-1.1zM132.6 317.0h1.1v1.1h-1.1zM24.9 263.3h1.1v1.1h-1.1zM71.0 326.5h1.1v1.1h-1.1zM29.1 286.5h1.1v1.1h-1.1zM30.0 297.7h1.1v1.1h-1.1zM143.2 241.3h1.1v1.1h-1.1zM146.6 235.0h1.1v1.1h-1.1zM74.3 321.6h1.1v1.1h-1.1zM52.9 263.8h1.1v1.1h-1.1zM104.3 326.3h1.1v1.1h-1.1zM33.5 261.8h1.1v1.1h-1.1zM90.0 324.0h1.1v1.1h-1.1zM122.6 231.7h1.1v1.1h-1.1zM132.1 232.8h1.1v1.1h-1.1zM50.7 277.4h1.1v1.1h-1.1zM31.9 297.0h1.1v1.1h-1.1zM113.5 246.8h1.1v1.1h-1.1zM33.2 324.4h1.1v1.1h-1.1zM36.6 266.7h1.1v1.1h-1.1zM146.2 271.8h1.1v1.1h-1.1zM69.9 265.9h1.1v1.1h-1.1zM26.3 258.2h1.1v1.1h-1.1zM74.1 235.1h1.1v1.1h-1.1zM132.9 253.3h1.1v1.1h-1.1zM89.7 249.4h1.1v1.1h-1.1zM29.7 274.5h1.1v1.1h-1.1zM105.4 309.7h1.1v1.1h-1.1zM147.0 300.9h1.1v1.1h-1.1zM86.2 260.5h1.1v1.1h-1.1zM146.6 247.1h1.1v1.1h-1.1zM46.3 263.1h1.1v1.1h-1.1zM28.1 268.6h1.1v1.1h-1.1zM14.8 314.4h1.1v1.1h-1.1zM140.3 320.5h1.1v1.1h-1.1zM5.4 307.1h1.1v1.1h-1.1zM145.8 239.0h1.1v1.1h-1.1zM59.8 321.6h1.1v1.1h-1.1zM74.6 249.0h1.1v1.1h-1.1zM7.2 283.7h1.1v1.1h-1.1zM12.5 271.6h1.1v1.1h-1.1zM17.3 291.9h1.1v1.1h-1.1zM7.1 290.9h1.1v1.1h-1.1zM110.6 327.3h1.1v1.1h-1.1zM7.5 310.8h1.1v1.1h-1.1zM146.3 253.8h1.1v1.1h-1.1zM139.5 314.5h1.1v1.1h-1.1zM46.4 274.4h1.1v1.1h-1.1zM103.0 324.9h1.1v1.1h-1.1zM91.4 253.9h1.1v1.1h-1.1zM69.7 255.8h1.1v1.1h-1.1zM76.2 266.4h1.1v1.1h-1.1zM132.7 320.7h1.1v1.1h-1.1zM117.1 315.9h1.1v1.1h-1.1zM102.0 316.9h1.1v1.1h-1.1zM70.3 259.0h1.1v1.1h-1.1zM26.9 260.0h1.1v1.1h-1.1zM58.3 251.9h1.1v1.1h-1.1zM121.4 316.6h1.1v1.1h-1.1zM32.4 288.1h1.1v1.1h-1.1zM67.9 328.2h1.1v1.1h-1.1zM97.6 329.5h1.1v1.1h-1.1zM26.5 315.9h1.1v1.1h-1.1zM62.7 267.0h1.1v1.1h-1.1zM92.7 313.6h1.1v1.1h-1.1zM133.6 324.5h1.1v1.1h-1.1zM45.7 253.0h1.1v1.1h-1.1zM112.8 256.1h1.1v1.1h-1.1zM99.6 242.7h1.1v1.1h-1.1zM115.1 326.4h1.1v1.1h-1.1zM34.1 273.6h1.1v1.1h-1.1zM140.3 288.4h1.1v1.1h-1.1zM70.5 241.4h1.1v1.1h-1.1zM51.5 275.0h1.1v1.1h-1.1zM25.6 272.7h1.1v1.1h-1.1zM124.1 324.1h1.1v1.1h-1.1zM40.8 281.0h1.1v1.1h-1.1zM67.5 320.9h1.1v1.1h-1.1zM125.6 241.1h1.1v1.1h-1.1zM138.5 253.6h1.1v1.1h-1.1zM145.3 250.8h1.1v1.1h-1.1zM108.1 250.0h1.1v1.1h-1.1zM145.8 277.3h1.1v1.1h-1.1zM82.6 245.9h1.1v1.1h-1.1zM101.3 313.7h1.1v1.1h-1.1zM107.8 249.1h1.1v1.1h-1.1zM80.6 328.7h1.1v1.1h-1.1zM69.6 321.1h1.1v1.1h-1.1zM109.9 245.1h1.1v1.1h-1.1zM91.3 321.7h1.1v1.1h-1.1zM32.4 279.1h1.1v1.1h-1.1zM84.4 244.3h1.1v1.1h-1.1zM117.9 244.8h1.1v1.1h-1.1zM60.2 324.7h1.1v1.1h-1.1zM97.0 256.3h1.1v1.1h-1.1zM124.6 318.1h1.1v1.1h-1.1zM108.6 250.5h1.1v1.1h-1.1zM82.9 258.7h1.1v1.1h-1.1zM34.2 267.0h1.1v1.1h-1.1zM121.9 308.2h1.1v1.1h-1.1zM35.8 273.6h1.1v1.1h-1.1zM82.7 243.7h1.1v1.1h-1.1zM10.8 298.0h1.1v1.1h-1.1zM142.7 295.2h1.1v1.1h-1.1zM56.3 274.8h1.1v1.1h-1.1zM145.1 308.7h1.1v1.1h-1.1zM24.4 317.5h1.1v1.1h-1.1zM61.6 319.6h1.1v1.1h-1.1zM136.1 301.7h1.1v1.1h-1.1zM72.6 257.8h1.1v1.1h-1.1zM60.5 320.0h1.1v1.1h-1.1zM56.8 272.7h1.1v1.1h-1.1zM9.3 320.1h1.1v1.1h-1.1zM93.7 313.9h1.1v1.1h-1.1zM123.7 231.3h1.1v1.1h-1.1zM33.7 329.1h1.1v1.1h-1.1zM37.3 287.4h1.1v1.1h-1.1zM35.3 285.8h1.1v1.1h-1.1zM24.2 268.2h1.1v1.1h-1.1zM109.7 324.5h1.1v1.1h-1.1zM130.3 323.0h1.1v1.1h-1.1zM20.1 283.5h1.1v1.1h-1.1zM72.0 325.2h1.1v1.1h-1.1zM86.3 260.4h1.1v1.1h-1.1zM71.6 323.6h1.1v1.1h-1.1zM115.8 249.9h1.1v1.1h-1.1zM16.4 271.4h1.1v1.1h-1.1zM68.5 323.1h1.1v1.1h-1.1zM56.5 244.5h1.1v1.1h-1.1zM66.1 251.5h1.1v1.1h-1.1zM107.8 308.6h1.1v1.1h-1.1zM141.3 264.5h1.1v1.1h-1.1zM102.9 245.9h1.1v1.1h-1.1zM46.3 320.6h1.1v1.1h-1.1zM25.0 286.7h1.1v1.1h-1.1zM15.1 265.3h1.1v1.1h-1.1zM91.4 254.0h1.1v1.1h-1.1zM135.3 322.2h1.1v1.1h-1.1zM90.1 321.9h1.1v1.1h-1.1zM63.3 268.6h1.1v1.1h-1.1zM93.6 313.0h1.1v1.1h-1.1zM81.0 315.5h1.1v1.1h-1.1zM79.3 329.9h1.1v1.1h-1.1zM140.1 279.0h1.1v1.1h-1.1zM23.2 326.3h1.1v1.1h-1.1zM40.3 278.5h1.1v1.1h-1.1zM113.8 232.7h1.1v1.1h-1.1zM106.2 315.0h1.1v1.1h-1.1zM122.0 243.3h1.1v1.1h-1.1zM127.6 238.9h1.1v1.1h-1.1zM113.4 228.9h1.1v1.1h-1.1zM27.3 316.4h1.1v1.1h-1.1zM22.1 292.7h1.1v1.1h-1.1z" fill="#c8b8a8" opacity="0.35"/><path d="M17 311 L28 300 L45 285 L59 273.5 L74.5 265 L92 259.5 L103 254 L96 252.5 L84 255 L72 259 L56 267 L40 280 L25 295 L15 308Z" fill="#c09870" opacity="0.16"/><rect x="67.5" y="264.7" width="1.3" height="1.3" fill="#b07848" opacity="0.42"/><rect x="89.8" y="257.4" width="1.3" height="1.3" fill="#b07848" opacity="0.42"/><rect x="94.8" y="260.3" width="1.3" height="1.3" fill="#c09060" opacity="0.42"/><rect x="24.6" y="304.2" width="1.3" height="1.3" fill="#c09060" opacity="0.42"/><rect x="26.0" y="296.2" width="1.3" height="1.3" fill="#c8a078" opacity="0.42"/><rect x="74.3" y="266.1" width="1.3" height="1.3" fill="#c8a078" opacity="0.42"/><rect x="17.0" y="305.2" width="1.3" height="1.3" fill="#c09060" opacity="0.42"/><rect x="93.0" y="258.4" width="1.3" height="1.3" fill="#c09060" opacity="0.42"/><rect x="80.7" y="261.7" width="1.3" height="1.3" fill="#c09060" opacity="0.42"/><rect x="82.2" y="263.4" width="1.3" height="1.3" fill="#c8a078" opacity="0.42"/><rect x="42.4" y="288.7" width="1.3" height="1.3" fill="#c09060" opacity="0.42"/><rect x="37.5" y="286.8" width="1.3" height="1.3" fill="#b07848" opacity="0.42"/><rect x="67.6" y="270.2" width="1.3" height="1.3" fill="#a87040" opacity="0.42"/><rect x="83.0" y="260.8" width="1.3" height="1.3" fill="#c8a078" opacity="0.42"/><rect x="28.3" y="300.4" width="1.3" height="1.3" fill="#b07848" opacity="0.42"/><rect x="84.6" y="262.3" width="1.3" height="1.3" fill="#c8a078" opacity="0.42"/><rect x="57.9" y="276.1" width="1.3" height="1.3" fill="#b07848" opacity="0.42"/><rect x="57.6" y="268.5" width="1.3" height="1.3" fill="#b07848" opacity="0.42"/><rect x="99.5" y="255.8" width="1.3" height="1.3" fill="#a87040" opacity="0.42"/><rect x="78.5" y="264.3" width="1.3" height="1.3" fill="#c8a078" opacity="0.42"/><rect x="68.0" y="264.4" width="1.3" height="1.3" fill="#a87040" opacity="0.42"/><rect x="81.4" y="264.1" width="1.3" height="1.3" fill="#a87040" opacity="0.42"/><rect x="42.5" y="288.7" width="1.3" height="1.3" fill="#a87040" opacity="0.42"/><rect x="83.3" y="259.9" width="1.3" height="1.3" fill="#a87040" opacity="0.42"/><rect x="72.7" y="263.5" width="1.3" height="1.3" fill="#a87040" opacity="0.42"/><rect x="90.0" y="259.9" width="1.3" height="1.3" fill="#c8a078" opacity="0.42"/><rect x="69.4" y="267.7" width="1.3" height="1.3" fill="#a87040" opacity="0.42"/><rect x="47.1" y="285.2" width="1.3" height="1.3" fill="#b07848" opacity="0.42"/><rect x="86.6" y="261.4" width="1.3" height="1.3" fill="#c09060" opacity="0.42"/><rect x="73.6" y="266.6" width="1.3" height="1.3" fill="#c8a078" opacity="0.42"/><rect x="21.9" y="305.5" width="1.3" height="1.3" fill="#c09060" opacity="0.42"/><rect x="80.9" y="258.9" width="1.3" height="1.3" fill="#c8a078" opacity="0.42"/><rect x="86.7" y="257.8" width="1.3" height="1.3" fill="#a87040" opacity="0.42"/><rect x="45.7" y="286.0" width="1.3" height="1.3" fill="#c8a078" opacity="0.42"/><rect x="84.8" y="259.9" width="1.3" height="1.3" fill="#c8a078" opacity="0.42"/><rect x="92.3" y="261.6" width="1.3" height="1.3" fill="#a87040" opacity="0.42"/><rect x="73.5" y="265.3" width="1.3" height="1.3" fill="#b07848" opacity="0.42"/><rect x="82.6" y="263.4" width="1.3" height="1.3" fill="#a87040" opacity="0.42"/><rect x="87.9" y="264.1" width="1.3" height="1.3" fill="#a87040" opacity="0.42"/><rect x="86.7" y="261.3" width="1.3" height="1.3" fill="#b07848" opacity="0.42"/><rect x="72.0" y="266.3" width="1.3" height="1.3" fill="#a87040" opacity="0.42"/><rect x="73.5" y="263.0" width="1.3" height="1.3" fill="#a87040" opacity="0.42"/><rect x="60.3" y="269.3" width="1.3" height="1.3" fill="#c8a078" opacity="0.42"/><rect x="73.6" y="261.0" width="1.3" height="1.3" fill="#c8a078" opacity="0.42"/><rect x="96.8" y="257.3" width="1.3" height="1.3" fill="#c09060" opacity="0.42"/><rect x="39.7" y="284.5" width="1.3" height="1.3" fill="#a87040" opacity="0.42"/><rect x="66.2" y="266.1" width="1.3" height="1.3" fill="#c09060" opacity="0.42"/><rect x="79.6" y="262.2" width="1.3" height="1.3" fill="#c8a078" opacity="0.42"/><rect x="53.1" y="272.9" width="1.3" height="1.3" fill="#a87040" opacity="0.42"/><rect x="21.1" y="308.2" width="1.3" height="1.3" fill="#c8a078" opacity="0.42"/><rect x="26.5" y="297.1" width="1.3" height="1.3" fill="#c09060" opacity="0.42"/><rect x="20.8" y="306.0" width="1.3" height="1.3" fill="#c09060" opacity="0.42"/><rect x="78.8" y="264.8" width="1.3" height="1.3" fill="#c09060" opacity="0.42"/><rect x="54.8" y="276.3" width="1.3" height="1.3" fill="#a87040" opacity="0.42"/><rect x="58.6" y="271.8" width="1.3" height="1.3" fill="#c09060" opacity="0.42"/><rect x="42.9" y="287.0" width="1.3" height="1.3" fill="#a87040" opacity="0.42"/><rect x="95.4" y="255.7" width="1.3" height="1.3" fill="#a87040" opacity="0.42"/><rect x="83.4" y="259.8" width="1.3" height="1.3" fill="#a87040" opacity="0.42"/><rect x="39.2" y="288.0" width="1.3" height="1.3" fill="#a87040" opacity="0.42"/><rect x="79.7" y="263.1" width="1.3" height="1.3" fill="#a87040" opacity="0.42"/><rect x="26.9" y="300.8" width="1.3" height="1.3" fill="#c8a078" opacity="0.42"/><rect x="97.7" y="257.3" width="1.3" height="1.3" fill="#a87040" opacity="0.42"/><rect x="85.5" y="258.0" width="1.3" height="1.3" fill="#a87040" opacity="0.42"/><rect x="60.4" y="273.9" width="1.3" height="1.3" fill="#c8a078" opacity="0.42"/><rect x="81.6" y="261.8" width="1.3" height="1.3" fill="#c8a078" opacity="0.42"/><rect x="80.5" y="264.0" width="1.3" height="1.3" fill="#c09060" opacity="0.42"/><rect x="31.0" y="290.3" width="1.3" height="1.3" fill="#c8a078" opacity="0.42"/><rect x="17.4" y="303.7" width="1.3" height="1.3" fill="#a87040" opacity="0.42"/><rect x="35.5" y="292.3" width="1.3" height="1.3" fill="#b07848" opacity="0.42"/><rect x="81.7" y="263.3" width="1.3" height="1.3" fill="#b07848" opacity="0.42"/><rect x="89.4" y="259.1" width="1.3" height="1.3" fill="#a87040" opacity="0.42"/><rect x="50.8" y="282.2" width="1.3" height="1.3" fill="#c8a078" opacity="0.42"/><rect x="24.0" y="296.5" width="1.3" height="1.3" fill="#a87040" opacity="0.42"/><rect x="82.2" y="261.4" width="1.3" height="1.3" fill="#b07848" opacity="0.42"/><rect x="25.7" y="302.8" width="1.3" height="1.3" fill="#a87040" opacity="0.42"/><rect x="69.4" y="269.2" width="1.3" height="1.3" fill="#a87040" opacity="0.42"/><rect x="68.7" y="266.0" width="1.3" height="1.3" fill="#b07848" opacity="0.42"/><rect x="54.0" y="274.3" width="1.3" height="1.3" fill="#b07848" opacity="0.42"/><rect x="88.1" y="259.6" width="1.3" height="1.3" fill="#c8a078" opacity="0.42"/><rect x="62.6" y="265.7" width="1.3" height="1.3" fill="#c8a078" opacity="0.42"/><rect x="93.2" y="256.3" width="1.3" height="1.3" fill="#c09060" opacity="0.42"/><rect x="79.1" y="262.1" width="1.3" height="1.3" fill="#a87040" opacity="0.42"/><rect x="86.5" y="257.4" width="1.3" height="1.3" fill="#a87040" opacity="0.42"/><rect x="50.0" y="281.3" width="1.3" height="1.3" fill="#c09060" opacity="0.42"/><rect x="54.6" y="275.8" width="1.3" height="1.3" fill="#a87040" opacity="0.42"/><rect x="45.9" y="282.7" width="1.3" height="1.3" fill="#b07848" opacity="0.42"/><rect x="29.5" y="293.7" width="1.3" height="1.3" fill="#b07848" opacity="0.42"/><rect x="18.9" y="305.2" width="1.3" height="1.3" fill="#b07848" opacity="0.42"/><rect x="88.4" y="258.9" width="1.3" height="1.3" fill="#b07848" opacity="0.42"/><rect x="59.3" y="267.5" width="1.3" height="1.3" fill="#c09060" opacity="0.42"/><rect x="87.0" y="257.2" width="1.3" height="1.3" fill="#c09060" opacity="0.42"/><rect x="46.4" y="285.3" width="1.3" height="1.3" fill="#c09060" opacity="0.42"/><rect x="24.5" y="303.2" width="1.3" height="1.3" fill="#b07848" opacity="0.42"/><rect x="57.3" y="276.3" width="1.3" height="1.3" fill="#c8a078" opacity="0.42"/><rect x="93.8" y="260.7" width="1.3" height="1.3" fill="#a87040" opacity="0.42"/><rect x="51.0" y="280.1" width="1.3" height="1.3" fill="#a87040" opacity="0.42"/><rect x="92.7" y="260.5" width="1.3" height="1.3" fill="#a87040" opacity="0.42"/><rect x="80.5" y="259.9" width="1.3" height="1.3" fill="#a87040" opacity="0.42"/><rect x="29.9" y="293.2" width="1.3" height="1.3" fill="#a87040" opacity="0.42"/><rect x="26.3" y="302.7" width="1.3" height="1.3" fill="#a87040" opacity="0.42"/><rect x="44.6" y="287.0" width="1.3" height="1.3" fill="#b07848" opacity="0.42"/><rect x="22.2" y="302.6" width="1.3" height="1.3" fill="#b07848" opacity="0.42"/><rect x="81.5" y="260.7" width="1.3" height="1.3" fill="#c8a078" opacity="0.42"/><rect x="83.0" y="260.9" width="1.3" height="1.3" fill="#b07848" opacity="0.42"/><rect x="41.5" y="283.0" width="1.3" height="1.3" fill="#c8a078" opacity="0.42"/><rect x="31.7" y="298.2" width="1.3" height="1.3" fill="#c8a078" opacity="0.42"/><rect x="94.8" y="261.1" width="1.3" height="1.3" fill="#a87040" opacity="0.42"/><rect x="86.2" y="264.2" width="1.3" height="1.3" fill="#a87040" opacity="0.42"/><rect x="81.9" y="263.3" width="1.3" height="1.3" fill="#a87040" opacity="0.42"/><rect x="73.8" y="264.6" width="1.3" height="1.3" fill="#a87040" opacity="0.42"/><rect x="57.2" y="272.8" width="1.3" height="1.3" fill="#c09060" opacity="0.42"/><rect x="24.8" y="305.1" width="1.3" height="1.3" fill="#c09060" opacity="0.42"/><rect x="48.4" y="276.0" width="1.3" height="1.3" fill="#a87040" opacity="0.42"/><rect x="47.3" y="277.6" width="1.3" height="1.3" fill="#c8a078" opacity="0.42"/><rect x="49.6" y="282.4" width="1.3" height="1.3" fill="#c09060" opacity="0.42"/><rect x="74.8" y="260.6" width="1.3" height="1.3" fill="#c8a078" opacity="0.42"/><rect x="33.7" y="295.5" width="1.3" height="1.3" fill="#c09060" opacity="0.42"/><rect x="88.3" y="259.1" width="1.3" height="1.3" fill="#b07848" opacity="0.42"/><rect x="70.3" y="267.3" width="1.3" height="1.3" fill="#b07848" opacity="0.42"/><rect x="63.8" y="269.8" width="1.3" height="1.3" fill="#c09060" opacity="0.42"/><rect x="64.0" y="271.0" width="1.3" height="1.3" fill="#c09060" opacity="0.42"/><rect x="27.8" y="301.3" width="1.3" height="1.3" fill="#b07848" opacity="0.42"/><rect x="61.9" y="269.7" width="1.3" height="1.3" fill="#a87040" opacity="0.42"/><rect x="28.4" y="299.5" width="1.3" height="1.3" fill="#b07848" opacity="0.42"/><rect x="68.2" y="269.4" width="1.3" height="1.3" fill="#c09060" opacity="0.42"/><rect x="30.7" y="299.4" width="1.3" height="1.3" fill="#c8a078" opacity="0.42"/><rect x="34.3" y="293.4" width="1.3" height="1.3" fill="#c8a078" opacity="0.42"/><rect x="87.4" y="260.2" width="1.3" height="1.3" fill="#a87040" opacity="0.42"/><rect x="87.9" y="257.8" width="1.3" height="1.3" fill="#c8a078" opacity="0.42"/><rect x="48.4" y="279.1" width="1.3" height="1.3" fill="#b07848" opacity="0.42"/><rect x="73.2" y="267.0" width="1.3" height="1.3" fill="#c8a078" opacity="0.42"/><rect x="59.3" y="268.4" width="1.3" height="1.3" fill="#c09060" opacity="0.42"/><rect x="52.2" y="278.7" width="1.3" height="1.3" fill="#c09060" opacity="0.42"/><rect x="38.8" y="292.1" width="1.3" height="1.3" fill="#c09060" opacity="0.42"/><rect x="77.0" y="264.9" width="1.3" height="1.3" fill="#b07848" opacity="0.42"/><rect x="41.3" y="287.8" width="1.3" height="1.3" fill="#c8a078" opacity="0.42"/><rect x="26.6" y="303.4" width="1.3" height="1.3" fill="#a87040" opacity="0.42"/><rect x="75.1" y="259.2" width="1.3" height="1.3" fill="#b07848" opacity="0.42"/><rect x="48.7" y="277.7" width="1.3" height="1.3" fill="#a87040" opacity="0.42"/><rect x="87.6" y="261.0" width="1.3" height="1.3" fill="#b07848" opacity="0.42"/><rect x="64.1" y="266.6" width="1.3" height="1.3" fill="#c09060" opacity="0.42"/><rect x="51.6" y="280.4" width="1.3" height="1.3" fill="#c09060" opacity="0.42"/><rect x="97.3" y="255.2" width="1.3" height="1.3" fill="#b07848" opacity="0.42"/><rect x="36.4" y="288.5" width="1.3" height="1.3" fill="#b07848" opacity="0.42"/><rect x="83.2" y="257.4" width="1.3" height="1.3" fill="#b07848" opacity="0.42"/><rect x="73.4" y="263.0" width="1.3" height="1.3" fill="#b07848" opacity="0.42"/><rect x="66.6" y="269.7" width="1.3" height="1.3" fill="#c8a078" opacity="0.42"/><rect x="38.9" y="290.8" width="1.3" height="1.3" fill="#c09060" opacity="0.42"/><rect x="64.6" y="270.8" width="1.3" height="1.3" fill="#b07848" opacity="0.42"/><rect x="70.0" y="268.9" width="1.3" height="1.3" fill="#b07848" opacity="0.42"/><rect x="25.7" y="302.3" width="1.3" height="1.3" fill="#a87040" opacity="0.42"/><rect x="85.2" y="259.0" width="1.3" height="1.3" fill="#c8a078" opacity="0.42"/><rect x="29.3" y="298.7" width="1.3" height="1.3" fill="#c09060" opacity="0.42"/><rect x="73.6" y="262.3" width="1.3" height="1.3" fill="#b07848" opacity="0.42"/><rect x="57.9" y="271.7" width="1.3" height="1.3" fill="#c09060" opacity="0.42"/><rect x="78.4" y="260.2" width="1.3" height="1.3" fill="#b07848" opacity="0.42"/><rect x="48.4" y="283.2" width="1.3" height="1.3" fill="#c8a078" opacity="0.42"/><rect x="20.3" y="304.4" width="1.3" height="1.3" fill="#c09060" opacity="0.42"/><rect x="80.8" y="261.3" width="1.3" height="1.3" fill="#b07848" opacity="0.42"/><rect x="74.9" y="262.3" width="1.3" height="1.3" fill="#c09060" opacity="0.42"/><rect x="97.4" y="258.6" width="1.3" height="1.3" fill="#c8a078" opacity="0.42"/><rect x="40.9" y="287.7" width="1.3" height="1.3" fill="#c09060" opacity="0.42"/><rect x="28.5" y="297.5" width="1.3" height="1.3" fill="#a87040" opacity="0.42"/><rect x="90.4" y="256.8" width="1.3" height="1.3" fill="#c09060" opacity="0.42"/><rect x="83.1" y="256.9" width="1.3" height="1.3" fill="#b07848" opacity="0.42"/><rect x="45.6" y="286.1" width="1.3" height="1.3" fill="#c09060" opacity="0.42"/><rect x="21.6" y="307.7" width="1.3" height="1.3" fill="#b07848" opacity="0.42"/><rect x="86.8" y="264.1" width="1.3" height="1.3" fill="#a87040" opacity="0.42"/><rect x="49.0" y="280.2" width="1.3" height="1.3" fill="#b07848" opacity="0.42"/><rect x="88.5" y="259.8" width="1.3" height="1.3" fill="#c09060" opacity="0.42"/><rect x="98.4" y="258.3" width="1.3" height="1.3" fill="#a87040" opacity="0.42"/><rect x="51.1" y="278.3" width="1.3" height="1.3" fill="#c8a078" opacity="0.42"/><rect x="72.1" y="264.3" width="1.3" height="1.3" fill="#b07848" opacity="0.42"/><rect x="73.8" y="265.1" width="1.3" height="1.3" fill="#b07848" opacity="0.42"/><rect x="53.5" y="278.5" width="1.3" height="1.3" fill="#b07848" opacity="0.42"/><rect x="70.9" y="264.7" width="1.3" height="1.3" fill="#c8a078" opacity="0.42"/><rect x="80.2" y="263.7" width="1.3" height="1.3" fill="#c09060" opacity="0.42"/><rect x="69.0" y="265.1" width="1.3" height="1.3" fill="#a87040" opacity="0.42"/><rect x="84.9" y="256.5" width="1.3" height="1.3" fill="#c09060" opacity="0.42"/><rect x="24.4" y="305.2" width="1.3" height="1.3" fill="#a87040" opacity="0.42"/><rect x="82.4" y="260.0" width="1.3" height="1.3" fill="#b07848" opacity="0.42"/><rect x="41.5" y="284.2" width="1.3" height="1.3" fill="#c09060" opacity="0.42"/><rect x="83.9" y="258.8" width="1.3" height="1.3" fill="#b07848" opacity="0.42"/><rect x="96.4" y="255.9" width="1.3" height="1.3" fill="#a87040" opacity="0.42"/><rect x="24.4" y="304.1" width="1.3" height="1.3" fill="#a87040" opacity="0.42"/><rect x="99.3" y="259.7" width="1.3" height="1.3" fill="#b07848" opacity="0.42"/><rect x="71.7" y="267.1" width="1.3" height="1.3" fill="#b07848" opacity="0.42"/><rect x="59.5" y="270.8" width="1.3" height="1.3" fill="#c8a078" opacity="0.42"/><rect x="46.0" y="282.8" width="1.3" height="1.3" fill="#c09060" opacity="0.42"/><rect x="34.5" y="291.8" width="1.3" height="1.3" fill="#a87040" opacity="0.42"/><rect x="21.4" y="308.2" width="1.3" height="1.3" fill="#c09060" opacity="0.42"/><rect x="39.8" y="291.3" width="1.3" height="1.3" fill="#a87040" opacity="0.42"/><rect x="21.8" y="305.0" width="1.3" height="1.3" fill="#b07848" opacity="0.42"/><rect x="75.0" y="262.6" width="1.3" height="1.3" fill="#c09060" opacity="0.42"/><rect x="81.2" y="258.3" width="1.3" height="1.3" fill="#b07848" opacity="0.42"/><rect x="64.8" y="271.6" width="1.3" height="1.3" fill="#a87040" opacity="0.42"/><rect x="60.5" y="274.0" width="1.3" height="1.3" fill="#c8a078" opacity="0.42"/><rect x="72.7" y="261.9" width="1.3" height="1.3" fill="#b07848" opacity="0.42"/><rect x="75.0" y="265.6" width="1.3" height="1.3" fill="#a87040" opacity="0.42"/><rect x="47.6" y="279.8" width="1.3" height="1.3" fill="#b07848" opacity="0.42"/><rect x="80.1" y="262.5" width="1.3" height="1.3" fill="#b07848" opacity="0.42"/><rect x="58.3" y="273.7" width="1.3" height="1.3" fill="#b07848" opacity="0.42"/><rect x="78.7" y="258.7" width="1.3" height="1.3" fill="#b07848" opacity="0.42"/><rect x="78.8" y="260.9" width="1.3" height="1.3" fill="#b07848" opacity="0.42"/><rect x="50.3" y="280.7" width="1.3" height="1.3" fill="#c09060" opacity="0.42"/><rect x="84.8" y="261.7" width="1.3" height="1.3" fill="#c8a078" opacity="0.42"/><rect x="72.0" y="267.6" width="1.3" height="1.3" fill="#b07848" opacity="0.42"/><rect x="37.7" y="286.2" width="1.3" height="1.3" fill="#c8a078" opacity="0.42"/><rect x="46.7" y="284.6" width="1.3" height="1.3" fill="#b07848" opacity="0.42"/><rect x="80.9" y="261.6" width="1.3" height="1.3" fill="#c8a078" opacity="0.42"/><rect x="82.4" y="260.0" width="1.3" height="1.3" fill="#c09060" opacity="0.42"/><rect x="39.4" y="285.2" width="1.3" height="1.3" fill="#b07848" opacity="0.42"/><rect x="95.7" y="261.4" width="1.3" height="1.3" fill="#b07848" opacity="0.42"/><rect x="48.8" y="281.7" width="1.3" height="1.3" fill="#b07848" opacity="0.42"/><rect x="27.8" y="293.2" width="1.3" height="1.3" fill="#c8a078" opacity="0.42"/><rect x="50.3" y="274.2" width="1.3" height="1.3" fill="#c8a078" opacity="0.42"/><rect x="21.7" y="305.9" width="1.3" height="1.3" fill="#c8a078" opacity="0.42"/><rect x="97.7" y="256.6" width="1.3" height="1.3" fill="#b07848" opacity="0.42"/><rect x="44.8" y="281.7" width="1.3" height="1.3" fill="#c8a078" opacity="0.42"/><rect x="80.3" y="264.2" width="1.3" height="1.3" fill="#c09060" opacity="0.42"/><rect x="95.2" y="261.5" width="1.3" height="1.3" fill="#c8a078" opacity="0.42"/><rect x="94.9" y="259.6" width="1.3" height="1.3" fill="#c8a078" opacity="0.42"/><rect x="34.3" y="293.3" width="1.3" height="1.3" fill="#a87040" opacity="0.42"/><rect x="59.4" y="269.5" width="1.3" height="1.3" fill="#c8a078" opacity="0.42"/><rect x="66.1" y="271.1" width="1.3" height="1.3" fill="#c8a078" opacity="0.42"/><rect x="89.4" y="259.8" width="1.3" height="1.3" fill="#c8a078" opacity="0.42"/><rect x="86.0" y="259.2" width="1.3" height="1.3" fill="#c09060" opacity="0.42"/><rect x="41.1" y="286.0" width="1.3" height="1.3" fill="#b07848" opacity="0.42"/><rect x="47.2" y="284.0" width="1.3" height="1.3" fill="#a87040" opacity="0.42"/><rect x="30.5" y="298.1" width="1.3" height="1.3" fill="#b07848" opacity="0.42"/><rect x="24.3" y="303.2" width="1.3" height="1.3" fill="#a87040" opacity="0.42"/><rect x="49.3" y="279.4" width="1.3" height="1.3" fill="#c09060" opacity="0.42"/><rect x="89.7" y="259.7" width="1.3" height="1.3" fill="#b07848" opacity="0.42"/><rect x="25.4" y="301.4" width="1.3" height="1.3" fill="#b07848" opacity="0.42"/><rect x="71.4" y="266.0" width="1.3" height="1.3" fill="#c09060" opacity="0.42"/><rect x="96.4" y="259.2" width="1.3" height="1.3" fill="#b07848" opacity="0.42"/><rect x="76.0" y="261.1" width="1.3" height="1.3" fill="#a87040" opacity="0.42"/><rect x="25.0" y="304.6" width="1.3" height="1.3" fill="#a87040" opacity="0.42"/><rect x="34.2" y="292.3" width="1.3" height="1.3" fill="#c8a078" opacity="0.42"/><rect x="87.7" y="261.2" width="1.3" height="1.3" fill="#b07848" opacity="0.42"/><rect x="22.4" y="306.7" width="1.3" height="1.3" fill="#c8a078" opacity="0.42"/><rect x="50.6" y="275.6" width="1.3" height="1.3" fill="#a87040" opacity="0.42"/><rect x="93.1" y="260.6" width="1.3" height="1.3" fill="#c8a078" opacity="0.42"/><rect x="55.3" y="274.5" width="1.3" height="1.3" fill="#b07848" opacity="0.42"/><rect x="23.6" y="304.4" width="1.3" height="1.3" fill="#c09060" opacity="0.42"/><rect x="38.2" y="286.2" width="1.3" height="1.3" fill="#c8a078" opacity="0.42"/><rect x="88.7" y="257.5" width="1.3" height="1.3" fill="#b07848" opacity="0.42"/><rect x="42.9" y="284.4" width="1.3" height="1.3" fill="#c09060" opacity="0.42"/><rect x="55.7" y="270.6" width="1.3" height="1.3" fill="#c09060" opacity="0.42"/><rect x="53.7" y="271.9" width="1.3" height="1.3" fill="#a87040" opacity="0.42"/><rect x="20.4" y="309.5" width="1.3" height="1.3" fill="#c8a078" opacity="0.42"/><rect x="63.2" y="272.7" width="1.3" height="1.3" fill="#c8a078" opacity="0.42"/><rect x="66.8" y="266.9" width="1.3" height="1.3" fill="#c09060" opacity="0.42"/><rect x="64.5" y="267.3" width="1.3" height="1.3" fill="#b07848" opacity="0.42"/><rect x="67.6" y="268.9" width="1.3" height="1.3" fill="#b07848" opacity="0.42"/><rect x="86.6" y="258.1" width="1.3" height="1.3" fill="#c8a078" opacity="0.42"/><rect x="88.7" y="261.7" width="1.3" height="1.3" fill="#b07848" opacity="0.42"/><rect x="84.9" y="263.4" width="1.3" height="1.3" fill="#c8a078" opacity="0.42"/><rect x="27.4" y="301.6" width="1.3" height="1.3" fill="#a87040" opacity="0.42"/><rect x="59.1" y="272.6" width="1.3" height="1.3" fill="#c09060" opacity="0.42"/><path d="M59.9 239.0h1.2v1.2h-1.2zM59.3 245.6h1.2v1.2h-1.2zM62.4 234.6h1.2v1.2h-1.2zM62.4 239.2h1.2v1.2h-1.2zM57.0 250.3h1.2v1.2h-1.2zM59.8 236.2h1.2v1.2h-1.2zM59.8 242.9h1.2v1.2h-1.2zM61.8 234.8h1.2v1.2h-1.2zM63.2 240.8h1.2v1.2h-1.2zM59.6 241.5h1.2v1.2h-1.2zM60.2 247.4h1.2v1.2h-1.2zM56.2 250.2h1.2v1.2h-1.2zM59.0 251.1h1.2v1.2h-1.2zM62.4 238.7h1.2v1.2h-1.2zM59.0 247.4h1.2v1.2h-1.2zM59.5 243.0h1.2v1.2h-1.2zM61.2 244.7h1.2v1.2h-1.2zM60.6 249.3h1.2v1.2h-1.2zM60.6 248.8h1.2v1.2h-1.2zM59.4 251.6h1.2v1.2h-1.2zM59.7 249.7h1.2v1.2h-1.2zM59.6 245.7h1.2v1.2h-1.2zM59.1 250.3h1.2v1.2h-1.2zM58.2 249.7h1.2v1.2h-1.2zM61.1 238.3h1.2v1.2h-1.2zM61.5 235.6h1.2v1.2h-1.2zM57.9 249.7h1.2v1.2h-1.2zM53.8 252.5h1.2v1.2h-1.2zM62.2 241.2h1.2v1.2h-1.2zM62.3 236.5h1.2v1.2h-1.2zM59.8 246.2h1.2v1.2h-1.2zM57.3 252.9h1.2v1.2h-1.2zM57.5 251.9h1.2v1.2h-1.2zM58.9 243.3h1.2v1.2h-1.2zM57.7 243.4h1.2v1.2h-1.2zM58.2 244.8h1.2v1.2h-1.2zM60.0 241.9h1.2v1.2h-1.2zM59.7 244.3h1.2v1.2h-1.2zM60.1 242.4h1.2v1.2h-1.2zM59.3 245.8h1.2v1.2h-1.2zM57.7 246.6h1.2v1.2h-1.2zM60.1 239.8h1.2v1.2h-1.2zM63.6 236.0h1.2v1.2h-1.2zM58.1 253.4h1.2v1.2h-1.2zM59.1 246.5h1.2v1.2h-1.2zM59.7 241.6h1.2v1.2h-1.2zM59.3 241.6h1.2v1.2h-1.2zM60.1 234.8h1.2v1.2h-1.2zM61.1 242.4h1.2v1.2h-1.2zM61.5 240.3h1.2v1.2h-1.2zM60.1 248.1h1.2v1.2h-1.2zM61.3 240.1h1.2v1.2h-1.2zM59.1 251.2h1.2v1.2h-1.2zM60.4 246.0h1.2v1.2h-1.2zM62.2 239.9h1.2v1.2h-1.2zM62.0 236.6h1.2v1.2h-1.2zM60.9 240.1h1.2v1.2h-1.2zM59.8 245.7h1.2v1.2h-1.2zM60.9 239.1h1.2v1.2h-1.2zM60.2 240.7h1.2v1.2h-1.2zM58.0 243.8h1.2v1.2h-1.2zM64.2 237.9h1.2v1.2h-1.2zM59.8 250.8h1.2v1.2h-1.2zM59.0 251.8h1.2v1.2h-1.2zM59.9 247.2h1.2v1.2h-1.2zM59.7 245.2h1.2v1.2h-1.2zM62.5 239.6h1.2v1.2h-1.2zM61.0 239.9h1.2v1.2h-1.2zM57.4 249.1h1.2v1.2h-1.2zM59.7 250.4h1.2v1.2h-1.2z" fill="#6a7078" opacity="0.45"/><circle cx="58" cy="327" r="1.5" fill="#707880"/><rect x="1" y="225" width="19.3" height="20" fill="#000"/><text x="3.2" y="241.8" font-size="22" font-weight="bold" fill="#fff" font-family="Liberation Sans, sans-serif">b</text><text x="147" y="242" font-size="18" fill="#000" text-anchor="end" font-family="Liberation Sans, sans-serif">CD68</text><rect x="133.5" y="329.5" width="13.5" height="2.2" fill="#000"/><text x="154.5" y="242.3" font-size="22" font-weight="bold" fill="#fff" font-family="Liberation Sans, sans-serif">c</text><text x="301.3" y="242" font-size="18" fill="#fff" text-anchor="end" font-family="Liberation Sans, sans-serif">CD68-Binary</text><path d="M168.10 307.10 C168.62 306.44 170.49 303.12 172.60 301.40 C174.71 299.68 181.98 295.29 186.20 292.40 C190.42 289.51 203.26 279.77 208.80 276.60 C214.34 273.43 228.41 267.31 233.70 265.20 C238.98 263.09 251.19 259.55 254.10 258.50 C257.00 257.45 255.17 256.74 258.60 256.20 C262.03 255.66 280.20 253.90 283.50 253.90 C286.80 253.90 286.38 253.55 286.90 256.20 C287.42 258.85 288.14 272.38 288.00 276.60 C287.86 280.82 287.54 289.51 285.70 292.40 C283.86 295.29 274.84 300.08 272.20 301.40 C269.56 302.72 266.27 302.77 263.10 303.70 C259.93 304.63 250.27 308.48 245.00 309.40 C239.73 310.32 225.03 311.20 217.90 311.60 C210.77 312.00 189.44 312.66 183.90 312.80 C178.36 312.94 172.24 313.07 170.40 312.80 C168.56 312.53 168.37 311.17 168.10 310.50 C167.83 309.83 167.57 308.16 168.10 307.10 C168.62 306.04 172.07 302.06 172.60 301.40" fill="none" stroke="#e02418" stroke-width="1.3" stroke-linejoin="round"/><text x="300" y="333" font-size="18" fill="#e8201a" text-anchor="end" font-family="Liberation Sans, sans-serif">Lumen</text><rect x="153.5" y="329.5" width="13" height="2.2" fill="#fff"/><rect x="175.4" y="293.5" width="1" height="1" fill="#d8d8d8"/><rect x="231.9" y="256.4" width="1" height="1" fill="#d8d8d8"/><rect x="252.4" y="252.0" width="1" height="1" fill="#d8d8d8"/><rect x="209.0" y="275.6" width="1" height="1" fill="#d8d8d8"/><rect x="194.2" y="283.9" width="1" height="1" fill="#d8d8d8"/><rect x="247.4" y="249.0" width="1" height="1" fill="#d8d8d8"/><rect x="229.6" y="259.1" width="1" height="1" fill="#d8d8d8"/><rect x="229.7" y="258.0" width="1" height="1" fill="#d8d8d8"/><rect x="238.0" y="257.4" width="1" height="1" fill="#d8d8d8"/><rect x="241.4" y="256.9" width="1" height="1" fill="#d8d8d8"/><rect x="254.0" y="249.4" width="1" height="1" fill="#d8d8d8"/><rect x="251.1" y="248.0" width="1" height="1" fill="#d8d8d8"/><rect x="188.2" y="289.4" width="1" height="1" fill="#d8d8d8"/><rect x="243.4" y="257.5" width="1" height="1" fill="#d8d8d8"/><rect x="253.6" y="247.2" width="1" height="1" fill="#d8d8d8"/><rect x="224.2" y="268.1" width="1" height="1" fill="#d8d8d8"/><rect x="253.0" y="247.6" width="1" height="1" fill="#d8d8d8"/><rect x="252.8" y="253.3" width="1" height="1" fill="#d8d8d8"/><rect x="244.5" y="256.3" width="1" height="1" fill="#d8d8d8"/><rect x="202.8" y="278.8" width="1" height="1" fill="#d8d8d8"/><rect x="199.1" y="279.2" width="1" height="1" fill="#d8d8d8"/><rect x="249.9" y="252.0" width="1" height="1" fill="#d8d8d8"/><rect x="223.9" y="261.2" width="1" height="1" fill="#d8d8d8"/><rect x="249.9" y="250.7" width="1" height="1" fill="#d8d8d8"/><rect x="222.7" y="270.0" width="1" height="1" fill="#d8d8d8"/><rect x="193.6" y="286.0" width="1" height="1" fill="#d8d8d8"/><rect x="190.8" y="283.3" width="1" height="1" fill="#d8d8d8"/><rect x="224.1" y="266.4" width="1" height="1" fill="#d8d8d8"/><rect x="222.2" y="263.2" width="1" height="1" fill="#d8d8d8"/><rect x="224.7" y="266.8" width="1" height="1" fill="#d8d8d8"/><rect x="239.5" y="256.3" width="1" height="1" fill="#d8d8d8"/><rect x="237.1" y="254.0" width="1" height="1" fill="#d8d8d8"/><rect x="227.7" y="262.8" width="1" height="1" fill="#d8d8d8"/><rect x="233.9" y="259.9" width="1" height="1" fill="#d8d8d8"/><rect x="215.6" y="265.5" width="1" height="1" fill="#d8d8d8"/><rect x="245.3" y="249.2" width="1" height="1" fill="#d8d8d8"/><rect x="221.9" y="261.9" width="1" height="1" fill="#d8d8d8"/><rect x="188.6" y="287.7" width="1" height="1" fill="#d8d8d8"/><rect x="181.1" y="290.7" width="1" height="1" fill="#d8d8d8"/><rect x="233.3" y="263.0" width="1" height="1" fill="#d8d8d8"/><rect x="188.1" y="282.5" width="1" height="1" fill="#d8d8d8"/><rect x="189.0" y="287.0" width="1" height="1" fill="#d8d8d8"/><rect x="193.4" y="277.4" width="1" height="1" fill="#d8d8d8"/><rect x="216.1" y="264.7" width="1" height="1" fill="#d8d8d8"/><rect x="189.9" y="284.2" width="1" height="1" fill="#d8d8d8"/><rect x="207.0" y="277.0" width="1" height="1" fill="#d8d8d8"/><rect x="237.7" y="261.8" width="1" height="1" fill="#d8d8d8"/><rect x="216.1" y="273.6" width="1" height="1" fill="#d8d8d8"/><rect x="228.5" y="262.3" width="1" height="1" fill="#d8d8d8"/><rect x="255.9" y="250.6" width="1" height="1" fill="#d8d8d8"/><rect x="184.6" y="288.5" width="1" height="1" fill="#d8d8d8"/><rect x="240.9" y="257.7" width="1" height="1" fill="#d8d8d8"/><rect x="211.2" y="268.1" width="1" height="1" fill="#d8d8d8"/><rect x="200.8" y="282.5" width="1" height="1" fill="#d8d8d8"/><rect x="223.7" y="263.2" width="1" height="1" fill="#d8d8d8"/><rect x="177.6" y="288.5" width="1" height="1" fill="#d8d8d8"/><rect x="178.4" y="285.8" width="1" height="1" fill="#d8d8d8"/><rect x="243.8" y="259.2" width="1" height="1" fill="#d8d8d8"/><rect x="178.1" y="286.7" width="1" height="1" fill="#d8d8d8"/><rect x="207.4" y="277.8" width="1" height="1" fill="#d8d8d8"/><rect x="201.0" y="280.8" width="1" height="1" fill="#d8d8d8"/><rect x="198.4" y="282.4" width="1" height="1" fill="#d8d8d8"/><rect x="178.6" y="292.4" width="1" height="1" fill="#d8d8d8"/><rect x="201.9" y="274.6" width="1" height="1" fill="#d8d8d8"/><rect x="220.2" y="269.9" width="1" height="1" fill="#d8d8d8"/><rect x="174.0" y="294.5" width="1" height="1" fill="#d8d8d8"/><rect x="236.5" y="257.6" width="1" height="1" fill="#d8d8d8"/><rect x="215.3" y="265.6" width="1" height="1" fill="#d8d8d8"/><rect x="243.2" y="255.0" width="1" height="1" fill="#d8d8d8"/><rect x="244.4" y="254.7" width="1" height="1" fill="#d8d8d8"/><rect x="231.5" y="256.4" width="1" height="1" fill="#d8d8d8"/><rect x="243.1" y="252.6" width="1" height="1" fill="#d8d8d8"/><rect x="211.9" y="272.9" width="1" height="1" fill="#d8d8d8"/><rect x="188.0" y="288.4" width="1" height="1" fill="#d8d8d8"/><rect x="199.8" y="281.2" width="1" height="1" fill="#d8d8d8"/><rect x="243.1" y="251.1" width="1" height="1" fill="#d8d8d8"/><rect x="201.8" y="279.3" width="1" height="1" fill="#d8d8d8"/><rect x="217.1" y="271.8" width="1" height="1" fill="#d8d8d8"/><rect x="200.3" y="280.5" width="1" height="1" fill="#d8d8d8"/><rect x="224.7" y="269.2" width="1" height="1" fill="#d8d8d8"/><rect x="203.8" y="277.2" width="1" height="1" fill="#d8d8d8"/><rect x="209.5" y="273.0" width="1" height="1" fill="#d8d8d8"/><rect x="193.4" y="281.5" width="1" height="1" fill="#d8d8d8"/><rect x="200.8" y="281.3" width="1" height="1" fill="#d8d8d8"/><rect x="178.2" y="294.3" width="1" height="1" fill="#d8d8d8"/><rect x="196.1" y="279.4" width="1" height="1" fill="#d8d8d8"/><rect x="237.4" y="256.1" width="1" height="1" fill="#d8d8d8"/><rect x="247.6" y="253.0" width="1" height="1" fill="#d8d8d8"/><rect x="255.9" y="250.6" width="1" height="1" fill="#d8d8d8"/><rect x="231.8" y="264.8" width="1" height="1" fill="#d8d8d8"/><rect x="247.6" y="250.8" width="1" height="1" fill="#d8d8d8"/><rect x="243.8" y="257.3" width="1" height="1" fill="#d8d8d8"/><rect x="218.1" y="265.1" width="1" height="1" fill="#d8d8d8"/><rect x="245.0" y="257.2" width="1" height="1" fill="#d8d8d8"/><rect x="232.2" y="258.6" width="1" height="1" fill="#d8d8d8"/><rect x="176.4" y="294.3" width="1" height="1" fill="#d8d8d8"/><rect x="182.5" y="284.5" width="1" height="1" fill="#d8d8d8"/><rect x="228.4" y="261.3" width="1" height="1" fill="#d8d8d8"/><rect x="220.1" y="271.6" width="1" height="1" fill="#d8d8d8"/><rect x="237.8" y="257.3" width="1" height="1" fill="#d8d8d8"/><rect x="232.9" y="264.0" width="1" height="1" fill="#d8d8d8"/><rect x="199.8" y="282.0" width="1" height="1" fill="#d8d8d8"/><rect x="237.5" y="260.2" width="1" height="1" fill="#d8d8d8"/><rect x="253.9" y="248.6" width="1" height="1" fill="#d8d8d8"/><rect x="216.6" y="267.2" width="1" height="1" fill="#d8d8d8"/><rect x="227.5" y="261.7" width="1" height="1" fill="#d8d8d8"/><rect x="189.1" y="286.2" width="1" height="1" fill="#d8d8d8"/><rect x="202.6" y="276.0" width="1" height="1" fill="#d8d8d8"/><rect x="179.6" y="291.2" width="1" height="1" fill="#d8d8d8"/><rect x="233.0" y="258.3" width="1" height="1" fill="#d8d8d8"/><g filter="url(#dtex)"><rect x="369.5" y="13.0" width="300.5" height="130.0" fill="#000"/><path d="M369.5 20.0 L370.1 19.5 L382.5 24.2 L386.0 30.0 L390.7 37.0 L395.0 44.0 L400.0 53.4 L405.0 63.0 L409.4 72.0 L418.7 95.4 L428.1 88.4 L437.4 84.9 L446.8 76.8 L470.1 53.4 L495.8 26.5 L516.9 19.5 L525.0 21.9 L534.1 24.7 L546.1 31.9 L558.2 39.1 L570.2 46.3 L578.7 51.2 L583.0 48.0 L587.1 45.1 L596.7 37.9 L606.4 31.9 L616.0 25.9 L628.1 18.2 L645.0 16.7 L657.0 15.7 L670.0 19.8 L670.0 78.0 L645.0 71.0 L618.0 73.0 L597.0 84.0 L582.0 84.0 L558.0 74.0 L534.0 64.0 L510.0 70.0 L490.0 78.0 L477.0 92.0 L476.0 143.0 L369.5 143.0Z" fill="#2e2e2e"/><path d="M515 26 L546 38 L570 52 L580 58 L600 45 L628 26 L670 24 L670 60 L645 62 L620 66 L597 76 L580 76 L560 66 L534 56 L515 40Z" fill="#3e3e3e"/><path d="M575 70 L600 72 L620 66 L612 80 L597 86 L582 86Z" fill="#4c4c4c"/><rect x="476" y="92" width="194" height="51" fill="#101010"/><path d="M369.5 86 L380 84 L388 105 L393 125 L396 143 L369.5 143Z" fill="#080808"/><rect x="369.5" y="13" width="300.5" height="5" fill="#454545"/><rect x="369.5" y="18" width="300.5" height="3" fill="#1d1d1d"/><rect x="395" y="31" width="100" height="5" fill="#373737"/><rect x="420" y="23" width="100" height="2" fill="#1a1a1a"/></g><g filter="url(#sblur)" fill="none" opacity="0.8" stroke-linecap="round" clip-path="url(#dclip)"><path d="M607.8 91.0h3.5M504.5 89.8h4.4" stroke="#000000" stroke-width="1"/><path d="M576.0 44.9h5.1M636.1 76.3h2.0M397.7 43.8h3.3M441.6 74.0h4.6" stroke="#000000" stroke-width="1.4"/><path d="M492.8 127.0h5.0M661.2 98.9h2.2M621.0 133.5h5.0M383.9 123.9h3.4M611.7 92.8h4.2M581.9 137.0h4.4M371.6 97.3h2.1M563.5 138.5h4.9M521.9 105.6h5.2M373.3 133.2h2.8M369.3 137.7h3.3M546.4 113.2h2.5M560.5 101.8h2.5M642.4 138.1h3.6M576.7 122.7h4.4M571.2 24.9h4.4M501.8 134.2h5.5M635.8 142.5h4.8M480.9 94.9h4.9M650.8 101.4h3.3M466.6 39.2h5.1M501.1 116.6h2.4M525.8 134.0h4.0M372.2 91.9h2.7M500.5 97.4h3.9M417.5 84.7h2.4M667.1 111.4h4.6M384.1 130.6h3.7M603.1 113.8h3.3M612.3 111.8h5.0M609.4 101.6h4.4M517.0 93.9h2.5M607.1 116.8h2.5M647.8 100.6h4.7M518.8 90.2h4.1M596.4 90.2h2.4M619.4 119.2h2.7M478.6 24.2h3.8M549.6 90.3h4.8M543.1 136.8h4.2M546.8 30.2h3.4M372.7 99.6h4.7M484.7 132.0h5.0M497.3 102.5h5.4M545.3 24.3h4.7M525.3 69.7h2.7M583.3 96.8h3.4M512.3 139.1h4.0M374.2 120.3h4.0M492.3 92.0h4.2M661.6 142.1h2.9M506.4 124.3h5.3M579.2 105.6h3.3M638.2 127.1h3.0M531.9 104.7h5.1M500.1 98.8h3.0M655.4 105.2h2.8M503.3 110.1h5.4M503.0 116.5h2.5M563.1 101.2h4.8M530.4 97.1h4.1M591.2 115.3h5.3M604.0 29.8h2.7M611.5 92.3h5.3M551.6 91.5h2.1M597.8 106.6h3.0M536.4 137.0h3.9M484.2 109.8h5.2M623.1 130.9h3.0M516.1 140.1h3.6M517.6 114.0h3.2M566.4 138.1h4.4M591.9 107.9h5.2M515.1 140.1h4.2M630.4 74.6h3.7M405.6 23.8h3.5M494.5 125.4h3.7M640.4 128.9h3.6M551.3 24.1h5.1M664.8 126.7h4.7M570.3 116.4h5.2M496.2 119.3h3.6M539.0 122.9h3.1M507.1 123.8h5.3M502.7 119.9h4.8M430.9 82.8h5.3M441.8 39.0h3.3M380.1 122.0h3.3M506.9 136.6h5.4M541.0 101.2h3.4M559.9 126.6h4.9M513.1 124.0h5.3M371.8 128.2h3.8M628.9 140.6h4.0M605.0 99.8h2.5M510.8 132.2h5.1M383.6 134.9h3.2M553.2 122.3h4.8M567.8 121.3h3.9M479.0 112.5h5.1M563.1 111.0h2.5M510.6 121.2h3.7M553.0 23.7h4.7M520.4 114.4h4.7" stroke="#0e0e0e" stroke-width="1"/><path d="M466.0 27.0h2.8M552.8 140.7h4.5M568.8 98.3h3.9M465.1 23.8h4.3M655.6 131.8h3.0M435.2 39.5h2.1M644.1 76.2h3.7M664.5 101.8h2.8M513.8 133.0h5.0M522.6 130.9h2.9M585.6 91.2h4.2M540.8 139.7h4.2M561.2 95.6h5.2M485.5 140.7h4.6M379.4 104.8h4.5M666.5 81.1h3.7M654.9 131.3h3.7M530.2 124.8h3.2M541.4 91.7h2.6M387.2 138.5h3.9M508.9 128.3h2.0M592.3 112.9h5.2M570.6 90.8h5.1M608.6 24.1h4.1M609.6 140.8h4.3M411.6 26.6h3.1M586.4 140.4h3.9M387.6 138.4h2.8M497.6 91.7h2.3M612.6 94.4h3.4M370.7 106.1h2.6M647.1 142.5h2.1M665.7 119.4h2.7M371.8 142.7h4.5M439.3 24.5h3.2M627.3 135.1h4.4M657.5 137.5h3.4M663.5 142.4h3.8M544.0 129.0h2.3M503.1 120.9h4.9M645.1 93.9h4.9M433.5 40.7h5.1M528.9 136.0h5.1M387.0 127.0h4.4M603.9 86.6h4.5M469.5 23.5h5.4M412.2 71.9h4.1M636.1 106.8h2.4M550.1 135.9h4.3M405.7 24.4h2.1M630.3 106.4h4.1M453.6 40.8h3.3M627.2 105.8h3.4M515.5 96.2h2.9M558.8 130.7h5.0M398.5 49.1h5.2M555.3 105.6h3.7M616.2 139.7h3.2M633.4 139.5h3.9M504.4 92.3h4.5M463.5 40.1h5.0M650.2 124.4h5.2M537.6 103.0h4.2M605.7 123.6h5.2M627.5 129.1h4.0M660.4 122.1h3.9M384.8 120.7h4.5M653.2 137.6h4.4M375.9 139.2h5.5M581.8 116.7h2.0M371.3 104.6h5.2M407.4 26.8h2.7M538.7 138.2h4.4M626.5 131.8h3.2M385.0 111.4h3.1M573.9 141.2h2.7M496.6 108.3h3.9M612.1 138.0h4.3M628.2 132.4h2.2M514.5 119.3h5.3M523.2 89.4h3.0M406.3 60.7h3.8M649.7 131.9h2.9M606.0 100.3h2.6M595.8 103.4h4.2M623.6 94.2h2.3M556.5 105.4h2.5M601.1 105.5h2.6" stroke="#0e0e0e" stroke-width="1.4"/><path d="M426.3 86.8h3.1M454.1 142.4h2.2M567.8 44.6h4.8M469.1 38.6h2.7M629.2 127.0h3.6M576.0 124.3h5.3M628.7 139.3h4.2M579.1 137.5h5.2M383.3 113.5h4.3M626.2 120.8h4.9M597.8 120.4h4.0M483.7 104.6h4.3M633.9 124.9h2.4M413.1 81.1h4.2M655.8 133.4h2.3M570.6 116.4h3.4M645.5 135.2h2.1M644.4 119.7h2.2M371.6 94.8h4.3M379.0 123.8h2.0M573.4 128.1h4.1M666.9 132.4h2.6M659.4 120.1h4.8M647.0 115.0h3.2M386.7 115.7h4.3M627.4 92.6h4.5M639.5 127.6h3.0M653.6 129.6h3.6M538.6 106.6h2.7M558.2 106.9h3.7M482.5 90.1h2.4M538.7 138.0h3.6M554.5 105.3h3.8M530.4 122.0h4.8M601.2 133.9h2.9M647.8 127.3h4.3M656.2 105.8h2.5M660.4 126.8h4.7M540.2 104.7h4.8M487.7 108.5h4.4M478.4 25.4h4.5M531.3 138.7h5.4M538.8 141.7h4.0M635.0 135.1h4.8M568.4 132.1h5.0M471.7 28.2h3.2M572.7 104.7h5.2M479.9 134.3h4.8M370.0 97.9h4.5M411.0 72.4h3.7M571.0 94.0h5.0M455.9 63.9h3.4M444.1 28.1h3.1M563.9 103.9h4.3M410.0 70.7h4.3M527.9 94.2h4.6M664.6 106.3h5.3M619.9 110.0h4.2M537.9 93.8h4.8M564.6 126.8h3.4M378.1 129.5h4.8M494.5 139.0h3.6M605.8 120.1h3.8M618.6 106.7h3.5M483.5 27.3h4.2M536.4 25.0h3.0M500.5 139.2h4.4M403.3 38.9h2.4M454.0 23.7h4.7M368.6 82.3h4.6M474.8 40.1h4.9M637.5 133.5h4.1M658.2 136.1h3.0M514.4 98.5h3.9M533.6 134.8h3.5M624.1 141.0h4.5M639.6 116.4h4.8M636.1 131.5h3.7M518.1 131.6h4.0M663.4 77.5h4.4M586.8 24.0h5.2M630.7 135.8h3.8M587.6 125.4h2.7M564.9 110.0h4.7M657.5 77.9h4.3M368.3 84.8h2.6M603.0 86.3h3.4M627.1 104.5h5.2M636.1 98.7h3.0M643.0 124.8h3.9M455.4 65.2h2.9M647.3 141.6h3.5M548.2 120.2h4.5M600.6 103.2h3.2M596.5 95.5h4.7M629.4 120.9h2.7M533.6 141.1h4.9M410.1 27.4h5.5M590.0 21.7h3.0M550.6 100.4h3.9M511.2 99.5h3.4M662.1 127.8h2.4M664.4 121.2h4.7M601.4 127.1h2.2M479.7 90.7h5.5M532.0 66.1h3.1M417.3 87.9h3.2M559.3 93.1h4.2M666.7 135.2h3.8M618.5 111.2h4.2M431.2 29.5h2.1M405.5 60.2h4.3M611.8 82.1h3.6M579.7 45.8h5.1M666.8 131.1h4.4M570.1 133.3h2.9M627.8 96.0h3.9M545.8 109.8h5.4M495.9 139.7h2.2M516.9 119.8h4.0M615.5 137.9h3.3M533.8 127.6h2.2M422.8 24.3h2.5M661.1 116.6h4.4M396.9 23.8h3.7M625.9 100.5h2.7M588.1 120.3h3.3M514.1 120.1h2.5M543.0 121.4h4.7M481.3 28.8h2.9M534.3 114.8h2.2M453.6 142.4h4.1M561.8 78.6h3.8M372.6 128.4h4.0M378.1 124.6h2.3M616.7 120.1h4.1M589.1 94.4h2.2M662.7 137.5h5.1M656.7 126.3h4.3M406.5 60.5h2.2M538.5 95.5h4.8M403.8 57.0h5.2M568.4 98.2h5.0M503.2 108.2h2.9M511.0 109.7h4.6M530.4 127.2h4.3M642.0 139.5h5.0M574.5 102.7h2.9M629.7 75.6h3.3M416.1 89.1h4.5M609.0 102.9h3.0M397.4 50.6h4.1M467.6 40.8h2.6M487.0 96.9h4.4M604.6 105.2h2.2M624.9 95.4h4.8M538.8 69.6h2.0M377.1 108.2h2.7M658.5 140.6h3.6M597.8 34.2h4.1M608.1 132.6h4.5M496.1 121.8h2.6M388.3 138.5h3.6M547.3 106.4h3.1M426.7 87.2h4.8M634.1 96.0h3.9M477.2 29.2h5.3M647.8 94.5h4.7M592.0 117.0h3.4M517.9 119.4h3.9M491.1 97.7h3.5M454.8 22.1h2.5M628.2 101.0h4.1M474.6 108.0h4.2M658.5 133.8h3.9" stroke="#1c1c1c" stroke-width="1"/><path d="M368.0 70.3h4.1M380.1 100.1h5.2M561.6 107.6h3.7M408.4 38.9h3.2M645.1 92.7h4.8M487.2 101.5h4.5M518.9 70.6h4.6M578.1 109.1h2.3M379.9 114.9h2.4M595.0 110.4h2.4M521.5 133.3h4.2M514.5 142.2h3.3M585.9 103.8h4.8M502.9 135.0h3.4M535.4 123.9h4.9M568.1 100.5h4.0M429.3 24.4h5.5M566.3 113.4h3.6M525.3 129.9h5.5M505.1 112.5h3.3M644.9 122.3h2.4M571.8 122.8h3.1M570.2 102.0h3.4M659.2 105.0h2.9M607.2 27.4h3.6M582.3 43.8h4.3M652.7 98.8h3.6M652.1 112.2h4.8M512.8 128.3h4.6M510.2 96.3h4.1M658.4 97.7h3.0M461.1 37.4h4.8M580.3 92.2h4.6M514.8 134.4h3.8M579.2 127.1h4.6M484.4 123.7h4.4M661.3 112.6h2.3M555.8 138.6h3.7M536.1 136.6h3.8M536.1 134.5h5.3M568.9 95.4h2.3M621.0 109.2h2.8M508.0 112.5h3.0M483.1 120.4h4.7M491.9 125.9h3.2M518.9 140.4h3.0M491.2 107.8h2.6M593.9 100.0h4.6M557.7 78.2h3.9M623.2 126.2h2.6M477.2 41.6h2.2M457.4 38.6h3.2M494.9 79.9h3.2M530.5 132.4h3.1M639.8 139.6h4.6M626.8 74.5h2.7M537.6 105.5h3.4M484.2 105.9h2.5M657.7 128.6h5.4M498.3 23.6h5.0M611.6 123.4h2.1M642.0 132.4h5.2M515.4 137.8h5.5M513.5 72.9h4.2M651.9 132.2h4.1M599.4 91.3h4.4M536.7 139.2h3.6M476.8 140.8h4.8M547.7 102.7h3.6M552.7 106.3h4.1M484.8 128.4h2.5M519.2 139.5h5.2M590.6 110.2h2.1M399.4 48.3h2.2M550.0 139.7h2.5M491.7 94.7h5.4M568.6 141.6h3.5M619.1 118.8h3.1M569.1 140.9h2.6M480.9 107.1h4.6M542.2 106.2h4.0M664.6 121.1h5.4M616.6 128.7h4.3M413.5 40.1h4.2M561.0 124.9h4.9M516.1 136.1h3.2M506.6 115.2h4.5M639.1 126.1h3.6M629.9 99.3h2.8M383.7 106.8h2.4M523.3 112.5h4.5M612.8 114.5h3.7M625.1 118.0h4.8M374.7 124.8h5.3M487.5 125.3h3.7M370.9 119.1h4.2M568.3 140.4h4.3M512.9 102.8h3.8M488.0 99.1h4.2M528.6 98.2h3.5M538.0 70.4h4.1M473.2 46.0h2.0M528.1 67.5h4.0M644.5 74.5h4.3M474.7 111.7h5.1M466.1 28.4h3.2M446.5 26.5h3.3M373.7 139.1h3.7M584.5 136.6h4.4M619.2 119.0h2.5M368.5 88.8h4.2M558.7 118.9h4.5M508.2 118.8h3.1M519.3 114.2h2.2M482.2 97.5h5.5M487.8 103.3h4.7M506.3 134.9h4.3M612.4 23.7h4.8M618.2 112.5h3.3M379.4 105.8h4.9M635.3 125.2h3.2M666.7 122.0h2.5M502.2 135.7h2.4M601.6 97.4h3.1M633.8 123.3h3.9M566.4 135.2h5.2M376.7 87.4h4.2M391.9 131.2h3.1M468.9 26.4h3.2M527.7 120.0h2.3M621.5 124.8h2.0M655.6 126.9h5.3M427.4 22.3h4.8M597.7 114.7h3.3M646.8 135.4h2.4M568.4 134.4h4.4M579.5 108.6h2.1M521.9 118.4h3.2M561.8 130.8h5.3M575.5 134.4h2.7M571.7 105.2h3.0M474.1 24.2h4.0M661.6 126.6h3.1M594.8 93.7h4.4M394.6 38.5h4.1M649.7 91.7h4.1M604.0 93.1h2.0M620.8 120.6h3.6M549.7 91.3h2.6M547.8 105.6h4.8M666.3 74.9h5.3M630.0 111.9h5.0M616.7 95.2h5.3M495.4 92.2h4.3M629.0 117.9h2.6M522.6 137.7h3.8M564.9 94.1h5.0M369.6 92.9h4.0M525.6 133.9h4.8M592.0 107.7h3.6M559.4 132.0h4.3M499.1 22.5h2.8M609.1 27.9h2.7M420.8 24.4h2.6M644.1 91.9h2.8M649.1 118.6h3.6M575.0 84.9h4.2M539.4 101.3h5.1M599.6 100.8h2.2M400.1 54.3h3.9M518.0 109.9h2.6M616.3 95.2h3.6M400.4 29.4h2.2M564.2 96.6h4.0M530.8 105.9h3.8M516.9 129.0h4.1M626.3 96.5h4.0" stroke="#1c1c1c" stroke-width="1.4"/><path d="M434.8 82.1h4.1M624.2 105.9h4.1M655.9 107.9h5.3M431.4 24.0h5.2M407.2 27.2h4.7M645.7 99.0h5.1M610.1 98.4h4.9M521.8 124.9h5.2M629.7 105.9h5.2M664.2 109.5h3.1M617.3 134.6h2.0M579.1 131.6h2.4M388.9 117.1h3.1M511.9 70.2h2.5M548.4 103.6h3.0M608.1 104.0h4.2M614.1 124.2h2.8M545.1 65.4h2.3M631.9 96.0h4.1M518.6 113.0h3.7M395.1 53.1h4.6M667.3 51.9h4.8M434.4 106.2h2.2M559.9 129.0h2.2M456.9 62.7h3.4M530.2 125.2h5.3M378.3 94.3h4.0M497.8 96.5h5.1M391.4 120.1h4.9M457.5 39.7h5.2M620.8 121.1h5.3M635.8 102.0h4.3M616.2 27.4h4.1M413.6 95.8h4.0M391.5 127.7h2.1M559.5 19.7h2.4M537.4 28.3h4.6M413.4 85.7h2.1M409.9 29.0h4.8M418.5 91.5h3.7M585.0 128.7h2.4M499.2 135.0h3.6M474.5 107.4h3.6M610.8 121.8h2.0M646.0 70.8h5.4M463.1 59.1h4.3M494.5 102.0h3.6M632.6 123.8h4.3M556.3 129.9h3.7M646.3 133.3h2.2M604.8 100.9h2.0M388.2 107.7h2.5M414.5 30.0h3.5M493.3 110.9h3.2M526.1 120.8h3.5M399.0 21.0h4.0M593.7 125.4h3.0M580.7 103.8h4.2M573.6 99.9h4.3M571.2 115.7h3.4M502.3 97.0h4.6M418.0 93.9h3.4M385.4 28.7h3.4M496.2 132.4h4.1M470.4 70.3h3.7M535.7 24.4h4.2M383.3 58.5h2.3M482.1 56.5h3.6M615.6 94.1h3.6M450.8 122.9h4.9M659.2 135.0h3.7M546.1 20.7h3.9M368.8 80.5h2.5M504.8 139.5h2.1M435.9 19.3h4.6M471.1 29.9h2.5M619.2 115.8h2.3M571.7 49.9h3.3M562.2 116.5h4.5M584.3 114.4h5.1M581.5 104.9h4.8M636.7 134.0h2.3M594.5 122.5h3.2M485.4 23.8h3.9M464.8 57.9h3.1M666.6 64.5h4.6M665.0 75.4h3.9M569.2 104.5h3.0M568.3 125.9h2.3M469.4 99.9h2.8M484.9 115.2h5.0M405.6 28.7h3.3M501.1 123.6h3.5M484.0 127.6h4.2M642.2 70.9h2.9M405.5 97.6h3.6M422.4 33.3h3.5M571.9 104.5h4.8M598.7 111.8h2.3M451.8 126.2h2.8M607.9 117.9h5.4M505.3 40.0h4.9M396.3 136.0h3.1M658.8 138.0h3.1M539.7 97.7h3.5M471.1 105.8h4.7M475.8 107.6h5.2M640.9 122.3h2.4M550.8 72.2h2.6M492.4 107.6h3.0M492.8 134.8h3.3M650.4 99.9h4.4M556.9 98.4h5.0M372.4 47.7h3.5M590.7 122.3h5.2M415.8 90.5h5.1M656.8 132.5h3.0M379.9 28.8h3.4M663.8 111.9h2.8M505.9 30.7h2.3M584.2 103.9h2.8M445.5 34.1h5.2M526.4 119.0h2.3M568.4 111.0h4.1M513.2 59.7h4.7M538.4 117.8h4.2M487.5 83.2h2.0M437.2 101.4h2.4M447.1 23.8h4.6M616.3 97.8h4.8M497.5 70.6h4.9M579.2 135.4h2.7M410.1 80.2h2.1M411.8 37.7h3.7M476.6 106.9h2.2M615.3 131.4h2.6M527.8 67.9h4.1M439.7 116.2h3.2M598.0 101.9h3.3M482.2 52.6h3.0M411.0 83.5h2.6M419.2 35.3h5.0M493.5 27.9h4.7M534.9 123.4h3.6M468.1 36.3h4.7M487.1 134.8h4.4M519.2 67.9h3.6M651.3 93.7h3.5M667.9 28.0h2.2M461.4 24.8h4.5M592.6 97.8h3.1M494.7 25.8h5.1M390.7 120.4h4.5M551.0 135.5h3.7M480.4 118.0h5.0M458.7 62.9h4.8M487.1 130.2h3.3M590.1 107.3h2.9M382.1 58.2h3.9M506.9 129.4h4.7M588.3 14.2h2.1M514.9 66.5h3.8M584.3 121.7h3.9M507.0 70.7h5.5M510.8 106.8h3.6M605.8 137.1h5.2M484.7 125.5h2.7M493.3 137.8h5.1M420.0 37.3h2.3M600.8 86.6h2.2M497.3 128.9h2.5M652.7 73.9h4.0M552.9 125.4h3.3M382.6 96.0h2.4M589.2 115.0h2.3M648.2 69.9h3.8M605.6 32.2h2.5M576.0 128.9h4.5M464.0 95.5h5.0M392.3 41.9h3.2M555.9 20.1h5.2M437.4 81.6h3.9M478.8 101.8h2.6M534.3 139.4h2.5M487.7 104.6h4.3M533.2 114.3h3.7M642.7 125.5h2.1M453.3 142.8h5.3M583.9 125.4h4.1M450.4 140.3h5.5M452.6 38.9h2.8M578.0 117.2h3.8M432.1 37.2h2.6M464.9 103.5h5.1M624.3 130.3h4.6M528.7 63.7h4.5M478.0 140.9h5.2M420.4 141.8h5.3M623.7 117.5h5.4M643.6 115.4h3.3M397.1 68.8h5.2M518.6 117.4h2.4M411.0 136.1h3.5" stroke="#2a2a2a" stroke-width="1"/><path d="M483.4 22.0h4.3M478.8 132.9h2.9M647.6 70.3h2.1M553.2 21.1h4.7M439.4 139.3h2.0M553.2 20.8h3.8M534.4 129.9h3.4M499.0 23.6h3.0M533.4 116.7h2.9M501.0 114.7h4.1M422.0 20.9h5.3M521.0 101.1h5.4M368.7 44.3h4.2M604.7 33.9h4.4M642.1 109.8h2.2M499.9 37.5h2.3M415.8 120.8h2.6M428.9 140.6h3.8M578.5 50.6h4.6M474.2 22.7h5.3M647.5 111.9h3.9M572.0 116.1h5.0M514.7 128.0h5.3M627.7 117.9h5.4M494.3 129.0h2.1M615.2 103.9h5.5M634.1 108.2h4.8M474.5 25.3h5.1M514.6 67.7h3.9M496.7 119.8h4.3M572.2 95.3h5.2M479.4 120.5h3.0M431.6 106.6h2.9M585.6 137.7h3.9M425.3 21.2h5.3M562.0 123.0h2.7M420.9 22.5h2.6M612.3 121.6h2.1M642.4 71.7h4.1M634.1 93.8h5.1M489.8 63.0h4.5M570.8 50.6h5.1M427.4 86.9h3.4M395.4 86.8h3.4M527.9 59.0h4.8M481.9 85.3h3.9M419.7 112.5h5.3M469.5 107.7h3.6M589.5 90.7h5.3M647.8 138.1h3.3M607.9 28.1h3.4M573.4 21.0h2.8M470.0 52.1h4.3M368.2 51.2h3.4M472.6 132.7h3.7M485.2 135.2h3.6M575.0 108.6h3.2M533.9 104.1h3.8M569.9 46.1h5.1M547.0 125.0h3.9M495.5 22.6h4.5M458.6 84.0h3.8M464.0 126.1h4.6M562.4 42.9h2.6M392.1 115.0h2.9M558.1 131.4h4.6M506.3 45.3h2.2M637.0 133.4h4.1M406.5 22.9h4.0M519.7 112.4h2.3M493.6 128.5h3.6M458.1 27.3h3.9M390.6 124.7h4.7M512.5 134.5h2.1M529.7 139.2h2.7M451.8 36.9h2.0M470.7 37.0h2.6M522.3 132.4h2.2M578.2 21.1h3.6M450.5 134.6h2.3M661.1 127.4h3.0M485.8 121.3h4.8M392.7 124.1h2.9M636.6 131.1h4.4M418.3 32.6h2.1M379.8 20.7h4.9M593.9 117.9h4.4M583.0 98.8h4.6M492.7 122.7h5.0M451.5 113.0h2.7M597.9 124.0h3.6M581.9 46.2h4.6M549.5 34.4h5.3M487.8 121.9h5.1M464.3 28.6h3.4M595.1 100.0h4.4M497.9 43.6h2.7M497.4 124.9h4.9M599.6 33.6h2.5M581.8 97.1h3.1M468.4 24.1h4.1M517.6 136.0h3.0M462.3 36.9h3.1M604.0 136.1h4.9M474.3 89.6h2.9M465.8 30.1h5.4M645.4 99.0h2.1M400.1 141.3h3.7M612.6 116.4h5.1M529.6 116.0h3.5M467.1 30.7h2.5M624.1 130.9h2.7M588.4 45.1h2.7M463.6 103.0h2.1M596.6 116.6h2.1M538.9 114.2h4.0M424.8 33.1h2.4M621.5 113.3h5.1M384.8 27.0h3.0M393.9 79.2h3.1M455.6 25.2h2.6M524.9 107.8h3.2M482.7 132.5h2.4M557.7 109.9h3.5M429.3 141.1h3.8M633.4 125.2h5.5M488.2 139.8h4.7M527.0 126.1h3.7M611.5 14.7h5.3M651.1 72.4h2.7M387.8 21.9h3.3M662.1 101.4h2.1M639.7 136.2h4.7M578.2 106.5h2.5M662.3 131.9h4.1M484.4 78.3h4.7M452.1 66.6h2.1M555.6 136.9h3.0M496.2 76.0h2.6M508.9 19.8h3.3M472.7 126.3h3.6M570.0 107.9h5.2M552.1 72.4h2.5M618.2 98.4h2.9M386.5 22.6h4.2M418.6 140.4h2.6M476.6 137.8h4.5M501.5 137.8h4.9M530.7 96.9h5.2M392.0 81.8h2.6M393.2 136.0h2.3M505.8 130.8h5.0M657.6 118.1h2.1M471.2 140.3h2.3M658.3 113.4h2.3M508.9 120.1h3.1M516.0 132.5h2.8M473.3 39.4h5.3M493.6 93.2h4.2M388.1 70.8h4.5M559.9 101.6h3.3M509.0 42.1h3.1M417.5 118.5h5.4M561.9 21.6h4.5M648.7 14.7h3.5M575.0 108.5h2.6M593.0 37.6h3.1M662.5 124.9h2.0M555.0 112.9h3.0M442.0 92.5h3.5M601.1 104.8h3.0M526.5 116.9h3.3M460.4 136.7h5.1M419.4 29.8h3.5M603.0 131.0h4.5M612.9 114.1h3.2M549.3 114.1h5.4M402.9 108.9h2.9M385.7 106.3h3.5M387.9 116.7h2.2M566.8 122.2h2.2M571.0 129.0h3.0M621.0 21.8h2.2M533.3 135.0h4.5M646.8 98.1h2.0M615.1 105.2h4.8M594.4 117.2h3.8M574.9 105.0h3.4M407.6 29.3h3.2M611.1 79.6h5.4M621.9 129.2h3.7M627.1 73.5h2.4M656.8 107.7h2.1M500.2 113.5h3.7M485.3 120.3h2.1M504.6 22.2h2.7M519.0 119.5h4.7M589.3 103.2h4.2M535.8 105.1h5.1M375.7 50.1h5.2M615.0 139.9h4.8M507.4 108.7h5.0M488.7 111.0h4.4M603.8 115.0h5.2M398.0 84.9h2.3M637.4 104.3h4.0M448.5 19.3h4.1M540.7 130.0h4.4M592.5 87.9h3.6M658.3 106.4h2.3M404.2 59.1h5.1M514.1 25.7h3.5M663.9 124.8h5.3M472.5 92.1h4.2M657.9 74.2h4.4M581.7 19.9h3.2M655.7 113.2h4.7M510.1 128.0h2.1M482.0 138.5h4.6M604.0 110.2h4.8" stroke="#2a2a2a" stroke-width="1.4"/><path d="M501.5 59.5h3.4M497.7 39.9h2.2M407.4 19.3h4.8M460.3 69.7h5.2M414.9 35.8h4.6M486.1 77.6h3.1M432.8 101.6h4.4M398.8 38.5h3.8M434.7 99.5h2.9M382.7 22.4h5.0M456.9 122.2h3.0M396.7 76.2h4.0M373.9 26.3h2.3M609.5 33.0h4.9M666.7 44.0h4.6M421.3 138.3h3.4M398.1 91.3h3.9M407.2 112.7h4.1M415.4 85.4h3.1M547.8 67.8h3.4M453.3 133.2h4.7M646.1 71.7h4.9M388.8 91.0h3.1M456.5 100.2h5.3M441.2 97.3h2.9M389.5 111.5h4.9M408.4 72.5h2.3M401.8 20.4h5.3M644.3 54.8h4.0M579.8 14.4h4.5M548.8 70.3h3.3M533.8 28.8h2.5M398.2 106.7h4.0M452.1 90.3h2.3M374.2 51.6h5.3M451.3 123.3h5.4M571.9 22.0h3.7M548.1 39.5h4.8M494.1 71.3h4.6M393.5 32.6h5.1M367.9 56.8h4.3M476.5 47.1h4.8M586.2 49.6h4.6M606.9 18.9h5.5M642.0 48.1h3.0M441.6 82.7h2.0M472.9 119.7h5.2M523.3 52.8h4.6M394.0 60.5h5.3M471.7 36.9h4.4M373.1 21.9h2.1M398.9 138.1h4.8M418.9 113.1h2.7M498.9 61.5h5.5M655.7 23.6h4.8M456.9 85.0h2.8M609.4 82.3h4.8M406.4 20.8h3.3M370.1 20.0h4.1M544.7 68.5h5.1M530.1 61.9h5.2M405.6 19.5h3.4M401.1 121.5h4.3M378.3 70.7h4.4M493.0 42.7h3.7M662.3 30.7h4.0M464.7 88.1h4.9M389.9 83.4h2.8M656.6 71.8h3.9M495.7 32.6h5.0M421.8 19.0h3.0M466.6 118.9h4.2M611.3 24.4h3.6M386.3 66.4h5.3M391.0 112.6h3.4M465.9 139.1h4.4M417.8 95.1h2.5M462.7 61.9h2.1M437.6 101.9h2.4M449.9 132.4h4.7M446.5 130.3h3.4M434.5 115.9h2.3M591.8 43.7h5.4M469.8 88.3h5.4M380.0 70.4h3.5M448.4 100.4h4.8M559.1 44.0h3.6M475.5 72.9h4.3M437.4 22.6h5.1M468.4 72.6h5.1M392.2 111.5h5.0M376.4 49.1h3.2M578.1 82.9h2.4M378.6 19.4h3.4M533.6 16.0h4.4M498.1 64.9h3.4M369.2 18.5h3.4M660.9 59.7h4.5M492.0 77.9h4.0M377.0 57.2h5.3M388.3 42.9h3.7M504.0 42.6h5.0M480.2 44.0h4.5M403.4 18.4h3.0M642.8 34.0h4.7M431.9 18.9h4.6M502.1 45.5h2.7M494.1 66.8h2.3M421.6 115.4h4.1M390.0 77.1h3.9M390.2 112.9h2.2M460.2 114.7h2.0M450.7 16.8h4.5M407.3 104.6h2.8M368.6 38.4h2.1M404.7 21.1h2.7M501.6 72.8h5.2M597.1 42.3h4.8M485.9 74.8h4.8M435.0 111.2h2.4M402.9 110.2h4.2M436.4 139.1h5.3M459.4 100.3h4.0M469.2 84.1h2.1M519.1 56.8h4.5M491.4 27.0h4.6M376.3 14.0h2.8M664.4 75.9h2.6M416.2 101.1h2.1M534.1 29.6h3.0M434.7 141.3h4.4M411.2 100.8h4.7M578.7 49.7h3.9M380.1 69.1h2.7M398.5 100.5h5.2M447.6 124.9h2.8M463.7 33.4h3.9M436.5 115.9h3.0M570.3 21.2h4.1M474.0 70.8h2.1M526.5 58.6h2.5M427.9 141.5h3.0M568.9 46.7h3.2M376.6 16.2h4.4M533.8 66.9h3.5M444.1 98.9h5.1M514.3 50.6h4.2M531.1 66.5h2.8M420.0 112.3h3.5M430.8 99.4h4.6M555.7 58.3h5.0M384.4 80.5h4.7M427.1 107.8h3.0M442.5 16.9h5.0M394.2 84.0h4.1M534.8 66.4h5.1M376.7 52.9h2.9M624.4 68.5h5.3M379.7 91.5h5.2M536.3 33.2h3.4M422.4 105.8h2.4M418.3 120.7h5.3M435.7 22.4h3.0M391.5 92.4h4.7M573.5 82.9h2.6M472.4 82.2h4.4M407.8 93.6h3.9M461.6 79.1h2.0M533.3 14.1h2.4M430.4 14.6h2.2M546.3 67.6h4.7M423.6 117.5h3.2M667.1 71.5h2.5M570.2 51.8h4.2M476.0 72.9h4.0M401.2 112.9h2.8M442.4 128.0h4.7M474.6 91.7h5.2M564.6 74.1h2.6M518.0 64.7h2.1M403.8 92.6h5.1M527.3 21.9h4.6M635.5 23.3h5.3M384.7 90.0h2.5M565.4 18.1h3.0M664.8 44.5h2.4M377.7 74.3h3.4M467.7 78.9h4.9M591.1 22.6h5.3M398.4 39.0h2.3M394.1 134.7h3.3M430.8 91.0h3.4M444.0 89.5h3.4M461.7 132.3h5.1M368.2 76.7h3.6M476.3 17.1h4.2M466.0 100.4h2.2M375.4 40.2h5.3M382.2 71.2h5.1M476.6 76.1h2.8M392.5 101.0h4.7M466.7 34.1h3.1M412.3 135.8h2.6M466.8 105.7h4.4M529.9 25.7h3.2M495.3 50.1h5.2M648.2 62.1h2.2M475.6 132.8h4.9M567.3 77.4h5.1M370.7 27.2h4.7M434.8 126.8h2.5M415.4 91.3h3.7M543.9 21.0h2.0M391.9 75.5h4.7M532.8 23.2h3.5M463.8 105.8h2.0M473.3 52.2h5.3M567.9 72.1h3.1M510.3 68.2h5.3M452.5 135.3h3.7M426.8 98.9h4.4M475.9 88.0h4.1M368.5 66.2h4.4M608.9 83.6h4.3M390.1 122.1h5.2M401.6 97.6h5.2M441.4 129.6h2.3M410.3 124.7h3.7M394.7 87.1h3.4M468.3 120.6h4.3M408.1 112.1h4.6M378.6 82.8h3.5M508.5 22.2h3.6M592.9 47.9h4.5M454.5 21.6h4.5M489.1 51.5h4.1M520.1 24.2h3.3M658.2 69.8h4.1M374.2 61.5h3.4M492.7 65.3h2.9M377.7 59.8h3.8M463.4 123.4h2.8M487.3 45.3h4.8M476.4 130.9h4.2M395.6 58.0h4.6M421.6 130.1h3.4M553.7 68.1h2.8M418.6 28.6h2.8M398.2 137.6h5.4M453.0 70.0h2.8M622.1 24.0h3.2M434.4 125.0h2.3M404.9 106.1h4.7M663.6 64.3h5.4M412.9 101.6h4.4M576.9 20.5h5.5M437.0 109.6h3.6M619.4 26.5h3.0M438.8 95.3h5.1M535.4 22.1h5.4M450.7 76.1h2.0M372.1 38.3h3.5M456.8 22.4h4.9M397.0 129.8h3.4M483.1 16.3h2.0M434.2 21.0h4.5M492.0 33.5h2.7M657.2 15.5h2.6M489.2 42.0h2.9M469.9 116.2h2.4" stroke="#383838" stroke-width="1"/><path d="M434.5 87.6h5.3M385.8 67.5h4.9M500.4 44.3h2.4M642.2 24.2h3.6M396.8 72.2h2.9M480.6 72.1h2.6M412.7 136.5h5.3M628.0 71.5h3.4M397.8 138.2h3.0M384.8 93.5h3.3M478.8 30.3h2.1M581.5 60.4h2.5M399.2 97.1h2.6M398.1 87.6h4.9M421.4 105.4h2.6M432.0 127.3h5.1M441.3 36.1h4.3M607.6 30.5h4.2M459.0 137.8h2.5M456.2 142.0h3.2M575.7 83.6h5.3M586.4 88.3h2.3M392.7 35.4h4.0M388.6 38.7h4.3M479.6 60.6h5.1M648.9 25.4h5.3M529.4 60.9h2.1M411.5 128.2h3.4M476.3 69.1h2.4M471.8 111.3h3.5M386.9 78.5h3.3M405.5 100.3h5.4M477.2 77.1h4.7M447.2 137.1h5.1M382.8 52.2h2.7M480.2 35.7h4.0M596.9 63.4h2.8M415.2 135.5h4.6M667.8 72.9h3.4M657.1 21.0h2.4M384.2 31.9h4.6M409.4 98.3h5.0M506.5 41.5h3.1M425.9 15.1h5.2M477.0 127.6h3.6M435.6 132.4h5.2M471.0 127.6h4.6M455.6 101.5h4.9M539.6 66.9h5.1M538.6 33.6h3.7M664.7 22.0h3.6M471.8 107.6h3.0M403.5 82.4h3.2M593.8 49.8h5.5M528.8 62.0h5.5M468.2 125.3h2.7M382.5 62.2h4.2M614.6 25.0h4.3M465.1 53.5h4.5M468.8 23.2h5.4M541.5 67.8h4.8M505.3 39.7h3.6M453.6 112.6h5.1M373.8 82.2h3.4M480.3 72.1h3.6M368.3 51.7h4.9M453.7 131.0h5.1M415.0 93.7h2.8M510.7 70.7h3.8M432.4 109.2h4.3M654.0 21.0h4.4M601.7 36.1h3.0M381.0 42.0h4.9M404.6 33.1h5.5M427.5 107.1h2.7M498.5 44.0h4.3M398.5 82.0h5.0M387.6 33.1h4.0M478.1 18.1h2.3M465.5 105.4h5.4M474.7 117.5h2.3M466.3 92.1h3.8M461.3 111.3h4.1M604.0 83.0h4.8M533.2 30.4h2.9M370.7 80.9h4.4M660.4 28.5h4.9M413.7 91.4h2.6M484.7 67.6h3.2M406.1 85.3h4.1M463.8 116.9h4.7M654.3 64.6h5.5M394.6 35.7h5.0M465.3 30.7h5.3M420.9 126.4h2.6M398.6 72.1h3.8M416.5 129.2h5.4M567.2 15.8h2.7M614.7 21.0h2.7M600.5 32.3h5.0M421.9 135.7h4.7M412.9 36.8h4.4M478.4 62.9h2.1M569.6 48.0h3.7M367.3 38.6h5.1M462.9 92.5h2.1M613.0 24.9h4.1M389.9 110.7h3.8M481.5 15.8h2.4M665.3 21.6h5.2M473.3 122.7h3.4M382.6 41.3h4.2M450.5 115.2h4.6M421.3 130.4h2.3M372.9 69.6h3.4M398.7 96.0h2.5M509.4 37.4h5.4M439.9 102.6h3.5M402.5 116.3h2.8M473.6 90.9h5.5M619.7 67.5h3.8M411.7 89.7h2.4M599.1 21.9h5.1M469.5 115.0h4.3M397.0 54.9h2.2M534.3 59.0h3.1M659.4 73.0h2.6M462.1 76.9h2.6M439.5 31.6h2.1M382.7 98.9h4.3M457.1 101.6h4.1M620.9 72.3h4.3M426.6 128.8h5.5M405.3 130.3h3.5M529.1 55.0h3.1M386.6 45.0h3.3M474.1 102.0h4.3M436.5 126.9h4.0M503.5 54.5h3.0M451.7 21.5h4.6M552.1 34.2h3.2M381.9 99.5h5.0M503.0 50.5h3.3M496.3 53.4h2.6M367.5 28.2h5.0M603.2 32.0h2.7M408.1 95.0h4.6M636.2 64.9h2.8M659.3 66.4h4.8M585.9 19.9h5.5M489.0 53.8h2.6M449.3 81.8h2.1M378.9 47.7h3.9M398.7 38.1h3.6M389.3 14.5h3.7M411.9 83.6h4.7M582.2 14.5h5.2M628.5 72.1h4.2M402.7 115.1h4.0M402.6 132.2h2.5M395.0 17.6h3.9M652.7 17.4h5.2M435.6 33.9h4.4M485.0 41.5h3.0M550.5 19.8h2.2M419.0 133.0h3.5M410.1 121.1h5.1M387.1 39.2h4.2M511.0 68.5h5.5M385.9 79.7h3.4M444.4 28.4h5.1M405.5 67.6h4.0M666.6 60.1h4.1M424.3 29.9h4.2M462.7 120.8h3.2M393.2 93.5h3.9M416.3 32.0h5.4M464.0 83.3h3.9M524.1 25.5h2.6M494.1 45.8h5.1M431.3 96.5h3.2M400.3 55.1h3.4M530.4 66.5h4.2M664.0 53.4h5.4M377.1 66.0h2.9M418.8 132.1h2.1M583.5 50.2h4.0M382.8 90.8h2.8M399.8 139.9h4.6M464.4 104.0h3.5M443.0 21.7h2.8M631.8 14.5h5.3M385.8 60.9h3.6M505.9 20.2h3.5M501.3 55.5h5.3M465.4 35.7h4.9M605.8 28.2h4.4M520.6 57.6h2.2M383.2 35.7h2.9M411.0 141.9h5.0M399.0 105.1h4.3M435.3 136.3h5.1M515.0 51.7h2.5M535.8 57.2h4.1M440.2 96.1h5.0M506.3 14.0h2.5M664.1 67.6h4.7M558.7 68.2h4.8M429.7 131.3h5.4M403.0 109.4h2.7M385.5 91.6h4.4M407.1 67.9h2.1M464.6 52.4h5.2M641.5 31.1h2.7M493.1 71.0h4.4M501.3 15.6h3.2M463.9 21.4h4.3M464.2 127.9h2.5M442.2 19.3h3.9M466.8 107.3h5.4M467.1 80.5h3.1" stroke="#383838" stroke-width="1.4"/><path d="M399.9 130.3h3.9M506.9 67.4h5.2M459.3 126.7h4.0M451.1 74.7h4.9M372.7 68.6h4.3M395.9 86.7h3.5M379.1 17.1h3.1M465.2 14.1h3.0M463.1 65.9h4.9M445.2 134.7h4.2M618.8 23.6h5.3M401.6 117.6h5.4M427.7 33.4h4.5M398.4 134.7h4.9M434.1 141.3h2.3M493.4 28.8h5.5M647.1 51.3h2.5M391.2 41.5h4.6M379.4 43.9h4.2M650.3 46.1h2.5M419.6 92.5h2.3M421.2 105.9h2.7M404.4 133.8h2.2M405.4 19.7h2.5M603.1 81.0h4.0M467.7 86.4h2.9M432.8 19.3h4.0M385.2 32.4h4.3M456.1 131.7h5.0M518.3 64.1h4.3M646.4 67.9h5.4M396.6 101.1h2.9M441.9 96.3h3.2M554.2 41.6h2.4M634.2 47.2h2.2M611.4 66.2h4.1M660.9 40.3h4.5M639.5 68.1h3.3M465.0 88.6h2.1M437.4 111.7h5.2M622.1 24.3h3.2M396.0 107.3h2.2M576.4 75.3h3.8M404.9 139.4h4.3M607.9 69.3h5.4M475.9 35.2h3.2M414.0 100.9h4.9M440.6 128.4h4.6M380.4 28.3h3.6M467.7 105.2h2.2M654.6 23.9h2.1M661.7 34.9h3.8M487.6 68.2h4.8M403.9 28.7h2.7M437.0 29.6h2.4M647.6 49.7h2.9M398.3 104.8h4.4M585.0 54.9h5.5M477.0 67.0h2.8M563.8 43.2h4.9M389.9 90.3h2.9M500.3 68.3h2.7M489.9 78.9h4.0M477.3 69.7h4.3M527.9 50.3h3.2M597.0 72.3h5.1M622.0 27.2h4.3M510.4 28.6h3.0M424.8 16.8h4.7M522.3 62.3h3.5M614.7 69.3h3.1M472.1 14.5h4.8M455.1 132.7h4.6M400.6 100.4h5.5M550.4 48.9h2.5M665.1 54.6h5.0M596.6 45.7h3.6M489.5 43.5h5.5M403.7 109.9h4.8M525.3 36.3h2.3M556.5 51.6h2.2M395.8 49.9h2.8M610.6 82.3h3.2M411.7 16.5h3.7M583.0 87.7h2.7M393.2 79.8h3.8M487.2 62.9h4.2M664.6 39.8h2.0M476.0 129.8h2.3M477.1 55.1h5.2M454.4 125.3h2.6M403.5 117.2h3.6M438.4 140.4h2.9M419.9 32.7h3.5M458.2 121.2h4.8M477.2 90.9h2.7M575.1 58.6h2.5M505.2 49.4h2.3M392.2 39.7h2.9M538.8 30.1h2.7M385.0 75.5h5.3M542.2 40.1h3.1M393.2 140.9h4.5M482.3 73.0h2.8M423.9 14.2h4.3M396.2 126.9h4.4M617.0 49.3h3.1M374.3 59.2h4.9M380.6 45.9h4.4M664.6 32.9h4.3M463.3 121.9h4.8M379.7 79.5h5.4M400.6 115.3h2.7M534.1 23.0h3.8M492.3 46.9h2.8M472.4 114.7h3.0M574.5 48.3h5.3M401.9 140.2h4.1M654.7 20.2h4.8M550.9 21.8h4.4M376.0 64.1h3.3M382.1 65.2h5.2M647.8 33.1h4.3M580.8 51.2h4.0M574.9 61.6h4.5M564.0 49.4h3.3M420.9 119.9h4.9M401.4 141.4h4.8M394.7 61.6h3.1M510.8 50.9h3.0M550.0 43.7h5.2M514.8 67.0h2.7M596.4 85.2h2.8M396.8 14.9h3.6M640.9 68.6h5.0M462.9 73.6h3.9M421.9 141.4h5.3M406.0 69.2h2.7M368.7 26.2h2.5M414.8 120.2h4.6M417.5 108.4h3.4M542.4 47.9h2.4M601.6 19.8h4.8M548.2 43.4h4.7M662.5 48.3h5.3M371.6 29.5h4.9M657.2 52.1h4.4M387.1 112.2h2.3M444.9 123.6h5.5M441.9 101.4h3.1M399.3 64.3h4.2M593.2 85.1h2.6M501.1 20.6h2.0M584.2 46.0h3.1M380.0 79.9h5.4M500.2 72.0h5.2M600.6 45.6h2.2M539.9 35.1h2.6M626.0 16.9h4.8M494.9 52.1h4.8M386.1 55.8h2.1M454.5 91.7h3.7M448.2 108.7h2.2M483.4 19.1h2.1M416.1 106.5h5.1M429.0 105.9h4.4M513.6 32.6h4.9M404.6 127.6h2.5M516.6 25.0h3.8M385.2 78.3h2.3M502.4 51.4h2.1M647.5 28.2h5.4M389.3 93.6h5.1M425.6 22.0h2.5M642.3 71.6h4.7M511.1 68.0h3.4M464.0 62.7h2.2M612.3 75.4h2.7M426.9 142.6h2.1M652.8 55.8h5.5M594.0 53.1h4.5M482.5 14.7h3.9M587.1 85.3h4.1M611.5 41.6h2.2M489.9 30.4h5.1M442.3 125.8h3.3M620.2 20.1h4.4M609.6 61.8h2.1M527.3 50.8h2.0M633.6 21.2h4.8M417.0 119.0h4.0M662.7 74.4h3.1M592.6 65.7h2.2M554.3 14.8h2.5M475.2 35.7h3.0M459.3 135.6h3.1M486.7 50.0h3.3M600.6 86.6h3.2M414.3 117.3h2.7M643.3 37.7h3.6M424.3 116.4h3.5M556.0 50.1h3.5M514.4 51.9h5.2M406.0 77.4h2.4M485.9 68.5h5.2M470.4 78.4h2.9M603.2 49.7h4.9M540.1 32.7h3.4M433.0 96.0h2.7M437.6 124.2h5.0M553.0 61.7h2.2M658.3 49.9h3.9M579.4 15.1h3.0M539.1 45.8h2.7M573.1 65.9h4.3M482.9 49.5h2.4M512.3 64.4h3.0M439.5 35.5h5.1M499.1 60.9h5.4M569.7 46.5h3.8M605.6 32.3h3.4M535.5 40.3h4.2M534.3 56.6h4.4M477.5 91.3h2.6M393.9 55.7h2.1M604.4 58.2h4.8M433.9 138.4h3.8M384.5 44.7h3.2M488.6 63.5h4.8M462.8 107.4h2.5M607.3 54.8h2.1M476.6 121.8h2.2M393.7 76.9h2.4M488.4 46.0h5.2M472.0 75.5h4.8M367.7 67.7h3.9M421.6 91.5h3.7M487.1 65.0h3.3M608.3 31.8h2.5M508.1 60.3h3.1M397.3 121.7h2.3M553.3 68.1h4.7M407.5 112.3h4.2M559.6 43.5h4.3M515.7 59.0h2.2M562.1 51.2h2.2M515.1 47.4h3.6M394.3 35.2h3.5M381.1 55.8h3.9M459.5 71.3h2.6M390.6 31.5h4.7M368.3 66.6h4.3M490.5 59.6h4.1M663.9 35.9h4.2M434.4 17.6h3.1M667.6 70.0h4.1M445.6 103.5h3.8M569.7 15.1h5.4M609.5 61.9h2.1M394.6 113.8h3.0M654.8 75.6h4.1M645.9 34.9h4.5M433.5 17.8h4.1M373.2 14.2h3.4M437.7 33.2h5.0M554.0 55.0h3.0M607.7 62.5h4.1M532.1 59.0h2.8M472.6 82.1h4.1M469.6 134.1h5.3M435.2 141.4h3.2M642.1 49.3h2.8M572.1 21.7h4.3M559.8 54.1h4.6M474.0 128.8h4.8M396.4 35.5h5.3M424.3 134.3h2.9M406.7 100.9h4.7M453.7 78.1h2.1M506.2 71.2h2.1M469.9 59.8h3.9M655.2 56.7h3.0M613.7 78.9h4.4M418.5 33.9h2.7M636.0 35.9h2.4M518.7 28.2h3.4" stroke="#464646" stroke-width="1"/><path d="M429.2 92.5h4.8M533.2 29.4h5.4M646.5 46.8h2.3M415.3 142.1h5.1M602.9 84.6h4.0M662.3 31.1h5.4M559.7 74.4h5.1M397.3 78.8h3.9M642.6 65.8h5.0M644.0 48.8h5.2M516.7 14.3h5.0M371.6 30.1h3.6M378.0 79.3h2.3M425.5 136.9h4.6M389.6 72.1h5.5M613.1 47.8h4.9M498.1 33.0h2.9M411.2 121.0h4.6M426.9 37.6h4.0M436.9 33.8h4.0M415.8 96.5h2.9M591.9 54.1h3.8M502.2 56.2h4.6M400.9 83.8h2.4M392.3 106.4h4.9M426.1 124.2h3.2M449.0 78.8h3.6M604.3 15.0h5.2M526.1 66.7h2.5M386.7 98.1h4.7M411.9 118.5h5.4M657.1 59.3h4.1M508.2 71.1h3.4M560.4 46.1h2.4M492.6 19.1h4.8M520.7 15.7h4.8M503.8 19.0h5.2M489.4 78.1h4.2M589.6 60.7h3.1M377.8 22.3h5.0M634.2 67.2h3.2M583.8 21.7h5.5M407.6 35.4h3.8M370.0 83.1h5.2M485.2 21.2h2.2M612.2 68.7h2.8M443.1 117.4h4.4M610.1 53.0h3.7M566.4 71.9h2.8M412.2 110.2h4.8M410.9 31.5h5.1M502.0 72.0h3.8M395.0 103.6h3.5M380.7 59.7h5.1M514.7 41.5h2.2M449.4 15.4h3.4M593.9 67.8h3.8M578.9 60.1h2.1M621.8 21.9h4.5M463.5 142.7h3.3M436.6 134.9h2.8M463.6 116.4h3.7M604.3 38.6h2.7M515.9 30.3h3.0M518.9 58.7h4.4M631.6 36.8h3.2M467.7 110.5h5.5M555.1 56.4h4.5M545.0 41.9h2.3M592.2 15.8h2.9M396.7 20.0h3.6M530.8 24.4h4.9M399.8 57.7h3.2M464.7 59.8h3.8M600.8 87.7h2.9M588.3 42.9h2.3M437.2 142.8h5.0M546.8 39.3h4.7M398.9 141.5h2.1M409.9 115.9h3.3M474.9 86.9h4.8M643.5 24.0h5.1M413.5 104.6h3.3M394.8 52.8h3.5M486.6 31.9h3.7M589.9 90.0h3.9M514.0 39.1h2.2M434.3 109.0h3.2M456.7 32.4h3.6M446.5 93.4h5.0M404.1 30.7h3.4M643.4 24.0h5.1M506.2 36.4h4.5M615.2 69.1h4.8M529.4 40.8h2.4M510.0 19.1h2.2M493.2 70.6h4.6M420.5 28.9h3.1M417.3 100.2h2.5M456.6 89.7h3.1M431.8 31.8h3.6M393.1 96.2h2.5M635.4 57.2h5.4M403.5 91.5h3.4M491.2 36.9h3.5M466.1 18.8h5.1M592.9 20.1h4.5M467.2 140.4h2.4M449.5 85.6h2.9M504.2 27.2h3.1M494.3 55.6h3.4M661.7 27.8h2.6M519.3 44.8h2.8M624.5 33.4h5.5M457.7 116.9h5.2M582.3 61.4h3.3M483.1 35.1h4.1M446.9 125.8h3.9M523.8 40.4h2.4M475.8 18.8h5.1M611.5 69.2h2.7M494.6 66.6h2.6M547.1 59.8h3.1M565.4 49.5h2.9M399.1 66.6h2.3M549.2 69.3h4.5M380.2 48.0h4.8M374.6 34.4h2.8M539.5 39.8h3.7M385.9 36.6h2.6M433.1 91.5h3.6M419.6 109.0h5.1M410.8 99.8h2.5M532.8 56.3h4.1M435.3 114.2h4.8M415.3 33.1h2.7M402.3 89.9h4.1M581.5 64.3h2.4M412.6 100.0h4.0M604.2 43.7h3.3M499.4 28.0h3.4M503.1 24.2h2.4M384.1 76.7h3.6M442.6 122.7h2.6M410.5 140.8h2.5M536.1 46.8h3.2M580.1 19.2h4.3M631.6 70.1h3.5M463.1 117.4h2.4M591.3 73.0h5.0M368.7 45.1h4.7M465.6 126.6h3.7M494.6 68.2h2.9M531.6 24.9h3.5M631.9 17.1h3.1M667.5 14.1h2.1M456.6 110.7h3.6M615.5 53.4h2.2M566.7 21.3h4.2M455.3 89.6h4.1M479.5 69.2h3.9M419.0 98.9h4.7M476.7 62.1h3.1M543.7 44.4h4.0M633.8 15.8h2.0M532.1 61.3h2.8M589.3 19.2h5.0M481.4 82.0h4.8M507.4 31.7h4.2M662.3 35.8h3.1M546.1 39.6h2.1M405.8 100.2h3.8M396.5 66.8h5.2M630.6 55.6h4.2M624.2 34.6h2.8M382.3 28.5h3.8M559.1 50.0h3.0M461.9 116.7h4.0M579.3 86.5h5.4M593.6 39.1h3.7M609.6 57.8h2.5M447.1 132.0h5.5M431.2 101.9h3.3M457.5 117.9h5.3M397.3 68.8h3.1M619.1 72.1h3.0M450.1 31.8h4.0M454.8 99.9h2.6M554.2 68.0h2.5M474.8 32.2h4.4M385.2 36.0h3.8M499.9 44.3h5.3M623.7 29.5h5.0M442.2 76.3h4.6M541.5 39.6h2.5M418.6 104.4h4.0M662.0 71.6h2.8M376.1 23.2h2.7M591.7 88.8h4.9M399.1 142.2h2.3M419.8 120.7h4.8M394.5 134.5h4.1M531.1 31.5h3.5M497.8 62.1h4.4M633.3 51.6h4.3M379.6 90.7h5.5M418.1 93.5h5.4M454.9 34.7h4.5M472.8 34.8h2.8M391.1 37.3h3.4M476.3 63.0h3.0M459.4 38.6h3.9M495.1 45.6h3.9M373.6 33.6h5.2M450.8 136.2h4.7M403.0 69.2h4.6M617.1 50.1h2.3M482.5 57.4h5.0M397.5 77.4h2.3M487.8 48.2h4.6M556.1 69.2h2.0M407.0 140.5h3.6M465.5 124.8h4.4M546.8 65.0h4.9M498.2 17.7h3.3M388.6 115.9h3.5M485.3 61.4h4.5M487.7 21.5h3.8M622.7 67.2h2.5M424.2 121.5h5.2M441.3 134.3h3.9M636.3 71.3h2.3M449.5 119.4h4.4M581.1 49.5h2.5M615.2 25.2h5.5M463.0 95.5h2.1M404.2 20.4h5.3M532.6 63.2h2.6M438.1 93.5h3.1M515.7 38.2h3.7M373.5 14.4h3.6M512.7 35.3h5.3M443.6 142.4h2.5M483.2 61.1h2.6M390.3 18.4h2.4M452.0 94.4h2.5M579.4 85.5h3.3M488.2 32.3h3.5M525.0 34.9h5.0M442.5 140.0h4.0M557.8 15.4h4.8M495.9 52.8h5.0M464.4 93.2h5.2M414.5 108.5h5.2M459.9 77.2h5.5M518.2 48.3h4.6M562.3 50.3h2.2M456.8 116.6h2.2M483.5 81.8h2.7M530.9 57.9h4.0M607.9 32.6h3.0M441.5 118.2h3.7M503.3 72.4h4.3M561.2 51.4h2.2M394.8 121.3h3.9M663.7 38.1h5.4M416.3 113.5h3.1M481.2 50.4h5.0M659.8 24.5h4.7M663.8 55.1h3.9M660.3 68.8h5.3M472.6 30.7h4.0M502.1 54.3h4.5M477.8 54.8h3.7M486.6 62.2h2.1M585.5 57.5h3.5M589.7 14.8h3.6M498.8 58.7h2.6M394.9 48.0h2.4M446.5 122.4h3.9M380.8 42.0h3.4M447.1 84.0h4.6M563.0 75.2h3.3M473.7 17.1h3.2M410.1 35.9h5.2M425.4 109.1h3.3M526.8 62.3h2.5M405.0 17.9h2.1M446.1 138.2h5.5M429.6 108.7h5.0M639.9 14.1h2.9M423.0 139.9h3.9" stroke="#464646" stroke-width="1.4"/><path d="M446.3 19.6h5.3M454.9 38.0h4.3M550.8 71.4h4.1M655.2 60.0h2.3M481.0 38.6h4.6M400.3 78.2h4.4M642.2 45.7h5.1M517.1 22.1h2.4M396.2 71.1h5.3M474.3 136.6h3.0M401.8 18.9h4.9M506.0 47.0h3.6M601.0 47.9h2.7M518.2 25.4h2.5M638.7 23.0h3.4M375.5 46.3h2.2M457.0 91.3h5.4M532.4 38.5h3.7M662.7 47.3h4.5M666.3 24.4h3.9M652.4 73.1h3.0M602.9 38.2h3.0M516.3 25.4h5.3M511.0 41.3h5.0M371.0 52.3h3.9M583.1 86.0h5.0M461.7 131.7h5.0M546.3 34.1h3.6M572.4 48.9h2.5M398.1 67.6h3.5M493.5 21.2h3.8M495.8 43.6h3.9M658.4 29.1h3.3M428.4 15.1h3.4M603.9 82.0h3.5M630.6 37.2h4.3M658.7 52.7h4.2M476.5 50.1h2.6M617.7 29.5h4.5M645.9 59.7h2.7M629.2 27.8h4.5M632.8 23.2h4.4M563.9 16.8h4.2M512.3 48.5h4.9M410.6 113.4h3.3M448.8 35.2h5.0M487.1 53.1h2.9M368.0 74.9h4.2M533.1 57.3h2.3M469.9 114.1h5.1M599.4 71.8h4.8M546.5 36.9h4.3M390.4 74.0h2.6M536.2 38.6h4.8M473.9 61.4h2.8M371.0 68.3h5.1M617.4 15.6h2.4M410.8 31.4h4.0M427.8 32.9h2.8M553.5 14.9h2.8M451.1 116.2h2.3M452.9 140.5h4.1M646.4 42.2h2.2M379.9 79.5h2.0M454.9 117.1h2.5M370.8 65.3h3.2M370.9 31.8h2.2M612.2 31.6h4.5M422.6 129.6h4.0M630.0 38.8h4.5M512.9 40.0h4.5M591.8 83.0h2.2M549.8 42.3h3.9M473.2 59.6h3.3M543.5 47.1h4.1M468.6 111.6h2.7M587.6 84.8h5.2M440.8 17.4h5.3M546.4 35.1h5.3M511.2 26.7h2.6M519.2 27.2h3.8M433.1 124.7h2.0M498.2 67.3h2.5M474.6 20.8h2.3M646.7 41.1h3.8M604.7 73.8h2.8M641.0 51.4h3.8M397.5 54.2h5.2M396.2 138.7h5.2M453.0 105.7h2.2M654.7 24.9h4.1M618.3 28.3h4.1M545.1 34.0h4.1M613.5 70.6h2.2M523.0 47.4h4.8M643.8 16.0h2.9M621.8 66.0h2.1M455.4 78.0h4.8M449.5 37.4h5.1M644.1 23.8h4.8M599.8 57.7h2.2M380.4 71.9h5.2M627.7 14.7h3.3M554.2 44.5h3.4M646.8 30.1h3.2M386.9 98.9h5.3M430.0 142.0h4.2M476.8 19.4h4.7M471.2 111.1h2.3M631.9 59.5h5.0M519.8 25.9h3.3M371.3 30.4h4.2M504.2 60.9h2.6M518.0 31.4h4.5M417.9 30.8h2.2M440.0 98.0h2.2M619.0 45.6h2.9M464.3 98.9h4.4M457.0 136.0h2.6M557.6 59.0h3.6M525.7 61.6h2.6M563.3 56.9h4.7M403.7 98.7h2.7M424.2 134.2h3.3M463.1 130.6h5.1M472.5 108.8h4.8M474.9 74.7h4.8M601.8 19.9h4.0M428.8 18.4h5.4M553.8 46.6h5.0M501.3 65.1h2.4M602.4 69.3h3.1M468.2 99.3h2.9M516.7 35.3h4.5M583.5 61.1h3.1M490.9 48.0h4.2M638.3 28.3h4.4M600.4 42.4h4.1M447.9 88.8h2.0M386.3 68.9h2.8M400.9 73.4h3.6M664.4 49.8h4.5M600.1 34.9h2.6M418.9 20.7h2.8M379.9 71.6h2.4M475.9 14.3h5.2M429.8 122.8h2.7M390.3 108.9h3.8M391.9 115.7h4.9M483.8 73.2h3.6M419.3 29.0h2.2M460.8 69.0h4.6M497.1 48.6h4.7M540.6 16.9h4.0M650.5 41.6h3.2M460.3 113.0h4.1M381.0 92.4h2.8M419.8 14.4h4.0M498.5 67.2h2.3M413.0 89.6h4.1M505.1 35.2h4.6M495.5 59.8h3.1M503.7 52.7h4.9M461.5 73.9h2.3M588.9 84.9h3.5M496.1 54.5h3.7M554.6 41.7h4.3M393.4 107.3h2.1M501.0 71.4h2.3M476.1 50.4h4.6M471.5 87.0h5.5M449.8 113.1h2.3M438.5 115.3h2.8M619.2 70.5h3.7M607.6 72.2h3.0M664.9 26.1h5.5M450.6 91.7h3.5M470.9 129.5h2.1M633.9 14.7h3.0M638.8 61.8h4.6M520.4 23.1h4.0M524.1 57.9h4.5M404.4 135.0h2.7M641.3 27.2h2.5M602.0 57.7h3.2M483.5 64.6h3.9M396.6 15.0h3.4M469.9 31.6h5.3M520.7 52.0h4.6M510.8 48.2h3.1M409.0 116.9h4.3M569.9 49.3h4.3M490.2 48.1h4.9M513.9 17.7h2.0M437.5 133.1h3.4M398.9 129.8h2.7M391.0 19.2h4.3M455.1 32.5h5.5M442.5 33.6h5.1M406.3 119.1h2.8M453.6 139.8h4.7M545.1 35.8h3.0M556.5 50.8h2.4M568.9 46.0h3.8M536.3 31.4h4.3M656.0 52.7h4.3M443.4 137.3h3.3M404.0 72.1h2.3M405.6 125.4h2.1M490.7 45.3h3.4M389.4 67.2h3.7M510.6 38.9h2.7M485.6 39.0h3.2M453.0 86.9h2.4M382.8 77.8h4.6M446.4 127.9h2.8M548.2 57.3h3.2M441.5 35.9h2.2M582.0 54.9h4.2M460.9 86.2h4.6M644.6 42.3h4.4M660.6 18.6h4.4M384.0 41.4h4.4M521.9 52.3h2.9M461.7 16.4h4.5M515.9 51.5h2.9M399.1 119.1h3.0M470.5 87.2h4.7M495.7 27.7h5.1M527.5 15.2h2.5M402.4 36.3h3.5M502.6 20.9h5.4M509.2 38.3h2.6M661.8 55.1h4.7M390.6 90.3h5.2M490.5 73.5h3.5M544.2 68.4h4.8M655.9 15.5h2.7M616.2 28.7h2.7M651.3 62.3h3.8M435.7 114.9h3.3M485.4 29.5h5.4M602.2 49.4h2.0M574.4 66.6h2.3M432.6 20.0h5.4M576.1 16.0h3.9M471.2 130.9h3.6M655.7 69.4h4.6M421.9 32.3h3.6M369.9 73.7h3.6M452.8 104.8h3.2M497.9 53.8h3.2M377.8 83.2h3.0M475.2 37.1h4.6M460.5 98.9h2.1M432.8 135.5h4.0M371.6 83.4h4.9M663.7 44.3h3.0M383.4 15.8h2.4M658.1 27.4h2.7M535.5 32.6h3.2M650.0 71.7h4.3M590.9 78.3h2.3M402.6 104.7h3.7M459.9 137.5h2.2M373.0 21.5h3.4M454.4 18.5h3.2M468.6 89.1h4.7M533.9 25.6h4.8M622.7 23.3h2.1M641.1 23.0h4.9M565.0 43.2h3.9M617.8 51.0h2.0M477.7 29.4h2.1M468.9 80.3h5.0" stroke="#545454" stroke-width="1"/><path d="M384.5 63.1h3.0M403.3 131.9h5.2M373.6 32.7h5.4M390.2 121.2h3.5M587.3 61.4h4.1M619.6 40.8h3.7M410.4 114.4h4.6M390.8 100.5h4.8M374.1 82.1h2.4M419.2 99.8h4.5M483.9 54.6h3.4M440.6 34.1h4.8M472.6 29.5h2.3M388.0 79.2h4.1M643.3 21.9h3.3M435.5 135.0h2.0M663.4 42.3h3.4M659.3 54.0h5.5M547.5 38.5h2.1M495.8 15.9h5.2M510.7 58.5h3.1M425.9 135.4h3.5M420.9 101.5h2.3M622.6 69.9h2.6M371.1 61.7h2.7M470.7 64.7h2.6M588.0 78.9h2.4M598.3 41.6h3.3M443.0 105.1h3.9M504.5 53.2h4.8M450.9 140.4h3.0M461.8 98.8h4.1M440.3 16.7h4.8M407.4 119.4h2.4M589.1 82.4h2.5M459.0 31.6h5.0M609.9 33.1h2.8M457.9 17.0h3.5M401.7 83.9h3.5M423.0 94.9h5.0M403.7 15.7h2.4M482.2 62.9h5.0M666.3 18.9h3.2M371.8 84.6h5.0M561.3 58.7h2.1M594.5 49.3h3.8M470.1 90.9h4.7M619.8 73.8h4.0M631.9 64.6h4.7M502.0 41.9h5.3M609.0 75.0h3.5M517.0 23.3h3.3M490.2 38.1h3.8M439.2 95.5h2.6M502.8 16.2h2.3M619.2 21.6h2.7M469.7 21.9h2.6M429.6 32.8h5.2M667.1 21.0h2.7M470.8 52.5h5.1M406.8 108.3h2.4M405.3 30.2h3.8M579.3 54.3h3.7M584.9 61.1h3.4M515.7 42.8h4.4M457.9 20.0h3.7M528.8 48.5h3.7M369.8 84.9h3.4M400.4 132.8h3.3M482.3 62.1h4.2M406.5 96.0h3.7M401.9 61.0h2.4M645.8 30.0h3.4M583.2 51.9h3.4M625.8 18.9h4.6M441.4 96.0h2.8M471.6 35.9h4.3M602.8 43.5h3.6M479.5 66.5h5.0M443.5 130.2h3.5M664.3 48.4h4.8M482.3 51.7h5.0M410.2 103.6h2.7M397.9 88.9h5.3M448.6 106.7h3.4M433.5 133.8h2.6M650.5 42.7h4.8M465.5 75.3h4.2M622.4 51.6h2.9M437.6 30.0h4.5M456.5 18.7h3.9M660.5 43.3h4.9M385.1 19.5h4.2M391.1 73.5h3.3M458.5 104.9h3.8M388.8 40.1h5.4M605.0 84.2h3.8M386.6 84.7h2.6M625.1 57.2h4.4M613.4 57.6h4.6M409.2 124.1h4.2M390.4 41.3h4.6M487.0 63.8h3.5M409.0 142.8h3.7M533.6 38.1h4.6M498.2 53.9h3.0M397.1 117.6h2.1M598.9 69.1h4.8M388.4 100.1h4.3M382.9 93.2h5.5M665.1 29.4h2.3M385.6 39.9h3.4M418.7 102.3h2.6M584.3 20.0h4.2M439.6 104.6h3.2M659.1 44.0h2.5M373.5 76.7h4.5M438.8 96.7h4.1M446.1 77.7h3.7M643.8 42.2h4.2M532.6 14.4h3.9M411.4 129.8h2.8M400.6 126.8h3.6M638.6 20.4h3.9M583.7 87.8h2.4M491.2 68.0h4.6M458.1 92.0h3.2M544.0 46.4h4.8M597.1 58.9h5.4M381.7 41.5h4.3M456.1 72.2h3.0M620.9 49.1h4.3M400.1 125.2h4.7M444.0 111.8h2.3M430.0 16.4h5.4M597.7 15.1h4.4M452.9 109.6h2.1M445.9 105.7h2.7M559.4 67.0h4.0M655.2 34.1h5.5M639.0 35.1h2.1M420.5 97.4h2.2M378.9 61.9h5.5M655.2 21.7h2.2M477.8 43.9h3.0M554.0 14.4h5.4M514.0 32.0h2.6M452.3 74.3h3.0M581.8 83.8h5.1M427.6 134.6h2.4M482.8 81.1h3.9M437.1 15.4h3.6M376.4 37.3h4.5M604.3 51.7h5.0M635.2 14.6h2.7M378.4 37.8h3.8M489.8 39.5h4.1M563.0 77.7h4.7M486.3 47.1h5.3M435.1 130.5h4.5M602.3 46.7h2.6M499.1 61.0h4.8M548.6 42.9h4.8M644.3 28.1h2.3M448.9 96.3h4.4M471.1 116.8h3.0M377.9 50.9h3.1M410.4 81.7h4.5M578.1 68.8h3.9M486.4 75.0h2.2M455.5 88.1h4.0M457.8 35.9h2.9M665.1 64.6h3.3M611.6 46.7h2.1M493.9 73.6h4.2M601.2 60.2h4.5M471.3 14.8h4.9M396.8 77.5h4.4M419.5 117.1h2.8M434.5 91.4h4.4M556.3 51.4h2.3M383.1 35.5h2.3M591.2 81.5h3.9M451.0 89.5h3.6M620.9 66.6h3.6M468.3 137.0h3.0M411.5 121.6h4.8M587.9 81.5h2.2M552.8 44.4h4.3M650.4 46.9h4.5M577.4 85.6h5.1M516.9 54.8h4.1M500.1 59.0h3.5M531.4 52.6h3.6M491.1 64.8h4.0M596.5 49.6h2.8M648.7 68.5h5.0M429.7 112.0h2.8M390.0 56.0h4.4M439.2 103.4h3.6M427.0 104.8h2.0M489.8 43.5h2.8M435.3 137.0h3.5M664.2 63.9h2.8M659.5 71.5h4.1M668.1 18.3h2.6M424.9 132.2h2.1M593.7 55.9h4.4M427.5 37.2h4.6M648.7 47.0h2.7M597.9 58.5h4.1M631.8 21.6h3.6M653.2 55.5h4.1M459.7 83.7h2.3M610.3 38.1h5.2M658.0 31.9h3.2M575.3 60.4h2.7M548.8 15.4h3.0M463.9 68.0h4.0M387.9 53.7h2.2M600.7 36.1h4.6M371.7 48.4h4.7M416.1 29.1h5.1M375.3 50.1h3.2M526.1 19.0h3.2M471.7 100.5h2.5M660.6 53.7h5.3M423.2 30.4h4.0M407.8 88.3h3.7M426.6 119.4h2.4M384.5 101.0h4.4M414.1 128.9h5.4M609.8 48.0h3.6M459.2 63.5h3.4M430.7 99.5h4.2M390.4 86.8h3.0M557.7 48.1h2.6M385.9 83.6h4.1M420.6 19.7h2.5M659.7 70.8h2.7M665.6 40.5h5.2M519.4 65.1h3.3M455.5 107.4h4.8M561.7 41.0h2.3M582.2 66.8h3.6M371.2 57.8h3.8M655.7 41.6h3.2M433.3 19.5h5.2M662.9 64.4h3.6M550.8 62.1h3.3M587.5 43.7h2.7M539.6 54.6h3.7M583.8 54.2h3.7M371.7 82.8h4.7M433.3 136.7h5.0M617.4 43.2h2.6M605.5 48.4h2.9M584.8 15.0h4.8M390.1 36.9h2.8" stroke="#545454" stroke-width="1.4"/><path d="M533.4 28.2h2.8M549.6 59.1h2.0M397.5 131.4h4.8M441.6 136.9h5.4M458.9 33.9h4.2M622.4 29.0h5.5M520.6 61.4h3.8M494.5 56.2h4.5M523.7 30.4h3.2M659.1 35.0h2.7M646.5 33.4h3.4M541.8 49.8h2.5M416.7 127.1h2.6M429.5 30.8h2.9M667.3 44.6h3.0M460.9 96.3h4.8M491.7 68.2h3.0M492.3 74.0h4.0M538.4 15.8h3.4M447.7 116.6h4.4M382.6 27.5h2.3M529.8 52.2h2.0M618.0 65.2h2.1M539.9 61.1h2.3M408.5 100.4h2.2M510.2 58.2h2.9M421.0 121.9h3.0M460.3 31.0h3.0M517.8 16.3h3.7M396.5 115.9h3.8M447.4 138.8h5.3M409.9 132.2h2.0M390.7 109.4h4.4M464.0 108.7h5.0M658.8 19.4h4.0M534.2 51.3h3.7M566.8 16.7h4.2M584.0 61.1h3.0M463.4 14.3h4.3M458.7 135.0h3.0M621.1 34.9h4.8M465.1 85.8h5.3M504.5 71.5h2.4M463.7 62.9h2.1M490.7 16.3h4.3M590.0 64.2h2.8M382.4 74.0h4.2M419.7 94.5h4.4M657.9 65.0h4.0M469.2 74.3h4.8M523.3 43.3h5.2M631.6 26.0h3.2M539.3 56.1h2.7M623.7 14.5h5.4M632.4 63.2h4.0M374.3 35.0h4.2M454.1 139.3h2.7M395.4 89.4h2.1M612.7 30.9h3.0M609.9 28.1h3.3M634.3 71.1h2.0M420.3 93.6h3.1M436.7 129.3h4.2M636.0 44.6h5.2M452.2 77.5h3.0M522.5 42.6h4.7M375.8 78.7h5.1M455.3 73.0h3.4M632.5 52.7h3.1M431.7 125.1h3.0M609.1 35.0h2.7M478.2 82.3h5.4M448.8 102.2h2.7M478.4 57.7h3.6M649.2 22.3h3.7M662.1 45.3h5.4M488.6 75.4h4.2M481.6 58.3h5.2M409.5 108.0h3.9M541.0 40.1h2.6M385.8 87.7h5.0M502.8 54.1h3.4M594.8 68.8h4.3M449.2 101.7h3.1M499.5 16.2h2.5M456.0 104.0h3.7M409.2 98.2h4.7M573.4 52.4h5.2M453.1 105.9h3.0M607.8 21.0h4.8M461.9 94.4h3.0M425.7 16.4h4.0M467.8 106.0h2.6M371.7 44.6h3.2M634.8 68.8h3.3M633.8 62.5h2.1M663.2 38.1h3.4M472.3 58.3h3.5M479.0 83.6h5.1M568.0 60.4h3.9M651.1 42.6h4.6M413.8 91.0h3.4M371.5 47.9h4.2M514.3 15.2h3.9M405.8 82.5h4.7M661.9 41.8h2.7M533.3 43.4h4.1M442.5 93.9h2.4M630.1 39.6h3.2M578.2 66.7h2.4M522.6 39.0h4.3M605.1 53.6h4.8M372.4 72.5h4.1M501.4 60.8h4.1M404.9 99.3h4.9M562.7 15.2h3.5M427.4 129.4h3.5M626.1 56.6h3.7M580.5 74.5h5.1M429.8 129.1h4.4M448.9 85.2h2.5M450.6 123.0h3.9M517.4 16.4h3.6M410.9 19.4h3.4M377.2 69.4h2.7M575.9 65.9h4.2M581.8 17.6h4.3M426.1 121.2h5.2M498.9 30.0h3.3M395.7 100.8h4.2M406.6 120.8h2.2M489.6 15.2h4.8M532.1 24.1h3.1M401.8 111.3h2.8M412.3 112.6h3.6M666.5 47.4h3.3M444.4 77.9h4.1M645.3 18.9h2.5M553.4 61.3h3.4M376.6 47.8h3.6M556.1 48.9h4.6M451.7 121.7h2.9M414.1 111.5h2.0M442.7 95.6h4.9M391.2 14.2h5.0M458.8 15.9h4.3M513.2 48.0h3.9M624.7 50.3h3.7M643.8 22.0h4.8M627.2 44.7h4.6M427.1 15.6h3.8M507.4 18.4h2.4M459.8 85.1h2.4M602.8 54.6h3.1M523.7 33.9h4.1M445.1 106.6h4.7M609.8 55.2h2.1M520.7 39.7h3.1M499.5 47.5h3.5M383.1 65.2h3.9M401.2 128.4h5.4M539.1 54.1h2.9M409.9 105.3h3.4M615.0 70.7h2.3M472.3 19.6h3.2M542.4 15.2h3.2M437.5 109.4h4.8M596.3 71.1h4.8M609.2 64.8h2.7M401.4 92.0h3.7M393.8 110.9h3.3M424.8 115.4h3.5M521.8 54.7h2.5M513.3 47.6h3.5M482.4 42.8h4.4M411.4 30.9h3.0M449.5 76.2h4.3M622.9 58.8h5.0M654.3 55.6h3.2M464.9 14.8h3.0M469.1 139.7h2.8M564.1 60.9h4.0M426.2 89.5h2.4M383.0 32.6h3.7M623.6 31.6h4.0M652.9 56.2h4.3M432.7 128.4h5.4M457.7 98.8h2.5M565.2 54.6h5.0M542.4 38.3h3.9M443.5 95.5h4.2M384.4 46.6h2.7M432.4 127.5h4.1M649.9 40.3h3.6M411.4 36.5h3.9M401.8 62.5h3.6M462.4 20.2h3.2M449.7 79.0h3.0M501.9 56.3h2.2M577.9 70.5h3.0M469.4 68.4h4.2M552.3 43.4h2.6M637.3 59.5h4.2M470.6 140.2h3.4M481.7 49.7h4.2M370.7 16.2h2.0M614.7 42.1h2.9M664.2 18.7h4.1M666.6 48.5h5.3M381.7 51.0h3.6M506.9 34.4h4.4M456.7 107.6h4.9M620.8 37.5h2.6M649.0 60.5h2.2M537.3 40.3h4.9M416.8 94.9h2.0M472.6 110.4h3.1M534.8 56.2h4.7M437.8 124.7h5.1M401.1 32.0h2.0M596.8 68.4h2.6M448.8 77.2h4.6M388.5 50.0h3.6M508.3 58.3h3.2M634.5 49.0h5.2M414.7 93.0h4.2M652.0 45.9h4.4M390.5 60.0h4.2M551.5 57.2h4.7M387.4 49.4h5.3M664.7 36.5h4.2M663.4 58.0h2.9M458.8 123.7h3.3M432.2 133.2h4.1M650.4 49.2h3.3M523.2 14.5h2.3M571.8 19.7h3.5M386.4 85.3h5.4M493.4 17.0h4.2M443.8 138.5h4.9M527.7 22.9h2.0M520.4 16.3h3.0M449.7 128.5h2.7M415.2 117.1h4.7M501.5 52.9h5.5M605.3 65.7h4.3M440.7 95.5h3.6M474.4 59.9h4.6M597.6 50.8h2.8M472.0 19.2h3.8M583.2 20.4h4.0M435.5 102.1h4.0M454.4 105.1h4.3M404.8 35.5h4.3M460.6 70.4h3.1M483.9 40.2h2.9M549.0 51.5h3.0M475.8 61.3h2.3M423.7 141.0h3.1M394.0 63.2h2.5M431.3 89.0h3.6M430.0 117.8h2.6M461.8 89.0h2.3M492.0 55.5h4.6M485.1 56.3h4.4M659.6 66.4h4.4M445.6 31.8h3.0M414.9 101.6h5.1M595.9 56.4h5.4M602.8 46.6h5.4M416.8 139.9h2.1M618.0 24.0h4.9M620.4 56.5h5.0M374.8 33.8h2.8" stroke="#626262" stroke-width="1"/><path d="M539.5 48.2h4.7M468.9 64.5h3.6M599.5 51.2h5.4M418.0 109.0h2.7M661.2 20.5h4.6M478.3 19.2h4.3M661.2 23.2h3.8M419.2 93.2h3.5M383.4 81.7h4.7M503.9 40.7h4.0M498.6 24.6h3.4M468.2 14.4h2.3M509.6 55.9h4.0M472.0 33.9h3.0M605.9 35.5h2.4M412.9 88.6h3.0M388.2 102.2h5.0M447.6 115.1h2.8M487.8 50.3h2.1M471.5 85.4h2.0M446.3 141.1h3.1M373.1 18.8h2.4M618.1 17.1h4.5M416.2 104.3h4.4M411.4 16.8h3.1M459.5 114.1h2.1M591.3 60.5h2.6M666.8 55.1h4.9M597.7 40.7h2.4M613.9 18.1h4.9M456.1 83.0h4.1M457.4 101.0h5.2M644.5 38.4h4.5M498.5 60.7h4.8M401.1 19.4h4.0M374.2 30.0h2.3M457.8 122.1h4.8M499.0 46.8h3.9M566.0 53.6h5.1M427.5 19.1h4.8M416.6 124.4h5.5M393.6 33.4h4.7M460.4 17.4h2.6M370.6 18.4h3.6M433.3 103.7h3.0M416.6 105.5h4.3M514.7 42.3h3.5M454.5 16.2h4.3M397.3 131.9h3.3M461.5 100.3h4.2M469.1 115.4h2.5M645.4 25.0h2.8M603.1 34.9h3.8M396.8 131.7h3.6M485.2 75.8h2.7M417.8 119.8h2.2M558.2 66.4h2.9M579.2 65.7h4.5M604.7 48.0h4.7M424.3 110.0h2.5M422.4 33.8h2.3M369.7 67.6h4.4M519.7 32.7h2.6M418.0 14.8h4.9M375.7 22.9h5.4M646.3 69.1h2.7M433.9 141.4h5.0M390.1 81.8h5.0M392.8 125.4h5.3M609.3 68.6h2.5M626.4 61.2h3.2M663.8 22.5h3.0M579.7 71.7h5.3M613.0 60.6h3.4M387.4 109.1h3.7M493.4 52.3h3.2M482.3 46.1h3.3M466.4 103.2h4.6M619.7 30.5h2.5M432.5 131.9h4.5M518.3 61.9h3.5M525.0 51.4h2.7M385.6 50.8h3.4M438.3 92.1h2.7M462.8 15.4h3.3M569.3 15.2h3.0M458.5 114.0h4.3M601.7 63.4h5.4M538.0 32.6h2.8M627.0 14.9h4.3M513.3 35.8h4.0M425.0 114.0h3.8M372.3 74.3h4.9M528.6 39.1h3.8M558.6 54.6h3.2M629.9 54.4h3.7M462.1 126.9h3.4M502.4 43.4h4.7M652.0 45.2h4.3M533.1 54.7h4.7M391.4 48.6h3.3M462.9 126.1h2.5M463.9 119.1h5.1M392.6 129.9h2.1M643.2 46.5h4.0M530.9 37.6h4.6M436.5 104.2h4.5M401.4 18.4h5.2M661.6 75.6h4.3M398.9 73.3h3.6M384.7 81.2h4.1M507.5 20.2h3.5M526.5 14.1h2.9M495.6 67.9h2.3M482.7 15.3h2.6M408.3 80.9h3.7M432.1 135.0h2.8M458.8 96.3h2.1M404.2 101.5h2.2M601.3 19.2h5.4M428.8 97.5h5.1M580.7 18.7h3.8M533.8 60.8h4.9M566.6 76.6h5.5M559.5 57.6h3.4M512.5 22.4h5.0M459.7 69.5h2.8M407.4 31.7h3.7M459.8 124.4h3.1M462.8 30.3h3.7M497.0 67.6h2.5M456.8 107.2h2.7M641.7 15.8h2.7M427.6 36.9h5.0M541.3 42.5h3.7M386.1 91.9h5.3M494.3 56.9h3.5M403.8 103.0h4.8M456.6 69.0h4.2M660.9 74.3h4.3M654.5 33.5h5.5M429.5 35.4h2.6M402.1 83.3h4.3M485.5 33.4h4.9M434.3 130.9h3.9M562.0 73.8h2.7M596.3 40.1h3.9M470.7 104.6h4.9M650.6 36.6h2.7M609.0 47.3h2.8M438.7 19.9h5.0M394.2 52.7h3.6M442.9 126.9h3.1M467.7 30.6h2.2M662.2 43.4h3.9M520.4 29.4h2.4M521.5 36.9h4.4M401.6 75.4h5.1M561.4 17.3h4.7M638.0 27.7h4.1M374.2 26.8h4.2M381.4 71.3h3.4M484.5 59.1h4.0M493.0 75.2h3.3M583.9 87.3h4.2M597.3 85.1h4.8M436.1 20.5h4.5M544.9 41.6h3.0M380.7 43.2h3.1M466.9 130.4h2.7M387.7 73.2h2.2M494.7 71.2h5.4M624.4 41.0h3.0M420.3 113.7h2.9M632.8 16.4h2.7M506.3 51.9h5.4M460.8 131.7h5.1M662.3 33.0h2.1M471.3 68.9h4.6M453.2 90.0h5.4M415.1 137.4h3.8M623.4 63.9h3.5M607.1 50.8h3.5M603.8 42.3h5.3M491.7 40.7h4.0M455.1 33.2h2.3M538.0 45.0h2.6M643.0 15.7h5.1M644.7 44.6h4.4M607.5 34.6h2.6M391.9 128.6h4.5M659.7 15.4h2.1M452.0 126.9h4.1M444.3 114.1h3.0M423.3 130.2h3.5M655.8 24.2h3.5M422.3 141.3h2.9M409.3 99.3h4.5M419.3 110.6h3.3M561.9 17.5h2.6M489.8 57.1h3.3M399.5 19.3h3.3M400.5 86.6h4.0M582.9 83.2h2.1M640.8 28.4h4.4M458.5 91.1h4.4M466.9 81.4h4.9M440.4 88.5h2.8M403.5 84.9h3.9M455.8 93.6h2.6M477.7 18.4h5.5M429.6 112.9h3.3M465.4 17.5h4.9M504.2 63.3h4.2M415.7 115.4h3.9M443.2 114.5h3.0M517.8 55.5h5.4M599.6 38.1h2.3M422.1 128.8h3.2M449.7 102.7h4.3M475.1 79.8h4.2M410.6 127.2h3.0M455.1 101.8h3.3M372.8 24.2h2.2M467.1 141.0h5.4M423.6 36.5h3.7M443.3 106.6h3.8M620.3 23.6h4.9M464.2 76.5h5.3M624.9 39.3h3.5M476.8 31.4h2.8M543.1 40.4h2.9M517.4 24.8h5.3M592.8 76.9h5.0M540.3 47.8h4.2M466.4 98.1h4.1M550.5 61.8h5.4M551.1 48.1h2.0M507.6 50.3h2.3M458.2 133.6h3.7M424.9 123.6h3.1M467.7 137.9h4.7M611.9 45.6h2.8M418.3 113.2h3.8M432.3 17.3h5.4M512.2 16.2h3.6M377.9 42.2h3.9M383.0 38.3h3.8M600.8 18.6h4.5M456.9 73.7h2.3M520.8 66.8h4.2M441.0 36.2h2.2M484.0 73.3h2.2M560.7 72.1h2.7M503.1 67.9h3.1M384.6 16.2h2.7M612.7 49.3h3.0M437.2 32.3h2.5M489.7 33.4h5.3M606.7 34.6h3.6M459.1 135.7h3.2M476.3 74.5h5.1M439.7 114.5h5.1M570.6 71.1h4.1M604.9 35.9h3.8M393.4 103.4h3.2M404.5 133.1h2.6M584.7 77.3h3.9M470.7 15.7h4.8M658.3 21.1h5.5M567.2 60.8h2.6M643.4 49.3h2.8M406.9 141.9h2.4M449.0 135.1h2.1M493.3 71.7h5.0M422.4 126.1h4.0M611.6 78.8h5.1M399.3 130.4h2.5M488.3 37.1h5.0M460.0 108.6h2.5M443.7 114.7h2.6" stroke="#626262" stroke-width="1.4"/><path d="M662.5 33.8h3.3M558.2 14.0h3.8M529.7 56.0h5.3M370.0 56.2h4.8M458.2 100.7h2.5M627.0 42.8h3.9M444.9 129.1h4.2M376.2 22.3h4.6M469.1 62.7h2.8M428.9 106.3h4.8M438.8 88.8h2.8M609.4 56.6h2.3M607.8 77.1h2.1M551.5 46.5h4.1M537.9 52.9h3.6M465.5 107.4h3.9M375.1 83.6h5.1M519.2 43.0h4.7M504.7 62.8h5.4M371.0 70.8h3.4M479.4 78.2h3.7M405.4 100.7h3.6M433.3 106.2h2.4M663.9 26.7h4.8M380.5 30.4h3.5M471.1 133.9h2.2M554.5 54.3h2.8M474.9 76.5h5.2M517.0 47.3h3.5M625.3 26.9h3.0M407.6 90.8h4.8M418.7 19.5h3.6M474.7 66.8h4.6M454.5 89.8h3.5M409.2 117.2h5.2M388.6 108.2h4.9M477.7 78.8h4.6M530.2 18.3h2.2M610.3 49.5h5.3M654.7 55.0h4.4M659.0 41.3h2.6M481.9 64.7h3.6M459.6 114.4h4.0M396.4 123.3h4.3M441.7 99.6h3.8M562.2 15.1h3.0M514.2 19.8h3.8M531.3 41.6h4.3M470.4 117.3h4.8M640.7 53.9h3.0M403.5 75.0h4.6M645.0 69.4h5.1M482.1 53.0h3.4M480.3 43.2h4.0M490.4 56.3h4.3M615.2 55.8h2.7M517.2 15.7h2.3M656.6 57.5h2.4M492.1 17.5h2.8M532.3 37.8h2.5M558.9 44.1h4.8M389.3 44.9h2.5M415.8 17.3h5.2M424.9 93.5h4.8M484.9 67.9h2.0M517.1 66.7h4.4M375.3 36.0h4.1M533.7 46.6h3.1M593.1 82.3h2.0M493.5 31.4h3.7M416.2 119.0h2.8M579.2 52.1h3.7M383.4 84.7h2.1M411.3 18.1h2.0M481.6 76.5h4.4M604.5 71.3h3.1M623.5 49.1h4.3M525.1 45.0h2.8M596.8 66.1h4.6M450.3 114.8h2.4M525.7 62.6h3.0M399.8 122.3h4.5M497.0 58.1h4.9M479.1 75.3h4.9M396.2 102.4h3.6M513.5 61.0h4.7M447.9 77.1h2.7M482.8 57.8h4.3M417.1 122.8h3.0M633.8 42.6h2.3M422.2 135.3h2.6M581.4 67.2h4.0M638.1 46.4h4.0M579.7 80.2h2.7M404.6 30.0h3.1M396.4 127.5h4.2M436.8 18.9h2.5M607.4 53.8h2.8M524.7 40.4h5.5M377.9 38.4h3.0M635.3 26.6h5.0M466.2 129.5h4.6M592.3 75.9h4.2M432.7 103.9h2.1M599.0 43.0h3.4M486.8 72.4h4.0M393.3 93.8h5.2M472.6 50.2h2.9M464.0 123.8h3.1M449.3 85.3h3.0M425.3 104.8h3.4M393.2 15.8h3.6M469.1 115.6h4.5M383.5 55.5h3.9M396.6 122.7h2.3M573.0 53.9h5.1M379.0 76.9h5.3M651.0 58.4h5.1M653.6 68.0h2.5M495.8 37.9h5.2M447.8 116.8h4.3M521.8 57.1h2.1M440.4 33.3h4.0M614.6 40.0h5.2M544.3 66.5h3.2M393.7 112.3h4.8M527.7 50.4h3.1M386.8 74.1h3.5M429.7 14.4h4.3M453.7 140.7h3.4M633.4 29.2h4.5M496.8 33.1h2.7M489.9 41.3h3.7M531.9 60.1h4.5M508.1 33.2h4.9M391.1 56.2h3.6M571.2 60.9h5.1M588.7 66.5h5.3M555.2 54.1h3.5M485.4 62.7h5.4M493.9 52.9h2.8M460.5 74.5h5.0M452.1 132.7h4.8M454.6 110.3h4.4M467.7 133.9h2.4M427.8 97.2h3.9M665.3 60.2h2.4M433.7 137.7h2.1M393.9 70.8h2.9M653.7 37.3h5.2M541.3 38.2h4.0M622.4 61.7h5.2M408.0 33.5h4.3M526.2 24.6h2.1M667.2 45.2h3.2M383.6 86.1h5.0M491.9 15.1h5.0M653.3 27.9h4.1M457.9 14.4h3.5M502.2 58.6h3.6M626.3 55.9h4.7M466.8 111.1h3.5M458.8 111.6h3.6M395.6 110.8h3.8M481.7 61.2h2.1M491.0 34.2h3.8M424.9 139.7h2.8M652.3 63.2h2.1M409.7 34.5h4.3M448.0 132.7h3.0M653.2 51.1h3.0M516.9 38.7h4.9M611.2 62.3h5.3M436.1 90.4h3.8M399.5 89.6h2.8M629.8 38.6h4.0M473.0 63.6h3.4M536.4 52.3h2.3M404.9 35.8h2.5M372.5 37.5h3.1M417.1 122.2h5.3M398.9 89.2h3.9M452.4 86.7h5.1M665.8 43.7h4.5M585.0 82.6h5.1M603.9 75.6h3.2M515.0 32.5h3.3M401.0 101.1h2.4M616.0 64.0h4.9M377.6 35.9h4.7M435.9 139.4h4.6M508.4 24.8h4.7M602.2 42.0h2.5M478.2 62.9h4.7M476.2 16.6h2.3M644.4 37.4h4.2M423.3 108.4h4.1M581.5 64.1h2.1M620.7 60.2h2.7M663.4 35.7h3.2M375.7 63.2h3.1M499.9 29.4h3.1M628.8 52.4h4.7M624.5 24.3h3.4M650.6 31.6h2.4M637.3 49.1h5.2M400.8 110.6h3.9M486.9 70.8h4.4M386.0 93.9h5.4M653.0 48.4h4.2M415.6 136.0h5.3M600.2 85.3h4.0M433.6 127.0h2.7M615.9 53.6h2.4M396.8 132.2h5.0M644.3 37.3h4.1M615.5 54.0h5.3M470.4 131.0h2.9M608.8 54.7h3.6M391.0 76.5h4.4M421.7 100.6h4.7M396.9 54.7h4.9M666.2 36.5h5.4M576.9 66.9h2.1M642.1 28.9h3.2M470.5 82.8h5.0M463.1 124.3h5.1M556.7 14.4h5.3M372.7 53.7h4.3M455.3 140.7h5.5M577.6 84.9h4.4M458.4 102.8h2.4M461.4 137.1h3.8M386.2 54.8h2.5M648.6 15.3h3.4M605.0 59.2h3.1" stroke="#707070" stroke-width="1"/><path d="M385.1 51.1h4.7M603.4 76.4h4.7M540.8 38.5h4.9M428.0 19.1h2.3M639.9 35.7h5.3M378.4 79.4h3.9M449.8 78.7h4.3M411.1 132.6h4.7M382.0 41.9h5.4M521.0 55.9h3.2M452.9 101.0h2.2M394.3 114.2h3.0M381.4 15.0h2.6M466.9 79.4h2.1M389.9 87.8h3.0M585.9 48.6h4.2M512.5 60.4h3.7M563.3 14.2h2.8M429.2 103.5h5.0M526.6 49.9h2.5M662.5 19.8h4.3M550.9 42.5h4.2M415.5 116.3h5.4M389.4 69.6h2.0M482.7 67.3h5.1M595.8 70.2h3.5M659.5 24.2h4.9M388.0 48.2h4.4M509.2 36.7h4.7M621.1 36.6h4.1M418.1 16.7h5.1M413.3 139.8h3.7M620.2 42.9h4.4M561.5 59.3h3.1M469.8 125.6h2.9M602.5 39.9h3.7M377.7 60.5h2.9M546.5 52.7h2.6M592.2 73.8h3.0M524.4 56.4h4.5M552.7 50.6h4.6M470.1 73.6h4.8M612.5 51.9h3.9M402.9 78.5h2.2M370.7 64.1h5.4M502.5 17.2h5.5M432.9 92.8h3.9M426.4 116.7h2.7M394.7 58.3h4.4M511.7 57.8h3.9M386.0 39.2h2.1M554.9 68.4h2.9M585.2 50.6h3.8M379.8 78.0h5.1M659.9 56.6h2.1M392.4 62.8h4.4M522.5 38.2h3.3M538.0 16.4h2.8M485.0 59.8h3.6M621.3 35.7h4.9M436.1 15.3h3.3M632.2 21.5h2.3M459.9 112.7h4.9M468.5 132.1h2.8M404.2 84.7h2.5M535.1 56.9h4.6M412.7 137.5h4.1M449.9 92.1h3.9M632.0 49.9h4.3M418.2 35.1h2.0M481.0 60.5h2.9M394.2 34.2h4.7M498.1 32.2h4.2M634.0 45.8h4.7M414.7 107.2h5.4M472.6 15.3h2.4M662.2 16.1h2.0M643.4 69.6h2.4M521.4 21.9h2.2M591.8 48.6h3.3M530.4 28.2h2.8M471.9 101.7h4.2M496.0 63.6h2.5M469.1 103.4h5.1M373.8 66.5h5.2M423.5 114.5h5.4M652.7 70.8h2.7M497.9 40.5h3.5M662.6 54.9h2.8M631.9 19.2h5.3M528.7 52.7h2.4M426.7 98.2h4.6M589.8 80.2h3.9M452.2 112.1h2.6M431.5 111.0h4.1M638.3 16.8h4.0M522.2 42.6h4.1M581.6 50.1h2.6M470.2 107.8h2.3M468.0 63.6h2.9M408.6 123.9h5.0M467.6 77.3h4.5M401.0 136.7h5.4M560.2 56.8h4.1M523.3 59.4h4.5M479.5 81.2h2.5M606.0 71.6h3.9M490.2 58.8h5.4M515.8 62.2h4.6M481.7 52.1h2.8M404.7 76.4h2.8M381.3 46.1h3.7M392.4 54.9h4.9M378.4 63.7h3.3M468.0 104.5h4.4M385.4 54.3h2.3M654.8 37.9h2.1M492.9 66.5h5.3M645.2 70.4h3.2M633.9 28.4h4.4M629.7 14.4h3.3M395.7 66.5h4.4M417.7 109.0h4.5M515.8 43.1h4.8M385.5 47.3h3.8M416.2 118.3h4.8M442.6 88.7h4.2M384.5 90.8h4.3M554.7 19.6h3.2M419.0 115.7h4.3M394.3 102.4h5.4M438.5 90.8h3.7M420.6 126.2h4.0M441.5 136.5h3.5M487.1 56.4h3.2M400.6 138.7h2.3M406.2 85.7h3.9M378.3 36.2h2.2M422.2 139.7h3.3M609.6 41.2h4.7M620.9 53.7h3.2M467.4 67.3h5.1M506.2 15.9h4.0M485.3 59.5h4.8M574.4 58.8h2.3M440.5 34.1h2.9M659.3 66.8h4.7M597.2 19.7h3.7M516.9 21.7h4.0M431.3 89.8h2.2M572.4 57.1h5.2M510.5 66.6h3.8M628.8 38.2h2.1M487.6 44.6h5.3M435.2 107.5h2.1M624.5 45.0h5.0M626.1 48.9h3.1M404.5 132.1h2.2M546.8 59.6h4.3M462.6 92.6h3.0M379.5 84.0h4.4M382.7 67.1h4.7M421.1 125.0h2.8M583.9 77.3h3.2M460.8 83.1h4.8M614.1 65.8h3.7M599.2 14.3h2.4M405.9 131.3h5.1M494.8 36.3h5.4M659.7 55.7h4.4M632.9 66.0h5.0M625.3 31.6h2.4M426.5 99.5h4.4M611.6 18.2h3.7M634.5 37.8h2.1M404.6 98.1h4.3M396.7 105.3h5.5M443.0 92.9h3.9M530.0 33.8h5.5M633.5 28.8h5.1M475.9 85.0h4.6M546.7 42.9h4.0M517.8 61.0h3.2M570.6 60.3h5.4M401.0 125.7h4.3M461.8 103.1h4.8M483.3 52.6h3.2M611.9 74.4h4.0M454.6 32.3h2.7M450.3 81.7h2.3M442.7 88.4h2.3M450.6 116.2h2.5M500.2 42.6h2.1M487.1 66.9h3.3M468.7 74.0h4.9M534.8 53.8h3.3M633.0 43.6h2.4M440.4 139.2h4.6M546.7 39.4h2.8M531.9 19.9h2.4M387.7 75.7h3.7M600.0 72.0h4.4M653.5 39.7h3.0M435.5 120.0h5.4M415.7 107.7h4.4M437.5 98.8h4.5M633.5 63.5h2.3M376.9 40.9h3.0M436.6 133.8h2.7M653.9 47.9h5.1M447.9 110.3h4.6M631.4 67.0h2.5M536.6 37.8h2.8M373.4 76.8h3.2M665.0 47.6h3.1M380.8 37.9h2.6M457.9 73.6h2.7M468.2 78.7h2.3M633.4 37.3h3.6M397.6 86.9h2.2M444.7 132.3h4.2M606.0 38.1h2.4M409.2 89.6h4.0M611.7 60.7h3.9M371.6 54.9h3.4M448.4 99.9h5.1M378.3 31.2h4.5M401.9 85.3h3.1M614.3 42.5h3.4M403.4 109.1h2.4M379.6 73.8h2.7M389.8 19.2h4.7M434.8 107.6h4.9M621.1 50.1h4.5M476.0 60.2h2.5M517.7 19.7h5.3M433.0 131.3h3.8M544.1 67.2h3.7" stroke="#707070" stroke-width="1.4"/><path d="M458.9 116.1h3.8M376.2 67.2h2.1M641.2 30.3h5.0M406.7 14.0h5.2M554.0 43.9h2.5M468.7 76.0h4.6M609.5 54.8h3.1M456.1 89.9h5.0M551.6 17.3h3.2M577.5 78.4h5.2M627.1 58.0h3.4M426.4 122.2h4.6M507.4 49.1h4.5M378.9 57.6h2.0M468.4 110.7h3.5M650.8 53.7h2.7M372.0 73.4h4.4M474.4 16.3h2.9M371.3 56.4h3.5M493.6 63.3h3.8M461.5 69.4h3.3M446.0 120.5h3.5M578.1 55.8h4.5M490.3 33.3h2.3M633.2 68.4h2.4M468.6 116.4h2.2M452.3 117.7h4.1M632.4 40.7h2.5M601.3 18.0h2.7M473.1 73.1h4.4M595.4 54.8h4.0M534.0 51.2h2.5M643.5 56.3h3.2M534.1 18.6h2.2M662.5 72.8h4.6M374.8 69.3h3.2M481.6 32.6h3.6M436.6 136.0h3.4M501.8 58.9h4.8M636.0 55.2h3.1M425.2 113.8h3.7M461.8 86.5h3.3M471.7 111.2h3.9M409.7 122.9h4.9M621.2 38.4h2.4M658.4 61.8h3.5M471.0 94.3h4.2M595.8 15.0h4.3M633.2 34.9h2.5M372.1 36.0h2.9M420.8 110.4h3.9M661.4 72.9h4.9M474.6 16.8h2.1M443.5 127.7h5.4M593.9 59.8h3.3M397.1 138.7h4.1M470.9 15.7h4.6M383.3 43.6h5.3M431.6 92.9h5.3M644.9 45.4h2.2M394.7 74.9h5.5M449.8 14.2h4.8M604.9 36.6h2.9M653.4 29.7h3.2M416.6 32.2h5.3M392.1 19.6h5.2M401.7 133.8h3.1M462.8 120.5h5.3M406.9 79.8h2.2M482.8 63.3h2.5M466.3 132.7h5.0M379.0 42.9h2.2M643.8 55.7h2.4M503.4 63.6h2.5M584.2 72.3h4.2M487.0 40.0h3.6M495.6 50.0h3.4M404.8 124.5h3.0M647.1 32.1h2.4M464.8 62.0h3.1M628.6 21.1h3.8M495.3 70.9h3.0M582.7 71.0h4.1M586.4 64.6h3.8M465.9 130.0h2.5M472.2 77.7h5.4M654.1 17.1h2.6M450.4 93.3h4.5M597.3 83.1h5.3M484.4 65.4h5.2M426.5 34.5h3.5M437.8 138.9h3.2M421.8 14.8h3.3M414.7 138.9h2.6M555.5 55.5h3.3M444.5 85.4h5.0M579.6 51.0h3.5M396.7 89.2h4.9M478.9 70.5h3.5M499.9 14.5h2.1M418.8 113.9h4.1M659.0 57.1h3.7M499.5 39.2h4.5M556.9 68.7h2.9M438.3 131.3h4.9M379.8 74.1h3.0M453.7 105.8h4.4M378.2 56.7h5.3M664.0 22.3h2.7M617.7 31.6h4.6M611.7 43.1h5.3M422.0 134.2h2.2M513.2 44.8h4.9M484.2 15.4h4.1M475.6 87.6h3.7M377.4 14.3h4.6M566.4 52.0h4.0M575.9 81.6h5.1M541.6 41.0h4.7M636.2 15.7h4.0M623.6 58.7h5.2M467.7 76.4h5.1M501.7 67.8h2.0M507.1 57.1h2.2M399.1 121.1h3.6M606.5 62.6h2.0M569.8 64.8h2.7M488.3 51.7h2.3M382.0 37.0h2.2M656.5 36.3h3.0M602.2 42.8h3.7M615.1 68.5h5.3M516.9 27.1h3.9M663.8 62.9h2.3M411.1 100.8h3.5M572.2 60.4h2.1M426.0 135.3h3.5M453.7 90.5h3.6M446.1 116.4h2.8M535.6 33.9h3.8M419.8 102.5h4.5M499.3 56.2h2.3M628.7 48.3h5.2M424.3 117.7h2.1M594.1 69.6h3.4M472.0 121.3h2.8M639.2 22.3h5.4M550.7 45.5h5.1M659.6 60.7h4.8M479.7 18.0h3.3M394.8 106.9h4.3M607.4 54.6h3.0M465.2 132.2h4.9M380.9 68.6h2.6M408.9 136.5h2.6M524.9 42.5h4.3M471.3 122.2h2.4M403.2 96.9h3.3M407.0 14.6h2.2M648.9 33.0h5.2M397.7 131.7h3.5M511.9 53.2h2.5M432.5 95.3h2.9M542.9 15.0h3.4M635.3 66.3h4.9M423.4 15.3h2.0M470.0 105.3h4.7M602.4 83.5h3.6M400.5 105.0h4.4M647.3 28.7h5.1M467.5 17.6h3.4M481.1 61.2h2.2M509.8 25.7h4.7M522.4 60.4h5.2M486.0 59.0h3.8M500.0 40.3h3.2M461.8 101.0h3.0M449.0 17.8h2.1M397.9 130.7h3.2M536.1 43.6h4.6M513.1 25.5h4.7M623.6 25.4h4.2M464.1 17.0h3.3M551.5 50.9h3.8M491.4 70.2h3.9M503.1 47.4h3.9M616.4 63.2h2.7M453.7 136.2h4.3M441.7 131.2h4.7M591.0 65.3h5.4M486.1 65.7h2.1M617.8 35.6h4.7M394.2 106.9h3.4M373.8 62.7h3.2M613.1 52.6h2.5M514.3 43.7h4.6M394.6 76.0h3.6M609.7 43.6h2.6M544.5 63.3h4.8M429.3 139.1h2.4M565.1 59.0h4.6M512.4 57.9h2.8M394.6 124.2h4.0M459.7 109.6h4.0M374.6 55.2h2.3M606.9 54.4h3.1M659.5 41.2h2.2M447.3 131.6h5.3M649.9 50.4h4.1M424.5 137.1h4.7M621.2 60.5h2.3M401.7 99.2h4.3M586.1 64.3h5.3M387.4 95.8h5.4M484.1 32.3h2.8M568.5 57.8h4.1M511.0 54.9h3.1M641.1 22.3h2.4M559.1 54.1h4.9M559.5 52.6h3.0" stroke="#7e7e7e" stroke-width="1"/><path d="M498.5 15.1h2.3M600.0 51.6h3.3M470.9 136.4h4.0M562.2 50.7h4.0M468.5 135.0h3.5M567.7 18.2h3.6M640.8 35.0h4.8M492.7 34.1h2.6M663.8 43.1h2.5M653.2 42.7h2.2M544.8 54.0h3.0M408.5 100.6h5.3M425.1 121.8h2.9M660.7 43.5h2.4M516.7 48.8h3.6M646.7 62.7h2.9M500.0 63.5h4.3M400.0 100.3h2.2M503.0 60.4h4.9M404.0 121.4h2.2M476.6 72.2h3.4M589.4 71.5h2.6M484.6 17.1h4.5M610.5 34.0h5.5M651.4 14.8h2.4M405.1 17.9h4.1M410.3 108.8h3.9M433.4 109.7h4.8M515.8 14.7h2.2M423.5 131.5h2.2M393.0 77.2h2.0M410.7 113.7h2.3M618.5 28.5h3.4M622.7 51.9h2.7M461.4 80.5h2.1M605.1 36.2h3.0M393.4 101.9h2.9M461.2 33.1h2.5M399.1 94.2h2.8M464.9 80.8h4.8M401.4 123.3h2.5M532.4 52.8h3.7M486.7 54.7h2.2M408.5 18.0h3.3M464.7 111.8h2.5M619.8 33.4h4.7M392.8 78.6h3.5M642.0 46.5h5.0M496.4 15.1h5.4M447.2 115.0h4.2M616.9 17.3h2.3M607.8 56.5h4.5M384.1 49.1h3.8M383.9 84.4h2.2M512.7 52.4h3.2M414.9 127.8h3.3M561.4 51.0h5.4M524.2 47.4h5.0M476.9 59.7h4.6M594.3 81.9h5.3M592.9 15.9h3.8M506.8 61.6h3.0M421.4 128.9h3.2M609.2 49.5h2.2M416.4 101.7h2.2M506.5 49.0h5.2M552.8 69.5h4.7M388.0 39.4h3.2M595.5 77.6h3.4M622.4 22.1h3.9M469.6 131.9h4.9M612.3 30.3h4.8M592.9 72.7h2.2M467.6 67.0h3.1M417.4 111.8h5.5M429.1 120.5h2.5M377.6 40.4h5.3M610.3 34.6h4.0M657.6 37.0h2.2M470.9 81.1h2.9M642.3 55.3h3.4M460.9 79.9h2.8M478.2 18.5h2.2M407.0 98.7h5.2M492.7 73.3h2.5M598.1 54.0h2.5M601.3 70.0h5.0M487.2 59.6h4.3M440.2 103.8h3.8M630.1 37.0h5.3M535.7 32.9h2.9M652.5 21.5h3.9M633.4 46.9h4.1M489.9 60.6h5.4M575.1 14.7h5.1M461.6 81.8h4.7M632.0 30.2h4.4M443.6 135.8h3.8M405.0 15.7h3.9M381.0 74.0h3.2M462.8 73.4h4.4M625.2 26.0h5.0M482.1 43.2h5.0M389.7 69.0h4.1M488.6 44.4h4.9M633.3 34.8h4.0M445.4 90.8h5.4M596.9 84.6h4.2M463.6 77.3h3.9M569.1 18.5h4.5M524.9 44.8h5.2M382.3 77.8h2.4M486.2 71.2h2.9M501.5 62.6h3.4M640.9 65.5h3.5M645.5 58.6h5.5M457.4 15.8h4.6M589.3 16.0h3.7M516.7 54.3h5.1M437.2 124.8h5.0M421.2 129.9h2.1M391.0 64.8h4.7M466.3 134.0h4.0M647.6 30.7h3.3M400.0 111.8h5.4M587.8 74.2h3.2M402.2 119.7h4.2M653.2 52.6h5.0M488.6 43.1h3.7M642.3 65.2h4.8M453.7 130.1h2.9M481.4 44.6h3.8M531.8 42.4h5.3M397.5 66.1h4.8M434.1 97.7h5.2M474.5 90.5h2.1M599.1 59.2h4.5M430.7 100.9h5.5M433.4 119.8h5.1M468.0 110.3h4.6M391.5 47.0h4.3M620.9 16.8h4.9M525.1 25.3h3.9M484.2 37.2h3.7M439.5 87.5h2.8M460.2 103.3h3.5M521.8 51.6h4.5M378.0 52.0h3.8M652.2 43.3h3.2M459.1 76.0h4.5M655.6 47.5h3.7M574.4 58.3h3.2M463.2 113.3h2.9M408.2 16.4h2.7M625.5 57.1h3.3M447.8 123.6h2.5M596.8 47.1h3.7M407.2 107.3h3.9M559.3 51.3h4.6M409.4 130.1h3.6M635.7 15.0h5.2M473.2 82.6h5.4M450.9 83.5h2.3M394.8 125.2h2.3M633.8 57.9h2.0M490.3 52.3h3.4M463.2 126.7h4.6M437.5 35.8h4.8M591.8 17.8h3.2M602.3 40.0h5.3M507.4 19.6h2.2M544.1 57.3h4.0M468.6 57.3h2.1M508.4 50.9h3.7M630.7 55.9h2.1M519.0 28.3h4.6M578.9 53.0h3.4M513.4 65.4h2.1M551.9 49.9h2.4M511.2 32.6h4.7M576.2 20.0h5.4M641.8 36.3h3.7M547.7 64.6h5.3M490.6 45.8h5.4M488.9 17.6h4.9M550.8 38.7h2.2M618.2 50.9h2.9M404.0 114.4h4.4M442.1 119.0h4.6M395.8 109.3h4.8M448.1 32.7h3.9M534.5 44.6h3.9M466.4 63.8h5.4M448.3 102.7h5.5M622.5 61.8h5.2M429.7 115.9h2.9M461.3 70.3h3.7M377.2 56.7h2.5M517.3 47.6h3.0M428.5 131.1h4.6M653.8 43.8h3.2M597.3 16.8h2.5M411.7 108.2h2.4M430.8 31.5h3.5M453.6 74.6h3.8M646.2 37.0h3.3M483.1 18.8h5.2M656.4 20.1h3.0M420.4 15.9h2.7M664.1 17.9h4.5M618.9 52.0h3.7M470.9 127.9h3.3M451.8 102.7h5.2M453.1 76.4h3.2M462.9 16.8h4.5M485.3 15.7h2.8M661.9 63.1h4.5M452.9 120.7h2.9M472.3 32.7h2.6M576.4 65.9h2.2M436.0 101.6h3.8M541.9 37.1h3.2M574.7 78.8h4.8M490.3 58.1h2.3M570.5 55.8h4.9M411.6 137.4h4.2M618.9 54.8h4.2M596.3 48.7h5.1M400.7 137.6h3.2M402.0 84.9h3.2M569.4 50.2h5.0M597.2 43.8h3.3M628.8 31.6h5.2M537.2 37.0h4.2M485.1 14.5h4.0M470.4 15.5h3.1M613.3 30.1h5.4M559.8 66.3h3.5M404.6 79.1h4.7M443.5 120.0h3.1" stroke="#7e7e7e" stroke-width="1.4"/><path d="M562.0 64.4h4.6M595.7 62.4h5.2M392.6 55.6h2.9M663.5 16.8h2.3M452.2 116.2h5.4M591.1 14.1h4.7M544.4 53.3h4.0M568.2 68.8h5.1M507.5 34.0h4.7M539.4 54.4h5.2M507.3 65.6h3.2M515.5 18.3h3.0M523.0 49.0h3.9M371.6 42.5h5.1M597.1 42.4h2.3M626.7 34.2h3.1M449.6 17.8h4.0M610.4 39.4h4.7M561.4 17.2h4.6M658.5 25.2h4.9M404.5 110.7h3.6M424.2 132.1h3.6M652.9 55.2h3.5M633.9 19.2h2.4M419.7 117.0h4.8M611.8 62.2h4.7M659.3 68.8h3.3M456.0 17.6h5.5M649.5 58.5h2.4M652.1 42.3h3.0M654.0 38.5h3.4M549.4 18.3h4.5M400.2 99.7h3.5M589.0 57.8h2.8M545.4 37.4h3.5M554.2 42.7h2.3M488.5 35.6h4.1M640.6 49.6h5.1M594.0 43.1h5.3M428.2 101.6h3.2M660.9 27.1h3.6M597.0 76.3h2.1M394.6 108.2h2.9M384.9 83.0h4.6M431.9 14.3h3.1M546.3 48.1h2.6M493.0 64.5h3.5M554.3 47.1h3.8M452.8 16.9h3.2M640.9 54.0h3.1M637.9 17.5h4.4M585.0 75.6h3.8M470.6 14.2h3.4M587.4 16.7h3.1M557.9 62.7h2.8M621.3 54.2h3.5M387.3 94.3h5.0M664.4 32.8h2.1M656.9 37.1h2.7M648.2 19.2h3.0M455.9 95.5h2.6M573.0 71.9h4.9M536.3 52.0h4.4M581.0 79.6h3.5M665.4 33.7h2.9M524.2 15.9h4.0M665.0 28.7h4.9M589.1 49.3h4.4M664.2 40.9h2.9M598.8 56.3h3.9M448.8 136.1h5.4M464.0 83.5h5.1M578.8 16.0h4.6M557.0 67.0h4.0M588.5 55.5h3.3M455.9 83.7h2.6M408.1 94.3h3.2M434.9 132.0h5.0M425.9 123.6h2.9M385.6 78.1h4.3M585.4 57.4h2.3M621.4 37.9h2.7M656.3 69.6h3.0M563.6 59.1h4.2M625.3 55.3h4.4M627.7 51.5h3.0M649.1 53.3h3.4M514.3 40.4h4.7M381.0 17.1h3.7M409.9 137.9h4.7M590.1 15.1h4.9M439.3 120.2h2.3M435.4 118.1h3.4M652.6 21.7h5.0M630.5 37.9h3.0M500.4 58.2h2.3M503.8 34.5h2.8M637.6 42.3h2.6M560.2 50.9h5.1M629.3 31.4h2.8M661.6 50.3h5.4M567.0 66.4h3.8M618.8 56.7h2.4M514.1 42.1h3.6M474.0 14.0h3.0M403.5 136.4h2.6M626.5 53.5h3.8M525.8 47.0h4.8M456.2 78.8h4.0M518.1 32.6h2.8M663.0 23.4h4.1M600.4 15.0h4.1M657.4 33.6h2.7M436.5 18.5h5.3M577.9 62.7h2.3M436.4 15.9h4.0" stroke="#8c8c8c" stroke-width="1"/><path d="M601.2 61.2h5.5M399.5 15.2h2.2M545.9 62.0h4.9M460.6 16.1h4.2M581.9 74.5h4.0M610.8 69.9h4.7M547.8 53.6h4.9M577.3 63.9h2.1M621.1 15.2h3.2M610.3 62.7h3.8M392.8 65.9h4.9M386.1 86.3h2.3M665.2 40.6h2.9M614.3 53.9h2.5M650.9 24.4h5.1M526.6 56.6h2.7M603.6 40.0h2.9M493.1 55.0h4.3M641.6 43.1h4.2M600.8 69.5h5.4M399.7 86.1h2.4M409.5 118.3h3.8M447.9 103.7h3.1M578.4 82.1h4.6M551.0 44.7h3.1M629.0 63.4h3.0M620.5 55.2h3.0M589.0 48.0h4.2M547.9 54.1h5.1M475.6 75.2h3.4M597.4 59.7h4.6M646.8 25.1h3.1M419.0 125.3h3.9M434.4 134.5h2.7M606.9 46.6h2.8M629.8 39.3h2.0M548.7 59.4h4.1M620.7 60.1h2.6M542.8 57.6h4.3M468.8 78.5h4.9M518.2 17.9h2.9M648.7 49.0h4.0M512.7 38.5h4.5M577.7 76.1h4.7M644.9 47.6h4.9M513.9 42.8h2.3M577.4 84.6h5.5M429.1 110.9h5.3M506.5 59.3h2.4M614.8 53.2h2.9M663.0 41.7h4.9M540.4 49.3h3.2M656.2 33.6h5.1M403.0 124.9h2.6M614.9 62.5h3.8M585.6 15.4h4.6M581.5 71.8h2.0M521.9 48.9h4.0M488.6 34.6h5.0M476.5 16.0h3.4M632.4 51.9h2.9M382.3 42.6h2.1M457.2 96.5h3.1M653.4 27.2h3.3M587.1 82.0h3.0M543.6 44.6h3.5M632.5 32.6h5.1M627.7 16.4h2.2M587.1 18.3h4.2M541.2 43.9h2.6M569.0 71.7h5.3M656.8 66.9h2.9M388.3 59.9h4.3M449.7 135.6h3.1M536.1 49.1h2.9M594.7 68.7h4.1M392.8 100.8h4.6M611.2 43.9h2.7M598.7 51.1h3.6M520.5 51.2h4.8M630.2 63.4h3.1M421.6 119.9h2.2M651.1 47.8h2.6M623.4 54.4h4.2M452.1 104.6h4.6M441.7 15.6h5.2M430.4 104.7h3.3M538.8 35.6h2.1M526.6 39.6h2.6M647.7 33.6h5.5M652.3 49.4h4.8M502.6 43.0h4.2M648.0 14.8h3.8M658.5 33.8h2.7M460.8 78.2h4.9M509.8 18.7h3.1M396.2 17.7h2.5M538.3 46.3h5.3M384.9 17.9h3.2M383.9 54.6h4.4M660.2 44.7h4.8M614.6 67.2h2.6M455.4 106.2h2.0M433.3 16.7h4.7M587.8 85.9h2.7M615.1 63.8h2.0M643.6 50.4h2.8M539.6 37.4h2.8M392.4 15.5h5.3M630.8 51.9h5.1M638.7 17.8h3.0M637.1 15.1h3.5M565.4 61.4h4.3M398.9 18.3h4.5M553.8 41.8h2.4M396.0 122.9h5.2M664.9 54.0h5.1M528.1 49.4h4.9M585.0 70.8h2.4M658.2 50.5h3.2" stroke="#8c8c8c" stroke-width="1.4"/><path d="M416.3 17.4h4.7M540.8 38.9h2.6M653.1 32.8h4.6M592.8 57.7h2.1M664.1 49.1h5.3M423.5 16.0h5.1M630.7 15.5h4.0M629.1 33.0h5.0M621.9 59.3h4.4M606.4 77.7h4.4M607.6 64.3h3.4M663.2 16.6h5.4M610.0 36.4h5.1M631.2 17.3h5.1M406.8 15.0h3.8M623.9 46.9h4.6M659.1 33.4h4.3M588.4 59.2h4.3M619.3 41.6h2.1M534.5 49.1h3.1M637.7 25.5h3.0M616.1 40.2h5.2M580.6 73.8h5.5M573.8 55.0h5.0M632.0 45.2h2.2M618.8 61.4h2.6M566.7 66.3h4.6M655.5 47.4h4.0M547.9 43.8h5.4M515.7 40.8h2.3M536.9 42.1h4.1M626.6 34.4h2.2M585.6 83.9h3.3M646.7 41.9h3.2M632.4 41.3h3.9M614.4 57.6h5.2M527.2 31.8h4.1M663.2 54.1h2.8M585.8 60.6h4.0M560.5 17.5h2.2M374.1 17.6h3.4M565.9 59.9h2.9M648.8 29.0h4.3M581.5 80.6h3.9M587.1 65.7h4.1M606.9 63.8h4.1M635.1 58.1h2.6M553.6 61.8h3.9M613.2 56.0h4.9M589.8 77.2h5.1M566.6 66.6h2.7M527.4 36.8h3.6M606.3 64.7h3.4M613.5 51.3h2.4M567.3 53.9h4.1M557.7 66.0h3.4M619.4 17.9h3.5M564.1 56.6h2.3M646.3 30.9h3.9M592.6 18.3h5.0M650.5 50.1h5.4M637.2 17.1h2.1M564.8 56.1h2.4M546.6 55.1h4.5M665.9 40.7h2.0M606.5 52.1h3.2M633.4 32.5h3.1M516.2 35.8h4.1M649.5 62.7h3.1M666.7 43.2h2.6M665.3 46.8h5.3M616.2 18.4h2.6M616.0 52.6h5.0M541.3 15.2h5.1M588.0 67.3h4.3M638.8 37.7h2.2M615.4 61.9h2.3M652.9 25.4h3.7M606.2 62.0h3.3M557.3 54.2h2.1M592.0 82.5h2.7M568.6 59.8h3.1M634.1 50.4h5.1M494.6 16.4h4.2M631.8 41.6h3.8M563.8 55.7h2.3M620.5 65.0h4.3M570.6 58.9h4.5M523.4 37.4h5.1" stroke="#9a9a9a" stroke-width="1"/><path d="M654.3 37.5h4.3M659.6 28.9h3.1M645.8 56.3h3.0M628.9 57.5h4.6M644.5 41.5h3.6M634.5 44.5h5.0M521.7 41.4h5.3M618.8 67.2h4.2M638.3 54.5h2.6M617.9 62.2h4.4M581.2 79.2h3.2M463.4 15.1h5.1M613.3 46.8h2.9M607.8 65.8h4.6M663.6 49.9h5.1M623.4 16.9h2.5M551.2 44.7h5.4M582.1 74.8h2.4M563.0 61.5h3.8M658.6 53.8h5.2M515.1 29.7h5.4M609.9 62.6h5.2M526.3 43.6h3.8M571.3 55.3h3.4M383.0 16.5h4.1M598.3 75.2h2.0M652.9 60.9h5.2M576.2 64.7h2.2M556.4 56.3h2.4M556.3 63.1h3.6M595.3 64.9h5.4M558.8 46.2h3.9M570.9 68.7h4.6M618.5 40.1h3.9M661.5 41.5h3.2M638.2 52.4h2.4M374.8 17.7h3.3M595.9 76.2h4.9M542.6 52.4h3.5M530.4 33.2h2.6M523.6 34.1h4.9M566.2 16.5h2.2M615.0 65.8h2.5M657.7 44.5h3.0M651.0 50.2h5.3M602.9 16.0h4.1M584.6 58.1h3.5M515.9 29.1h4.3M545.2 56.0h3.8M658.1 26.9h2.8M516.6 30.2h4.9M623.1 59.6h2.5M591.8 17.8h2.5M650.5 49.2h3.3M586.7 81.7h2.9M647.9 27.8h5.1M661.5 49.5h2.6M646.5 59.6h4.3M539.1 50.1h3.8M467.7 15.8h2.3M658.2 57.5h4.6M526.0 17.2h3.7M627.4 45.8h3.2M521.8 34.0h5.4M523.3 37.3h5.3M657.5 51.8h3.8M572.9 70.7h3.5M651.7 60.8h2.2M657.7 25.7h4.8M554.5 45.3h5.3M399.9 17.3h4.8M583.1 15.8h3.4M612.6 47.6h4.0M579.6 72.1h4.0M568.3 64.7h3.3M630.0 18.1h2.8" stroke="#9a9a9a" stroke-width="1.4"/><path d="M624.9 54.7h3.6M644.5 47.1h4.6M654.2 46.8h5.2M629.8 60.8h3.9M659.3 25.1h3.1M610.4 55.4h4.4M644.0 48.8h4.3M663.5 59.2h2.2M593.9 77.3h2.4M593.6 85.6h3.2M556.2 48.2h2.7M596.3 66.5h4.1M606.9 45.5h3.8M609.6 70.2h4.5M604.0 80.9h2.9M655.9 47.1h4.2M649.6 50.7h2.7M524.7 46.8h3.8M626.1 62.6h2.7M640.0 49.3h2.9M635.4 43.4h2.1M636.5 43.5h5.4M583.7 75.5h2.5M519.9 39.7h2.7M571.8 71.1h3.0M662.6 43.1h2.1M598.9 64.2h4.9M651.4 56.9h3.1M566.1 69.3h4.6M554.7 53.7h3.7M609.5 42.4h4.4M571.8 66.3h4.8M625.5 47.0h5.1M597.8 66.9h4.6M634.8 63.0h2.9M542.9 39.8h5.0M596.2 77.9h4.2M532.9 44.8h5.4M658.0 34.2h3.2M537.6 52.9h2.5M576.7 80.2h5.0M577.9 63.6h5.3M572.8 60.5h5.4M604.9 74.3h4.6M664.0 48.3h3.9M621.3 41.4h2.4M614.5 60.9h4.1M538.3 57.3h3.1M618.6 38.0h3.1M540.9 47.7h5.3M598.9 59.8h4.2M651.7 31.8h4.3M658.5 53.5h4.5M613.4 57.0h2.1M660.3 53.2h2.5M542.0 54.0h3.5M604.9 78.5h5.2M609.6 75.9h3.4" stroke="#a8a8a8" stroke-width="1"/><path d="M660.0 35.9h2.8M597.5 77.0h2.8M536.1 56.0h4.2M604.5 78.4h2.5M629.7 55.7h4.1M601.1 45.7h4.6M603.7 57.3h4.6M574.1 71.6h3.4M514.7 34.2h4.2M604.8 50.2h3.1M625.6 55.8h2.8M569.9 66.3h4.6M645.2 16.2h4.1M586.0 74.8h2.2M548.3 43.9h5.2M453.9 17.0h4.0M657.3 54.5h4.1M640.1 36.3h3.9M625.2 42.7h3.1M629.1 46.9h2.5M628.0 42.8h4.5M594.9 57.7h4.3M640.1 61.0h3.5M589.2 62.5h3.3M656.2 46.7h5.0M591.4 79.1h5.4M529.4 38.3h2.9M602.4 72.5h2.8M607.3 40.4h2.8M622.9 56.5h4.8M550.2 52.5h3.8M513.8 29.1h4.6M644.5 33.2h5.2M643.6 36.2h4.6M613.8 44.0h4.1M548.2 60.6h4.1M653.9 39.2h5.2M664.0 38.0h4.9M564.0 63.1h4.0M644.4 32.2h2.1M609.7 40.0h4.1M593.4 66.6h2.8M571.0 64.1h4.1M630.8 61.7h2.9M553.8 50.9h3.2M633.6 39.1h4.6M575.9 77.0h4.7M655.9 29.0h4.8M538.1 52.7h2.7M611.9 71.1h3.4M635.4 45.7h3.9M652.9 33.4h2.6M645.7 35.6h2.6" stroke="#a8a8a8" stroke-width="1.4"/><path d="M522.3 33.8h5.3M545.5 55.9h4.3M604.8 71.3h4.1M639.5 56.1h4.5M525.7 37.2h2.0M611.3 58.5h2.5M641.3 55.3h2.2M610.8 77.3h2.1M559.3 62.4h4.6M600.0 62.3h5.0M662.1 42.1h3.0M542.8 50.7h2.7M605.1 62.2h4.1M559.3 63.7h2.4M640.2 59.8h4.6M578.2 77.0h4.8M575.0 60.3h2.5M611.3 69.9h5.4M624.9 41.0h2.2M630.3 47.5h2.1M584.5 68.1h4.8M580.6 62.1h3.3M619.2 64.3h3.6M641.3 31.1h4.3M566.8 64.0h5.0M623.4 44.0h3.1M637.7 56.8h4.6M633.3 40.6h4.5M596.3 75.7h3.9M590.9 71.2h2.3M584.9 58.1h4.1M613.5 69.5h4.0M633.9 32.9h2.4M560.7 54.0h2.7M527.7 43.1h5.2M549.3 48.8h5.1M588.6 67.9h3.6M583.2 61.4h4.6M610.0 76.6h3.9M630.4 41.3h4.4M528.8 45.7h3.8M631.4 31.5h2.3M602.7 82.0h4.5M588.7 78.4h3.8M646.4 53.9h2.4M607.9 52.0h2.2M635.9 60.5h4.7" stroke="#b6b6b6" stroke-width="1"/><path d="M640.1 44.6h4.8M605.3 69.7h5.0M597.1 50.1h3.7M577.9 68.3h4.3M622.9 61.7h4.5M595.3 77.7h3.0M605.8 74.7h3.7M660.9 57.7h4.8M594.6 80.0h2.6M579.9 72.9h3.6M609.3 67.4h4.9M639.5 54.0h2.7M596.3 84.6h4.8M561.9 56.1h3.4M654.9 50.9h3.1M580.1 62.3h2.4M585.1 63.5h4.3M620.4 61.8h4.1M608.5 61.1h3.4M545.9 46.0h4.1M598.2 50.4h3.3M582.6 78.9h4.6M590.2 53.5h3.2M597.9 52.3h5.3M657.6 34.7h5.3M528.2 46.0h2.5M597.7 60.3h3.1M653.5 45.6h3.7M611.8 73.5h2.2M640.6 36.6h4.1M637.4 32.7h3.7M646.4 54.9h4.4M608.3 58.1h5.0M639.1 44.3h4.1M604.8 72.7h3.0" stroke="#b6b6b6" stroke-width="1.4"/><path d="M599.1 81.9h4.4M604.4 77.8h2.9M608.8 70.6h3.5M599.3 71.2h2.6M576.0 75.4h4.5M575.6 68.7h4.3M592.9 73.2h4.4M583.5 75.9h3.6" stroke="#c4c4c4" stroke-width="1"/><path d="M604.4 76.8h5.4M594.2 83.7h5.4M595.4 77.8h3.0M600.5 79.8h5.4M592.8 72.6h2.5M589.6 76.0h5.0M598.9 72.1h2.5M611.6 64.2h5.2M577.6 76.8h2.8M606.3 75.0h5.0M576.9 71.6h4.4M612.3 67.5h2.1M584.0 71.5h3.4M582.4 81.1h2.6M584.6 69.2h4.1" stroke="#c4c4c4" stroke-width="1.4"/><path d="M582.3 80.7h4.0M584.6 80.3h3.1M603.7 78.2h4.2M592.8 82.4h2.4M596.0 71.4h5.3" stroke="#d2d2d2" stroke-width="1"/><path d="M609.9 72.7h2.5M601.0 76.6h3.4M610.3 68.0h3.7" stroke="#d2d2d2" stroke-width="1.4"/><path d="M597.6 75.3h4.1M580.2 76.7h4.2M579.4 76.6h3.8" stroke="#e0e0e0" stroke-width="1"/></g><path d="M505 142 Q508 123 520 122.5 Q532 123 537 134" fill="none" stroke="#888" stroke-width="6.5" opacity="0.45"/><path d="M505 142 Q508 123 520 122.5 Q532 123 537 134" fill="none" stroke="#e0e0e0" stroke-width="3.2" stroke-dasharray="3 0.8"/><rect x="369.5" y="13" width="300.5" height="1.2" fill="#c8c8c8"/><rect x="369.5" y="143" width="300.5" height="152.5" fill="#000"/><line x1="395.7" y1="13.3" x2="395.7" y2="295.5" stroke="#d0601e" stroke-width="2.2" stroke-dasharray="6 6" opacity="0.8"/><line x1="420.7" y1="13.3" x2="420.7" y2="295.5" stroke="#d0601e" stroke-width="2.2" stroke-dasharray="6 6" opacity="0.8"/><line x1="445.7" y1="13.3" x2="445.7" y2="295.5" stroke="#d0601e" stroke-width="2.2" stroke-dasharray="6 6" opacity="0.8"/><line x1="470.7" y1="13.3" x2="470.7" y2="295.5" stroke="#d0601e" stroke-width="2.2" stroke-dasharray="6 6" opacity="0.8"/><line x1="495.7" y1="13.3" x2="495.7" y2="295.5" stroke="#d0601e" stroke-width="2.2" stroke-dasharray="6 6" opacity="0.8"/><line x1="520.7" y1="13.3" x2="520.7" y2="295.5" stroke="#d0601e" stroke-width="2.2" stroke-dasharray="6 6" opacity="0.8"/><line x1="545.7" y1="13.3" x2="545.7" y2="295.5" stroke="#d0601e" stroke-width="2.2" stroke-dasharray="6 6" opacity="0.8"/><line x1="570.7" y1="13.3" x2="570.7" y2="295.5" stroke="#d0601e" stroke-width="2.2" stroke-dasharray="6 6" opacity="0.8"/><line x1="595.7" y1="13.3" x2="595.7" y2="295.5" stroke="#d0601e" stroke-width="2.2" stroke-dasharray="6 6" opacity="0.8"/><line x1="620.7" y1="13.3" x2="620.7" y2="295.5" stroke="#d0601e" stroke-width="2.2" stroke-dasharray="6 6" opacity="0.8"/><line x1="645.7" y1="13.3" x2="645.7" y2="295.5" stroke="#d0601e" stroke-width="2.2" stroke-dasharray="6 6" opacity="0.8"/><rect x="577" y="122.5" width="92.5" height="19.7" fill="#000"/><rect x="559" y="272" width="110.5" height="18.5" fill="#000"/><rect x="479" y="204.5" width="61" height="35" fill="#000"/><rect x="369.5" y="142.2" width="300.5" height="1.8" fill="#b8b8b8"/><rect x="369.5" y="162.8" width="300.5" height="1.8" fill="#b8b8b8"/><text x="373.2" y="157.5" font-size="16.5" fill="#e06a28" font-family="Liberation Sans, sans-serif">S<tspan font-size="11" dy="3.6">1</tspan></text><text x="398.2" y="157.5" font-size="16.5" fill="#e06a28" font-family="Liberation Sans, sans-serif">S<tspan font-size="11" dy="3.6">2</tspan></text><text x="423.2" y="157.5" font-size="16.5" fill="#e06a28" font-family="Liberation Sans, sans-serif">S<tspan font-size="11" dy="3.6">3</tspan></text><text x="448.2" y="157.5" font-size="16.5" fill="#e06a28" font-family="Liberation Sans, sans-serif">S<tspan font-size="11" dy="3.6">4</tspan></text><text x="473.2" y="157.5" font-size="16.5" fill="#e06a28" font-family="Liberation Sans, sans-serif">S<tspan font-size="11" dy="3.6">5</tspan></text><text x="498.2" y="157.5" font-size="16.5" fill="#e06a28" font-family="Liberation Sans, sans-serif">S<tspan font-size="11" dy="3.6">6</tspan></text><text x="523.2" y="157.5" font-size="16.5" fill="#e06a28" font-family="Liberation Sans, sans-serif">S<tspan font-size="11" dy="3.6">7</tspan></text><text x="548.2" y="157.5" font-size="16.5" fill="#e06a28" font-family="Liberation Sans, sans-serif">S<tspan font-size="11" dy="3.6">8</tspan></text><text x="573.2" y="157.5" font-size="16.5" fill="#e06a28" font-family="Liberation Sans, sans-serif">S<tspan font-size="11" dy="3.6">9</tspan></text><text x="595.6" y="157.5" font-size="16.5" fill="#e06a28" font-family="Liberation Sans, sans-serif">S<tspan font-size="11" dy="3.6">10</tspan></text><text x="620.6" y="157.5" font-size="16.5" fill="#e06a28" font-family="Liberation Sans, sans-serif">S<tspan font-size="11" dy="3.6">11</tspan></text><text x="645.6" y="157.5" font-size="16.5" fill="#e06a28" font-family="Liberation Sans, sans-serif">S<tspan font-size="11" dy="3.6">12</tspan></text><linearGradient id="ig0" gradientUnits="userSpaceOnUse" x1="370.1" y1="18.5" x2="382.5" y2="23.2"><stop offset="0" stop-color="#f08030"/><stop offset="1" stop-color="#f0b030"/></linearGradient><line x1="370.1" y1="18.5" x2="382.5" y2="23.2" stroke="url(#ig0)" stroke-width="2.1" stroke-linecap="round"/><linearGradient id="ig1" gradientUnits="userSpaceOnUse" x1="382.5" y1="23.2" x2="386.0" y2="29.0"><stop offset="0" stop-color="#f0b030"/><stop offset="1" stop-color="#e0e030"/></linearGradient><line x1="382.5" y1="23.2" x2="386.0" y2="29.0" stroke="url(#ig1)" stroke-width="2.1" stroke-linecap="round"/><linearGradient id="ig2" gradientUnits="userSpaceOnUse" x1="386.0" y1="29.0" x2="390.7" y2="36.0"><stop offset="0" stop-color="#e0e030"/><stop offset="1" stop-color="#80e8a0"/></linearGradient><line x1="386.0" y1="29.0" x2="390.7" y2="36.0" stroke="url(#ig2)" stroke-width="2.1" stroke-linecap="round"/><linearGradient id="ig3" gradientUnits="userSpaceOnUse" x1="390.7" y1="36.0" x2="395.0" y2="43.0"><stop offset="0" stop-color="#80e8a0"/><stop offset="1" stop-color="#50d8f0"/></linearGradient><line x1="390.7" y1="36.0" x2="395.0" y2="43.0" stroke="url(#ig3)" stroke-width="2.1" stroke-linecap="round"/><linearGradient id="ig4" gradientUnits="userSpaceOnUse" x1="395.0" y1="43.0" x2="400.0" y2="52.4"><stop offset="0" stop-color="#50d8f0"/><stop offset="1" stop-color="#50d0f0"/></linearGradient><line x1="395.0" y1="43.0" x2="400.0" y2="52.4" stroke="url(#ig4)" stroke-width="2.1" stroke-linecap="round"/><linearGradient id="ig5" gradientUnits="userSpaceOnUse" x1="400.0" y1="52.4" x2="405.0" y2="62.0"><stop offset="0" stop-color="#50d0f0"/><stop offset="1" stop-color="#3a90f0"/></linearGradient><line x1="400.0" y1="52.4" x2="405.0" y2="62.0" stroke="url(#ig5)" stroke-width="2.1" stroke-linecap="round"/><linearGradient id="ig6" gradientUnits="userSpaceOnUse" x1="405.0" y1="62.0" x2="409.4" y2="71.0"><stop offset="0" stop-color="#3a90f0"/><stop offset="1" stop-color="#50c8f0"/></linearGradient><line x1="405.0" y1="62.0" x2="409.4" y2="71.0" stroke="url(#ig6)" stroke-width="2.1" stroke-linecap="round"/><linearGradient id="ig7" gradientUnits="userSpaceOnUse" x1="409.4" y1="71.0" x2="418.7" y2="94.4"><stop offset="0" stop-color="#50c8f0"/><stop offset="1" stop-color="#50d0f0"/></linearGradient><line x1="409.4" y1="71.0" x2="418.7" y2="94.4" stroke="url(#ig7)" stroke-width="2.1" stroke-linecap="round"/><linearGradient id="ig8" gradientUnits="userSpaceOnUse" x1="418.7" y1="94.4" x2="428.1" y2="87.4"><stop offset="0" stop-color="#50d0f0"/><stop offset="1" stop-color="#3a80f0"/></linearGradient><line x1="418.7" y1="94.4" x2="428.1" y2="87.4" stroke="url(#ig8)" stroke-width="2.1" stroke-linecap="round"/><linearGradient id="ig9" gradientUnits="userSpaceOnUse" x1="428.1" y1="87.4" x2="437.4" y2="83.9"><stop offset="0" stop-color="#3a80f0"/><stop offset="1" stop-color="#4090f0"/></linearGradient><line x1="428.1" y1="87.4" x2="437.4" y2="83.9" stroke="url(#ig9)" stroke-width="2.1" stroke-linecap="round"/><linearGradient id="ig10" gradientUnits="userSpaceOnUse" x1="437.4" y1="83.9" x2="446.8" y2="75.8"><stop offset="0" stop-color="#4090f0"/><stop offset="1" stop-color="#50c8f0"/></linearGradient><line x1="437.4" y1="83.9" x2="446.8" y2="75.8" stroke="url(#ig10)" stroke-width="2.1" stroke-linecap="round"/><linearGradient id="ig11" gradientUnits="userSpaceOnUse" x1="446.8" y1="75.8" x2="470.1" y2="52.4"><stop offset="0" stop-color="#50c8f0"/><stop offset="1" stop-color="#50d8f0"/></linearGradient><line x1="446.8" y1="75.8" x2="470.1" y2="52.4" stroke="url(#ig11)" stroke-width="2.1" stroke-linecap="round"/><linearGradient id="ig12" gradientUnits="userSpaceOnUse" x1="470.1" y1="52.4" x2="495.8" y2="25.5"><stop offset="0" stop-color="#50d8f0"/><stop offset="1" stop-color="#40a0f0"/></linearGradient><line x1="470.1" y1="52.4" x2="495.8" y2="25.5" stroke="url(#ig12)" stroke-width="2.1" stroke-linecap="round"/><linearGradient id="ig13" gradientUnits="userSpaceOnUse" x1="495.8" y1="25.5" x2="516.9" y2="18.5"><stop offset="0" stop-color="#40a0f0"/><stop offset="1" stop-color="#3070f0"/></linearGradient><line x1="495.8" y1="25.5" x2="516.9" y2="18.5" stroke="url(#ig13)" stroke-width="2.1" stroke-linecap="round"/><linearGradient id="ig14" gradientUnits="userSpaceOnUse" x1="516.9" y1="18.5" x2="525.0" y2="20.9"><stop offset="0" stop-color="#3070f0"/><stop offset="1" stop-color="#3080f0"/></linearGradient><line x1="516.9" y1="18.5" x2="525.0" y2="20.9" stroke="url(#ig14)" stroke-width="2.1" stroke-linecap="round"/><linearGradient id="ig15" gradientUnits="userSpaceOnUse" x1="525.0" y1="20.9" x2="534.1" y2="23.7"><stop offset="0" stop-color="#3080f0"/><stop offset="1" stop-color="#3080f0"/></linearGradient><line x1="525.0" y1="20.9" x2="534.1" y2="23.7" stroke="url(#ig15)" stroke-width="2.1" stroke-linecap="round"/><linearGradient id="ig16" gradientUnits="userSpaceOnUse" x1="534.1" y1="23.7" x2="546.1" y2="30.9"><stop offset="0" stop-color="#3080f0"/><stop offset="1" stop-color="#3a80f0"/></linearGradient><line x1="534.1" y1="23.7" x2="546.1" y2="30.9" stroke="url(#ig16)" stroke-width="2.1" stroke-linecap="round"/><linearGradient id="ig17" gradientUnits="userSpaceOnUse" x1="546.1" y1="30.9" x2="558.2" y2="38.1"><stop offset="0" stop-color="#3a80f0"/><stop offset="1" stop-color="#3a90f0"/></linearGradient><line x1="546.1" y1="30.9" x2="558.2" y2="38.1" stroke="url(#ig17)" stroke-width="2.1" stroke-linecap="round"/><linearGradient id="ig18" gradientUnits="userSpaceOnUse" x1="558.2" y1="38.1" x2="570.2" y2="45.3"><stop offset="0" stop-color="#3a90f0"/><stop offset="1" stop-color="#40b0f0"/></linearGradient><line x1="558.2" y1="38.1" x2="570.2" y2="45.3" stroke="url(#ig18)" stroke-width="2.1" stroke-linecap="round"/><linearGradient id="ig19" gradientUnits="userSpaceOnUse" x1="570.2" y1="45.3" x2="578.7" y2="50.2"><stop offset="0" stop-color="#40b0f0"/><stop offset="1" stop-color="#50d8e0"/></linearGradient><line x1="570.2" y1="45.3" x2="578.7" y2="50.2" stroke="url(#ig19)" stroke-width="2.1" stroke-linecap="round"/><linearGradient id="ig20" gradientUnits="userSpaceOnUse" x1="578.7" y1="50.2" x2="583.0" y2="47.0"><stop offset="0" stop-color="#50d8e0"/><stop offset="1" stop-color="#c0e040"/></linearGradient><line x1="578.7" y1="50.2" x2="583.0" y2="47.0" stroke="url(#ig20)" stroke-width="2.1" stroke-linecap="round"/><linearGradient id="ig21" gradientUnits="userSpaceOnUse" x1="583.0" y1="47.0" x2="587.1" y2="44.1"><stop offset="0" stop-color="#c0e040"/><stop offset="1" stop-color="#e8d030"/></linearGradient><line x1="583.0" y1="47.0" x2="587.1" y2="44.1" stroke="url(#ig21)" stroke-width="2.1" stroke-linecap="round"/><linearGradient id="ig22" gradientUnits="userSpaceOnUse" x1="587.1" y1="44.1" x2="596.7" y2="36.9"><stop offset="0" stop-color="#e8d030"/><stop offset="1" stop-color="#f08030"/></linearGradient><line x1="587.1" y1="44.1" x2="596.7" y2="36.9" stroke="url(#ig22)" stroke-width="2.1" stroke-linecap="round"/><linearGradient id="ig23" gradientUnits="userSpaceOnUse" x1="596.7" y1="36.9" x2="606.4" y2="30.9"><stop offset="0" stop-color="#f08030"/><stop offset="1" stop-color="#f06020"/></linearGradient><line x1="596.7" y1="36.9" x2="606.4" y2="30.9" stroke="url(#ig23)" stroke-width="2.1" stroke-linecap="round"/><linearGradient id="ig24" gradientUnits="userSpaceOnUse" x1="606.4" y1="30.9" x2="616.0" y2="24.9"><stop offset="0" stop-color="#f06020"/><stop offset="1" stop-color="#f08030"/></linearGradient><line x1="606.4" y1="30.9" x2="616.0" y2="24.9" stroke="url(#ig24)" stroke-width="2.1" stroke-linecap="round"/><linearGradient id="ig25" gradientUnits="userSpaceOnUse" x1="616.0" y1="24.9" x2="628.1" y2="17.2"><stop offset="0" stop-color="#f08030"/><stop offset="1" stop-color="#f0c030"/></linearGradient><line x1="616.0" y1="24.9" x2="628.1" y2="17.2" stroke="url(#ig25)" stroke-width="2.1" stroke-linecap="round"/><linearGradient id="ig26" gradientUnits="userSpaceOnUse" x1="628.1" y1="17.2" x2="645.0" y2="15.7"><stop offset="0" stop-color="#f0c030"/><stop offset="1" stop-color="#e8e030"/></linearGradient><line x1="628.1" y1="17.2" x2="645.0" y2="15.7" stroke="url(#ig26)" stroke-width="2.1" stroke-linecap="round"/><linearGradient id="ig27" gradientUnits="userSpaceOnUse" x1="645.0" y1="15.7" x2="657.0" y2="14.7"><stop offset="0" stop-color="#e8e030"/><stop offset="1" stop-color="#e0e830"/></linearGradient><line x1="645.0" y1="15.7" x2="657.0" y2="14.7" stroke="url(#ig27)" stroke-width="2.1" stroke-linecap="round"/><linearGradient id="ig28" gradientUnits="userSpaceOnUse" x1="657.0" y1="14.7" x2="670.0" y2="18.8"><stop offset="0" stop-color="#e0e830"/><stop offset="1" stop-color="#c0e040"/></linearGradient><line x1="657.0" y1="14.7" x2="670.0" y2="18.8" stroke="url(#ig28)" stroke-width="2.1" stroke-linecap="round"/><text x="664.6" y="139.3" font-size="18" fill="#fff" text-anchor="end" font-family="Liberation Sans, sans-serif">NIRF-IVUS</text><rect x="607.0" y="187.6" width="1" height="1" fill="#e8e8e8"/><rect x="587.6" y="208.8" width="1" height="1" fill="#e8e8e8"/><rect x="633.2" y="174.7" width="1" height="1" fill="#e8e8e8"/><rect x="623.1" y="183.3" width="1" height="1" fill="#e8e8e8"/><rect x="400.7" y="205.2" width="1" height="1" fill="#e8e8e8"/><rect x="623.7" y="182.9" width="1" height="1" fill="#e8e8e8"/><rect x="381.0" y="181.6" width="1" height="1" fill="#e8e8e8"/><rect x="626.1" y="177.1" width="1" height="1" fill="#e8e8e8"/><rect x="373.5" y="179.1" width="1" height="1" fill="#e8e8e8"/><rect x="617.3" y="184.2" width="1" height="1" fill="#e8e8e8"/><rect x="397.0" y="213.3" width="1" height="1" fill="#e8e8e8"/><rect x="645.4" y="180.5" width="1" height="1" fill="#e8e8e8"/><rect x="385.3" y="184.8" width="1" height="1" fill="#e8e8e8"/><rect x="626.5" y="176.5" width="1" height="1" fill="#e8e8e8"/><rect x="648.5" y="176.4" width="1" height="1" fill="#e8e8e8"/><rect x="400.0" y="202.9" width="1" height="1" fill="#e8e8e8"/><rect x="666.6" y="183.2" width="1" height="1" fill="#e8e8e8"/><rect x="625.8" y="177.2" width="1" height="1" fill="#e8e8e8"/><rect x="644.9" y="179.3" width="1" height="1" fill="#e8e8e8"/><rect x="664.1" y="173.4" width="1" height="1" fill="#e8e8e8"/><rect x="580.6" y="225.5" width="1" height="1" fill="#e8e8e8"/><rect x="587.8" y="210.3" width="1" height="1" fill="#e8e8e8"/><rect x="640.3" y="172.7" width="1" height="1" fill="#e8e8e8"/><rect x="640.7" y="172.8" width="1" height="1" fill="#e8e8e8"/><rect x="373.8" y="190.3" width="1" height="1" fill="#e8e8e8"/><rect x="662.0" y="181.7" width="1" height="1" fill="#e8e8e8"/><rect x="582.7" y="219.6" width="1" height="1" fill="#e8e8e8"/><rect x="646.5" y="172.0" width="1" height="1" fill="#e8e8e8"/><rect x="373.7" y="191.9" width="1" height="1" fill="#e8e8e8"/><rect x="383.1" y="188.7" width="1" height="1" fill="#e8e8e8"/><rect x="589.5" y="205.0" width="1" height="1" fill="#e8e8e8"/><rect x="584.9" y="212.5" width="1" height="1" fill="#e8e8e8"/><rect x="400.7" y="206.1" width="1" height="1" fill="#e8e8e8"/><rect x="611.9" y="188.6" width="1" height="1" fill="#e8e8e8"/><rect x="632.3" y="177.4" width="1" height="1" fill="#e8e8e8"/><rect x="397.0" y="198.2" width="1" height="1" fill="#e8e8e8"/><rect x="604.1" y="189.7" width="1" height="1" fill="#e8e8e8"/><rect x="594.4" y="199.5" width="1" height="1" fill="#e8e8e8"/><rect x="371.6" y="177.5" width="1" height="1" fill="#e8e8e8"/><rect x="398.2" y="206.3" width="1" height="1" fill="#e8e8e8"/><rect x="648.7" y="172.5" width="1" height="1" fill="#e8e8e8"/><rect x="612.4" y="185.0" width="1" height="1" fill="#e8e8e8"/><rect x="641.0" y="179.2" width="1" height="1" fill="#e8e8e8"/><rect x="396.7" y="202.2" width="1" height="1" fill="#e8e8e8"/><rect x="397.8" y="212.4" width="1" height="1" fill="#e8e8e8"/><rect x="606.8" y="190.9" width="1" height="1" fill="#e8e8e8"/><rect x="666.3" y="183.1" width="1" height="1" fill="#e8e8e8"/><rect x="621.0" y="183.1" width="1" height="1" fill="#e8e8e8"/><rect x="625.2" y="179.3" width="1" height="1" fill="#e8e8e8"/><rect x="656.9" y="175.3" width="1" height="1" fill="#e8e8e8"/><rect x="628.7" y="180.3" width="1" height="1" fill="#e8e8e8"/><rect x="584.3" y="215.6" width="1" height="1" fill="#e8e8e8"/><rect x="382.1" y="193.6" width="1" height="1" fill="#e8e8e8"/><rect x="399.2" y="209.4" width="1" height="1" fill="#e8e8e8"/><rect x="639.3" y="172.8" width="1" height="1" fill="#e8e8e8"/><rect x="393.3" y="200.4" width="1" height="1" fill="#e8e8e8"/><rect x="652.7" y="173.6" width="1" height="1" fill="#e8e8e8"/><rect x="401.0" y="204.6" width="1" height="1" fill="#e8e8e8"/><rect x="634.4" y="182.1" width="1" height="1" fill="#e8e8e8"/><rect x="392.8" y="192.2" width="1" height="1" fill="#e8e8e8"/><rect x="634.1" y="180.8" width="1" height="1" fill="#e8e8e8"/><rect x="394.2" y="194.7" width="1" height="1" fill="#e8e8e8"/><rect x="667.3" y="185.3" width="1" height="1" fill="#e8e8e8"/><rect x="371.1" y="176.2" width="1" height="1" fill="#e8e8e8"/><rect x="580.5" y="227.3" width="1" height="1" fill="#e8e8e8"/><rect x="652.2" y="182.7" width="1" height="1" fill="#e8e8e8"/><rect x="652.9" y="176.7" width="1" height="1" fill="#e8e8e8"/><rect x="583.4" y="217.7" width="1" height="1" fill="#e8e8e8"/><rect x="612.7" y="186.3" width="1" height="1" fill="#e8e8e8"/><rect x="385.9" y="191.9" width="1" height="1" fill="#e8e8e8"/><rect x="606.7" y="188.7" width="1" height="1" fill="#e8e8e8"/><rect x="388.9" y="202.0" width="1" height="1" fill="#e8e8e8"/><rect x="637.7" y="176.7" width="1" height="1" fill="#e8e8e8"/><rect x="392.6" y="193.5" width="1" height="1" fill="#e8e8e8"/><rect x="668.5" y="176.7" width="1" height="1" fill="#e8e8e8"/><rect x="608.2" y="188.5" width="1" height="1" fill="#e8e8e8"/><rect x="386.5" y="196.9" width="1" height="1" fill="#e8e8e8"/><rect x="382.0" y="184.1" width="1" height="1" fill="#e8e8e8"/><rect x="391.8" y="203.1" width="1" height="1" fill="#e8e8e8"/><rect x="618.1" y="181.3" width="1" height="1" fill="#e8e8e8"/><rect x="400.2" y="209.1" width="1" height="1" fill="#e8e8e8"/><rect x="602.7" y="190.4" width="1" height="1" fill="#e8e8e8"/><rect x="380.2" y="185.6" width="1" height="1" fill="#e8e8e8"/><rect x="633.7" y="179.1" width="1" height="1" fill="#e8e8e8"/><rect x="650.8" y="178.4" width="1" height="1" fill="#e8e8e8"/><rect x="626.8" y="178.6" width="1" height="1" fill="#e8e8e8"/><rect x="659.2" y="175.7" width="1" height="1" fill="#e8e8e8"/><rect x="616.5" y="184.9" width="1" height="1" fill="#e8e8e8"/><rect x="389.4" y="202.7" width="1" height="1" fill="#e8e8e8"/><rect x="657.1" y="179.5" width="1" height="1" fill="#e8e8e8"/><rect x="373.4" y="180.9" width="1" height="1" fill="#e8e8e8"/><rect x="637.4" y="177.2" width="1" height="1" fill="#e8e8e8"/><rect x="609.2" y="185.8" width="1" height="1" fill="#e8e8e8"/><rect x="660.5" y="173.6" width="1" height="1" fill="#e8e8e8"/><rect x="604.1" y="190.0" width="1" height="1" fill="#e8e8e8"/><rect x="399.1" y="203.7" width="1" height="1" fill="#e8e8e8"/><rect x="592.9" y="200.4" width="1" height="1" fill="#e8e8e8"/><rect x="389.2" y="194.2" width="1" height="1" fill="#e8e8e8"/><rect x="595.4" y="198.6" width="1" height="1" fill="#e8e8e8"/><rect x="399.9" y="208.7" width="1" height="1" fill="#e8e8e8"/><rect x="616.0" y="181.3" width="1" height="1" fill="#e8e8e8"/><rect x="393.5" y="198.8" width="1" height="1" fill="#e8e8e8"/><rect x="387.7" y="199.4" width="1" height="1" fill="#e8e8e8"/><rect x="624.7" y="180.2" width="1" height="1" fill="#e8e8e8"/><rect x="579.9" y="228.7" width="1" height="1" fill="#e8e8e8"/><rect x="642.9" y="173.0" width="1" height="1" fill="#e8e8e8"/><rect x="650.0" y="173.3" width="1" height="1" fill="#e8e8e8"/><rect x="581.8" y="222.5" width="1" height="1" fill="#e8e8e8"/><rect x="376.8" y="187.6" width="1" height="1" fill="#e8e8e8"/><rect x="621.1" y="179.6" width="1" height="1" fill="#e8e8e8"/><rect x="618.3" y="181.6" width="1" height="1" fill="#e8e8e8"/><rect x="619.5" y="181.0" width="1" height="1" fill="#e8e8e8"/><rect x="386.4" y="188.2" width="1" height="1" fill="#e8e8e8"/><rect x="664.9" y="182.5" width="1" height="1" fill="#e8e8e8"/><rect x="620.8" y="183.1" width="1" height="1" fill="#e8e8e8"/><rect x="395.8" y="195.6" width="1" height="1" fill="#e8e8e8"/><rect x="628.2" y="181.1" width="1" height="1" fill="#e8e8e8"/><rect x="655.1" y="175.6" width="1" height="1" fill="#e8e8e8"/><rect x="377.4" y="189.8" width="1" height="1" fill="#e8e8e8"/><rect x="598.0" y="195.5" width="1" height="1" fill="#e8e8e8"/><rect x="605.0" y="188.9" width="1" height="1" fill="#e8e8e8"/><rect x="587.7" y="208.1" width="1" height="1" fill="#e8e8e8"/><rect x="622.7" y="184.4" width="1" height="1" fill="#e8e8e8"/><rect x="614.6" y="182.4" width="1" height="1" fill="#e8e8e8"/><rect x="581.6" y="222.0" width="1" height="1" fill="#e8e8e8"/><rect x="651.0" y="173.2" width="1" height="1" fill="#e8e8e8"/><rect x="585.4" y="211.9" width="1" height="1" fill="#e8e8e8"/><rect x="656.1" y="172.6" width="1" height="1" fill="#e8e8e8"/><rect x="620.1" y="179.6" width="1" height="1" fill="#e8e8e8"/><rect x="665.5" y="174.7" width="1" height="1" fill="#e8e8e8"/><rect x="663.1" y="185.2" width="1" height="1" fill="#e8e8e8"/><rect x="662.0" y="173.4" width="1" height="1" fill="#e8e8e8"/><rect x="665.5" y="178.9" width="1" height="1" fill="#e8e8e8"/><rect x="380.0" y="185.8" width="1" height="1" fill="#e8e8e8"/><rect x="643.6" y="173.0" width="1" height="1" fill="#e8e8e8"/><rect x="391.4" y="205.9" width="1" height="1" fill="#e8e8e8"/><rect x="639.6" y="178.5" width="1" height="1" fill="#e8e8e8"/><rect x="650.1" y="171.7" width="1" height="1" fill="#e8e8e8"/><rect x="617.1" y="182.2" width="1" height="1" fill="#e8e8e8"/><rect x="588.9" y="208.2" width="1" height="1" fill="#e8e8e8"/><rect x="653.7" y="182.8" width="1" height="1" fill="#e8e8e8"/><rect x="389.4" y="201.8" width="1" height="1" fill="#e8e8e8"/><rect x="639.7" y="172.9" width="1" height="1" fill="#e8e8e8"/><rect x="579.4" y="229.9" width="1" height="1" fill="#e8e8e8"/><rect x="380.5" y="181.6" width="1" height="1" fill="#e8e8e8"/><rect x="375.0" y="187.6" width="1" height="1" fill="#e8e8e8"/><rect x="648.2" y="180.0" width="1" height="1" fill="#e8e8e8"/><rect x="632.5" y="177.6" width="1" height="1" fill="#e8e8e8"/><rect x="616.7" y="182.3" width="1" height="1" fill="#e8e8e8"/><rect x="579.3" y="229.4" width="1" height="1" fill="#e8e8e8"/><rect x="613.1" y="184.3" width="1" height="1" fill="#e8e8e8"/><rect x="375.8" y="191.7" width="1" height="1" fill="#e8e8e8"/><rect x="609.9" y="189.2" width="1" height="1" fill="#e8e8e8"/><rect x="645.9" y="172.6" width="1" height="1" fill="#e8e8e8"/><rect x="618.7" y="180.3" width="1" height="1" fill="#e8e8e8"/><rect x="373.0" y="176.9" width="1" height="1" fill="#e8e8e8"/><rect x="650.1" y="173.2" width="1" height="1" fill="#e8e8e8"/><rect x="399.3" y="203.7" width="1" height="1" fill="#e8e8e8"/><rect x="652.8" y="175.1" width="1" height="1" fill="#e8e8e8"/><rect x="614.2" y="183.4" width="1" height="1" fill="#e8e8e8"/><rect x="639.4" y="182.3" width="1" height="1" fill="#e8e8e8"/><rect x="380.6" y="187.7" width="1" height="1" fill="#e8e8e8"/><rect x="668.3" y="185.1" width="1" height="1" fill="#e8e8e8"/><rect x="394.6" y="196.0" width="1" height="1" fill="#e8e8e8"/><rect x="583.9" y="215.2" width="1" height="1" fill="#e8e8e8"/><rect x="657.8" y="174.4" width="1" height="1" fill="#e8e8e8"/><rect x="392.4" y="194.3" width="1" height="1" fill="#e8e8e8"/><rect x="377.3" y="192.5" width="1" height="1" fill="#e8e8e8"/><rect x="622.8" y="180.2" width="1" height="1" fill="#e8e8e8"/><rect x="608.6" y="187.1" width="1" height="1" fill="#e8e8e8"/><rect x="638.3" y="180.7" width="1" height="1" fill="#e8e8e8"/><rect x="653.0" y="181.1" width="1" height="1" fill="#e8e8e8"/><rect x="390.9" y="196.9" width="1" height="1" fill="#e8e8e8"/><rect x="377.8" y="183.8" width="1" height="1" fill="#e8e8e8"/><rect x="580.1" y="229.3" width="1" height="1" fill="#e8e8e8"/><rect x="614.1" y="184.9" width="1" height="1" fill="#e8e8e8"/><rect x="580.9" y="224.1" width="1" height="1" fill="#e8e8e8"/><rect x="598.1" y="195.5" width="1" height="1" fill="#e8e8e8"/><rect x="371.3" y="181.0" width="1" height="1" fill="#e8e8e8"/><rect x="665.5" y="178.8" width="1" height="1" fill="#e8e8e8"/><rect x="613.9" y="186.5" width="1" height="1" fill="#e8e8e8"/><rect x="579.1" y="232.4" width="1" height="1" fill="#e8e8e8"/><rect x="630.1" y="177.5" width="1" height="1" fill="#e8e8e8"/><rect x="398.1" y="199.5" width="1" height="1" fill="#e8e8e8"/><rect x="395.1" y="197.6" width="1" height="1" fill="#e8e8e8"/><rect x="602.1" y="191.6" width="1" height="1" fill="#e8e8e8"/><rect x="607.6" y="186.9" width="1" height="1" fill="#e8e8e8"/><rect x="609.5" y="189.3" width="1" height="1" fill="#e8e8e8"/><rect x="384.0" y="188.5" width="1" height="1" fill="#e8e8e8"/><rect x="594.2" y="200.4" width="1" height="1" fill="#e8e8e8"/><rect x="653.3" y="180.7" width="1" height="1" fill="#e8e8e8"/><rect x="643.4" y="172.8" width="1" height="1" fill="#e8e8e8"/><rect x="596.5" y="197.2" width="1" height="1" fill="#e8e8e8"/><rect x="400.4" y="208.1" width="1" height="1" fill="#e8e8e8"/><rect x="623.7" y="181.5" width="1" height="1" fill="#e8e8e8"/><rect x="395.0" y="198.9" width="1" height="1" fill="#e8e8e8"/><rect x="662.8" y="180.3" width="1" height="1" fill="#e8e8e8"/><rect x="622.0" y="180.5" width="1" height="1" fill="#e8e8e8"/><rect x="620.4" y="179.2" width="1" height="1" fill="#e8e8e8"/><rect x="620.8" y="178.9" width="1" height="1" fill="#e8e8e8"/><rect x="388.7" y="188.5" width="1" height="1" fill="#e8e8e8"/><rect x="588.1" y="207.4" width="1" height="1" fill="#e8e8e8"/><rect x="382.9" y="182.4" width="1" height="1" fill="#e8e8e8"/><rect x="589.7" y="204.3" width="1" height="1" fill="#e8e8e8"/><rect x="587.5" y="208.4" width="1" height="1" fill="#e8e8e8"/><rect x="606.3" y="190.0" width="1" height="1" fill="#e8e8e8"/><rect x="638.9" y="175.6" width="1" height="1" fill="#e8e8e8"/><rect x="636.7" y="173.6" width="1" height="1" fill="#e8e8e8"/><rect x="374.3" y="177.6" width="1" height="1" fill="#e8e8e8"/><rect x="585.4" y="212.4" width="1" height="1" fill="#e8e8e8"/><rect x="599.1" y="195.1" width="1" height="1" fill="#e8e8e8"/><rect x="606.2" y="189.3" width="1" height="1" fill="#e8e8e8"/><rect x="388.0" y="187.8" width="1" height="1" fill="#e8e8e8"/><rect x="628.0" y="178.8" width="1" height="1" fill="#e8e8e8"/><rect x="373.5" y="178.6" width="1" height="1" fill="#e8e8e8"/><rect x="593.1" y="201.9" width="1" height="1" fill="#e8e8e8"/><rect x="384.1" y="188.0" width="1" height="1" fill="#e8e8e8"/><rect x="593.4" y="200.8" width="1" height="1" fill="#e8e8e8"/><rect x="629.2" y="176.3" width="1" height="1" fill="#e8e8e8"/><rect x="580.2" y="228.0" width="1" height="1" fill="#e8e8e8"/><rect x="594.6" y="200.8" width="1" height="1" fill="#e8e8e8"/><rect x="380.9" y="190.3" width="1" height="1" fill="#e8e8e8"/><rect x="394.6" y="193.8" width="1" height="1" fill="#e8e8e8"/><rect x="398.1" y="199.6" width="1" height="1" fill="#e8e8e8"/><rect x="591.9" y="201.4" width="1" height="1" fill="#e8e8e8"/><rect x="391.2" y="198.7" width="1" height="1" fill="#e8e8e8"/><rect x="379.1" y="186.0" width="1" height="1" fill="#e8e8e8"/><rect x="621.1" y="182.3" width="1" height="1" fill="#e8e8e8"/><rect x="639.3" y="180.3" width="1" height="1" fill="#e8e8e8"/><rect x="644.2" y="172.5" width="1" height="1" fill="#e8e8e8"/><rect x="372.9" y="190.1" width="1" height="1" fill="#e8e8e8"/><rect x="385.6" y="188.3" width="1" height="1" fill="#e8e8e8"/><rect x="375.1" y="183.4" width="1" height="1" fill="#e8e8e8"/><rect x="625.7" y="180.6" width="1" height="1" fill="#e8e8e8"/><rect x="626.3" y="179.4" width="1" height="1" fill="#e8e8e8"/><rect x="382.7" y="185.7" width="1" height="1" fill="#e8e8e8"/><rect x="588.6" y="207.1" width="1" height="1" fill="#e8e8e8"/><rect x="398.7" y="201.9" width="1" height="1" fill="#e8e8e8"/><rect x="606.2" y="189.6" width="1" height="1" fill="#e8e8e8"/><rect x="395.1" y="197.5" width="1" height="1" fill="#e8e8e8"/><path d="M370.10 173.60 C370.99 173.99 377.17 176.41 379.00 177.50 C380.83 178.59 386.76 182.98 388.40 184.50 C390.04 186.02 394.00 190.71 395.40 192.70 C396.80 194.69 401.23 201.83 402.40 204.40 C403.57 206.97 406.17 214.90 407.10 218.40 C408.03 221.90 410.65 234.26 411.70 239.40 C412.75 244.54 416.20 267.23 417.60 269.80 C419.00 272.37 423.95 266.15 425.70 265.10 C427.45 264.05 433.69 260.58 435.10 259.30 C436.51 258.02 438.87 254.05 439.80 252.30 C440.73 250.55 443.00 244.25 444.40 241.80 C445.80 239.35 451.93 230.84 453.80 227.80 C455.67 224.76 461.23 214.68 463.10 211.40 C464.97 208.12 470.63 197.57 472.50 195.00 C474.37 192.43 479.93 187.33 481.80 185.70 C483.67 184.07 489.33 179.82 491.20 178.70 C493.07 177.58 498.63 175.04 500.50 174.50 C502.37 173.96 507.75 173.30 509.90 173.30 C512.05 173.30 519.58 174.02 522.00 174.50 C524.42 174.98 531.69 177.14 534.10 178.10 C536.51 179.06 543.93 182.54 546.10 184.10 C548.27 185.66 554.11 191.53 555.80 193.70 C557.49 195.87 561.80 203.15 563.00 205.80 C564.20 208.45 566.96 217.07 567.80 220.20 C568.64 223.33 570.79 234.69 571.40 237.10 C572.01 239.51 573.41 244.30 573.90 244.30 C574.39 244.30 575.70 239.02 576.30 237.10 C576.90 235.18 579.06 227.75 579.90 225.10 C580.74 222.45 583.50 213.25 584.70 210.60 C585.90 207.95 590.21 200.77 591.90 198.60 C593.59 196.43 599.43 190.71 601.60 188.90 C603.77 187.09 611.19 181.94 613.60 180.50 C616.01 179.06 623.29 175.47 625.70 174.50 C628.11 173.53 635.29 171.29 637.70 170.80 C640.11 170.31 647.39 169.60 649.80 169.60 C652.21 169.60 659.78 170.51 661.80 170.80 C663.82 171.09 669.18 172.33 670.00 172.50" fill="none" stroke="#ff2a10" stroke-width="2.2" stroke-linejoin="round"/><path d="M370.10 200.90 C370.99 201.25 377.17 203.35 379.00 204.40 C380.83 205.45 386.76 209.88 388.40 211.40 C390.04 212.92 394.00 217.50 395.40 219.60 C396.80 221.70 401.23 229.48 402.40 232.40 C403.57 235.32 406.17 245.06 407.10 248.80 C408.03 252.54 410.89 265.88 411.70 269.80 C412.51 273.72 412.98 286.18 415.20 288.00 C417.42 289.82 431.44 288.88 433.90 288.00 C436.36 287.12 438.51 281.49 439.80 279.20 C441.09 276.91 444.93 268.38 446.80 265.10 C448.67 261.82 456.17 250.13 458.50 246.40 C460.83 242.67 467.77 231.07 470.10 227.80 C472.43 224.53 479.69 215.92 481.80 213.70 C483.91 211.48 489.33 207.00 491.20 205.60 C493.07 204.20 498.63 200.47 500.50 199.70 C502.37 198.93 507.75 197.89 509.90 197.90 C512.05 197.91 519.58 199.25 522.00 199.80 C524.42 200.35 531.69 202.44 534.10 203.40 C536.51 204.36 543.93 207.84 546.10 209.40 C548.27 210.96 554.11 216.71 555.80 219.00 C557.49 221.29 561.80 229.28 563.00 232.30 C564.20 235.32 566.96 246.07 567.80 249.20 C568.64 252.33 570.79 261.44 571.40 263.60 C572.01 265.76 573.41 270.80 573.90 270.80 C574.39 270.80 575.70 265.76 576.30 263.60 C576.90 261.44 579.06 252.33 579.90 249.20 C580.74 246.07 583.50 235.32 584.70 232.30 C585.90 229.28 590.21 221.29 591.90 219.00 C593.59 216.71 599.43 210.96 601.60 209.40 C603.77 207.84 611.19 204.44 613.60 203.40 C616.01 202.36 623.29 199.65 625.70 199.00 C628.11 198.35 635.29 197.14 637.70 196.90 C640.11 196.66 647.39 196.43 649.80 196.60 C652.21 196.77 659.78 198.16 661.80 198.60 C663.82 199.04 669.18 200.76 670.00 201.00" fill="none" stroke="#5ef02a" stroke-width="2.2" stroke-linejoin="round"/><line x1="510.3" y1="178" x2="510.3" y2="195" stroke="#ff2a10" stroke-width="1.3"/><path d="M507.6 181 L510.3 175 L513 181Z" fill="#ff2a10"/><path d="M507.6 192 L510.3 198 L513 192Z" fill="#ff2a10"/><text x="491" y="220" font-size="17.5" fill="#6af030" font-family="Liberation Sans, sans-serif">ROI:</text><text x="479.6" y="235.2" font-size="17.5" fill="#6af030" font-family="Liberation Sans, sans-serif">0.5 mm</text><text x="666.2" y="286" font-size="18.4" fill="#fff" text-anchor="end" font-family="Liberation Sans, sans-serif">CD68-Binary</text><line x1="369.2" y1="13" x2="369.2" y2="295.5" stroke="#222" stroke-width="1"/><line x1="366.0" y1="13.2" x2="369.5" y2="13.2" stroke="#777" stroke-width="1.2"/><text x="365" y="19.3" font-size="17" fill="#14142a" text-anchor="end" font-family="Liberation Sans, sans-serif">0</text><line x1="366.0" y1="78.4" x2="369.5" y2="78.4" stroke="#777" stroke-width="1.2"/><text x="365" y="84.5" font-size="17" fill="#111" text-anchor="end" font-family="Liberation Sans, sans-serif">1.7</text><line x1="366.0" y1="143.0" x2="369.5" y2="143.0" stroke="#777" stroke-width="1.2"/><text x="365" y="149.1" font-size="17" fill="#111" text-anchor="end" font-family="Liberation Sans, sans-serif">3.4</text><line x1="366.0" y1="163.7" x2="369.5" y2="163.7" stroke="#777" stroke-width="1.2"/><text x="365" y="169.8" font-size="17" fill="#14142a" text-anchor="end" font-family="Liberation Sans, sans-serif">0</text><line x1="366.0" y1="229.9" x2="369.5" y2="229.9" stroke="#777" stroke-width="1.2"/><text x="365" y="236.0" font-size="17" fill="#111" text-anchor="end" font-family="Liberation Sans, sans-serif">1.6</text><line x1="366.0" y1="295.5" x2="369.5" y2="295.5" stroke="#777" stroke-width="1.2"/><text x="365" y="301.6" font-size="17" fill="#111" text-anchor="end" font-family="Liberation Sans, sans-serif">3.2</text><line x1="370.0" y1="295.5" x2="370.0" y2="299.0" stroke="#222" stroke-width="1.2"/><text x="370.0" y="314" font-size="17" fill="#111" text-anchor="middle" font-family="Liberation Sans, sans-serif">0</text><line x1="520.0" y1="295.5" x2="520.0" y2="299.0" stroke="#222" stroke-width="1.2"/><text x="520.0" y="314" font-size="17" fill="#111" text-anchor="middle" font-family="Liberation Sans, sans-serif">180</text><line x1="669.5" y1="295.5" x2="669.5" y2="299.0" stroke="#222" stroke-width="1.2"/><text x="669.5" y="314" font-size="17" fill="#111" text-anchor="middle" font-family="Liberation Sans, sans-serif">360</text><text x="519" y="328.2" font-size="17" fill="#111" text-anchor="middle" font-family="Liberation Sans, sans-serif">Angle [°]</text><text transform="translate(335.3,145) rotate(-90)" font-size="17.8" fill="#111" text-anchor="middle" font-family="Liberation Sans, sans-serif">Depth [mm]</text><text x="316" y="16.5" font-size="20" font-weight="bold" fill="#000" font-family="Liberation Sans, sans-serif">d</text><text x="4" y="362" font-size="21" font-weight="bold" fill="#000" font-family="Liberation Sans, sans-serif">e</text><text x="153.4" y="366.5" font-size="17.5" fill="#111" text-anchor="middle" font-family="Liberation Sans, sans-serif">Average ICG Concentration</text><rect x="25.6" y="374.5" width="41.8" height="57.2" fill="#000" filter="url(#shadow)"/><rect x="81.0" y="374.5" width="41.8" height="57.2" fill="#000" filter="url(#shadow)"/><rect x="149.9" y="374.5" width="41.6" height="57.2" fill="#000" filter="url(#shadow)"/><rect x="219.0" y="374.5" width="41.7" height="57.2" fill="#000" filter="url(#shadow)"/><linearGradient id="eg554625978" gradientUnits="userSpaceOnUse" x1="26.5" y1="390.0" x2="46.5" y2="394.9"><stop offset="0" stop-color="#f07828"/><stop offset="1" stop-color="#f09a28"/></linearGradient><line x1="26.5" y1="390.0" x2="46.5" y2="394.9" stroke="url(#eg554625978)" stroke-width="2.8" stroke-linecap="round"/><linearGradient id="eg306600040" gradientUnits="userSpaceOnUse" x1="46.5" y1="394.9" x2="52.0" y2="400.5"><stop offset="0" stop-color="#f09a28"/><stop offset="1" stop-color="#e0e030"/></linearGradient><line x1="46.5" y1="394.9" x2="52.0" y2="400.5" stroke="url(#eg306600040)" stroke-width="2.8" stroke-linecap="round"/><linearGradient id="eg498927943" gradientUnits="userSpaceOnUse" x1="52.0" y1="400.5" x2="58.0" y2="406.5"><stop offset="0" stop-color="#e0e030"/><stop offset="1" stop-color="#90e860"/></linearGradient><line x1="52.0" y1="400.5" x2="58.0" y2="406.5" stroke="url(#eg498927943)" stroke-width="2.8" stroke-linecap="round"/><linearGradient id="eg500253746" gradientUnits="userSpaceOnUse" x1="58.0" y1="406.5" x2="66.8" y2="415.5"><stop offset="0" stop-color="#90e860"/><stop offset="1" stop-color="#50d8f0"/></linearGradient><line x1="58.0" y1="406.5" x2="66.8" y2="415.5" stroke="url(#eg500253746)" stroke-width="2.8" stroke-linecap="round"/><linearGradient id="eg500727853" gradientUnits="userSpaceOnUse" x1="81.5" y1="378.5" x2="90.7" y2="387.7"><stop offset="0" stop-color="#58d8f8"/><stop offset="1" stop-color="#50d0f8"/></linearGradient><line x1="81.5" y1="378.5" x2="90.7" y2="387.7" stroke="url(#eg500727853)" stroke-width="2.0" stroke-linecap="round"/><linearGradient id="eg823742263" gradientUnits="userSpaceOnUse" x1="90.7" y1="387.7" x2="100.3" y2="403.7"><stop offset="0" stop-color="#50d0f8"/><stop offset="1" stop-color="#48b0f8"/></linearGradient><line x1="90.7" y1="387.7" x2="100.3" y2="403.7" stroke="url(#eg823742263)" stroke-width="2.0" stroke-linecap="round"/><linearGradient id="eg127241474" gradientUnits="userSpaceOnUse" x1="100.3" y1="403.7" x2="110.0" y2="418.2"><stop offset="0" stop-color="#48b0f8"/><stop offset="1" stop-color="#50d0f8"/></linearGradient><line x1="100.3" y1="403.7" x2="110.0" y2="418.2" stroke="url(#eg127241474)" stroke-width="2.0" stroke-linecap="round"/><linearGradient id="eg959563263" gradientUnits="userSpaceOnUse" x1="110.0" y1="418.2" x2="118.8" y2="429.4"><stop offset="0" stop-color="#50d0f8"/><stop offset="1" stop-color="#58d8f8"/></linearGradient><line x1="110.0" y1="418.2" x2="118.8" y2="429.4" stroke="url(#eg959563263)" stroke-width="2.0" stroke-linecap="round"/><linearGradient id="eg589566415" gradientUnits="userSpaceOnUse" x1="118.8" y1="429.4" x2="122.3" y2="426.4"><stop offset="0" stop-color="#58d8f8"/><stop offset="1" stop-color="#48b8f8"/></linearGradient><line x1="118.8" y1="429.4" x2="122.3" y2="426.4" stroke="url(#eg589566415)" stroke-width="2.0" stroke-linecap="round"/><linearGradient id="eg213943091" gradientUnits="userSpaceOnUse" x1="150.4" y1="399.4" x2="162.5" y2="402.0"><stop offset="0" stop-color="#3a8af0"/><stop offset="1" stop-color="#3080f0"/></linearGradient><line x1="150.4" y1="399.4" x2="162.5" y2="402.0" stroke="url(#eg213943091)" stroke-width="3.0" stroke-linecap="round"/><linearGradient id="eg334658118" gradientUnits="userSpaceOnUse" x1="162.5" y1="402.0" x2="175.7" y2="404.7"><stop offset="0" stop-color="#3080f0"/><stop offset="1" stop-color="#3a88f0"/></linearGradient><line x1="162.5" y1="402.0" x2="175.7" y2="404.7" stroke="url(#eg334658118)" stroke-width="3.0" stroke-linecap="round"/><linearGradient id="eg92185305" gradientUnits="userSpaceOnUse" x1="175.7" y1="404.7" x2="191.0" y2="411.2"><stop offset="0" stop-color="#3a88f0"/><stop offset="1" stop-color="#3070f0"/></linearGradient><line x1="175.7" y1="404.7" x2="191.0" y2="411.2" stroke="url(#eg92185305)" stroke-width="3.0" stroke-linecap="round"/><linearGradient id="eg507821010" gradientUnits="userSpaceOnUse" x1="219.5" y1="405.9" x2="227.3" y2="408.9"><stop offset="0" stop-color="#40a0f0"/><stop offset="1" stop-color="#50d0f0"/></linearGradient><line x1="219.5" y1="405.9" x2="227.3" y2="408.9" stroke="url(#eg507821010)" stroke-width="2.8" stroke-linecap="round"/><linearGradient id="eg18795268" gradientUnits="userSpaceOnUse" x1="227.3" y1="408.9" x2="232.6" y2="409.9"><stop offset="0" stop-color="#50d0f0"/><stop offset="1" stop-color="#60e0c0"/></linearGradient><line x1="227.3" y1="408.9" x2="232.6" y2="409.9" stroke="url(#eg18795268)" stroke-width="2.8" stroke-linecap="round"/><linearGradient id="eg310943694" gradientUnits="userSpaceOnUse" x1="232.6" y1="409.9" x2="238.0" y2="407.0"><stop offset="0" stop-color="#60e0c0"/><stop offset="1" stop-color="#d0e840"/></linearGradient><line x1="232.6" y1="409.9" x2="238.0" y2="407.0" stroke="url(#eg310943694)" stroke-width="2.8" stroke-linecap="round"/><linearGradient id="eg492816174" gradientUnits="userSpaceOnUse" x1="238.0" y1="407.0" x2="250.0" y2="400.5"><stop offset="0" stop-color="#d0e840"/><stop offset="1" stop-color="#e8d030"/></linearGradient><line x1="238.0" y1="407.0" x2="250.0" y2="400.5" stroke="url(#eg492816174)" stroke-width="2.8" stroke-linecap="round"/><linearGradient id="eg82102849" gradientUnits="userSpaceOnUse" x1="250.0" y1="400.5" x2="260.2" y2="396.3"><stop offset="0" stop-color="#e8d030"/><stop offset="1" stop-color="#f0a030"/></linearGradient><line x1="250.0" y1="400.5" x2="260.2" y2="396.3" stroke="url(#eg82102849)" stroke-width="2.8" stroke-linecap="round"/><text x="26.2" y="427.3" font-size="18" fill="#e06a28" font-family="Liberation Sans, sans-serif">S<tspan font-size="12" dy="2.5">1</tspan></text><text x="81.6" y="427.3" font-size="18" fill="#e06a28" font-family="Liberation Sans, sans-serif">S<tspan font-size="12" dy="2.5">2</tspan></text><text x="150.5" y="427.3" font-size="18" fill="#e06a28" font-family="Liberation Sans, sans-serif">S<tspan font-size="12" dy="2.5">7</tspan></text><text x="241.3" y="427.3" font-size="18" fill="#e06a28" font-family="Liberation Sans, sans-serif">S<tspan font-size="12" dy="2.5">9</tspan></text><circle cx="131.5" cy="403" r="1.1" fill="#111"/><circle cx="135.5" cy="403" r="1.1" fill="#111"/><circle cx="139.5" cy="403" r="1.1" fill="#111"/><circle cx="201.5" cy="403" r="1.1" fill="#111"/><circle cx="205.5" cy="403" r="1.1" fill="#111"/><circle cx="209.5" cy="403" r="1.1" fill="#111"/><circle cx="272.5" cy="403" r="1.1" fill="#111"/><circle cx="276.5" cy="403" r="1.1" fill="#111"/><circle cx="280.5" cy="403" r="1.1" fill="#111"/><circle cx="133.0" cy="556" r="1.1" fill="#111"/><circle cx="137.0" cy="556" r="1.1" fill="#111"/><circle cx="141.0" cy="556" r="1.1" fill="#111"/><circle cx="202.0" cy="556" r="1.1" fill="#111"/><circle cx="206.0" cy="556" r="1.1" fill="#111"/><circle cx="210.0" cy="556" r="1.1" fill="#111"/><circle cx="272.5" cy="556" r="1.1" fill="#111"/><circle cx="276.5" cy="556" r="1.1" fill="#111"/><circle cx="280.5" cy="556" r="1.1" fill="#111"/><text x="50.0" y="446.8" font-size="17.5" fill="#111" text-anchor="middle" font-family="Liberation Sans, sans-serif">3.2µM</text><text x="103.5" y="446.8" font-size="17.5" fill="#111" text-anchor="middle" font-family="Liberation Sans, sans-serif">1.8µM</text><text x="171.6" y="446.8" font-size="17.5" fill="#111" text-anchor="middle" font-family="Liberation Sans, sans-serif">1.3µM</text><text x="242.8" y="446.8" font-size="17.5" fill="#111" text-anchor="middle" font-family="Liberation Sans, sans-serif">2.8µM</text><rect x="26" y="459.2" width="256" height="17" fill="#fff" stroke="#333" stroke-width="1.1"/><text x="149.6" y="474" font-size="17.8" fill="#111" text-anchor="middle" font-family="Liberation Sans, sans-serif">Correlation</text><line x1="46.2" y1="452.5" x2="46.2" y2="459.5" stroke="#222" stroke-width="0.9"/><path d="M46.2 450.5 L44.4 454.5 L48.0 454.5Z" fill="#222"/><line x1="46.2" y1="476.3" x2="46.2" y2="483" stroke="#222" stroke-width="0.9"/><path d="M46.2 485.5 L44.4 481.5 L48.0 481.5Z" fill="#222"/><line x1="101.9" y1="452.5" x2="101.9" y2="459.5" stroke="#222" stroke-width="0.9"/><path d="M101.9 450.5 L100.1 454.5 L103.7 454.5Z" fill="#222"/><line x1="101.9" y1="476.3" x2="101.9" y2="483" stroke="#222" stroke-width="0.9"/><path d="M101.9 485.5 L100.1 481.5 L103.7 481.5Z" fill="#222"/><line x1="170.2" y1="452.5" x2="170.2" y2="459.5" stroke="#222" stroke-width="0.9"/><path d="M170.2 450.5 L168.4 454.5 L172.0 454.5Z" fill="#222"/><line x1="170.2" y1="476.3" x2="170.2" y2="483" stroke="#222" stroke-width="0.9"/><path d="M170.2 485.5 L168.4 481.5 L172.0 481.5Z" fill="#222"/><line x1="240.8" y1="452.5" x2="240.8" y2="459.5" stroke="#222" stroke-width="0.9"/><path d="M240.8 450.5 L239.0 454.5 L242.6 454.5Z" fill="#222"/><line x1="240.8" y1="476.3" x2="240.8" y2="483" stroke="#222" stroke-width="0.9"/><path d="M240.8 485.5 L239.0 481.5 L242.6 481.5Z" fill="#222"/><text x="46.4" y="500.3" font-size="17.5" fill="#111" text-anchor="middle" font-family="Liberation Sans, sans-serif">7.5%</text><text x="103.0" y="500.3" font-size="17.5" fill="#111" text-anchor="middle" font-family="Liberation Sans, sans-serif">2.3%</text><text x="172.8" y="500.3" font-size="17.5" fill="#111" text-anchor="middle" font-family="Liberation Sans, sans-serif">0%</text><text x="240.6" y="500.3" font-size="17.5" fill="#111" text-anchor="middle" font-family="Liberation Sans, sans-serif">3.4%</text><rect x="26.2" y="502.6" width="41.2" height="107.2" fill="#000" filter="url(#shadow)"/><rect x="81.1" y="502.6" width="41.9" height="107.2" fill="#000" filter="url(#shadow)"/><rect x="150.3" y="502.6" width="41.7" height="107.2" fill="#000" filter="url(#shadow)"/><rect x="220.2" y="502.6" width="41.4" height="107.2" fill="#000" filter="url(#shadow)"/><clipPath id="lb1"><rect x="26.2" y="502.6" width="41.2" height="107.2"/></clipPath><g clip-path="url(#lb1)"><rect x="61.8" y="567.7" width="1" height="1" fill="#eee"/><rect x="37.3" y="568.4" width="1" height="1" fill="#eee"/><rect x="49.2" y="561.3" width="1" height="1" fill="#eee"/><rect x="63.7" y="590.1" width="1" height="1" fill="#eee"/><rect x="49.4" y="566.7" width="1" height="1" fill="#eee"/><rect x="38.6" y="546.9" width="1" height="1" fill="#eee"/><rect x="38.3" y="542.9" width="1" height="1" fill="#eee"/><rect x="41.7" y="528.1" width="1" height="1" fill="#eee"/><rect x="58.6" y="549.6" width="1" height="1" fill="#eee"/><rect x="65.0" y="592.7" width="1" height="1" fill="#eee"/><rect x="38.8" y="544.7" width="1" height="1" fill="#eee"/><rect x="67.3" y="571.8" width="1" height="1" fill="#eee"/><rect x="43.8" y="533.7" width="1" height="1" fill="#eee"/><rect x="36.8" y="548.6" width="1" height="1" fill="#eee"/><rect x="44.4" y="569.7" width="1" height="1" fill="#eee"/><rect x="60.2" y="588.5" width="1" height="1" fill="#eee"/><rect x="64.9" y="585.1" width="1" height="1" fill="#eee"/><rect x="52.3" y="541.9" width="1" height="1" fill="#eee"/><rect x="62.7" y="573.5" width="1" height="1" fill="#eee"/><rect x="40.6" y="562.0" width="1" height="1" fill="#eee"/><rect x="65.1" y="583.8" width="1" height="1" fill="#eee"/><rect x="40.0" y="545.1" width="1" height="1" fill="#eee"/><rect x="46.3" y="575.6" width="1" height="1" fill="#eee"/><rect x="66.7" y="562.0" width="1" height="1" fill="#eee"/><rect x="33.9" y="539.5" width="1" height="1" fill="#eee"/><rect x="56.9" y="563.1" width="1" height="1" fill="#eee"/><rect x="48.0" y="550.5" width="1" height="1" fill="#eee"/><rect x="29.5" y="561.2" width="1" height="1" fill="#eee"/><rect x="48.2" y="573.8" width="1" height="1" fill="#eee"/><rect x="47.2" y="570.9" width="1" height="1" fill="#eee"/><rect x="60.1" y="551.2" width="1" height="1" fill="#eee"/><rect x="57.3" y="564.1" width="1" height="1" fill="#eee"/><rect x="48.9" y="555.4" width="1" height="1" fill="#eee"/><rect x="65.4" y="590.6" width="1" height="1" fill="#eee"/><rect x="64.9" y="559.4" width="1" height="1" fill="#eee"/><rect x="56.7" y="578.0" width="1" height="1" fill="#eee"/><rect x="46.0" y="534.3" width="1" height="1" fill="#eee"/><rect x="57.4" y="587.6" width="1" height="1" fill="#eee"/><rect x="52.4" y="545.5" width="1" height="1" fill="#eee"/><rect x="38.4" y="556.9" width="1" height="1" fill="#eee"/><rect x="42.0" y="557.4" width="1" height="1" fill="#eee"/><rect x="54.7" y="561.5" width="1" height="1" fill="#eee"/><rect x="38.1" y="550.0" width="1" height="1" fill="#eee"/><rect x="54.0" y="552.7" width="1" height="1" fill="#eee"/><rect x="55.7" y="551.0" width="1" height="1" fill="#eee"/><rect x="35.9" y="558.8" width="1" height="1" fill="#eee"/><rect x="65.1" y="561.9" width="1" height="1" fill="#eee"/><rect x="64.6" y="583.9" width="1" height="1" fill="#eee"/><rect x="68.6" y="570.4" width="1" height="1" fill="#eee"/><rect x="37.0" y="556.6" width="1" height="1" fill="#eee"/><rect x="53.4" y="557.7" width="1" height="1" fill="#eee"/><rect x="39.6" y="528.6" width="1" height="1" fill="#eee"/><rect x="38.3" y="569.2" width="1" height="1" fill="#eee"/><rect x="61.3" y="567.0" width="1" height="1" fill="#eee"/><rect x="35.0" y="563.3" width="1" height="1" fill="#eee"/><rect x="45.3" y="565.8" width="1" height="1" fill="#eee"/><rect x="39.0" y="565.8" width="1" height="1" fill="#eee"/><rect x="40.3" y="571.7" width="1" height="1" fill="#eee"/><rect x="51.1" y="571.6" width="1" height="1" fill="#eee"/><rect x="39.4" y="528.2" width="1" height="1" fill="#eee"/><rect x="59.1" y="573.4" width="1" height="1" fill="#eee"/><rect x="62.9" y="563.6" width="1" height="1" fill="#eee"/><rect x="48.4" y="576.9" width="1" height="1" fill="#eee"/><rect x="42.1" y="549.6" width="1" height="1" fill="#eee"/><rect x="49.0" y="542.2" width="1" height="1" fill="#eee"/><rect x="60.3" y="584.0" width="1" height="1" fill="#eee"/><rect x="58.6" y="560.1" width="1" height="1" fill="#eee"/><rect x="39.9" y="563.1" width="1" height="1" fill="#eee"/><rect x="29.9" y="553.2" width="1" height="1" fill="#eee"/><rect x="67.8" y="598.7" width="1" height="1" fill="#eee"/><rect x="55.5" y="553.1" width="1" height="1" fill="#eee"/><rect x="44.7" y="561.8" width="1" height="1" fill="#eee"/><rect x="58.6" y="574.5" width="1" height="1" fill="#eee"/><rect x="43.5" y="538.7" width="1" height="1" fill="#eee"/><rect x="49.9" y="555.2" width="1" height="1" fill="#eee"/><rect x="66.7" y="565.8" width="1" height="1" fill="#eee"/><rect x="60.1" y="591.9" width="1" height="1" fill="#eee"/><rect x="61.8" y="564.9" width="1" height="1" fill="#eee"/><rect x="63.8" y="591.2" width="1" height="1" fill="#eee"/><rect x="44.6" y="567.8" width="1" height="1" fill="#eee"/><rect x="63.3" y="579.8" width="1" height="1" fill="#eee"/><rect x="51.0" y="555.6" width="1" height="1" fill="#eee"/><rect x="52.2" y="540.4" width="1" height="1" fill="#eee"/><rect x="41.5" y="536.6" width="1" height="1" fill="#eee"/><rect x="39.0" y="563.4" width="1" height="1" fill="#eee"/><rect x="47.6" y="540.5" width="1" height="1" fill="#eee"/><rect x="43.6" y="559.4" width="1" height="1" fill="#eee"/><rect x="38.3" y="569.3" width="1" height="1" fill="#eee"/><rect x="40.4" y="543.9" width="1" height="1" fill="#eee"/><rect x="45.7" y="576.5" width="1" height="1" fill="#eee"/><rect x="41.0" y="562.3" width="1" height="1" fill="#eee"/><rect x="59.6" y="587.5" width="1" height="1" fill="#eee"/><path d="M24.00 512.50 C26.47 513.35 34.45 515.18 38.80 517.60 C43.15 520.02 46.65 523.72 50.10 527.00 C53.55 530.28 56.62 533.23 59.50 537.30 C62.38 541.37 65.82 548.45 67.40 551.40 C68.98 554.35 68.73 554.40 69.00 555.00" fill="none" stroke="#ff2a10" stroke-width="4.2"/><path d="M24.00 564.00 C26.47 565.03 34.45 567.92 38.80 570.20 C43.15 572.48 46.65 574.57 50.10 577.70 C53.55 580.83 56.62 584.77 59.50 589.00 C62.38 593.23 65.82 600.10 67.40 603.10 C68.98 606.10 68.73 606.35 69.00 607.00" fill="none" stroke="#5ef02a" stroke-width="4.2"/></g><clipPath id="lb2"><rect x="81.1" y="502.6" width="41.9" height="107.2"/></clipPath><g clip-path="url(#lb2)"><rect x="85.7" y="514.1" width="1" height="1" fill="#eee"/><rect x="82.1" y="523.8" width="1" height="1" fill="#eee"/><rect x="87.1" y="532.7" width="1" height="1" fill="#eee"/><rect x="82.7" y="525.6" width="1" height="1" fill="#eee"/><rect x="85.0" y="522.6" width="1" height="1" fill="#eee"/><rect x="83.2" y="517.1" width="1" height="1" fill="#eee"/><rect x="86.2" y="533.1" width="1" height="1" fill="#eee"/><rect x="82.9" y="522.3" width="1" height="1" fill="#eee"/><rect x="88.4" y="534.2" width="1" height="1" fill="#eee"/><rect x="83.6" y="513.2" width="1" height="1" fill="#eee"/><rect x="89.5" y="534.4" width="1" height="1" fill="#eee"/><rect x="85.9" y="511.3" width="1" height="1" fill="#eee"/><rect x="89.4" y="519.7" width="1" height="1" fill="#eee"/><rect x="89.2" y="525.5" width="1" height="1" fill="#eee"/><rect x="88.6" y="514.0" width="1" height="1" fill="#eee"/><rect x="88.3" y="515.6" width="1" height="1" fill="#eee"/><rect x="85.2" y="531.2" width="1" height="1" fill="#eee"/><rect x="88.6" y="514.6" width="1" height="1" fill="#eee"/><rect x="83.7" y="520.0" width="1" height="1" fill="#eee"/><rect x="86.1" y="519.6" width="1" height="1" fill="#eee"/><rect x="83.0" y="516.2" width="1" height="1" fill="#eee"/><rect x="87.8" y="532.4" width="1" height="1" fill="#eee"/><rect x="82.3" y="524.1" width="1" height="1" fill="#eee"/><rect x="88.1" y="511.0" width="1" height="1" fill="#eee"/><rect x="88.7" y="512.9" width="1" height="1" fill="#eee"/><path d="M81.10 504.40 C82.20 505.65 85.50 509.08 87.70 511.90 C89.90 514.72 92.42 517.22 94.30 521.30 C96.18 525.38 97.43 531.38 99.00 536.40 C100.57 541.42 101.98 546.38 103.70 551.40 C105.42 556.42 107.27 560.55 109.30 566.50 C111.33 572.45 114.48 583.35 115.90 587.10 C117.32 590.85 116.45 589.18 117.80 589.00 C119.15 588.82 122.97 586.50 124.00 586.00" fill="none" stroke="#ff2a10" stroke-width="2.4" stroke-dasharray="0.01 2.1" stroke-linecap="round"/><path d="M81.10 533.50 C82.20 534.60 85.50 537.12 87.70 540.10 C89.90 543.08 92.42 547.00 94.30 551.40 C96.18 555.80 97.28 561.17 99.00 566.50 C100.72 571.83 102.42 576.52 104.60 583.40 C106.78 590.28 108.87 603.73 112.10 607.80 C115.33 611.87 122.02 607.80 124.00 607.80" fill="none" stroke="#5ef02a" stroke-width="2.4" stroke-dasharray="0.01 2.1" stroke-linecap="round"/></g><clipPath id="lb3"><rect x="150.3" y="502.6" width="41.7" height="107.2"/></clipPath><g clip-path="url(#lb3)"><path d="M148.00 519.00 C150.63 519.70 158.97 521.25 163.80 523.20 C168.63 525.15 172.30 527.40 177.00 530.70 C181.70 534.00 189.17 540.62 192.00 543.00 C194.83 545.38 193.67 544.67 194.00 545.00" fill="none" stroke="#ff2a10" stroke-width="4.2"/><path d="M148.00 569.80 C150.63 570.82 158.97 573.63 163.80 575.90 C168.63 578.17 172.30 580.12 177.00 583.40 C181.70 586.68 189.17 593.25 192.00 595.60 C194.83 597.95 193.67 597.18 194.00 597.50" fill="none" stroke="#5ef02a" stroke-width="4.2"/></g><clipPath id="lb4"><rect x="220.2" y="502.6" width="41.4" height="107.2"/></clipPath><g clip-path="url(#lb4)"><rect x="250.6" y="536.2" width="1" height="1" fill="#eee"/><rect x="241.6" y="551.4" width="1" height="1" fill="#eee"/><rect x="246.0" y="544.0" width="1" height="1" fill="#eee"/><rect x="243.8" y="544.7" width="1" height="1" fill="#eee"/><rect x="246.1" y="543.2" width="1" height="1" fill="#eee"/><rect x="255.5" y="523.1" width="1" height="1" fill="#eee"/><rect x="245.2" y="538.9" width="1" height="1" fill="#eee"/><rect x="243.9" y="543.7" width="1" height="1" fill="#eee"/><rect x="246.0" y="541.1" width="1" height="1" fill="#eee"/><rect x="236.3" y="564.9" width="1" height="1" fill="#eee"/><rect x="246.1" y="539.9" width="1" height="1" fill="#eee"/><rect x="245.8" y="544.1" width="1" height="1" fill="#eee"/><rect x="259.8" y="523.4" width="1" height="1" fill="#eee"/><rect x="255.4" y="527.7" width="1" height="1" fill="#eee"/><rect x="249.1" y="544.3" width="1" height="1" fill="#eee"/><rect x="238.9" y="561.7" width="1" height="1" fill="#eee"/><rect x="234.3" y="565.6" width="1" height="1" fill="#eee"/><rect x="239.2" y="556.8" width="1" height="1" fill="#eee"/><rect x="255.2" y="523.8" width="1" height="1" fill="#eee"/><rect x="258.5" y="516.3" width="1" height="1" fill="#eee"/><rect x="247.0" y="536.5" width="1" height="1" fill="#eee"/><rect x="236.9" y="560.8" width="1" height="1" fill="#eee"/><rect x="254.3" y="528.3" width="1" height="1" fill="#eee"/><rect x="254.2" y="525.6" width="1" height="1" fill="#eee"/><rect x="250.9" y="536.3" width="1" height="1" fill="#eee"/><rect x="249.4" y="540.6" width="1" height="1" fill="#eee"/><rect x="238.0" y="562.5" width="1" height="1" fill="#eee"/><rect x="245.6" y="544.2" width="1" height="1" fill="#eee"/><rect x="262.0" y="513.4" width="1" height="1" fill="#eee"/><rect x="254.9" y="523.9" width="1" height="1" fill="#eee"/><rect x="252.8" y="530.1" width="1" height="1" fill="#eee"/><rect x="240.9" y="557.4" width="1" height="1" fill="#eee"/><rect x="250.6" y="534.5" width="1" height="1" fill="#eee"/><rect x="231.2" y="564.1" width="1" height="1" fill="#eee"/><rect x="250.6" y="534.5" width="1" height="1" fill="#eee"/><rect x="257.5" y="517.4" width="1" height="1" fill="#eee"/><rect x="250.0" y="528.4" width="1" height="1" fill="#eee"/><rect x="241.7" y="547.0" width="1" height="1" fill="#eee"/><rect x="239.8" y="555.8" width="1" height="1" fill="#eee"/><rect x="239.4" y="556.0" width="1" height="1" fill="#eee"/><rect x="238.7" y="557.8" width="1" height="1" fill="#eee"/><rect x="235.7" y="560.2" width="1" height="1" fill="#eee"/><rect x="259.4" y="520.0" width="1" height="1" fill="#eee"/><rect x="238.7" y="554.2" width="1" height="1" fill="#eee"/><rect x="248.7" y="538.4" width="1" height="1" fill="#eee"/><path d="M219.00 566.50 C219.50 567.17 221.00 569.50 222.00 570.50 C223.00 571.50 224.00 572.38 225.00 572.50 C226.00 572.62 227.07 572.95 228.00 571.20 C228.93 569.45 229.38 565.62 230.60 562.00 C231.82 558.38 233.27 554.08 235.30 549.50 C237.33 544.92 239.98 539.50 242.80 534.50 C245.62 529.50 249.00 524.75 252.20 519.50 C255.40 514.25 260.37 505.75 262.00 503.00" fill="none" stroke="#ff2a10" stroke-width="3"/><path d="M219.00 601.50 C219.50 602.25 221.00 604.92 222.00 606.00 C223.00 607.08 224.00 607.78 225.00 608.00 C226.00 608.22 227.07 609.13 228.00 607.30 C228.93 605.47 229.07 601.62 230.60 597.00 C232.13 592.38 234.53 585.63 237.20 579.60 C239.87 573.57 242.47 567.82 246.60 560.80 C250.73 553.78 259.43 541.38 262.00 537.50" fill="none" stroke="#5ef02a" stroke-width="3"/></g><text x="26.8" y="604.5" font-size="18" fill="#e06a28" font-family="Liberation Sans, sans-serif">S<tspan font-size="12" dy="2.5">1</tspan></text><text x="82.0" y="604.5" font-size="18" fill="#e06a28" font-family="Liberation Sans, sans-serif">S<tspan font-size="12" dy="2.5">2</tspan></text><text x="151.0" y="604.5" font-size="18" fill="#e06a28" font-family="Liberation Sans, sans-serif">S<tspan font-size="12" dy="2.5">7</tspan></text><text x="242.0" y="604.5" font-size="18" fill="#e06a28" font-family="Liberation Sans, sans-serif">S<tspan font-size="12" dy="2.5">9</tspan></text><text x="155.4" y="632.5" font-size="17.5" fill="#111" text-anchor="middle" font-family="Liberation Sans, sans-serif">CD68-Positive Density</text><text x="319.5" y="363" font-size="20" font-weight="bold" fill="#000" font-family="Liberation Sans, sans-serif">f</text><path d="M384.3 500.0 L388.0 499.0 L391.0 504.0 L394.0 510.0 L398.0 516.0 L401.0 522.0 L403.0 530.0 L402.5 538.0 L401.5 546.0 L402.0 556.0 L399.0 566.0 L394.5 574.0 L391.0 579.5 L388.8 585.0 L387.3 590.0 L386.0 592.5 L384.3 592.5Z" fill="#000"/><circle cx="384.0" cy="500.0" r="2.6" fill="#000"/><circle cx="385.8" cy="499.5" r="2.6" fill="#000"/><circle cx="387.7" cy="499.0" r="2.6" fill="#000"/><circle cx="389.2" cy="501.5" r="2.6" fill="#000"/><circle cx="390.7" cy="504.0" r="2.6" fill="#000"/><circle cx="392.2" cy="507.0" r="2.6" fill="#000"/><circle cx="393.7" cy="510.0" r="2.6" fill="#000"/><circle cx="395.7" cy="513.0" r="2.6" fill="#000"/><circle cx="397.7" cy="516.0" r="2.6" fill="#000"/><circle cx="399.2" cy="519.0" r="2.6" fill="#000"/><circle cx="400.7" cy="522.0" r="2.6" fill="#000"/><circle cx="401.7" cy="526.0" r="2.6" fill="#000"/><circle cx="402.7" cy="530.0" r="2.6" fill="#000"/><circle cx="402.4" cy="534.0" r="2.6" fill="#000"/><circle cx="402.2" cy="538.0" r="2.6" fill="#000"/><circle cx="401.7" cy="542.0" r="2.6" fill="#000"/><circle cx="401.2" cy="546.0" r="2.6" fill="#000"/><circle cx="401.4" cy="551.0" r="2.6" fill="#000"/><circle cx="401.7" cy="556.0" r="2.6" fill="#000"/><circle cx="400.2" cy="561.0" r="2.6" fill="#000"/><circle cx="398.7" cy="566.0" r="2.6" fill="#000"/><circle cx="396.4" cy="570.0" r="2.6" fill="#000"/><circle cx="394.2" cy="574.0" r="2.6" fill="#000"/><circle cx="392.4" cy="576.8" r="2.6" fill="#000"/><circle cx="390.7" cy="579.5" r="2.6" fill="#000"/><circle cx="389.6" cy="582.2" r="2.6" fill="#000"/><circle cx="388.5" cy="585.0" r="2.6" fill="#000"/><circle cx="387.8" cy="587.5" r="2.6" fill="#000"/><circle cx="387.0" cy="590.0" r="2.6" fill="#000"/><circle cx="386.3" cy="591.2" r="2.6" fill="#000"/><circle cx="385.7" cy="592.5" r="2.6" fill="#000"/><circle cx="384.8" cy="592.5" r="2.6" fill="#000"/><circle cx="472.5" cy="423.6" r="2.55" fill="#000"/><circle cx="482.2" cy="424.2" r="2.55" fill="#000"/><circle cx="484.1" cy="433.0" r="2.55" fill="#000"/><circle cx="461.0" cy="442.2" r="2.55" fill="#000"/><circle cx="479.5" cy="450.5" r="2.55" fill="#000"/><circle cx="414.0" cy="454.9" r="2.55" fill="#000"/><circle cx="418.7" cy="460.7" r="2.55" fill="#000"/><circle cx="424.2" cy="460.4" r="2.55" fill="#000"/><circle cx="436.7" cy="462.8" r="2.55" fill="#000"/><circle cx="457.1" cy="464.0" r="2.55" fill="#000"/><circle cx="465.3" cy="459.2" r="2.55" fill="#000"/><circle cx="464.6" cy="462.3" r="2.55" fill="#000"/><circle cx="404.3" cy="467.0" r="2.55" fill="#000"/><circle cx="412.1" cy="465.9" r="2.55" fill="#000"/><circle cx="411.6" cy="473.7" r="2.55" fill="#000"/><circle cx="405.8" cy="476.7" r="2.55" fill="#000"/><circle cx="392.0" cy="477.2" r="2.55" fill="#000"/><circle cx="394.7" cy="477.2" r="2.55" fill="#000"/><circle cx="399.9" cy="480.0" r="2.55" fill="#000"/><circle cx="430.5" cy="478.0" r="2.55" fill="#000"/><circle cx="433.6" cy="478.0" r="2.55" fill="#000"/><circle cx="451.3" cy="478.0" r="2.55" fill="#000"/><circle cx="475.9" cy="480.0" r="2.55" fill="#000"/><circle cx="507.0" cy="423.9" r="2.55" fill="#000"/><circle cx="499.6" cy="434.4" r="2.55" fill="#000"/><circle cx="511.0" cy="442.2" r="2.55" fill="#000"/><circle cx="494.9" cy="447.4" r="2.55" fill="#000"/><circle cx="525.9" cy="449.3" r="2.55" fill="#000"/><circle cx="491.0" cy="455.2" r="2.55" fill="#000"/><circle cx="492.5" cy="458.4" r="2.55" fill="#000"/><circle cx="495.7" cy="460.0" r="2.55" fill="#000"/><circle cx="507.4" cy="453.4" r="2.55" fill="#000"/><circle cx="506.6" cy="456.0" r="2.55" fill="#000"/><circle cx="501.2" cy="461.5" r="2.55" fill="#000"/><circle cx="500.4" cy="463.9" r="2.55" fill="#000"/><circle cx="488.6" cy="465.9" r="2.55" fill="#000"/><circle cx="556.3" cy="450.1" r="2.55" fill="#000"/><circle cx="566.2" cy="439.1" r="2.55" fill="#000"/><circle cx="567.5" cy="469.7" r="2.55" fill="#000"/><circle cx="510.6" cy="475.9" r="2.55" fill="#000"/><circle cx="505.9" cy="478.0" r="2.55" fill="#000"/><circle cx="585.2" cy="451.8" r="2.55" fill="#000"/><circle cx="604.3" cy="453.2" r="2.55" fill="#000"/><circle cx="608.7" cy="443.0" r="2.55" fill="#000"/><circle cx="623.6" cy="443.5" r="2.55" fill="#000"/><circle cx="506.3" cy="479.9" r="2.55" fill="#000"/><circle cx="492.5" cy="483.8" r="2.55" fill="#000"/><circle cx="489.4" cy="486.5" r="2.55" fill="#000"/><circle cx="483.1" cy="490.1" r="2.55" fill="#000"/><circle cx="495.4" cy="489.9" r="2.55" fill="#000"/><circle cx="480.0" cy="495.9" r="2.55" fill="#000"/><circle cx="493.3" cy="500.9" r="2.55" fill="#000"/><circle cx="518.9" cy="502.1" r="2.55" fill="#000"/><circle cx="541.1" cy="497.0" r="2.55" fill="#000"/><circle cx="574.4" cy="498.5" r="2.55" fill="#000"/><circle cx="550.1" cy="515.3" r="2.55" fill="#000"/><circle cx="482.4" cy="508.4" r="2.55" fill="#000"/><circle cx="487.4" cy="523.3" r="2.55" fill="#000"/><circle cx="594.9" cy="485.4" r="2.55" fill="#000"/><circle cx="609.0" cy="500.0" r="2.55" fill="#000"/><circle cx="450.5" cy="521.8" r="2.55" fill="#000"/><circle cx="454.7" cy="521.0" r="2.55" fill="#000"/><circle cx="459.3" cy="527.0" r="2.55" fill="#000"/><circle cx="472.2" cy="521.8" r="2.55" fill="#000"/><circle cx="471.5" cy="527.7" r="2.55" fill="#000"/><circle cx="451.6" cy="538.2" r="2.55" fill="#000"/><circle cx="440.0" cy="526.3" r="2.55" fill="#000"/><circle cx="405.0" cy="481.3" r="2.55" fill="#000"/><circle cx="402.5" cy="487.6" r="2.55" fill="#000"/><circle cx="406.9" cy="486.9" r="2.55" fill="#000"/><circle cx="408.8" cy="490.7" r="2.55" fill="#000"/><circle cx="405.0" cy="496.3" r="2.55" fill="#000"/><circle cx="410.7" cy="496.3" r="2.55" fill="#000"/><circle cx="414.4" cy="496.1" r="2.55" fill="#000"/><circle cx="417.6" cy="484.4" r="2.55" fill="#000"/><circle cx="418.6" cy="486.3" r="2.55" fill="#000"/><circle cx="423.8" cy="483.8" r="2.55" fill="#000"/><circle cx="429.5" cy="483.8" r="2.55" fill="#000"/><circle cx="435.7" cy="484.8" r="2.55" fill="#000"/><circle cx="441.4" cy="489.4" r="2.55" fill="#000"/><circle cx="430.1" cy="492.6" r="2.55" fill="#000"/><circle cx="434.5" cy="494.5" r="2.55" fill="#000"/><circle cx="427.0" cy="499.5" r="2.55" fill="#000"/><circle cx="448.3" cy="482.5" r="2.55" fill="#000"/><circle cx="449.5" cy="485.0" r="2.55" fill="#000"/><circle cx="467.7" cy="484.4" r="2.55" fill="#000"/><circle cx="445.8" cy="498.6" r="2.55" fill="#000"/><circle cx="447.6" cy="502.6" r="2.55" fill="#000"/><circle cx="477.7" cy="495.7" r="2.55" fill="#000"/><circle cx="453.3" cy="507.0" r="2.55" fill="#000"/><circle cx="458.3" cy="509.9" r="2.55" fill="#000"/><circle cx="437.4" cy="508.2" r="2.55" fill="#000"/><circle cx="421.6" cy="509.9" r="2.55" fill="#000"/><circle cx="408.5" cy="507.4" r="2.55" fill="#000"/><circle cx="401.3" cy="505.1" r="2.55" fill="#000"/><circle cx="412.5" cy="515.8" r="2.55" fill="#000"/><circle cx="407.5" cy="513.9" r="2.55" fill="#000"/><circle cx="431.3" cy="520.2" r="2.55" fill="#000"/><circle cx="433.9" cy="518.9" r="2.55" fill="#000"/><circle cx="433.2" cy="523.9" r="2.55" fill="#000"/><circle cx="437.6" cy="525.8" r="2.55" fill="#000"/><circle cx="430.1" cy="522.7" r="2.55" fill="#000"/><circle cx="410.0" cy="522.0" r="2.55" fill="#000"/><circle cx="409.4" cy="523.9" r="2.55" fill="#000"/><circle cx="401.3" cy="522.7" r="2.55" fill="#000"/><circle cx="470.2" cy="514.5" r="2.55" fill="#000"/><circle cx="419.4" cy="534.0" r="2.55" fill="#000"/><circle cx="418.8" cy="537.1" r="2.55" fill="#000"/><circle cx="407.5" cy="530.2" r="2.55" fill="#000"/><circle cx="402.5" cy="531.4" r="2.55" fill="#000"/><circle cx="405.6" cy="542.1" r="2.55" fill="#000"/><circle cx="412.5" cy="547.7" r="2.55" fill="#000"/><circle cx="415.7" cy="547.7" r="2.55" fill="#000"/><circle cx="420.7" cy="549.0" r="2.55" fill="#000"/><circle cx="386.6" cy="480.0" r="2.55" fill="#000"/><circle cx="399.3" cy="481.4" r="2.55" fill="#000"/><circle cx="397.4" cy="484.2" r="2.55" fill="#000"/><circle cx="386.6" cy="489.0" r="2.55" fill="#000"/><circle cx="391.8" cy="490.8" r="2.55" fill="#000"/><circle cx="395.5" cy="493.6" r="2.55" fill="#000"/><circle cx="398.8" cy="492.7" r="2.55" fill="#000"/><circle cx="401.6" cy="496.5" r="2.55" fill="#000"/><circle cx="405.4" cy="498.4" r="2.55" fill="#000"/><circle cx="405.8" cy="540.4" r="2.55" fill="#000"/><circle cx="403.0" cy="548.1" r="2.55" fill="#000"/><circle cx="406.9" cy="554.7" r="2.55" fill="#000"/><circle cx="404.7" cy="556.9" r="2.55" fill="#000"/><circle cx="415.1" cy="557.4" r="2.55" fill="#000"/><circle cx="410.2" cy="560.2" r="2.55" fill="#000"/><circle cx="406.9" cy="561.8" r="2.55" fill="#000"/><circle cx="403.6" cy="567.3" r="2.55" fill="#000"/><circle cx="392.1" cy="579.3" r="2.55" fill="#000"/><circle cx="408.5" cy="556.0" r="2.55" fill="#000"/><circle cx="386.6" cy="478.0" r="2.55" fill="#000"/><circle cx="386.6" cy="482.5" r="2.55" fill="#000"/><circle cx="386.8" cy="487.0" r="2.55" fill="#000"/><circle cx="386.6" cy="491.5" r="2.55" fill="#000"/><circle cx="387.0" cy="495.5" r="2.55" fill="#000"/><circle cx="397.2" cy="500.3" r="2.55" fill="#000"/><circle cx="400.4" cy="503.5" r="2.55" fill="#000"/><circle cx="402.0" cy="509.0" r="2.55" fill="#000"/><circle cx="398.8" cy="513.7" r="2.55" fill="#000"/><circle cx="390.0" cy="485.0" r="2.55" fill="#000"/><circle cx="389.5" cy="496.0" r="2.55" fill="#000"/><circle cx="393.0" cy="499.0" r="2.55" fill="#000"/><circle cx="396.0" cy="506.0" r="2.55" fill="#000"/><line x1="394" y1="540.5" x2="668.6" y2="381.4" stroke="#000" stroke-width="1.5"/><rect x="386.6" y="371.75" width="282.0" height="222.95" fill="none" stroke="#000" stroke-width="1.5"/><line x1="386.6" y1="594.7" x2="386.6" y2="591.7" stroke="#000" stroke-width="1"/><line x1="386.6" y1="371.8" x2="386.6" y2="374.8" stroke="#000" stroke-width="1"/><text x="386.6" y="612" font-size="17.5" fill="#111" text-anchor="middle" font-family="Liberation Sans, sans-serif">0</text><line x1="443.0" y1="594.7" x2="443.0" y2="591.7" stroke="#000" stroke-width="1"/><line x1="443.0" y1="371.8" x2="443.0" y2="374.8" stroke="#000" stroke-width="1"/><text x="443.0" y="612" font-size="17.5" fill="#111" text-anchor="middle" font-family="Liberation Sans, sans-serif">5</text><line x1="499.4" y1="594.7" x2="499.4" y2="591.7" stroke="#000" stroke-width="1"/><line x1="499.4" y1="371.8" x2="499.4" y2="374.8" stroke="#000" stroke-width="1"/><text x="499.4" y="612" font-size="17.5" fill="#111" text-anchor="middle" font-family="Liberation Sans, sans-serif">10</text><line x1="555.8" y1="594.7" x2="555.8" y2="591.7" stroke="#000" stroke-width="1"/><line x1="555.8" y1="371.8" x2="555.8" y2="374.8" stroke="#000" stroke-width="1"/><text x="555.8" y="612" font-size="17.5" fill="#111" text-anchor="middle" font-family="Liberation Sans, sans-serif">15</text><line x1="612.2" y1="594.7" x2="612.2" y2="591.7" stroke="#000" stroke-width="1"/><line x1="612.2" y1="371.8" x2="612.2" y2="374.8" stroke="#000" stroke-width="1"/><text x="612.2" y="612" font-size="17.5" fill="#111" text-anchor="middle" font-family="Liberation Sans, sans-serif">20</text><line x1="668.6" y1="594.7" x2="668.6" y2="591.7" stroke="#000" stroke-width="1"/><line x1="668.6" y1="371.8" x2="668.6" y2="374.8" stroke="#000" stroke-width="1"/><text x="668.6" y="612" font-size="17.5" fill="#111" text-anchor="middle" font-family="Liberation Sans, sans-serif">25</text><line x1="383.6" y1="594.7" x2="389.6" y2="594.7" stroke="#000" stroke-width="1"/><line x1="665.6" y1="594.7" x2="668.6" y2="594.7" stroke="#000" stroke-width="1"/><line x1="665.6" y1="566.8" x2="668.6" y2="566.8" stroke="#000" stroke-width="1"/><line x1="383.6" y1="539.0" x2="389.6" y2="539.0" stroke="#000" stroke-width="1"/><line x1="665.6" y1="539.0" x2="668.6" y2="539.0" stroke="#000" stroke-width="1"/><line x1="665.6" y1="511.1" x2="668.6" y2="511.1" stroke="#000" stroke-width="1"/><line x1="383.6" y1="483.2" x2="389.6" y2="483.2" stroke="#000" stroke-width="1"/><line x1="665.6" y1="483.2" x2="668.6" y2="483.2" stroke="#000" stroke-width="1"/><line x1="665.6" y1="455.4" x2="668.6" y2="455.4" stroke="#000" stroke-width="1"/><line x1="383.6" y1="427.5" x2="389.6" y2="427.5" stroke="#000" stroke-width="1"/><line x1="665.6" y1="427.5" x2="668.6" y2="427.5" stroke="#000" stroke-width="1"/><line x1="665.6" y1="399.6" x2="668.6" y2="399.6" stroke="#000" stroke-width="1"/><line x1="383.6" y1="371.8" x2="389.6" y2="371.8" stroke="#000" stroke-width="1"/><line x1="665.6" y1="371.8" x2="668.6" y2="371.8" stroke="#000" stroke-width="1"/><text x="382" y="600.9" font-size="17.5" fill="#111" text-anchor="end" font-family="Liberation Sans, sans-serif">0</text><text x="382" y="545.2" font-size="17.5" fill="#111" text-anchor="end" font-family="Liberation Sans, sans-serif">2.1</text><text x="382" y="489.4" font-size="17.5" fill="#111" text-anchor="end" font-family="Liberation Sans, sans-serif">4.3</text><text x="382" y="433.7" font-size="17.5" fill="#111" text-anchor="end" font-family="Liberation Sans, sans-serif">6.5</text><text x="382" y="377.9" font-size="17.5" fill="#111" text-anchor="end" font-family="Liberation Sans, sans-serif">8.6</text><text x="525.5" y="422.5" font-size="17.5" fill="#111" font-family="Liberation Sans, sans-serif">r=0.668</text><text x="537.7" y="630" font-size="17.8" fill="#111" text-anchor="middle" font-family="Liberation Sans, sans-serif">CD68-positve Density [%]</text><text transform="translate(342.5,477) rotate(-90)" font-size="17.5" fill="#111" text-anchor="middle" font-family="Liberation Sans, sans-serif">ICG concentration [µM]</text></svg></body></html>
